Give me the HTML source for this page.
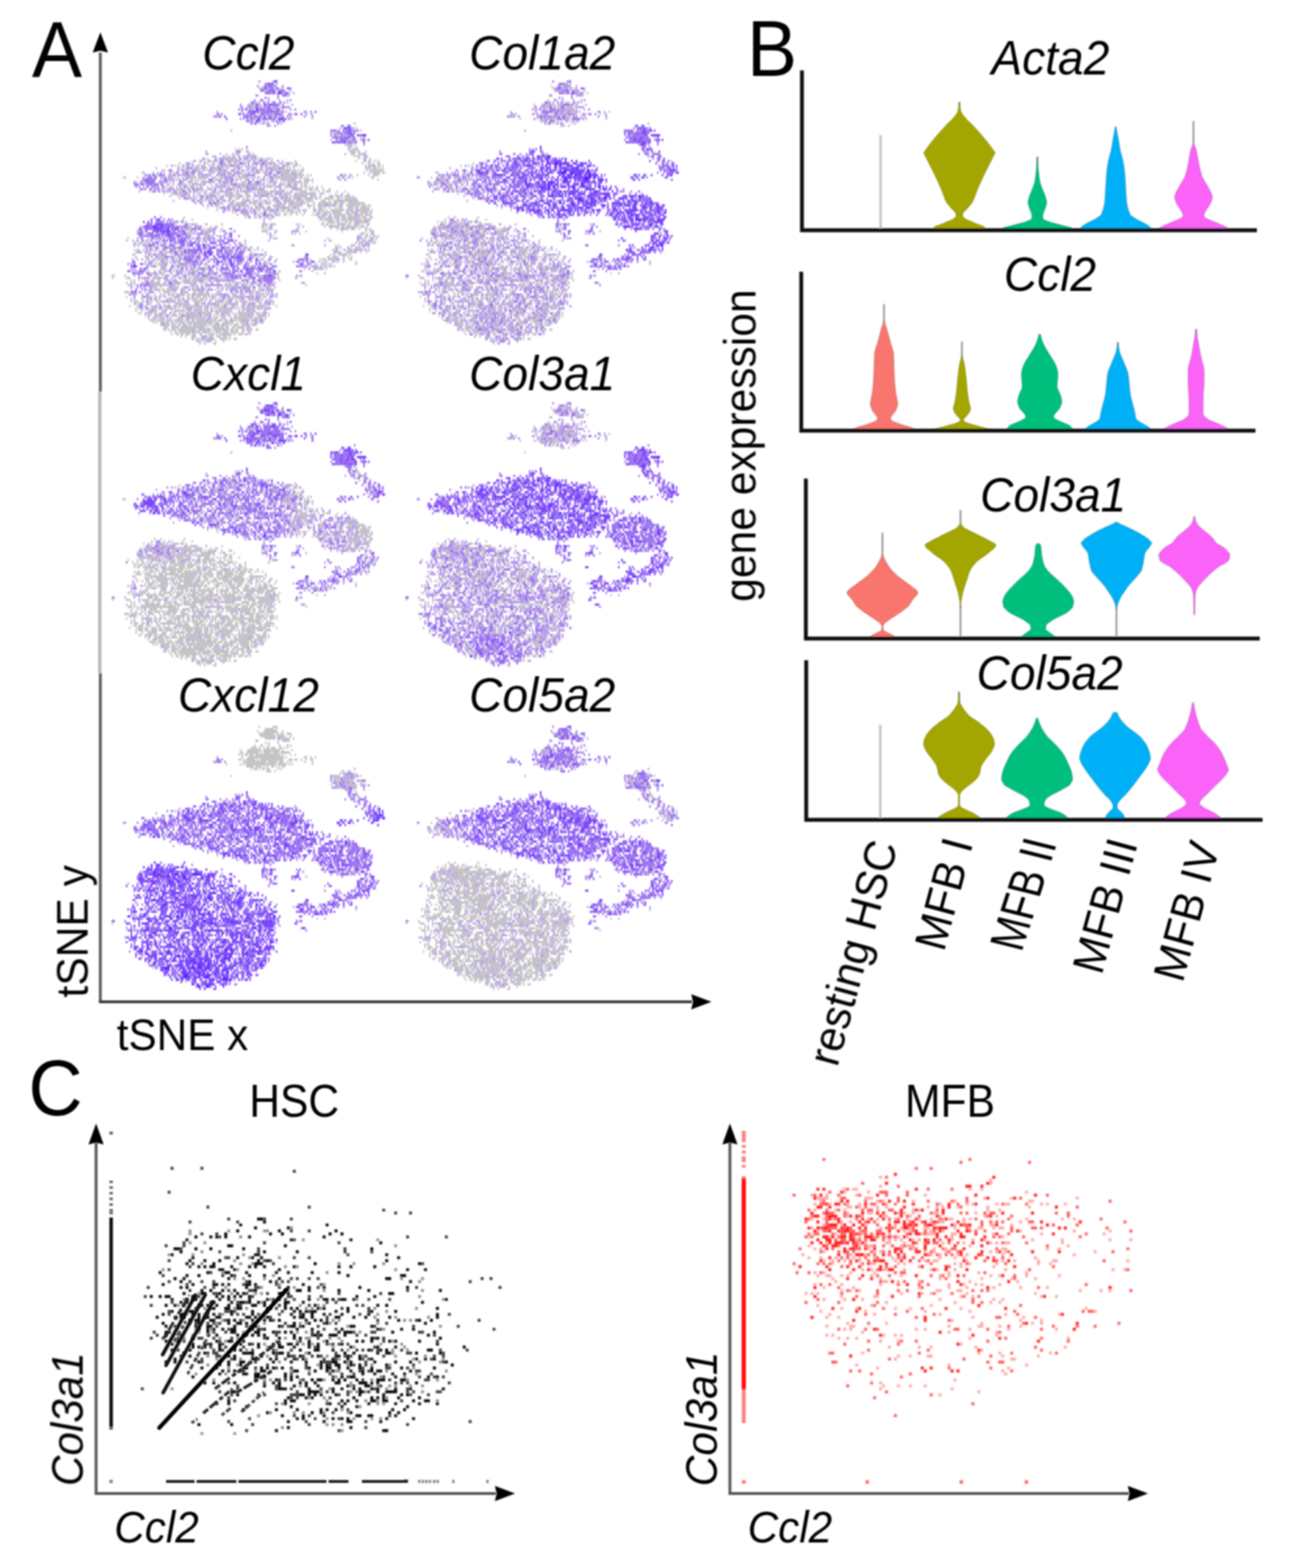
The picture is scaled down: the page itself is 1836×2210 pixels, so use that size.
<!DOCTYPE html>
<html lang="en">
<head>
<meta charset="utf-8">
<title>Figure: tSNE, violin and scatter plots</title>
<style>
html,body{margin:0;padding:0;background:#fff}
body{width:1836px;height:2210px;overflow:hidden}
svg{display:block}
text{font-family:'Liberation Sans', sans-serif;fill:#000}
.pts path{fill:none;stroke-width:1;stroke-linecap:butt}
</style>
</head>
<body>
<svg width="1836" height="2210" viewBox="0 0 1836 2210">
<defs><filter id="b1" x="-5%" y="-5%" width="110%" height="110%"><feGaussianBlur stdDeviation="1.3"/></filter><filter id="b3" x="-5%" y="-5%" width="110%" height="110%"><feGaussianBlur stdDeviation="1.1"/></filter><filter id="b2" x="-5%" y="-5%" width="110%" height="110%"><feGaussianBlur stdDeviation="0.9"/></filter></defs>
<rect width="1836" height="2210" fill="#fff"/>
<g id="panelA">
<g class="pts" filter="url(#b1)">
<g transform="translate(141.1 90) scale(2.2 3.3)">
<path stroke="#c4c4c4" d="M8 90v2M9 90v1M15 48v1M16 48v1m0 48v1M17 91v1m0 1v1m0 3v1m0 1v1M18 74v1m0 19v1M19 91v1m0 2v1m0 8v1M20 92v1m0 3v1m0 1v1m0 2v1M21 81v1M22 79v1m0 1v1m0 10v1m0 1v1m0 6v2M23 50v1m0 25v1m0 3v1m0 20v1m0 2v2M24 48v1m0 28v1m0 23v1m0 1v1M25 76v2m0 1v2m0 11v1m0 9v1m0 1v1m0 1v1M26 76v1m0 29v1M27 46v1m0 54v1m0 3v1M28 50v1m0 2v1m0 18v1m0 18v1m0 9v1M29 77v2m0 2v2m0 5v1m0 8v1m0 6v1m0 2v1M30 47v1m0 29v1m0 5v1m0 7v2m0 10v1m0 2v1M31 80v1m0 1v1m0 1v1m0 3v1m0 3v1m0 4v1m0 1v2m0 1v1m0 2v1M32 75v2m0 16v1m0 2v1m0 9v2m0 1v1M33 78v2m0 1v1m0 7v1m0 9v1m0 3v1m0 5v1M34 79v1m0 1v1m0 2v1m0 4v1m0 1v1m0 1v1m0 1v1m0 7v1m0 5v2M35 74v1m0 3v1m0 1v1m0 4v1m0 4v1m0 2v4m0 1v2m0 3v7M36 47v1m0 4v2m0 30v1m0 1v1m0 3v2m0 1v3m0 3v1m0 1v1m0 3v2M37 47v1m0 6v1m0 26v1m0 3v1m0 4v3m0 8v2m0 4v1M38 79v1m0 2v2m0 1v1m0 6v3m0 1v2m0 4v1m0 3v1m0 1v2M39 76v1m0 4v3m0 1v1m0 1v3m0 1v1m0 2v2m0 3v1m0 1v1m0 4v1m0 1v3M40 54v1m0 23v1m0 1v1m0 1v1m0 2v2m0 2v2m0 5v1m0 7v1m0 2v3M41 45v2m0 1v1m0 6v1m0 11v1m0 15v2m0 4v1m0 4v1m0 1v2m0 3v3m0 1v2m0 2v2m0 1v1M42 79v1m0 3v2m0 2v2m0 4v2m0 2v1m0 1v1m0 6v1m0 3v4M43 43v1m0 7v2m0 21v1m0 5v1m0 3v1m0 3v1m0 8v1m0 5v2m0 5v2M44 49v1m0 4v1m0 22v1m0 2v1m0 9v1m0 1v1m0 1v4m0 2v1m0 1v1m0 1v1m0 2v1m0 1v2m0 2v1M45 47v2m0 3v1m0 29v1m0 6v1m0 6v2m0 1v3m0 1v2m0 4v1m0 4v1M46 47v1m0 1v1m0 2v1m0 2v1m0 22v1m0 2v1m0 7v1m0 15v1m0 1v1m0 1v1m0 1v3m0 1v1M47 46v1m0 8v1m0 24v1m0 1v1m0 5v1m0 6v1m0 1v3m0 3v1m0 2v1m0 3v4M48 43v1m0 4v1m0 18v2m0 8v1m0 4v1m0 4v1m0 3v2m0 1v1m0 2v1m0 2v1m0 1v1m0 3v2m0 3v1m0 1v2M49 52v2m0 24v1m0 5v1m0 1v1m0 3v1m0 2v1m0 1v1m0 2v1m0 4v1m0 1v1m0 1v1m0 1v1m0 2v1m0 1v2M50 43v1m0 4v1m0 4v1m0 1v2m0 10v1m0 11v2m0 3v2m0 2v1m0 6v1m0 4v1m0 1v1m0 1v2m0 2v1m0 2v3m0 1v1M51 42v1m0 1v1m0 2v1m0 5v1m0 1v1m0 1v1m0 16v1m0 2v1m0 3v1m0 4v1m0 2v1m0 3v1m0 4v4m0 3v1m0 1v3m0 3v2M52 45v1m0 1v1m0 3v2m0 1v2m0 27v1m0 2v1m0 6v1m0 7v2m0 2v1m0 2v1m0 1v1m0 1v5M53 48v1m0 6v1m0 24v1m0 2v1m0 8v1m0 2v1m0 1v1m0 1v1m0 2v5m0 1v4m0 1v3M54 43v1m0 1v2m0 4v1m0 1v1m0 11v1m0 2v1m0 1v1m0 10v1m0 2v1m0 1v1m0 2v1m0 2v1m0 3v3m0 1v1m0 1v2m0 1v1m0 4v5M55 42v1m0 1v2m0 5v1m0 4v1m0 10v1m0 3v1m0 6v1m0 2v1m0 10v2m0 8v1m0 3v4m0 3v4M56 45v1m0 3v1m0 2v2m0 18v1m0 12v2m0 2v1m0 7v4m0 2v3m0 4v1m0 1v3M57 43v1m0 2v1m0 4v1m0 3v1m0 1v1m0 12v3m0 2v1m0 15v1m0 1v1m0 1v1m0 2v2m0 2v2m0 1v2m0 2v2m0 1v4M58 46v2m0 1v2m0 17v3m0 14v1m0 5v1m0 11v1m0 2v3m0 2v4M59 47v2m0 1v1m0 6v1m0 8v1m0 1v1m0 5v1m0 15v1m0 1v3m0 1v1m0 6v1m0 5v2m0 1v4M60 43v1m0 4v1m0 3v1m0 4v1m0 29v2m0 1v1m0 1v2m0 1v3m0 1v3m0 1v1m0 1v4m0 1v1m0 1v1m0 2v3M61 46v1m0 2v3m0 1v1m0 14v1m0 18v2m0 1v3m0 1v1m0 1v1m0 1v1m0 1v2m0 1v1m0 2v3m0 1v7M62 43v2m0 5v1m0 1v1m0 1v1m0 3v1m0 9v1m0 1v1m0 4v1m0 20v1m0 1v1m0 1v2m0 1v4m0 1v4m0 2v1m0 2v2M63 45v1m0 2v1m0 2v1m0 2v1m0 30v2m0 1v1m0 2v1m0 3v1m0 1v3m0 1v1m0 2v1m0 2v3m0 1v4m0 3v1M64 42v1m0 2v1m0 1v1m0 4v1m0 2v1m0 1v2m0 14v1m0 12v1m0 6v1m0 3v1m0 1v3m0 1v3m0 2v4m0 1v2m0 4v1M65 43v1m0 3v5m0 1v1m0 15v2m0 17v1m0 2v1m0 1v2m0 1v1m0 1v1m0 1v5m0 1v1m0 1v5m0 2v2M66 51v1m0 1v1m0 3v1m0 13v1m0 3v1m0 8v1m0 7v2m0 3v1m0 1v1m0 8v6m0 4v1M67 40v2m0 1v1m0 1v1m0 1v1m0 7v1m0 14v1m0 1v1m0 12v2m0 4v2m0 1v1m0 1v1m0 1v2m0 3v1m0 1v2m0 2v5m0 3v1M68 44v1m0 3v1m0 1v1m0 3v2m0 15v1m0 1v2m0 2v1m0 9v1m0 1v1m0 1v1m0 5v3m0 4v4m0 2v2m0 1v3M69 40v3m0 4v2m0 3v1m0 5v1m0 2v1m0 8v1m0 1v2m0 13v1m0 2v3m0 12v3m0 2v1m0 1v3m0 2v2M70 45v1m0 7v1m0 1v4m0 11v1m0 1v1m0 18v1m0 6v1m0 10v3m0 2v1m0 1v1M71 41v1m0 4v2m0 3v1m0 5v1m0 11v1m0 4v1m0 14v2m0 9v3m0 1v1m0 1v2m0 1v3m0 1v1m0 1v2m0 1v1M72 39v1m0 5v1m0 4v1m0 4v1m0 1v3m0 10v2m0 11v1m0 3v1m0 2v1m0 13v1m0 4v1m0 2v1m0 1v3M73 39v1m0 2v3m0 1v1m0 1v1m0 4v1m0 4v1m0 40v1m0 3v1m0 3v3m0 2v2m0 1v1m0 1v1m0 1v1M74 44v2m0 2v1m0 2v1m0 30v1m0 9v1m0 3v1m0 2v3m0 1v4m0 1v5m0 1v1m0 3v2M75 43v3m0 3v1m0 2v1m0 2v1m0 1v1m0 1v4m0 6v1m0 18v1m0 4v1m0 1v1m0 1v2m0 2v3m0 1v1m0 1v2m0 1v1m0 1v3m0 1v1M76 40v1m0 1v2m0 3v1m0 2v1m0 3v3m0 2v2m0 30v1m0 4v2m0 3v1m0 3v2m0 2v2m0 1v3m0 1v1M77 43v1m0 4v1m0 2v4m0 4v1m0 11v1m0 27v1m0 4v1m0 2v1m0 4v4m0 1v1M78 44v1m0 1v1m0 1v2m0 8v1m0 33v1m0 2v1m0 3v1m0 2v4m0 2v2m0 2v2m0 1v1M79 43v3m0 2v1m0 2v2m0 1v1m0 2v2m0 1v1m0 29v1m0 4v1m0 5v1m0 1v3m0 1v2m0 1v1m0 1v1m0 1v5M80 39v2m0 2v1m0 2v1m0 7v2m0 36v1m0 7v1m0 4v3m0 1v3m0 1v5M81 38v1m0 2v1m0 2v3m0 4v1m0 27v1m0 3v1m0 9v3m0 3v1m0 1v4m0 5v2m0 1v2m0 1v2M82 39v2m0 1v1m0 8v1m0 3v2m0 1v1m0 20v1m0 4v1m0 1v1m0 7v1m0 5v3m0 2v3m0 2v6M83 39v2m0 1v1m0 4v1m0 1v2m0 1v1m0 1v3m0 2v1m0 2v1m0 15v1m0 12v1m0 3v2m0 7v1m0 1v2m0 1v2m0 4v3M84 41v2m0 2v3m0 6v1m0 2v1m0 2v1m0 33v2m0 6v2m0 1v1m0 4v2m0 2v2M85 39v1m0 1v1m0 8v1m0 1v2m0 1v2m0 3v1m0 2v1m0 16v1m0 16v4m0 1v1m0 1v1m0 1v1m0 2v2m0 1v3M86 40v2m0 1v2m0 7v3m0 3v1m0 1v1m0 1v1m0 31v1m0 12v3m0 1v1m0 2v1m0 2v1M87 36v2m0 5v1m0 4v1m0 1v1m0 4v1m0 1v1m0 1v3m0 1v1m0 34v4m0 4v1m0 1v2m0 1v1m0 1v2M88 38v1m0 5v1m0 2v1m0 1v1m0 2v1m0 2v1m0 1v1m0 35v1m0 1v2m0 4v3m0 4v1m0 1v5M89 36v1m0 1v1m0 1v2m0 3v1m0 5v1m0 3v3m0 1v1m0 17v1m0 13v1m0 1v1m0 5v2m0 3v1m0 2v3m0 2v1m0 2v1M90 37v1m0 3v1m0 6v1m0 2v2m0 6v5m0 12v1m0 16v1m0 6v2m0 4v5m0 1v1m0 2v1M91 46v3m0 1v1m0 1v1m0 1v1m0 1v1m0 1v1m0 20v1m0 15v1m0 2v1m0 2v2m0 1v5m0 1v2m0 1v3M92 40v1m0 1v1m0 4v2m0 1v1m0 1v3m0 3v1m0 1v1m0 3v1m0 17v1m0 13v1m0 2v1m0 5v4m0 1v5M93 39v1m0 6v1m0 2v4m0 2v1m0 2v1m0 1v2m0 3v1m0 10v1m0 1v1m0 15v1m0 6v1m0 2v1m0 1v3m0 1v2m0 3v1M94 36v1m0 4v1m0 3v1m0 2v2m0 1v1m0 2v2m0 1v1m0 6v1m0 17v1m0 7v1m0 3v1m0 4v1m0 1v1m0 1v2m0 1v4m0 2v1M95 37v1m0 2v2m0 2v2m0 2v1m0 6v4m0 1v1m0 32v1m0 3v1m0 2v1m0 5v1m0 1v1m0 1v1m0 2v1M96 23v1m0 15v1m0 6v1m0 5v1m0 1v1m0 7v1m0 15v1m0 15v1m0 3v2m0 1v1m0 1v2m0 1v1m0 1v1m0 3v4M97 19v1m0 23v1m0 7v1m0 7v1m0 2v1m0 18v1m0 2v1m0 9v1m0 2v1m0 1v1m0 3v1m0 1v1m0 1v1m0 1v3M98 18v1m0 3v1m0 16v3m0 1v1m0 2v1m0 10v2m0 3v1m0 18v1m0 14v1m0 1v1m0 1v1m0 4v1m0 1v1m0 3v1M99 16v2m0 22v1m0 5v1m0 3v3m0 1v1m0 3v3m0 4v1m0 13v1m0 16v1m0 3v1m0 2v2m0 3v2M100 23v1m0 15v1m0 4v1m0 1v1m0 6v1m0 5v2m0 4v1m0 27v1m0 9v1m0 2v1m0 1v1m0 1v2m0 1v1M101 21v1m0 19v1m0 3v1m0 3v1m0 3v1m0 2v1m0 1v1m0 2v2m0 1v1m0 14v1m0 1v1m0 15v2m0 2v1m0 1v1m0 2v3m0 4v1M102 10v1m0 6v1m0 7v1m0 14v1m0 1v1m0 3v1m0 1v1m0 2v6m0 4v2m0 19v1m0 7v1m0 4v1m0 5v4m0 1v3M103 17v1m0 5v1m0 16v1m0 1v1m0 2v1m0 3v2m0 1v1m0 1v1m0 2v1m0 1v3m0 1v1m0 19v1m0 6v1m0 3v1m0 1v1m0 1v2m0 1v1m0 1v1M104 22v1m0 21v1m0 6v1m0 2v2m0 3v3m0 6v1m0 1v2m0 7v1m0 10v1m0 1v2m0 3v2m0 5v1m0 2v3M105 41v1m0 8v1m0 2v1m0 1v2m0 8v1m0 3v1m0 1v1m0 12v1m0 13v2m0 2v2m0 1v2m0 2v1M106 40v1m0 1v1m0 1v3m0 7v1m0 3v1m0 3v1m0 2v1m0 2v1m0 1v2m0 25v1m0 1v1m0 2v2m0 3v1M107 24v1m0 1v1m0 14v3m0 3v1m0 6v1m0 3v1m0 2v2m0 5v2m0 1v2m0 12v1m0 3v1m0 10v1M108 10v1m0 35v1m0 1v1m0 1v1m0 1v1m0 3v1m0 2v2m0 1v1m0 7v1m0 25v1m0 4v1m0 1v1m0 2v2M109 21v1m0 4v1m0 16v1m0 5v1m0 1v2m0 1v2m0 2v2m0 2v1m0 1v1m0 3v1m0 26v1m0 2v1M110 16v1m0 7v1m0 15v1m0 9v1m0 4v1m0 14v1m0 2v1m0 8v1m0 2v1m0 3v1m0 4v1m0 4v1m0 1v1M111 21v2m0 19v2m0 1v1m0 2v1m0 1v1m0 3v1m0 2v2m0 4v1m0 4v1m0 5v1m0 12v1m0 4v1m0 3v1m0 4v1M112 19v1m0 24v1m0 3v1m0 3v1m0 2v1m0 2v1m0 1v3m0 1v1m0 6v2m0 1v1M113 9v1m0 33v3m0 1v4m0 1v1m0 1v1m0 5v2m0 27v1m0 13v1M114 44v1m0 2v1m0 9v1m0 1v1m0 4v1m0 24v2M115 20v1m0 21v1m0 2v1m0 7v3m0 2v1m0 1v2m0 1v2m0 27v1M116 10v1m0 7v1m0 3v1m0 19v1m0 2v2m0 1v3m0 1v1m0 3v1m0 3v3M117 21v1m0 20v1m0 2v2m0 2v1m0 1v1m0 8v1m0 1v1M118 44v5m0 1v1m0 2v2m0 1v2m0 4v3M119 42v2m0 1v3m0 1v1m0 5v1m0 2v2m0 4v1M120 13v1m0 29v2m0 2v6m0 1v1m0 1v2m0 3v3M121 43v1m0 2v3m0 1v1m0 1v1m0 2v1m0 1v1m0 1v2M122 42v1m0 1v2m0 3v2m0 3v2m0 1v2m0 1v1m0 1v3M123 21v1m0 20v1m0 4v2m0 1v1m0 2v2m0 3v1m0 1v2m0 1v1M124 43v2m0 1v1m0 1v1m0 1v3m0 3v5m0 2v1M125 41v3m0 1v2m0 2v2m0 6v1m0 1v2m0 1v1m0 9v1m0 18v1M126 43v1m0 2v2m0 2v3m0 1v3m0 1v4m0 2v1M127 45v1m0 1v1m0 7v1m0 3v3m0 8v2M128 43v1m0 3v4m0 2v4m0 1v3m0 1v2m0 4v1m0 3v1M129 45v3m0 2v1m0 2v2m0 1v3m0 34v1M130 44v1m0 2v1m0 6v2m0 3v1m0 2v1m0 1v1M131 48v5m0 1v4m0 1v1m0 2v1m0 19v1m0 10v1M132 49v7m0 1v2m0 3v1m0 8v1m0 22v1M133 47v2m0 6v1m0 2v2m0 26v1M134 49v1m0 2v2m0 3v2m0 1v2M135 21v1m0 25v1m0 6v2m0 2v1m0 1v1m0 22v1m0 2v1M136 21v1m0 1v1m0 26v1m0 1v2m0 2v3m0 5v1m0 21v1M137 54v3m0 3v1m0 2v1m0 23v1M138 53v1m0 1v1m0 1v1m0 6v1m0 21v1M139 52v1m0 4v1m0 5v2m0 22v1m0 1v1M140 54v1m0 4v1m0 1v2m0 21v1m0 2v1M141 55v1m0 1v1m0 1v3m0 1v1m0 1v1m0 17v1m0 2v1M142 52v1m0 2v1m0 2v3m0 1v1m0 1v1m0 1v1m0 1v1m0 15v3M143 53v3m0 2v3m0 1v2m0 1v1m0 1v2m0 16v1m0 1v1M144 57v3m0 1v1m0 1v3m0 3v1m0 13v3M145 54v1m0 2v1m0 4v3m0 1v1m0 1v1m0 15v1m0 1v2M146 54v1m0 2v1m0 1v1m0 3v1m0 1v4m0 5v1m0 7v2M147 56v6m0 1v2m0 2v1m0 14v2M148 32v1m0 24v1m0 1v2m0 1v1m0 1v1m0 1v2m0 2v1m0 4v1m0 5v1m0 4v1M149 56v2m0 4v2m0 2v2m0 1v1m0 9v1m0 2v3M150 58v1m0 3v1m0 1v2m0 1v3m0 9v1m0 2v2M151 29v1m0 25v2m0 1v9m0 2v1m0 7v1m0 1v2m0 2v1M152 28v1m0 25v1m0 1v4m0 2v1m0 1v3m0 1v1m0 13v1M153 30v1m0 1v1m0 23v1m0 1v1m0 1v10m0 7v1m0 2v2M154 49v1m0 6v1m0 4v3m0 4v1m0 1v1m0 10v1M155 48v1m0 7v2m0 1v4m0 1v6m0 1v1m0 9v1M156 26v1m0 2v1m0 28v2m0 2v1m0 1v3m0 12v1m0 4v1M157 34v1m0 19v1m0 1v3m0 5v5m0 1v1M158 33v2m0 21v3m0 1v1m0 1v1m0 3v2m0 2v1m0 9v2M159 34v1m0 1v1m0 19v7m0 2v2m0 1v3m0 9v1m0 1v1M160 35v3m0 10v1m0 7v2m0 1v2m0 1v1m0 1v1m0 1v4m0 9v3m0 1v1M161 31v2m0 2v1m0 1v2m0 8v1m0 9v1m0 1v1m0 1v2m0 1v4m0 1v1m0 7v2m0 1v1m0 1v2M162 37v2m0 9v1m0 7v1m0 1v1m0 1v4m0 1v2m0 2v1m0 10v1M163 34v1m0 1v4m0 17v4m0 2v1m0 3v4m0 6v1m0 2v1M164 27v2m0 3v1m0 2v2m0 4v1m0 15v1m0 1v2m0 4v2m0 2v1m0 9v1m0 4v1M165 36v2m0 9v1m0 10v4m0 1v4m0 1v2m0 8v2M166 37v1m0 1v2m0 18v2m0 1v1m0 1v1m0 1v3m0 1v1m0 2v1m0 1v2m0 1v1M167 28v1m0 3v1m0 5v1m0 20v1m0 1v4m0 1v1m0 5v1m0 1v1m0 1v1m0 1v3M168 38v1m0 3v1m0 16v7m0 1v3m0 4v1m0 4v1M169 39v3m0 4v1m0 12v2m0 1v2m0 1v3m0 1v1m0 2v1m0 2v1M170 32v1m0 4v2m0 5v1m0 15v5m0 1v1m0 3v2m0 1v1m0 1v1M171 44v2m0 15v2m0 1v1m0 1v1m0 1v3m0 1v1m0 4v1m0 2v1M172 41v2m0 1v1m0 2v1m0 12v2m0 2v1m0 1v2m0 10v1M173 40v6m0 14v1m0 2v4m0 4v1m0 1v4M174 43v1m0 1v1m0 2v1m0 13v2m0 7v1M175 42v1m0 1v4m0 23v1m0 1v2M176 41v1m0 2v4m0 25v1m0 1v2M177 44v4M178 41v3m0 1v3m0 1v1M179 42v5M180 45v1M181 43v4M182 46v1"/>
<path stroke="#baa3e4" d="M16 90v1M17 75v1M18 91v1m0 5v1M20 93v2m0 5v1M21 75v1m0 7v1m0 14v1M22 76v1m0 13v1m0 2v1m0 4v1m0 1v1M23 82v1m0 6v1m0 8v1m0 3v1M24 71v2m0 1v1m0 4v2m0 2v1M25 54v1m0 16v1m0 1v1m0 23v1m0 5v1M26 69v1m0 4v1m0 14v1m0 7v1m0 6v1M27 49v2m0 19v1m0 5v1m0 6v1m0 10v1m0 3v3m0 1v1m0 1v1M28 46v1m0 5v1m0 20v1m0 1v1m0 3v1m0 15v1M29 76v1m0 3v1m0 3v2m0 6v2m0 1v1m0 3v1m0 3v1m0 2v1M30 48v1m0 23v1m0 7v1m0 1v1m0 16v2m0 1v1M31 47v1m0 4v1m0 20v2m0 1v1m0 4v1m0 1v1m0 2v1m0 3v1m0 5v1m0 1v1m0 2v1m0 2v1m0 1v3M32 54v1m0 25v2m0 2v2m0 3v2m0 3v1m0 4v2m0 1v1m0 2v1M33 52v1m0 29v1m0 2v2m0 3v1m0 1v4m0 1v1m0 2v2m0 2v3M34 46v1m0 4v1m0 31v1m0 2v1m0 5v1m0 1v1m0 2v1m0 6v2m0 2v1M35 47v1m0 2v1m0 1v1m0 23v2m0 5v1m0 4v2m0 1v1m0 8v1M36 44v1m0 29v2m0 5v1m0 14v1m0 3v1m0 3v1m0 2v2m0 1v1M37 46v1m0 27v1m0 2v1m0 4v2m0 9v2m0 1v1m0 12v1M38 53v1m0 18v1m0 1v1m0 5v2m0 6v2m0 9v2m0 2v1m0 3v1M39 48v3m0 33v1m0 1v1m0 11v1m0 4v2m0 2v1m0 3v1M40 45v1m0 1v2m0 1v1m0 26v1m0 1v1m0 3v1m0 3v1m0 6v1m0 6v1m0 3v2m0 3v2M41 50v1m0 1v1m0 28v2m0 2v4m0 4v1m0 4v2m0 8v1m0 2v1m0 1v1M42 53v1m0 18v1m0 2v3m0 2v2m0 3v2m0 3v3m0 10v2m0 2v1M43 49v2m0 32v1m0 1v1m0 5v2m0 1v1m0 1v1m0 3v2m0 6v2m0 2v1M44 45v1m0 1v1m0 3v1m0 26v1m0 3v1m0 5v1m0 12v1m0 9v1M45 49v2m0 2v2m0 1v1m0 21v1m0 1v1m0 3v1m0 7v1m0 1v2m0 12v1M46 45v1m0 7v1m0 17v1m0 8v1m0 2v1m0 1v1m0 1v1m0 3v1m0 3v2m0 1v1m0 1v2m0 8v1M47 47v1m0 2v2m0 2v1m0 3v1m0 16v2m0 2v1m0 10v1m0 3v1m0 1v1m0 4v1m0 5v1M48 55v1m0 13v1m0 14v2m0 4v1m0 4v2m0 2v1m0 1v1m0 1v3m0 3v1m0 2v1M49 49v1m0 4v2m0 20v1m0 6v1m0 5v1m0 2v1m0 3v1m0 2v1m0 2v1m0 7v1M50 44v1m0 1v1m0 4v1m0 20v1m0 3v1m0 4v2m0 4v1m0 2v1m0 3v1m0 3v2m0 1v1m0 7v1M51 52v1m0 1v1m0 14v1m0 2v1m0 6v1m0 2v1m0 2v1m0 2v1m0 13v1m0 3v1m0 3v2M52 53v1m0 13v1m0 3v3m0 5v1m0 2v1m0 5v1m0 2v1m0 4v1m0 1v1m0 8v1m0 1v1M53 43v2m0 1v2m0 1v3m0 1v1m0 2v1m0 9v1m0 2v2m0 3v1m0 3v1m0 2v1m0 4v1m0 1v1m0 1v1m0 5v1m0 1v1m0 13v1M54 47v1m0 1v1m0 5v2m0 28v1m0 4v2m0 1v1m0 1v1m0 5v1m0 5v1M55 47v3m0 2v1m0 1v1m0 2v1m0 12v1m0 3v1m0 4v1m0 4v1m0 1v3m0 2v1m0 5v1m0 3v1m0 1v2m0 6v2M56 42v1m0 5v1m0 6v1m0 13v1m0 3v2m0 4v4m0 4v1m0 4v2m0 1v1m0 6v1m0 3v4m0 5v1M57 44v2m0 1v2m0 5v1m0 14v1m0 6v3m0 2v1m0 3v1m0 3v2m0 1v1m0 7v1m0 6v2m0 2v1M58 48v1m0 3v1m0 1v1m0 2v1m0 13v3m0 6v3m0 4v1m0 1v1m0 3v2m0 9v2m0 4v1M59 42v4m0 3v1m0 1v3m0 4v1m0 12v1m0 12v1m0 2v1m0 7v1m0 2v3m0 3v1m0 1v3m0 7v2M60 41v1m0 5v1m0 3v1m0 2v3m0 11v1m0 5v1m0 6v1m0 7v1m0 1v1m0 2v1m0 3v1m0 10v1m0 1v1m0 1v2M61 41v1m0 3v1m0 2v1m0 5v1m0 2v1m0 17v1m0 9v1m0 3v1m0 7v1m0 4v1m0 1v2M62 45v1m0 5v1m0 4v1m0 12v1m0 2v1m0 5v1m0 4v1m0 4v1m0 1v3m0 1v1m0 4v1m0 2v1m0 4v1m0 4v1M63 43v2m0 1v2m0 1v1m0 3v1m0 1v1m0 13v1m0 2v1m0 1v2m0 7v2m0 7v1m0 9v2m0 1v2m0 3v1m0 6v1M64 41v1m0 4v1m0 1v1m0 2v1m0 1v1m0 2v1m0 2v1m0 9v1m0 2v1m0 1v2m0 5v1m0 1v1m0 3v1m0 3v2m0 3v1m0 1v1m0 7v2m0 4v1m0 2v1m0 2v1M65 41v1m0 2v1m0 1v1m0 5v1m0 1v1m0 1v1m0 1v1m0 26v1m0 3v2m0 6v1m0 7v1m0 1v1m0 5v1m0 3v1M66 43v3m0 2v1m0 1v1m0 9v1m0 11v1m0 1v1m0 1v1m0 11v1m0 2v1m0 3v1m0 2v1m0 1v1m0 1v1m0 3v1m0 7v1m0 1v2M67 44v1m0 3v3m0 3v1m0 3v1m0 12v1m0 1v3m0 11v2m0 12v2m0 1v1m0 2v2m0 5v1m0 1v1m0 2v1M68 37v2m0 17v1m0 18v2m0 16v3m0 4v1m0 2v1m0 5v1m0 6v3M69 38v1m0 6v1m0 4v1m0 2v1m0 2v2m0 2v1m0 10v1m0 2v1m0 2v1m0 5v2m0 1v1m0 2v1m0 6v3m0 3v3m0 3v2M70 41v1m0 1v1m0 2v2m0 2v1m0 20v1m0 12v1m0 5v1m0 1v1m0 1v3m0 2v1m0 1v2m0 3v3m0 4v1m0 1v1m0 1v2M71 50v1m0 4v1m0 2v1m0 1v1m0 9v2m0 3v1m0 12v1m0 3v3m0 1v1m0 6v1m0 1v1m0 2v1m0 8v1M72 42v3m0 1v1m0 1v1m0 3v1m0 1v1m0 1v1m0 3v1m0 13v1m0 6v1m0 7v1m0 3v1m0 2v1m0 1v1m0 1v1m0 1v1m0 2v1m0 4v1m0 6v1M73 41v1m0 3v1m0 4v1m0 3v3m0 20v1m0 5v1m0 7v2m0 1v1m0 7v1m0 8v1M74 22v1m0 16v1m0 1v1m0 7v1m0 2v1m0 1v1m0 1v2m0 2v1m0 8v2m0 14v1m0 4v2m0 2v1m0 3v1m0 3v1m0 10v1M75 20v1m0 1v1m0 18v1m0 9v1m0 21v1m0 1v1m0 10v2m0 1v1m0 1v1m0 2v1m0 11v1m0 4v1m0 3v1M76 22v1m0 22v1m0 3v1m0 30v1m0 4v1m0 4v1m0 1v2m0 1v1m0 2v1m0 1v1m0 1v3m0 6v1M77 38v1m0 1v1m0 4v3m0 1v1m0 11v1m0 13v1m0 11v2m0 5v1m0 2v2m0 6v1m0 3v1m0 6v1M78 40v1m0 4v1m0 1v1m0 3v3m0 2v2m0 1v1m0 1v1m0 6v1m0 1v1m0 18v1m0 1v1m0 2v1m0 3v1m0 1v2m0 4v2m0 3v1m0 5v1M79 39v4m0 3v2m0 8v1m0 5v2m0 9v1m0 24v1m0 1v1m0 5v1m0 4v1m0 1v1M80 42v1m0 5v4m0 9v1m0 9v3m0 3v2m0 2v1m0 6v1m0 1v2m0 2v1m0 4v1m0 2v1m0 1v1m0 3v1M81 49v2m0 2v4m0 4v1m0 10v1m0 5v1m0 2v1m0 6v1m0 2v2m0 5v1m0 6v2m0 2v1m0 2v1m0 2v1M82 41v1m0 2v1m0 1v5m0 1v3m0 5v1m0 1v1m0 27v1m0 4v1m0 2v2m0 4v1M83 46v1m0 6v1m0 4v1m0 1v2m0 8v1m0 6v1m0 2v1m0 11v3m0 4v2m0 1v1m0 2v1M84 28v1m0 11v1m0 2v1m0 4v1m0 7v1m0 2v1m0 19v1m0 1v1m0 7v1m0 2v1m0 7v2m0 2v1m0 3v2m0 3v1M85 38v1m0 1v1m0 6v2m0 2v1m0 6v2m0 1v2m0 16v1m0 12v2m0 2v1m0 6v1M86 39v1m0 2v1m0 2v2m0 9v1m0 21v1m0 6v1m0 4v1m0 1v1m0 2v2m0 1v2m0 2v2m0 8v1m0 2v1M87 38v1m0 1v3m0 1v1m0 1v1m0 2v1m0 2v1m0 26v1m0 1v1m0 1v1m0 2v1m0 7v2m0 1v1m0 4v1m0 1v1m0 2v1m0 9v1M88 41v1m0 3v1m0 5v1m0 1v1m0 2v1m0 2v2m0 3v1M89 42v2m0 2v3m0 11v1m0 1v1m0 13v1m0 8v1m0 1v1m0 1v2m0 14v2M90 18v1m0 25v1m0 1v1m0 2v1m0 4v1m0 23v1m0 6v1m0 9v2m0 1v2M91 36v1m0 6v1m0 1v1m0 5v1m0 7v2m0 1v1m0 33v2m0 1v2m0 2v1m0 5v1m0 2v1M92 39v1m0 1v1m0 3v1m0 5v1m0 5v1m0 1v1m0 1v1m0 1v1m0 15v1m0 12v3m0 3v1m0 1v5m0 4v1M93 42v2m0 3v2m0 10v1m0 2v3m0 10v1m0 1v1m0 1v1m0 11v2m0 3v2m0 1v1m0 2v1m0 6v1M94 18v1m0 18v1m0 1v2m0 3v1m0 2v1m0 5v1m0 2v1m0 3v1m0 1v2m0 14v1m0 6v2m0 6v1m0 1v3m0 7v1m0 4v2m0 1v1m0 1v1M95 17v2m0 2v3m0 14v2m0 6v1m0 4v2m0 1v1m0 6v1m0 1v3m0 20v1m0 3v3m0 2v1m0 6v4m0 1v1m0 1v1m0 1v2m0 1v1M96 17v2m0 5v1m0 13v1m0 2v1m0 2v1m0 2v1m0 5v1m0 2v1m0 1v2m0 19v1m0 4v1m0 6v1m0 3v2m0 3v1m0 1v1m0 2v1m0 1v1M97 17v2m0 20v1m0 5v1m0 1v2m0 1v1m0 1v3m0 23v1m0 1v1m0 1v1m0 15v1m0 1v1m0 1v1m0 1v1m0 1v1m0 1v1m0 4v1M98 17v1m0 5v2m0 13v1m0 3v1m0 8v2m0 6v1m0 26v1m0 3v1m0 2v3m0 1v1m0 3v4m0 1v1m0 2v1M99 18v1m0 4v1m0 17v2m0 1v1m0 2v2m0 4v1m0 2v1m0 30v1m0 4v1m0 9v1m0 2v1m0 4v2M100 16v1m0 23v1m0 2v1m0 7v2m0 3v1m0 1v1m0 4v1m0 18v1m0 4v1m0 2v1m0 6v2m0 1v2M101 13v1m0 8v1m0 19v1m0 5v1m0 5v2m0 22v1m0 9v1m0 10v2m0 9v1M102 16v1m0 3v1m0 20v1m0 3v1m0 11v1m0 6v2m0 15v1m0 4v1m0 6v2m0 1v5m0 8v1M103 10v1m0 9v1m0 3v1m0 18v2m0 6v1m0 3v2m0 1v1m0 6v1m0 15v1m0 4v1m0 4v1m0 3v1m0 6v1m0 1v1m0 2v2m0 1v1M104 10v1m0 12v1m0 1v1m0 14v2m0 3v1m0 3v1m0 3v1m0 10v1m0 4v1m0 13v1m0 2v1m0 9v1m0 3v1m0 2v1m0 2v1m0 3v1M105 9v1m0 1v1m0 13v1m0 20v1m0 2v1m0 1v1m0 2v1m0 3v1m0 2v2m0 3v3m0 13v1m0 12v2m0 10v1M106 11v1m0 6v2m0 1v1m0 33v2m0 2v1m0 20v2m0 2v2m0 3v1m0 3v1m0 11v1m0 2v1M107 9v1m0 1v1m0 4v2m0 26v1m0 1v1m0 2v1m0 1v2m0 2v2m0 2v1m0 4v2m0 27v1m0 7v2m0 1v1M108 14v1m0 1v1m0 6v1m0 1v1m0 16v1m0 1v1m0 2v1m0 7v1m0 1v1m0 6v2m0 9v1m0 7v2m0 3v2m0 5v1m0 8v1M109 42v1m0 1v2m0 2v1m0 1v1m0 10v1m0 1v1m0 2v1m0 2v2m0 2v2m0 7v1m0 10v2m0 1v1m0 3v3m0 1v1M110 12v1m0 9v2m0 17v2m0 1v3m0 5v1m0 1v1m0 9v2m0 2v2m0 16v1m0 9v1m0 1v1M111 7v1m0 1v1m0 9v1m0 24v1m0 2v1m0 1v1m0 1v1m0 8v1m0 1v1m0 2v1m0 24v1m0 7v2m0 2v1M112 18v1m0 23v2m0 1v1m0 4v2m0 1v2m0 1v1m0 6v1m0 4v1m0 21v1m0 2v1m0 1v1M113 8v1m0 37v1m0 10v3m0 2v3m0 6v1m0 2v1m0 8v1m0 2v1m0 12v1M114 11v1m0 6v1m0 24v1m0 1v1m0 2v1m0 3v1m0 1v2m0 2v1m0 1v2m0 29v1M115 15v1m0 1v1m0 30v1m0 2v2m0 3v1m0 2v1m0 28v1M116 16v1m0 3v1m0 4v1m0 18v1m0 2v1m0 3v1m0 1v2m0 2v1m0 1v1M117 10v1m0 1v1m0 6v1m0 21v1m0 1v1m0 3v2m0 5v1m0 1v2m0 3v1M118 12v1m0 30v1m0 5v1m0 1v1m0 3v1m0 3v3M119 18v1m0 1v1m0 27v1m0 3v1m0 3v2m0 3v1M120 15v2m0 1v1m0 23v1m0 2v2m0 8v1m0 2v1M121 12v2m0 28v1m0 2v1m0 3v1m0 8v1m0 2v2M122 11v1m0 9v1m0 25v2m0 2v2m0 3v1m0 2v1M123 17v1m0 5v1m0 25v1m0 2v1m0 6v1m0 2v1m0 8v2m0 4v1M124 12v1m0 32v1m0 1v1m0 1v1m0 3v1m0 7v1m0 9v1m0 5v1m0 6v1M125 47v2m0 2v3m0 1v2m0 4v1m0 9v1M126 42v1m0 5v1m0 4v1m0 3v1m0 5v1m0 4v1m0 1v2m0 19v1M127 50v1m0 2v1m0 2v3m0 3v1m0 6v1m0 13v1M128 46v1m0 10v1m0 26v1m0 1v1m0 3v1M129 48v1m0 2v2m0 2v1m0 3v2m0 27v1m0 1v1M130 45v1m0 10v1m0 1v1m0 10v1m0 16v1m0 6v1M131 63v1m0 19v1m0 2v2M132 20v1m0 35v1m0 27v1M133 49v2m0 6v1m0 2v1m0 21v1M134 55v1m0 29v1M135 53v1m0 2v2m0 27v1M136 49v1m0 5v1m0 32v1M137 59v1m0 1v2M138 56v1m0 5v1m0 22v1M139 53v1M140 60v1m0 2v3M141 56v1m0 5v1m0 3v1m0 20v1M142 61v1m0 3v1m0 21v1M143 64v1m0 18v1M144 60v1m0 5v1m0 8v1m0 1v1m0 8v1m0 2v1M145 59v2M146 60v1m0 24v1M147 53v2m0 10v2m0 2v1m0 5v1m0 10v1M148 56v1m0 8v1m0 2v2m0 13v1m0 1v1M149 60v1M150 29v1m0 1v1m0 27v2m0 2v1m0 16v2m0 2v1m0 1v1M151 30v1m0 1v1m0 45v1m0 3v1M152 30v1m0 17v1m0 14v1m0 3v1m0 1v2m0 7v3m0 2v2M153 31v1m0 16v2m0 7v1m0 25v1M154 27v1m0 1v2m0 16v1m0 10v3m0 3v1m0 13v1m0 1v1M155 31v1m0 23v1m0 2v1m0 11v1M156 30v1m0 37v3m0 10v3M157 28v1m0 1v1m0 7v1m0 40v1m0 1v1M158 30v1m0 32v1m0 5v1M159 32v1m0 2v1m0 12v1m0 6v1m0 7v2m0 14v1M160 32v1m0 1v1m0 12v1m0 10v1m0 2v1m0 3v1M161 27v1m0 6v1m0 23v1m0 1v1m0 2v1m0 6v1m0 8v1M162 27v3m0 3v1m0 2v1m0 20v1m0 1v1m0 10v1m0 6v1M163 25v1m0 7v1m0 30v3M164 58v1m0 2v4m0 2v2m0 7v1m0 1v1m0 1v1m0 4v1M165 39v1m0 22v1m0 4v1m0 5v1m0 1v1M166 38v1m0 26v1m0 8v1m0 2v1m0 1v1M167 31v1m0 35v1m0 1v1m0 3v1M168 72v1m0 2v3M169 38v1m0 22v1m0 15v2M170 39v3m0 1v1m0 21v1m0 1v1m0 6v1m0 1v2M171 39v1m0 23v1m0 3v1m0 5v1m0 2v1M172 43v1m0 18v1m0 5v1m0 6v2m0 2v1M173 46v1m0 23v1M174 65v1m0 6v1m0 1v1M175 43v1m0 4v1m0 23v1m0 3v1M176 43v1M177 74v1M178 73v1"/>
<path stroke="#9f76ee" d="M18 85v1M19 88v1m0 9v1M20 85v3m0 7v1m0 1v1M21 88v2m0 7v1M22 50v2m0 25v1m0 6v1m0 2v1m0 9v1m0 1v1M23 51v2m0 35v1m0 8v1M24 75v1m0 13v1m0 4v2M25 52v1m0 17v1m0 1v1m0 15v4M26 50v2m0 1v1m0 17v1m0 1v1m0 6v1m0 4v1m0 2v1m0 6v1m0 6v2M27 51v1m0 1v1m0 17v5m0 12v2m0 1v1m0 1v1m0 2v1m0 6v1M28 48v2m0 1v1m0 25v1m0 9v2m0 5v1m0 4v1M29 47v1m0 1v2m0 2v1m0 15v1m0 1v1m0 1v1m0 13v1m0 3v1m0 2v1M30 50v3m0 17v2m0 1v1m0 1v1m0 2v2m0 6v2m0 1v1m0 3v2m0 3v1m0 2v1m0 2v1M31 48v2m0 1v1m0 16v3m0 1v1m0 4v1m0 7v1m0 3v1m0 1v1m0 1v2M32 47v5m0 1v1m0 14v3m0 2v1m0 3v3m0 15v1m0 1v1M33 48v3m0 2v1m0 14v3m0 1v4m0 1v1m0 6v1m0 11v1M34 49v2m0 1v1m0 1v1m0 15v1m0 1v3m0 1v2M35 49v1m0 3v2m0 13v1m0 2v1m0 1v1m0 7v1m0 4v1M36 48v1m0 2v1m0 14v2m0 4v1m0 3v1m0 1v2m0 2v1m0 6v1m0 13v1M37 51v1m0 1v1m0 13v1m0 4v2m0 4v1M38 47v1m0 2v1m0 3v1m0 12v1m0 1v1m0 1v1m0 3v1m0 15v1m0 12v1M39 46v2m0 3v1m0 13v1m0 1v1m0 4v1m0 1v1m0 2v1m0 2v1M40 51v3m0 13v1m0 2v1m0 1v1m0 2v1m0 5v1m0 2v1M41 47v1m0 1v1m0 4v1m0 11v1m0 1v3m0 3v6m0 11v1M42 48v1m0 1v1m0 17v1m0 1v1m0 7v1m0 3v1m0 18v1m0 3v1M43 54v1m0 12v1m0 1v1m0 3v1m0 8v1m0 7v1m0 16v1M44 48v1m0 4v1m0 14v1m0 5v1m0 18v1m0 4v1m0 4v1M45 45v2m0 21v2m0 1v2m0 1v1m0 1v2m0 1v1m0 7v2m0 4v1m0 12v1M46 43v1m0 4v1m0 17v1m0 2v1m0 2v3m0 4v1m0 2v1m0 3v1m0 6v2m0 9v1M47 49v1m0 3v1m0 13v2m0 1v4m0 3v2m0 4v2m0 1v1m0 5v1M48 47v1m0 6v1m0 16v2m0 1v1m0 1v1m0 1v4m0 11v1M49 46v1m0 20v1m0 1v1m0 2v2m0 6v2m0 6v1M50 45v1m0 1v1m0 21v1m0 1v1m0 2v2m0 2v1m0 7v1m0 2v1m0 3v1M51 49v3m0 19v1m0 3v2m0 1v1m0 4v2m0 6v1m0 11v1M52 50v1m0 5v1m0 12v2m0 6v2m0 1v2m0 3v1m0 1v1m0 1v1m0 7v1M53 45v1m0 8v1m0 12v1m0 4v2m0 2v1m0 8v1m0 1v1m0 12v1m0 6v1M54 52v1m0 1v1m0 2v1m0 11v1m0 1v1m0 3v3m0 4v2M55 46v1m0 8v1m0 12v2m0 2v1m0 2v1m0 4v1m0 1v2m0 1v1m0 4v1m0 4v1M56 43v2m0 1v2m0 9v1m0 10v1m0 1v1m0 5v2m0 5v2m0 16v1M57 42v1m0 7v1m0 2v1m0 2v1m0 16v2m0 8v2m0 3v1m0 7v1m0 7v1M58 44v1m0 30v2m0 2v1m0 3v2m0 1v1M59 46v1m0 23v1m0 5v1m0 2v5m0 1v1m0 2v2M60 45v2m0 6v1m0 4v1m0 11v1m0 1v1m0 3v1m0 1v3m0 1v1m0 2v2M61 44v1m0 14v1m0 9v3m0 7v1m0 1v1m0 1v2m0 1v1m0 6v1M62 53v1m0 26v1m0 3v2m0 9v1M63 58v1m0 11v1m0 2v1m0 3v1m0 1v1m0 1v2m0 4v1m0 1v2m0 5v1M64 70v1m0 6v1m0 1v2m0 1v1m0 2v1m0 3v1M65 57v1m0 1v1m0 11v2m0 6v2m0 6v1m0 4v1m0 2v1M66 40v1m0 6v1m0 8v1m0 21v1m0 2v1m0 1v1m0 3v1m0 1v2m0 5v1M67 42v1m0 8v1m0 27v1m0 2v1m0 7v1M68 47v1m0 9v1m0 10v1m0 3v1m0 5v1m0 1v1m0 1v1m0 2v1m0 4v1M69 79v1m0 14v1M70 49v1m0 9v1m0 13v3m0 1v3m0 6v4M71 44v2m0 3v1m0 3v1m0 2v1m0 2v1m0 18v1m0 4v1m0 3v1m0 3v1M72 49v1m0 23v1m0 6v1m0 5v1m0 1v1m0 2v1m0 2v1m0 4v1M73 22v1m0 36v1m0 10v3m0 1v3m0 12v1M74 40v1m0 12v1m0 5v1m0 16v1m0 1v1m0 4v1m0 5v1M75 21v1m0 25v1m0 10v1m0 18v1m0 1v3m0 1v1m0 8v1M76 21v1m0 22v1m0 1v1m0 5v1m0 5v1m0 16v1m0 3v1m0 1v2m0 11v1M77 41v2m0 1v1m0 5v1m0 6v1m0 15v2m0 4v2m0 1v1m0 1v1m0 5v1m0 1v1m0 8v1M78 21v1m0 19v3m0 10v1m0 20v1m0 1v1m0 2v3m0 4v2m0 7v1M79 50v1m0 10v1m0 9v1m0 3v2m0 4v1m0 7v1m0 2v1m0 6v1M80 45v1m0 1v1m0 4v1m0 5v1m0 3v1m0 13v1m0 3v1m0 1v3m0 2v1m0 1v1m0 8v1m0 4v1M81 40v1m0 2v1m0 4v1m0 27v1m0 3v1m0 1v1m0 3v2m0 1v2m0 5v1M82 61v1m0 12v3m0 1v1m0 1v1m0 2v1m0 5v1m0 1v2M83 41v1m0 1v1m0 4v1m0 8v1m0 14v2m0 5v1m0 1v1m0 3v1m0 3v2m0 10v1M84 49v3m0 1v1m0 1v1m0 14v1m0 3v2m0 4v1m0 2v1m0 6v2m0 4v2M85 43v1m0 1v1m0 3v1m0 36v6m0 3v1M86 47v1m0 3v1m0 9v1m0 9v1m0 4v1m0 5v3m0 1v4m0 1v1M87 51v1m0 10v1m0 12v1m0 1v1m0 4v1m0 5v1m0 1v2m0 1v1m0 2v1M88 37v1m0 5v1m0 2v1m0 7v1m0 7v1m0 18v1m0 2v5m0 1v2m0 2v1m0 2v1m0 1v1M89 19v1m0 17v1m0 1v1m0 4v1m0 7v1m0 8v1m0 11v1m0 4v1m0 1v2m0 1v2m0 10v1M90 17v1m0 3v1m0 1v1m0 16v1m0 1v1m0 10v1m0 2v1m0 20v1m0 1v4m0 1v1m0 5v2m0 5v1M91 18v1m0 1v1m0 21v1m0 20v1m0 13v1m0 2v5m0 3v2m0 2v1m0 1v1M92 22v2m0 38v1m0 15v1m0 1v1m0 2v1m0 2v2m0 7v1M93 19v1m0 2v1m0 17v1m0 13v1m0 32v1m0 1v1m0 5v1M94 19v1m0 1v1m0 1v2m0 10v1m0 16v1m0 5v1m0 25v1m0 4v1m0 2v1M95 20v1m0 3v1m0 17v2m0 3v1m0 1v2m0 2v1m0 25v1m0 3v1m0 1v1m0 1v2m0 7v1m0 2v1M96 21v2m0 27v2m0 13v1m0 15v1m0 1v1m0 3v3m0 7v1M97 16v1m0 3v1m0 1v1m0 1v1m0 15v1m0 20v1m0 1v1m0 19v1m0 2v3m0 1v2m0 1v1M98 19v1m0 1v1m0 22v2m0 1v1m0 1v1m0 3v1m0 28v1m0 5v1m0 2v2m0 6v1M99 15v1m0 5v2m0 2v1m0 13v1m0 15v1m0 6v3m0 16v1m0 4v1m0 2v1m0 3v1m0 1v1M100 13v1m0 3v2m0 1v1m0 1v1m0 2v1m0 16v1m0 2v1m0 4v1m0 10v1m0 19v1m0 17v1m0 9v1M101 9v1m0 36v1m0 3v2m0 31v1m0 2v2m0 1v2m0 1v1m0 1v1m0 9v1M102 7v1m0 11v1m0 2v1m0 1v1m0 25v1m0 8v2m0 24v1m0 2v1m0 2v2M103 11v1m0 3v1m0 3v1m0 2v1m0 18v1m0 11v1m0 31v1m0 2v1m0 3v2m0 15v1M104 15v1m0 3v3m0 20v2m0 12v1m0 24v1m0 5v2m0 2v1M105 10v1m0 6v6m0 1v1m0 17v1m0 5v1m0 3v1m0 10v2m0 20v3m0 2v3m0 1v1M106 8v1m0 3v1m0 7v1m0 1v2m0 17v1m0 1v1m0 3v1m0 15v2m0 21v1m0 1v1m0 1v3m0 1v1m0 6v1m0 2v1m0 1v1M107 8v1m0 1v1m0 7v4m0 1v1m0 1v1m0 19v1m0 40v3m0 1v3m0 2v2m0 1v1M108 12v1m0 2v1m0 1v6m0 3v1m0 13v1m0 20v1m0 25v1m0 3v2m0 1v1m0 2v1m0 4v1M109 8v5m0 5v3m0 25v2m0 24v1m0 10v1m0 1v1m0 1v3m0 1v2m0 6v1M110 9v3m0 5v1m0 1v3m0 26v2m0 6v1m0 5v1m0 24v1m0 2v4m0 3v1M111 8v1m0 1v1m0 5v3m0 1v1m0 2v2m0 61v1m0 2v1m0 1v1m0 2v1M112 9v1m0 1v2m0 3v1m0 3v4m0 2v1m0 20v1m0 9v1m0 26v1m0 1v1m0 2v1m0 1v1M113 17v6m0 32v1m0 42v1M114 10v1m0 2v2m0 2v1m0 1v1m0 1v1m0 1v1m0 17v1m0 4v1m0 15v1M115 16v1m0 2v1m0 1v2m0 21v1m0 1v1M116 11v1m0 9v1m0 33v1M117 9v1m0 1v1m0 1v1m0 3v2m0 5v1m0 19v1M118 11v1m0 1v1m0 2v1m0 1v1m0 4v2m0 33v1M119 13v1m0 9v1M120 10v1m0 1v1m0 9v1M121 18v1m0 32v1M122 10v1m0 4v1m0 3v1m0 2v1M123 46v1M125 19v1M126 21v1m0 62v1m0 1v1m0 3v1M127 84v1m0 1v1M128 83v1m0 1v1m0 2v1M129 83v1m0 2v1M130 83v3M131 20v1m0 1v1M132 21v1m0 61v1m0 2v1M133 83v2M134 87v1M135 20v1m0 63v1M136 22v1M137 84v1m0 1v1M138 87v1M139 86v1M148 28v3M149 28v1m0 2v1M150 28v1m0 1v1m0 2v1M151 28v1m0 4v1M152 29v1m0 1v3M153 28v2M154 32v2M155 29v2m0 2v1m0 13v1M156 27v1m0 4v1m0 15v1M157 31v2m0 14v1m0 1v1M158 28v2m0 2v1M159 27v5m0 1v1m0 44v1M160 26v1m0 3v2m0 1v1M161 28v2m0 3v1M162 31v2M163 28v1m0 2v2m0 46v1M165 74v1M166 30v1M167 30v1M168 32v1M169 31v2m0 1v1M170 79v1M172 77v1M174 75v1"/>
<path stroke="#7c44fa" d="M18 88v1M21 84v1m0 1v1M22 86v1m0 2v1M23 96v1M24 51v1M26 70v1m0 1v1m0 14v1m0 6v1M27 85v1M28 67v1m0 1v1M29 70v1m0 25v1M30 49v1m0 18v1M31 50v1m0 16v1M32 72v1M33 51v1m0 14v2M34 47v1m0 23v1M35 48v1m0 2v1m0 13v1M36 68v4m0 1v1M37 52v1m0 13v1m0 1v3m0 5v1M38 66v1m0 6v1M39 68v4M40 68v2m0 1v1m0 1v1M41 71v2M42 49v1m0 19v1m0 1v1m0 1v1M43 68v1m0 1v3m0 2v1m0 2v1M44 66v1m0 2v5M45 67v1m0 5v1m0 1v1M46 68v1m0 1v1m0 4v1m0 1v1M47 69v1m0 4v1M48 70v1m0 4v1M49 70v1M50 70v1m0 2v1M51 73v1M52 74v3M53 71v1m0 3v1m0 1v1M54 72v1m0 1v1m0 4v2M55 73v1M57 79v2m0 1v1M58 77v1M59 77v1M60 84v1M61 76v1m0 3v1M62 74v1m0 2v1m0 1v1m0 2v1M63 76v1m0 1v1M64 78v1M65 84v1M66 77v1M67 77v2m0 1v2m0 1v1M68 81v1M69 80v1m0 1v1M70 80v2M71 76v1m0 2v3M72 76v1m0 1v1M73 78v1m0 3v1m0 1v1m0 1v1M75 84v2M76 84v1M77 22v1m0 53v2M78 78v2m0 4v1m0 1v1M79 78v1m0 3v2m0 1v1m0 1v1M80 22v1m0 51v1m0 4v1M81 23v1m0 61v1M82 81v2m0 4v1M83 75v1m0 7v2m0 3v1M84 72v2m0 8v1m0 1v3M85 75v1m0 2v1m0 3v1m0 2v1M86 81v1M87 80v1M88 78v2m0 2v2M89 21v1m0 60v1M90 83v1m0 4v1M91 19v1M92 21v1m0 68v1M93 85v2m0 3v1M94 22v1m0 64v2M95 89v1M96 19v2m0 61v1m0 7v1M97 21v1m0 1v1m0 1v1m0 63v1M98 16v1m0 3v1m0 66v1M99 20v1m0 70v1M100 19v1m0 4v1m0 58v3M101 17v4m0 2v2M102 23v1m0 60v1m0 2v1M103 18v1m0 2v1m0 65v1M104 11v1M105 16v1m0 6v1M106 9v2m0 3v1m0 2v1M107 12v1M108 8v2m0 1v1m0 78v1m0 2v1M109 17v1m0 4v2m0 66v1M110 8v1M111 11v2m0 75v1M112 7v1m0 9v1m0 70v1M113 7v1m0 2v1m0 13v1M114 12v1m0 7v1m0 4v1M115 11v2m0 10v2M116 12v1m0 10v1M117 20v1m0 1v2M119 12v1M121 10v1m0 10v1m0 1v1M125 21v1M129 21v1m0 63v1M132 81v2M133 81v1m0 3v1M136 84v1M138 20v1M149 33v1M151 31v1M153 33v1M154 31v1M155 26v1m0 5v1M156 28v1m0 2v1m0 1v1M157 27v1m0 1v1m0 3v1M158 27v1m0 3v1M159 26v1M160 27v3M161 30v1M162 30v1M163 29v1M164 33v1M165 28v1m0 1v1M168 30v1M169 30v1m0 2v1M170 30v1M172 32v1"/>
<path stroke="#5a22ff" d="M22 85v1M23 86v1M30 69v1M34 69v1M35 69v2M37 71v1M38 68v1m0 1v1"/>
</g>
<g transform="translate(555.1 90) scale(2.2 3.3)">
<path stroke="#c4c4c4" d="M8 91v1M17 91v1m0 1v1m0 3v1m0 1v1M18 88v1m0 5v1M19 88v1m0 2v1m0 2v1m0 8v1M20 86v1m0 5v1m0 3v1m0 1v1m0 2v1M21 81v1m0 2v1M22 79v1m0 1v1m0 5v1m0 4v1m0 1v1m0 7v1M23 50v2m0 24v1m0 3v1m0 23v2M24 48v1m0 25v1m0 2v1m0 5v1m0 10v1m0 6v1m0 1v1M25 52v1m0 18v1m0 1v1m0 2v2m0 1v2m0 7v1m0 3v1m0 11v1M26 69v1m0 6v1m0 8v1m0 2v2M27 46v1m0 25v1m0 2v1m0 13v1m0 3v1m0 11v1M28 50v2m0 1v1m0 13v1m0 1v1m0 2v1m0 2v1m0 11v1m0 3v1m0 3v1m0 5v1M29 50v1m0 20v1m0 1v1m0 3v2m0 2v2m0 2v1m0 1v2m0 5v1m0 1v2m0 6v1m0 2v1M30 47v1m0 1v1m0 19v2m0 4v1m0 1v1m0 5v1m0 7v2m0 13v1M31 70v1m0 9v1m0 1v1m0 1v1m0 3v1m0 3v1m0 3v2m0 1v2m0 1v1m0 2v1M32 48v2m0 18v1m0 6v2m0 16v1m0 2v1m0 12v1M33 48v1m0 1v1m0 15v3m0 3v1m0 5v2m0 1v1m0 7v1m0 9v1m0 3v1M34 51v1m0 18v1m0 1v2m0 5v1m0 1v1m0 7v1m0 1v1m0 1v1m0 1v1m0 14v1M35 51v1m0 13v1m0 4v1m0 3v1m0 2v2m0 1v1m0 4v1m0 4v1m0 2v4m0 1v2m0 3v6M36 47v1m0 4v2m0 16v2m0 2v2m0 8v1m0 6v1m0 1v3m0 3v1m0 5v1M37 47v1m0 5v2m0 26v1m0 3v1m0 4v3m0 8v2m0 4v1M38 68v2m0 3v1m0 5v1m0 2v1m0 2v1m0 7v1m0 2v2m0 10v2M39 68v1m0 1v1m0 5v1m0 4v3m0 1v1m0 1v1m0 3v1m0 2v1m0 4v1m0 1v1m0 6v1m0 1v1M40 54v1m0 12v2m0 3v1m0 4v4m0 1v1m0 2v1m0 4v1m0 13v1m0 2v1m0 1v1M41 45v1m0 2v1m0 6v1m0 11v1m0 2v2m0 3v1m0 5v1m0 1v2m0 4v1m0 6v2m0 3v1m0 3v2m0 2v2m0 1v1M42 69v1m0 1v1m0 6v2m0 4v1m0 2v1m0 5v2m0 2v1m0 12v3M43 43v1m0 7v2m0 15v1m0 1v1m0 1v1m0 1v1m0 5v1m0 3v1m0 3v1m0 8v1m0 5v2m0 5v2M44 49v1m0 18v1m0 4v2m0 2v1m0 2v1m0 11v1m0 1v1m0 2v1m0 2v1m0 3v1m0 2v1m0 1v2M45 47v1m0 4v1m0 15v1m0 2v1m0 5v1m0 4v1m0 14v1m0 1v1m0 1v1m0 1v1m0 10v1M46 47v1m0 1v1m0 2v1m0 16v4m0 5v1m0 2v1m0 7v1m0 15v1m0 1v1m0 3v1m0 1v1m0 1v1M47 46v1m0 23v2m0 4v2m0 1v2m0 1v1m0 5v1m0 6v1m0 1v3m0 3v1m0 2v1m0 4v2M48 43v1m0 23v6m0 1v2m0 1v1m0 1v1m0 1v2m0 4v1m0 3v2m0 1v1m0 11v2m0 3v1m0 1v2M49 52v2m0 15v1m0 2v1m0 3v1m0 1v1m0 4v2m0 1v1m0 3v1m0 2v1m0 1v1m0 2v1m0 6v1m0 1v1m0 1v1m0 4v1M50 43v1m0 4v1m0 18v1m0 6v1m0 4v2m0 3v2m0 2v1m0 6v1m0 8v2m0 5v2M51 42v1m0 1v1m0 26v1m0 2v1m0 2v1m0 3v1m0 4v1m0 2v1m0 3v1m0 4v4m0 3v1m0 2v2m0 3v2M52 47v1m0 22v1m0 2v1m0 5v2m0 2v1m0 2v1m0 6v1m0 7v2m0 2v1m0 7v3M53 70v1m0 7v1m0 1v2m0 1v1m0 8v1m0 2v1m0 1v1m0 1v1m0 2v3m0 4v1m0 3v1m0 1v1M54 51v1m0 13v1m0 2v1m0 1v1m0 4v1m0 5v2m0 1v3m0 9v1m0 1v1m0 1v1m0 1v1m0 8v2m0 1v1M55 44v1m0 22v2m0 2v2m0 1v2m0 2v4m0 10v1m0 14v1m0 6v1m0 1v1M56 45v1m0 7v1m0 16v1m0 1v1m0 6v2m0 1v2m0 1v2m0 2v1m0 7v4m0 3v2m0 4v1m0 1v1m0 1v1M57 43v1m0 11v1m0 14v3m0 2v3m0 1v1m0 1v1m0 1v1m0 1v1m0 5v1m0 1v1m0 1v1m0 3v1m0 3v1m0 2v1m0 2v2M58 68v3m0 6v1m0 1v1m0 1v1m0 3v1m0 5v1m0 11v1m0 3v1m0 3v1M59 66v1m0 1v1m0 5v1m0 5v2m0 8v1m0 3v1m0 1v1m0 17v1M60 76v1m0 1v1m0 3v1m0 1v1m0 2v2m0 1v1m0 4v1m0 1v1m0 1v1m0 1v1m0 4v3m0 1v1m0 1v1m0 4v1M61 46v1m0 21v1m0 6v1m0 3v1m0 1v1m0 5v2m0 1v2m0 2v1m0 1v1m0 1v1m0 1v2m0 5v1m0 3v1m0 1v1M62 52v1m0 15v1m0 1v1m0 4v1m0 6v2m0 12v1m0 1v1m0 1v2m0 2v2m0 2v1m0 5v1m0 2v2M63 73v1m0 1v1m0 5v1m0 1v1m0 1v2m0 1v1m0 2v1m0 5v3m0 7v1m0 6v1m0 3v1M64 73v1m0 11v2m0 10v1m0 5v3m0 2v1m0 1v2m0 2v1m0 4v1M65 69v2m0 17v1m0 2v1m0 1v2m0 1v1m0 5v2m0 8v1m0 2v2M66 53v1m0 17v1m0 3v1m0 8v1m0 8v1m0 5v1m0 9v2m0 1v1m0 5v1M67 70v1m0 1v1m0 4v1m0 2v1m0 4v2m0 4v2m0 1v1m0 3v1m0 4v1m0 5v2m0 1v1m0 4v1M68 71v1m0 1v2m0 2v1m0 7v1m0 1v1m0 1v1m0 1v1m0 6v2m0 4v4m0 7v1M69 70v1m0 1v2m0 5v1m0 3v1m0 3v1m0 2v3m0 12v1m0 1v1m0 5v1m0 3v1M70 70v1m0 1v1m0 2v1m0 2v1m0 2v1m0 5v2m0 2v1m0 6v1m0 11v1m0 3v1m0 1v1M71 69v1m0 4v1m0 4v3m0 1v1m0 5v2m0 9v3m0 3v1m0 2v1m0 6v1M72 70v2m0 2v1m0 1v1m0 6v1m0 3v2m0 1v1m0 18v1m0 2v1m0 1v1M73 71v1m0 4v1m0 7v1m0 1v1m0 2v1m0 13v1m0 3v2m0 6v1m0 3v1M74 76v1m0 5v1m0 6v1m0 2v1m0 3v1m0 2v2m0 2v1m0 2v1m0 1v1m0 1v1m0 1v1m0 1v1M75 62v1m0 6v1m0 9v1m0 3v1m0 1v2m0 1v1m0 6v1m0 1v2m0 2v2M76 22v1m0 58v1m0 9v1m0 4v1m0 4v1m0 3v2M77 71v1m0 40v1m0 2v1M78 79v1m0 1v1m0 2v1m0 1v3m0 3v1m0 2v1m0 3v1m0 2v1m0 2v1m0 2v2m0 2v2m0 1v1M79 45v1m0 2v1m0 27v1m0 4v1m0 5v1m0 2v1m0 13v1m0 3v1m0 3v1m0 3v1M80 72v1m0 6v1m0 12v1m0 12v3m0 1v2m0 2v1m0 3v1M81 23v1m0 52v1m0 2v5m0 9v3m0 3v1m0 3v1m0 6v2m0 1v1m0 2v1M82 40v1m0 35v1m0 2v1m0 1v4m0 1v2m0 1v1m0 4v1m0 6v2m0 2v3m0 2v2m0 1v3M83 55v1m0 16v2m0 3v3m0 3v1m0 1v1m0 5v1m0 3v1m0 8v1m0 2v1m0 1v1m0 5v3M84 80v3m0 3v1m0 2v1m0 2v1m0 1v2m0 6v1m0 7v2m0 3v1M85 56v1m0 22v2m0 1v1m0 3v1m0 1v2m0 7v4m0 1v1m0 1v1m0 1v1m0 6v1M86 71v1m0 9v1m0 3v1m0 8v1m0 12v1m0 3v1m0 5v1M87 75v1m0 4v1m0 2v1m0 2v1m0 1v1m0 2v1m0 6v4m0 4v1m0 2v1M88 78v2m0 6v2m0 5v1m0 1v1m0 7v1m0 6v2m0 1v1M89 57v1m0 19v1m0 13v1m0 1v1m0 6v1m0 6v2m0 6v1M90 17v1m0 3v1m0 30v1m0 23v1m0 4v1m0 11v1m0 6v2m0 5v1m0 1v2m0 1v1m0 2v1M91 79v2m0 3v1m0 10v1m0 5v2m0 1v1m0 1v1m0 1v1m0 1v2m0 2v2M92 23v1m0 34v1m0 23v2m0 3v1m0 8v1m0 2v1m0 7v2m0 1v2m0 1v1M93 76v1m0 1v1m0 7v2m0 1v2m0 1v1m0 1v1m0 12v2m0 1v2M94 21v1m0 2v1m0 57v1m0 1v2m0 4v1m0 2v2m0 4v1m0 1v1m0 1v1m0 2v1M95 24v1m0 62v2m0 4v1m0 3v1m0 2v1m0 5v1m0 1v1m0 1v1m0 2v1M96 21v1m0 1v1m0 38v1m0 15v1m0 2v2m0 8v1m0 2v1m0 3v2m0 1v1m0 1v2m0 8v1m0 1v1M97 19v1m0 61v1m0 2v1m0 2v2m0 1v1m0 3v1m0 2v1m0 1v1m0 3v1m0 5v1m0 1v1M98 18v2m0 2v1m0 58v2m0 3v1m0 1v1m0 7v1m0 1v1m0 6v1m0 1v1m0 3v1M99 15v3m0 3v1m0 57v1m0 7v1m0 3v3m0 2v1m0 3v1m0 2v2m0 3v1M100 23v1m0 60v1m0 2v1m0 5v1m0 14v1m0 1v2m0 1v1M101 9v1m0 7v1m0 3v1m0 31v1m0 7v1m0 17v1m0 1v1m0 4v1m0 2v1m0 7v2m0 2v1m0 1v1m0 3v2m0 4v1M102 10v1m0 6v1m0 5v1m0 1v1m0 56v1m0 4v1m0 2v1m0 4v1m0 5v4m0 1v3M103 11v1m0 5v1m0 5v1m0 59v1m0 4v1m0 1v1m0 2v2m0 1v1m0 1v2m0 1v1m0 1v1M104 19v1m0 2v2m0 1v1m0 44v1m0 8v1m0 1v1m0 5v1m0 2v1m0 1v2m0 3v2m0 5v1m0 3v2M105 18v1m0 52v1m0 12v1m0 13v2m0 3v1m0 2v1m0 2v1M106 17v2m0 2v1m0 64v1m0 4v1m0 1v1m0 3v1m0 4v2m0 3v1M107 24v1m0 1v1m0 42v1m0 1v1m0 13v1m0 3v1m0 6v1m0 3v1M108 9v2m0 48v1m0 23v1m0 3v2m0 3v1m0 3v1m0 4v1m0 1v1m0 2v2M109 20v2m0 4v1m0 28v1m0 27v1m0 7v2m0 1v2m0 2v1M110 8v1m0 7v1m0 3v1m0 1v1m0 1v1m0 57v1m0 2v1m0 3v1m0 1v2m0 1v1m0 2v1m0 1v1m0 1v1M111 16v1m0 4v2m0 34v1m0 29v1m0 4v1m0 3v1M112 16v1m0 2v1m0 2v1m0 51v1M113 9v1m0 8v1m0 1v1m0 1v1m0 1v1m0 64v1M114 10v1m0 8v2m0 4v1m0 63v2M115 20v1m0 71v1M116 10v1m0 7v1m0 2v2M117 18v1m0 2v1M119 12v1M120 13v1M121 47v1M123 21v1m0 32v1M124 12v1M125 42v1m0 48v1M129 53v1M130 59v1M131 93v1M132 21v1M135 21v1M136 21v1m0 1v1m0 62v1M138 20v1M139 89v1M147 60v1M159 65v1m0 3v1M160 59v1M162 62v1M167 32v1M169 39v1M178 41v1"/>
<path stroke="#baa3e4" d="M15 48v1M16 90v1m0 6v1M18 74v1m0 10v1m0 5v1M20 85v1m0 1v1m0 5v2m0 5v1M21 75v1m0 7v1m0 2v1m0 1v2m0 8v1M22 51v1m0 24v1m0 7v1m0 5v1m0 2v1m0 3v2m0 1v1M23 82v1m0 5v2m0 8v1m0 3v1M24 71v2m0 6v2M25 54v1m0 15v1m0 18v3m0 5v1m0 4v2m0 2v1M26 50v1m0 2v1m0 17v1m0 2v1m0 12v1m0 9v1m0 6v1M27 49v3m0 18v2m0 1v1m0 2v1m0 6v1m0 4v1m0 2v1m0 2v1m0 3v3m0 3v1M28 46v1m0 5v1m0 20v1m0 5v1M29 53v1m0 15v1m0 6v1m0 3v1m0 3v1m0 7v2m0 1v1m0 3v1M30 48v1m0 1v3m0 18v2m0 7v1m0 1v1m0 4v1m0 10v3m0 2v1M31 47v1m0 1v1m0 2v1m0 14v3m0 2v3m0 1v1m0 4v1m0 1v1m0 1v2m0 3v1m0 3v1m0 3v1m0 2v1m0 2v1m0 1v3M32 50v1m0 3v1m0 14v2m0 2v1m0 3v1m0 2v2m0 2v2m0 4v1m0 3v1m0 4v2m0 5v1M33 49v1m0 2v1m0 16v2m0 2v3m0 6v1m0 2v2m0 3v1m0 1v6m0 2v2m0 2v3m0 2v1M34 46v1m0 3v1m0 20v1m0 2v1m0 8v2m0 1v1m0 5v1m0 1v1m0 2v1m0 6v2m0 3v1M35 47v1m0 1v2m0 1v1m0 15v1m0 2v1m0 1v1m0 2v1m0 6v1m0 4v2m0 1v1M36 44v1m0 6v1m0 14v2m0 1v1m0 2v1m0 8v1m0 4v1m0 9v1m0 7v1m0 1v3M37 46v1m0 4v1m0 15v3m0 2v3m0 2v1m0 4v2m0 9v2m0 1v1M38 53v1m0 13v1m0 3v2m0 1v2m0 4v2m0 1v1m0 4v1m0 5v1m0 4v1m0 2v2m0 2v2M39 48v4m0 13v1m0 1v1m0 1v1m0 2v1m0 1v1m0 5v1m0 5v1m0 1v1m0 6v1m0 2v1m0 4v2m0 1v2m0 1v1m0 1v1M40 47v2m0 1v1m0 19v1m0 4v1m0 11v1m0 6v1m0 6v1m0 3v2m0 1v1m0 1v2M41 46v1m0 3v1m0 1v1m0 13v1m0 1v2m0 2v1m0 1v1m0 1v4m0 2v1m0 2v1m0 1v2m0 5v1m0 3v2m0 2v2m0 4v1m0 2v1m0 1v1M42 53v1m0 14v1m0 1v1m0 1v1m0 2v3m0 2v2m0 3v2m0 3v3m0 6v1m0 3v2m0 1v2m0 5v1M43 49v2m0 16v1m0 1v1m0 3v1m0 9v1m0 1v1m0 6v1m0 1v1m0 1v1m0 3v2m0 6v1M44 45v1m0 1v1m0 3v1m0 2v1m0 14v2m0 7v1m0 3v1m0 7v1m0 5v1m0 4v2m0 8v1M45 49v2m0 3v1m0 1v1m0 12v1m0 2v1m0 1v1m0 3v1m0 1v1m0 3v1m0 7v1m0 1v3m0 3v1m0 3v1m0 3v2M46 55v1m0 17v2m0 4v2m0 2v1m0 1v1m0 1v1m0 3v1m0 3v1m0 2v1m0 1v2m0 7v2m0 1v1M47 47v1m0 6v1m0 3v1m0 8v1m0 4v2m0 1v1m0 2v1m0 4v1m0 6v1m0 3v1m0 6v1m0 8v1m0 2v1M48 55v1m0 20v1m0 7v2m0 4v1m0 4v3m0 1v3m0 1v2m0 4v1m0 2v1M49 54v1m0 12v1m0 21v1m0 6v1m0 2v1m0 2v2m0 6v1m0 1v1M50 69v1m0 1v2m0 2v2m0 4v2m0 4v1m0 2v1m0 3v1m0 4v4m0 5v1m0 4v1M51 47v1m0 5v3m0 1v1m0 11v1m0 2v1m0 2v1m0 3v1m0 2v2m0 1v1m0 2v1m0 13v1m0 3v2m0 2v2M52 45v1m0 5v1m0 1v1m0 13v1m0 1v1m0 1v2m0 4v2m0 3v1m0 5v1m0 2v1m0 4v1m0 1v1m0 8v1m0 1v2m0 1v1m0 3v1M53 47v2m0 7v1m0 9v1m0 2v1m0 2v3m0 1v1m0 9v1m0 1v1m0 1v1m0 7v1m0 6v2m0 1v1m0 5v1M54 43v1m0 3v1m0 5v1m0 1v1m0 13v1m0 6v2m0 11v1m0 1v3m0 1v1m0 1v1m0 3v1m0 1v1m0 3v1M55 48v2m0 4v1m0 1v1m0 13v1m0 11v1m0 1v1m0 1v3m0 2v1m0 1v1m0 3v1m0 3v2m0 1v1m0 4v1m0 1v1m0 3v1M56 48v1m0 6v1m0 13v1m0 3v2m0 2v1m0 3v1m0 5v1m0 7v1m0 6v2m0 2v3m0 6v1M57 45v1m0 5v1m0 2v1m0 2v1m0 11v1m0 4v1m0 3v1m0 10v2m0 1v1m0 7v1m0 4v1m0 1v1m0 3v1m0 1v2M58 48v1m0 1v1m0 1v1m0 18v3m0 1v2m0 3v1m0 1v1m0 1v1m0 2v1m0 1v1m0 3v2m0 9v3m0 1v1m0 1v1m0 1v3M59 48v1m0 8v1m0 13v1m0 4v1m0 2v1m0 4v1m0 2v1m0 4v2m0 1v1m0 2v3m0 2v1m0 2v1m0 1v1m0 3v1m0 2v2M60 47v1m0 3v1m0 3v1m0 12v1m0 3v1m0 1v1m0 4v3m0 7v1m0 1v2m0 1v1m0 1v1m0 1v1m0 1v1m0 2v1m0 1v1m0 3v1m0 3v4M61 45v1m0 25v1m0 11v4m0 2v1m0 2v1m0 4v1m0 4v2m0 2v1m0 3v1m0 1v1M62 45v1m0 23v1m0 2v1m0 5v1m0 1v1m0 3v1m0 3v1m0 2v2m0 1v1m0 4v1m0 6v2m0 1v3M63 46v1m0 4v1m0 17v1m0 2v1m0 1v1m0 2v1m0 1v1m0 2v1m0 1v1m0 7v1m0 8v1m0 3v2m0 4v1m0 5v1M64 41v1m0 13v1m0 2v1m0 10v1m0 2v1m0 1v2m0 1v1m0 1v3m0 1v1m0 3v1m0 3v3m0 2v1m0 1v2m0 1v1m0 5v1m0 4v2m0 1v1M65 50v1m0 1v1m0 5v1m0 20v2m0 4v1m0 1v1m0 1v2m0 6v2m0 1v2m0 2v3m0 2v3m0 1v1m0 3v1M66 48v1m0 23v1m0 1v1m0 1v1m0 1v1m0 2v1m0 1v1m0 4v2m0 1v1m0 3v1m0 4v1m0 1v1m0 5v1m0 2v1m0 1v2m0 2v1M67 41v1m0 2v1m0 9v1m0 16v1m0 1v3m0 3v1m0 2v1m0 4v2m0 7v1m0 2v1m0 1v2m0 1v3m0 1v1m0 2v1m0 1v1m0 2v1M68 72v1m0 2v2m0 1v1m0 1v1m0 1v1m0 10v3m0 1v1m0 2v1m0 2v1m0 5v1m0 3v1m0 2v2M69 42v1m0 18v1m0 9v1m0 2v1m0 2v1m0 6v1m0 1v1m0 2v1m0 6v3m0 3v3m0 1v1M70 41v1m0 4v1m0 24v1m0 1v1m0 3v1m0 1v1m0 4v1m0 1v1m0 3v1m0 1v1m0 1v1m0 1v1m0 2v1m0 2v1m0 3v4m0 1v1m0 1v1M71 55v1m0 1v1m0 2v1m0 9v2m0 3v1m0 2v1m0 9v1m0 3v3m0 1v1m0 6v1m0 1v1m0 4v1m0 4v1m0 1v2M72 60v1m0 19v2m0 4v1m0 2v1m0 3v1m0 2v1m0 1v1m0 1v1m0 1v1m0 1v2m0 4v1m0 5v2M73 45v1m0 7v1m0 4v1m0 15v2m0 1v1m0 5v1m0 7v2m0 1v1m0 4v1m0 2v1m0 8v3M74 22v1m0 26v1m0 19v2m0 7v1m0 4v1m0 1v1m0 4v2m0 2v1m0 3v1m0 2v2m0 1v1m0 4v1m0 1v1m0 1v1m0 4v2M75 20v3m0 26v1m0 23v1m0 1v1m0 4v2m0 5v1m0 1v1m0 1v1m0 1v2m0 11v1m0 3v7M76 79v2m0 1v1m0 2v1m0 4v1m0 1v2m0 1v1m0 1v2m0 1v1m0 1v3m0 4v3m0 1v2M77 73v3m0 3v2m0 1v1m0 1v1m0 2v2m0 5v1m0 4v1m0 5v1m0 1v1m0 5v1m0 2v2M78 68v1m0 1v1m0 4v1m0 1v1m0 2v1m0 1v1m0 6v1m0 1v1m0 6v1m0 1v1m0 2v2m0 1v2m0 3v1m0 5v1M79 73v1m0 1v1m0 7v1m0 16v1m0 2v1m0 1v1m0 1v1m0 2v1M80 71v1m0 1v1m0 2v3m0 1v5m0 2v2m0 1v2m0 2v1m0 4v2m0 3v1m0 3v1m0 2v1m0 2v1m0 1v1M81 72v1m0 5v1m0 7v3m0 2v2m0 5v1m0 5v2m0 3v1M82 39v1m0 34v2m0 2v1m0 1v1m0 9v1m0 4v1m0 2v3M83 70v1m0 9v2m0 7v2m0 1v3m0 1v1m0 2v1m0 2v1M84 28v1m0 45v2m0 3v1m0 3v1m0 16v2m0 2v1m0 3v2m0 3v2M85 87v1m0 4v2m0 2v1m0 12v1m0 2v1m0 1v1M86 76v1m0 1v1m0 3v3m0 1v7m0 2v2m0 2v1m0 2v2m0 5v1m0 4v2M87 77v1m0 1v1m0 1v2m0 11v2m0 6v1m0 4v2m0 5v1m0 2v1M88 81v1m0 2v2m0 2v1m0 1v2m0 4v1m0 5v1m0 9v1m0 1v1M89 73v1m0 2v1m0 3v2m0 1v3m0 1v1m0 1v2m0 13v2m0 3v1m0 2v1M90 18v1m0 58v3m0 2v1m0 1v2m0 9v2m0 1v1m0 7v1M91 81v3m0 4v2m0 4v1m0 1v2m0 1v2m0 4v1m0 3v1m0 2v1M92 79v1m0 6v1m0 5v3m0 3v1m0 1v3m0 1v1m0 1v1m0 2v1m0 4v1M93 19v1m0 2v1m0 52v1m0 1v1m0 1v1m0 11v1m0 4v2m0 1v1m0 6v1M94 18v1m0 59v1m0 7v1m0 2v1m0 2v1m0 2v1m0 1v1m0 7v1m0 2v1m0 1v3M95 17v2m0 2v3m0 59v1m0 1v2m0 3v3m0 2v1m0 6v4m0 1v1m0 3v1m0 2v1M96 17v2m0 5v1m0 54v1m0 3v2m0 2v3m0 5v2m0 3v1m0 1v1m0 2v3m0 4v1m0 1v1M97 17v2m0 5v1m0 53v1m0 1v1m0 1v2m0 2v1m0 4v1m0 8v1m0 1v1m0 1v5m0 1v1m0 2v1M98 17v1m0 5v2m0 65v6m0 1v1m0 3v1m0 1v2m0 1v1m0 2v1M99 18v1m0 4v1m0 57v1m0 4v1m0 2v1m0 12v1m0 2v1m0 3v3M100 16v1m0 64v2m0 7v1m0 6v2m0 1v1m0 2v1m0 2v1M101 13v1m0 8v1m0 60v1m0 4v1m0 10v1M102 16v1m0 3v1m0 1v1m0 58v1m0 3v2m0 1v1m0 2v4m0 1v5M103 10v1m0 9v1m0 3v1m0 56v1m0 4v1m0 4v2m0 2v1m0 8v1m0 2v1m0 2v1M104 10v1m0 4v1m0 67v1m0 2v1m0 1v1m0 7v1m0 6v1m0 3v1m0 2v1M105 9v1m0 1v1m0 5v1m0 3v1m0 2v2m0 56v1m0 4v1m0 2v3m0 1v3m0 8v1m0 1v1M106 11v1m0 7v2m0 47v1m0 11v2m0 2v2m0 2v3m0 1v1m0 12v1m0 2v1M107 9v1m0 1v1m0 4v2m0 1v2m0 51v1m0 13v1m0 4v3m0 10v1M108 14v1m0 1v2m0 3v1m0 1v1m0 1v2m0 43v1m0 4v1m0 8v1m0 4v1m0 5v1m0 8v1M109 9v2m0 1v1m0 6v1m0 62v1m0 2v1m0 2v1m0 4v1m0 2v1m0 4v2m0 1v1M110 10v1m0 1v1m0 6v1m0 3v1m0 62v2m0 2v1m0 5v1m0 1v1M111 7v1m0 1v1m0 8v3m0 2v1m0 44v1m0 17v1m0 3v2m0 2v1m0 3v2m0 1v2M112 18v1m0 4v1m0 2v1m0 63v2m0 1v1m0 1v1M113 8v1m0 8v1m0 65v1m0 2v1m0 12v1M114 11v1m0 5v2m0 2v1m0 1v1m0 67v1M115 15v1m0 1v1m0 70v1M116 11v1m0 4v1m0 3v1m0 4v1M117 9v5m0 5v1m0 4v1M118 12v2m0 4v1m0 5v1M119 18v1m0 1v1M120 15v2m0 1v1m0 3v1M121 12v2M122 10v2m0 7v1m0 1v1M123 17v1m0 5v1m0 47v2M124 71v1m0 12v1M126 68v1M128 86v1m0 3v1M129 88v1m0 1v1M130 86v1M131 83v1m0 2v2M132 20v1m0 50v1m0 12v1M133 82v1M134 85v1M135 20v1m0 64v1M138 85v1M140 84v1m0 2v1M142 85v1M144 85v1m0 3v1M146 54v1M150 31v1M152 30v1m0 52v1M154 29v1M157 28v1m0 5v1M161 37v1M163 25v1m0 11v2M164 84v2M166 37v1M167 31v1M170 41v1M175 45v1"/>
<path stroke="#9f76ee" d="M8 90v1M9 90v1M16 48v1M17 75v1M18 97v1M19 98v1M20 95v1m0 1v1M21 97v1M22 50v1m0 26v1m0 7v2m0 2v1m0 9v1m0 1v1M23 52v1m0 33v1m0 9v2m0 3v1M24 51v1m0 23v1m0 13v1m0 5v1M25 72v1M26 51v1m0 18v1m0 1v2m0 6v1m0 13v2m0 6v2m0 2v1M27 53v1m0 20v1m0 10v1m0 10v1m0 4v3M28 48v2m0 27v1m0 10v1m0 5v1m0 4v1M29 47v1m0 1v1m0 20v1m0 20v1m0 11v1m0 2v1M30 68v1m0 4v1m0 4v2m0 6v1m0 2v1m0 3v2m0 6v2m0 1v1M31 48v1m0 1v2m0 25v1m0 11v1m0 1v1m0 1v1M32 47v1m0 3v1m0 1v1m0 18v1m0 5v2m0 9v1m0 5v1m0 1v1m0 4v1m0 2v1m0 1v1M33 51v1m0 1v1m0 23v1m0 6v1M34 47v1m0 1v1m0 2v1m0 1v1m0 14v1m0 6v2m0 25v1m0 4v1M35 48v1m0 4v2m0 14v1m0 11v1m0 4v1m0 13v1m0 8v1M36 48v1m0 19v1m0 4v1m0 2v1m0 1v2m0 2v1m0 6v2m0 9v2m0 1v1m0 6v1M37 52v1m0 13v1m0 3v2m0 4v1m0 1v1m0 30v1M38 47v1m0 2v1m0 3v1m0 11v1m0 3v1m0 18v1m0 1v2m0 7v1m0 3v1M39 46v2m0 23v1m0 5v1m0 6v1m0 4v1M40 45v1m0 5v3m0 15v1m0 1v1m0 1v1m0 7v1m0 1v2m0 1v1m0 2v1m0 6v1M41 49v1m0 4v1m0 31v1m0 4v1m0 1v1M42 48v1m0 1v1m0 22v1m0 8v2m0 4v1m0 12v1m0 3v1M43 54v1m0 16v1m0 3v1m0 2v1m0 3v1m0 7v2m0 15v1m0 1v1m0 2v1M44 48v1m0 4v1m0 12v1m0 4v2m0 15v1m0 4v1m0 1v1m0 2v1m0 4v1m0 9v1M45 45v1m0 2v1m0 4v1m0 13v1m0 5v1m0 1v2m0 2v1m0 7v3m0 3v1m0 12v1M46 43v1m0 1v1m0 2v1m0 4v1m0 12v1m0 1v1m0 6v1m0 1v1m0 4v1m0 3v1m0 6v2m0 1v1m0 7v1M47 49v3m0 1v1m0 1v1m0 12v2m0 4v1m0 9v1m0 1v1m0 5v1m0 3v1m0 10v1M48 48v1m0 29v1m0 1v1m0 12v1m0 8v1m0 2v1M49 46v1m0 2v1m0 5v1m0 14v1m0 2v1m0 6v2m0 6v1m0 3v1m0 22v1M50 44v1m0 1v2m0 3v1m0 1v1m0 1v2m0 13v1m0 2v1m0 4v1m0 7v1m0 2v1m0 3v1m0 4v1m0 10v1m0 5v1M51 49v4m0 20v1m0 2v1m0 1v1m0 5v1m0 6v1m0 11v1M52 52v1m0 1v2m0 18v3m0 4v1m0 3v1m0 1v1m0 1v1m0 7v1m0 10v1M53 43v2m0 1v1m0 2v3m0 1v3m0 11v1m0 3v1m0 3v1m0 1v1m0 7v1m0 1v1m0 8v1m0 3v1m0 6v1m0 2v3M54 49v1m0 6v2m0 13v2m0 1v1m0 4v2m0 2v1m0 6v1m0 14v1m0 4v1m0 2v1M55 42v1m0 4v1m0 4v1m0 4v1m0 11v1m0 3v1m0 9v1m0 1v1m0 4v1m0 4v1m0 7v1m0 2v1m0 1v1m0 3v2M56 42v1m0 6v1m0 18v1m0 7v1m0 7v1m0 7v2m0 7v1m0 7v1m0 3v1M57 44v1m0 2v2m0 24v1m0 6v1m0 1v1m0 1v1m0 3v1m0 7v1m0 1v1m0 3v1m0 1v1m0 3v1m0 3v1m0 2v1M58 46v2m0 6v1m0 2v1m0 25v1m0 2v1M59 42v4m0 1v1m0 1v5m0 4v1m0 11v1m0 6v1m0 4v2m0 1v1m0 2v2m0 14v1m0 2v1m0 1v2m0 2v1m0 3v1M60 41v1m0 1v1m0 8v1m0 1v1m0 1v2m0 12v1m0 14v2m0 6v1m0 17v1M61 41v1m0 6v1m0 1v2m0 1v2m0 2v1m0 11v2m0 5v1m0 3v1m0 12v1m0 10v2m0 2v1m0 5v3M62 44v1m0 5v2m0 2v1m0 1v1m0 17v1m0 2v1m0 1v1m0 5v1m0 4v1m0 4v1m0 6v2m0 8v1M63 44v2m0 1v3m0 3v1m0 1v1m0 14v1m0 5v1m0 1v1m0 8v1m0 1v2m0 4v2m0 5v3m0 3v3m0 1v2M64 42v1m0 2v4m0 2v1m0 1v1m0 3v1m0 1v1m0 10v1m0 7v1m0 3v1m0 6v1m0 10v1m0 5v1m0 2v1m0 8v1M65 44v1m0 3v1m0 2v1m0 1v2m0 1v1m0 14v2m0 11v1m0 7v1m0 2v1m0 11v2M66 43v2m0 5v2m0 8v1m0 16v1m0 9v1m0 2v1m0 1v1m0 3v3m0 7v1m0 9v1M67 43v1m0 4v3m0 7v1m0 19v1m0 2v1m0 1v1m0 6v1m0 16v1m0 6v1m0 4v1M68 37v2m0 9v1m0 1v1m0 3v1m0 1v1m0 11v1m0 12v1m0 8v1m0 19v2m0 2v1m0 3v1M69 38v1m0 6v1m0 2v1m0 1v1m0 1v2m0 2v3m0 1v1m0 19v1m0 1v1m0 11v1m0 13v3m0 1v1m0 1v1m0 3v1M70 43v1m0 3v1m0 2v1m0 4v1m0 18v1m0 5v1m0 8v1m0 5v1m0 5v1m0 13v1m0 1v2M71 46v1m0 4v1m0 6v1m0 17v1m0 10v1m0 3v1m0 12v1m0 2v2m0 2v1m0 1v1M72 39v1m0 2v5m0 1v1m0 1v1m0 1v1m0 1v1m0 1v3m0 14v1m0 4v1m0 12v1m0 2v1m0 4v1m0 15v1M73 22v1m0 16v1m0 1v1m0 2v1m0 5v1m0 3v3m0 13v1m0 1v1m0 5v1m0 3v1m0 26v1m0 7v1M74 39v1m0 1v1m0 2v1m0 6v2m0 1v1m0 1v2m0 2v1m0 44v1M75 41v1m0 1v2m0 6v2m0 4v1m0 1v3m0 15v1m0 6v1m0 7v1m0 10v1m0 1v1m0 1v2M76 21v1m0 18v1m0 1v1m0 2v1m0 3v1m0 6v1m0 2v2m0 14v1m0 8v1m0 9v1m0 17v1m0 3v1M77 22v1m0 17v1m0 2v1m0 1v5m0 2v1m0 1v1m0 4v1m0 1v1m0 14v2m0 12v1m0 1v1m0 4v2m0 2v1m0 2v1m0 4v1m0 4v1M78 21v1m0 18v1m0 3v6m0 1v3m0 2v4m0 1v1m0 16v1m0 15v1m0 1v1m0 4v1M79 39v4m0 3v1m0 4v2m0 4v2m0 1v1m0 2v1m0 7v1m0 6v1m0 3v1m0 2v1m0 3v1m0 2v1m0 2v1m0 2v2m0 1v1m0 4v1m0 4v1m0 1v3m0 1v2M80 22v1m0 16v1m0 3v1m0 2v1m0 2v2m0 3v1m0 19v1m0 14v1m0 8v1m0 3v2m0 11v1M81 38v1m0 5v3m0 2v3m0 1v4m0 28v1m0 3v2m0 5v1m0 4v2m0 3v1m0 5v1m0 1v2m0 1v1M82 41v2m0 1v1m0 1v2m0 2v7m0 3v1m0 30v2m0 11v1m0 7v1M83 39v2m0 1v1m0 3v1m0 2v2m0 1v2m0 4v1m0 2v1m0 13v1m0 8v1m0 3v1m0 11v2m0 3v2m0 3v1M84 40v1m0 1v2m0 1v2m0 1v1m0 7v2m0 1v1m0 10v1m0 1v2m0 10v2m0 4v2m0 4v2m0 5v1m0 1v1M85 38v2m0 7v1m0 5v1m0 4v2m0 1v3m0 11v1m0 2v1m0 6v1m0 4v2m0 3v1m0 7v1m0 6v1M86 39v1m0 1v1m0 2v2m0 7v1m0 2v1m0 3v1m0 1v1m0 35v1m0 9v1m0 3v1M87 36v2m0 2v3m0 1v1m0 1v1m0 2v1m0 7v1m0 1v1m0 30v1m0 2v1m0 2v2m0 6v1m0 6v1m0 1v1M88 38v1m0 2v1m0 2v2m0 6v2m0 2v1m0 2v2m0 3v1m0 17v2m0 10v1m0 2v1m0 1v1m0 1v1m0 6v1M89 19v1m0 1v1m0 14v1m0 3v1m0 2v1m0 1v2m0 4v1m0 3v2m0 3v1m0 17v1m0 3v1m0 12v1m0 3v1m0 6v1M90 23v1m0 13v1m0 3v1m0 2v1m0 1v1m0 1v1m0 2v1m0 8v2m0 18v1m0 2v1m0 4v1m0 1v2m0 5v1m0 1v1m0 8v1M91 18v3m0 22v1m0 3v1m0 2v2m0 2v1m0 7v1m0 14v1m0 14v1m0 5v1m0 4v1m0 3v1m0 5v1M92 21v2m0 18v2m0 2v1m0 2v1m0 3v1m0 1v1m0 2v1m0 2v2m0 2v1m0 13v1m0 1v1m0 9v1m0 4v1m0 7v1m0 1v1m0 6v1M93 42v2m0 5v1m0 8v4m0 2v2m0 19v1m0 9v1m0 5v2m0 1v1m0 4v1m0 5v1M94 19v1m0 3v1m0 13v1m0 1v3m0 5v1m0 3v1m0 1v1m0 1v3m0 2v1m0 2v2m0 22v2m0 7v1m0 7v1m0 2v1m0 1v1m0 3v1m0 1v1M95 20v1m0 16v4m0 10v1m0 2v4m0 3v1m0 1v1m0 1v1m0 13v1m0 9v1m0 6v1m0 2v1m0 9v1m0 2v1M96 19v1m0 2v1m0 15v1m0 2v1m0 4v2m0 11v1m0 30v1m0 6v1m0 10v1M97 16v1m0 3v4m0 1v1m0 13v1m0 14v1m0 7v1m0 26v1m0 3v1m0 4v1M98 20v2m0 16v1m0 7v1m0 4v2m0 4v2m0 28v1m0 11v2m0 1v1M99 20v1m0 1v1m0 2v1m0 21v1m0 10v1m0 6v1m0 29v1M100 13v1m0 3v4m0 1v1m0 1v2m0 14v1m0 5v1m0 12v1m0 3v1m0 1v1m0 17v1m0 1v1m0 13v1m0 1v1m0 7v1M101 18v3m0 2v2m0 17v1m0 2v1m0 2v1m0 5v1m0 23v1m0 8v1m0 2v1m0 1v1m0 1v1m0 5v1m0 3v1m0 1v1m0 3v1M102 7v1m0 11v1m0 4v1m0 16v2m0 2v2m0 4v1m0 1v1m0 3v1m0 6v1m0 19v1m0 24v1M103 15v1m0 2v2m0 1v2m0 17v1m0 8v2m0 4v5m0 5v1m0 19v1m0 1v1m0 14v1m0 5v2M104 11v1m0 8v2m0 23v1m0 7v1m0 1v1m0 3v1m0 1v1m0 2v1m0 3v2m0 1v1m0 19v1m0 8v1m0 5v1M105 10v1m0 5v1m0 2v2m0 1v2m0 29v2m0 1v1m0 1v1m0 6v2m0 1v2m0 15v2m0 15v1M106 8v2m0 2v1m0 1v1m0 7v2m0 16v1m0 3v1m0 17v1m0 7v1m0 23v1m0 4v1m0 1v1m0 2v1m0 1v1M107 8v1m0 1v1m0 1v1m0 5v1m0 2v1m0 1v1m0 1v1m0 21v1m0 7v1m0 5v1m0 2v1m0 3v1m0 18v2m0 1v1m0 4v1m0 2v1m0 2v2M108 8v1m0 2v2m0 2v1m0 2v3m0 1v1m0 42v1m0 24v2m0 1v2m0 2v1m0 4v1M109 8v1m0 2v1m0 5v2m0 4v1m0 19v1m0 7v1m0 11v1m0 2v1m0 2v2m0 2v2m0 12v1m0 1v2m0 8v2M110 9v1m0 1v1m0 5v1m0 3v1m0 32v1m0 10v1m0 2v3m0 2v1m0 19v1M111 8v1m0 1v3m0 4v1m0 6v1m0 38v1m0 10v1m0 13v2M112 7v1m0 1v1m0 1v2m0 4v1m0 2v2m0 22v1m0 9v1m0 9v1m0 3v1m0 15v1m0 1v1m0 1v2M113 7v1m0 2v1m0 8v1m0 1v1m0 22v1m0 5v1m0 1v1m0 5v3m0 10v1m0 2v1m0 23v1m0 4v1M114 13v2m0 33v1m0 12v1m0 2v1M115 11v1m0 4v1m0 2v1m0 1v4m0 33v1m0 2v1m0 2v1M116 12v1m0 10v1m0 32v1m0 2v1M117 17v1m0 2v1m0 1v2m0 19v1m0 5v1m0 6v1m0 3v3M118 11v1m0 4v1m0 6v1m0 36v1M119 13v1m0 9v1m0 18v1m0 9v1m0 3v1m0 2v1m0 4v1M120 10v1m0 1v1m0 31v1m0 4v1m0 6v1m0 6v1M121 18v1m0 2v1m0 1v1m0 36v1m0 1v1M122 15v1m0 6v1m0 19v1m0 13v4m0 2v2M123 77v1M124 47v1m0 3v2m0 4v1m0 2v1m0 16v1M125 19v1m0 1v1m0 29v2m0 2v1m0 1v1m0 2v1m0 1v1m0 8v2M126 21v1m0 28v1m0 10v1m0 2v1m0 5v1m0 15v1m0 4v1M127 61v1m0 8v2m0 11v2m0 1v1M128 56v1m0 3v1m0 23v2M129 21v1m0 24v1m0 10v1m0 25v1m0 9v1M130 45v1m0 10v1m0 12v1m0 13v3m0 7v1M131 20v1m0 1v1m0 27v1m0 4v1m0 26v1M132 54v1m0 1v1m0 26v1m0 10v1M133 57v3m0 23v2m0 1v1M134 58v1m0 28v1M135 47v1m0 6v1m0 28v2m0 1v1M136 22v1m0 27v1m0 7v1m0 29v1M137 54v1m0 4v1m0 2v1m0 21v1m0 2v1M138 86v1M139 53v1m0 3v1m0 29v1M140 61v3m0 1v1M141 57v1m0 2v1m0 25v2M142 60v1m0 7v1m0 17v2M143 55v1m0 2v1m0 6v1m0 19v1m0 1v1M144 57v1m0 2v1m0 3v1m0 4v1m0 5v1m0 1v1m0 6v1M145 54v1m0 8v1m0 2v1m0 17v1M146 59v1m0 6v3m0 13v1M147 53v2m0 4v1m0 5v1m0 1v1m0 15v1m0 2v1M148 30v1m0 1v1m0 24v1m0 6v1m0 3v1m0 6v1m0 5v1M149 28v1m0 2v1m0 34v1m0 17v1M150 28v3m0 2v1m0 28v1m0 4v1m0 11v3m0 1v2M151 28v1m0 1v1m0 1v2m0 21v1m0 3v1m0 4v1m0 13v1m0 1v1m0 1v1M152 29v1m0 1v3m0 20v1m0 3v1m0 9v3m0 7v1m0 3v1M153 28v5m0 16v1m0 13v1m0 1v1M154 27v1m0 2v1m0 2v1m0 22v1m0 7v1m0 13v1m0 1v1M155 30v2m0 1v1m0 14v1m0 8v1m0 9v1m0 1v1m0 11v1M156 26v2m0 1v2m0 1v1m0 25v2m0 9v1m0 9v1m0 1v1m0 2v1M157 30v2m0 6v1m0 26v1m0 13v1m0 1v1M158 28v3m0 2v1m0 24v1m0 8v1M159 27v2m0 1v1m0 1v1m0 2v2m0 18v4m0 1v1m0 1v1m0 7v1m0 9v1M160 26v1m0 3v3m0 2v1m0 1v1m0 9v1m0 9v2m0 3v1m0 5v1m0 10v3m0 1v1M161 27v1m0 3v2m0 2v1m0 2v1m0 18v2m0 5v1m0 2v1m0 1v1m0 7v2m0 1v1M162 27v3m0 1v3m0 3v1m0 10v1m0 11v1m0 8v2m0 6v1M163 28v1m0 2v4m0 4v1m0 17v3m0 4v1m0 1v1m0 1v2m0 10v1M164 35v2m0 23v1m0 2v1m0 1v1m0 1v1M165 37v1m0 1v1m0 22v2m0 1v1m0 1v1m0 1v1M166 38v1m0 1v1m0 19v1m0 3v1m0 2v2m0 5v1m0 4v1M167 38v1m0 20v1m0 1v2m0 1v1m0 1v1m0 7v1m0 3v1M168 38v1m0 20v1m0 1v1m0 1v1m0 1v1m0 8v1m0 4v1M169 32v1m0 1v1m0 3v1m0 1v2m0 4v1m0 18v1M170 38v1m0 4v2m0 15v1m0 10v1m0 3v1m0 1v1M171 39v1m0 22v3m0 4v2m0 1v2m0 6v1M172 41v2m0 1v1M173 42v5m0 17v1m0 5v2m0 3v1M174 43v1m0 28v1M175 43v2m0 1v3m0 27v1M176 43v1m0 1v3m0 25v1m0 1v2M177 46v1M178 42v2M179 46v1M181 44v2"/>
<path stroke="#7c44fa" d="M41 47v1M42 49v1M45 46v1M48 47v1m0 6v1M50 45v1M52 50v1m0 5v1M53 45v1M54 45v2m0 5v1m0 1v1M55 45v2m0 4v1m0 3v1M56 43v2m0 1v2m0 4v1m0 4v1M57 42v1m0 3v1m0 3v1m0 2v1m0 2v1M58 44v1m0 4v1M59 46v1M60 45v2m0 1v1m0 4v1m0 4v1M61 44v1m0 4v1m0 9v1M62 43v1m0 9v1m0 4v1M63 43v1m0 10v1m0 3v1M64 52v1m0 3v1M65 41v1m0 1v1m0 2v2m0 1v1m0 7v1m0 1v1M66 40v1m0 4v1m0 1v1m0 8v2M67 40v1m0 1v1m0 2v1m0 1v1m0 3v1m0 3v1M68 44v1m0 2v1m0 7v1m0 1v1M69 40v2m0 5v1M70 45v1m0 3v1m0 3v1m0 2v4M71 41v1m0 2v2m0 1v1m0 1v2m0 2v1m0 2v1m0 2v1M72 49v1m0 5v1m0 3v1M73 42v2m0 2v1m0 1v1m0 10v1M74 40v1m0 4v1m0 2v1m0 4v1m0 5v1M75 45v1m0 1v1m0 7v1m0 2v1M76 43v2m0 1v2m0 2v1m0 1v1m0 1v2m0 2v1M77 38v1m0 2v2m0 1v1m0 5v2m0 1v1m0 3v1M78 41v3m0 10v1M79 43v2m0 2v1m0 2v1m0 3v1m0 1v1m0 4v2M80 40v1m0 1v1m0 2v1m0 1v2m0 2v2m0 2v1m0 2v1m0 2v2M81 40v2m0 1v1m0 4v1m0 12v1M82 48v2m0 8v1m0 2v2M83 41v1m0 1v1m0 3v2m0 5v1m0 1v2m0 1v2m0 1v1M84 41v1m0 5v1m0 1v3m0 1v3m0 4v1M85 40v2m0 1v1m0 1v1m0 2v5m0 2v1m0 4v1M86 40v1m0 1v2m0 2v2m0 3v2m0 1v1m0 3v1m0 2v1M87 38v1m0 4v1m0 4v1m0 1v3m0 2v1m0 5v3M88 37v1m0 5v1m0 3v1m0 1v1m0 1v1m0 2v2m0 1v1M89 38v2m0 1v2m0 1v1m0 2v2m0 10v1m0 1v2M90 40v1m0 1v1m0 6v1m0 3v2m0 1v1m0 2v1m0 2v1M91 36v1m0 5v1m0 2v2m0 5v1m0 3v1m0 1v3m0 2v1M92 39v2m0 9v2m0 1v1m0 5v1m0 3v1M93 39v2m0 5v3m0 1v3m0 1v1m0 7v2M94 22v1m0 13v1m0 7v2m0 2v2m0 8v1m0 3v1M95 41v2m0 1v4m0 1v2m0 1v1m0 5v1m0 1v1m0 3v1M96 20v1m0 23v1m0 5v5m0 1v1m0 1v1m0 6v1M97 43v1m0 1v1m0 1v2m0 1v4m0 5v1m0 3v1M98 16v1m0 22v5m0 15v1m0 2v1M99 40v3m0 1v1m0 1v1m0 1v1m0 4v2m0 1v1m0 2v2M100 42v3m0 5v3m0 3v1m0 1v1m0 1v2M101 49v1m0 5v1m0 2v1m0 3v1m0 1v1M102 40v1m0 7v1m0 6v1m0 3v1m0 1v2m0 2v1M103 43v3m0 5v1m0 1v2m0 5v2m0 1v1M104 40v2m0 2v1m0 4v1m0 4v1m0 1v1m0 3v1M105 41v1m0 4v1m0 2v1m0 1v1m0 3v1m0 5v4m0 2v1M106 10v1m0 31v1m0 2v2m0 8v2m0 1v2m0 5v1m0 5v1M107 41v1m0 2v1m0 4v1m0 1v2m0 3v1m0 1v2m0 5v1M108 42v1m0 1v1m0 2v1m0 2v1m0 4v1m0 1v1m0 4v1m0 1v1M109 22v1m0 19v1m0 1v1m0 3v1m0 3v1m0 5v2m0 1v2m0 1v1m0 3v1m0 3v1M110 44v1m0 5v1m0 1v1m0 11v1M111 42v1m0 1v2m0 1v2m0 1v2m0 2v1m0 5v1m0 1v1m0 2v1M112 42v2m0 1v1m0 4v1m0 5v1m0 1v1m0 1v4m0 7v2M113 43v1m0 1v1m0 1v1m0 1v1m0 4v1m0 2v1m0 3v4M114 12v1m0 31v2m0 8v2m0 2v1m0 1v1M115 12v1m0 29v1m0 2v1m0 2v1m0 2v1m0 2v3m0 3v1M116 42v1m0 1v3m0 3v5m0 2v1m0 3v1M117 42v1m0 2v2m0 1v1m0 8v1M118 47v1m0 1v3m0 2v3m0 4v2M119 43v1m0 1v2m0 1v1m0 9v1m0 2v1M120 42v2m0 1v4m0 1v1m0 1v1m0 1v2m0 5v2M121 10v1m0 32v1m0 4v2m0 5v1m0 1v1m0 3v1M122 45v1m0 1v1m0 2v3m0 7v1M123 47v1m0 2v1m0 1v1m0 5v4m0 1v1M124 43v2m0 1v1m0 3v1m0 5v1m0 2v1m0 3v1M125 41v1m0 1v1m0 5v2m0 2v1m0 2v1m0 2v1M126 42v2m0 2v1m0 4v3m0 1v6m0 2v1m0 7v1m0 12v1m0 5v1M127 47v1m0 2v1m0 2v1m0 3v4m0 1v1m0 6v1M128 46v2m0 1v1m0 4v2m0 1v3m0 2v2m0 4v1m0 3v1m0 10v1m0 4v1M129 45v1m0 1v1m0 2v1m0 1v1m0 2v2m0 1v2m0 25v2M130 44v1m0 10v1m0 2v1m0 3v1m0 1v1M131 49v1m0 1v1m0 2v1m0 1v2m0 1v1m0 2v1M132 51v1m0 1v1m0 1v1m0 1v1m0 23v2m0 3v1M133 47v2m0 1v1m0 9v1m0 20v1m0 3v1M134 49v1m0 3v1m0 1v1m0 1v1m0 3v1M135 55v2m0 1v1M136 52v2m0 2v1m0 7v1m0 19v1M137 56v1m0 3v1m0 25v1M138 55v1m0 1v1m0 4v1m0 1v1m0 22v1M139 52v1m0 10v2m0 21v1M140 59v2m0 3v1M141 55v2m0 6v1m0 1v2m0 16v1M142 52v1m0 2v1m0 2v2m0 1v2m0 1v1m0 1v1m0 17v1M143 54v1m0 4v2m0 1v3m0 2v1m0 15v1M144 58v2m0 1v1m0 1v1m0 1v2m0 16v1m0 2v1M145 59v1m0 4v1m0 3v1m0 17v2M146 60v1m0 4v1m0 17v1m0 1v1M147 57v2m0 4v2m0 4v1m0 5v1m0 6v1M148 28v2m0 26v1m0 5v1m0 3v1m0 3v1m0 12v1m0 1v2M149 33v1m0 22v2m0 2v1m0 1v2m0 3v1m0 14v2M150 60v1m0 4v1m0 2v2m0 12v1m0 3v1M151 29v1m0 1v1m0 24v1m0 1v1m0 2v1m0 1v1m0 1v1m0 3v1m0 7v1m0 1v1m0 3v1M152 28v1m0 19v1m0 7v2m0 1v1m0 2v1m0 2v2m0 12v2m0 3v1M153 33v1m0 14v1m0 8v2m0 1v3m0 4v3m0 7v1m0 2v1m0 2v1M154 31v2m0 14v1m0 1v1m0 8v3m0 1v2m0 4v1m0 1v1m0 10v1M155 26v1m0 2v1m0 2v1m0 14v1m0 7v2m0 1v1m0 1v3m0 5v1m0 1v2M156 28v1m0 2v1m0 1v1m0 14v1m0 13v1m0 1v2m0 2v1m0 13v2M157 27v1m0 1v1m0 2v2m0 13v1m0 1v1m0 4v1m0 2v2m0 8v2m0 1v1M158 27v1m0 3v2m0 1v1m0 22v1m0 2v1m0 1v2m0 5v2m0 10v1M159 26v1m0 2v1m0 1v1m0 1v2m0 13v1m0 10v1m0 1v1m0 2v1m0 1v1m0 1v1m0 10v1m0 2v1M160 27v3m0 3v2m0 1v1m0 11v1m0 11v1m0 3v4m0 1v1M161 28v3m0 2v2m0 12v1m0 11v5m0 1v2m0 3v1m0 8v1m0 2v2M162 30v1m0 5v1m0 1v1m0 17v4m0 1v1m0 1v1m0 2v1m0 13v1M163 29v1m0 6v1m0 23v1m0 2v1m0 1v1m0 1v1m0 2v1M164 27v2m0 3v2m0 7v1m0 16v2m0 2v1m0 1v1m0 1v1m0 2v1m0 6v1m0 1v3M165 28v1m0 1v1m0 5v1m0 10v1m0 10v4m0 4v1m0 6v1m0 1v1m0 2v2M166 30v1m0 8v1m0 19v1m0 2v1m0 2v2m0 3v1m0 2v1m0 2v1M167 28v1m0 1v1m0 36v1m0 1v1m0 2v2m0 2v1m0 2v2M168 30v1m0 1v1m0 9v1m0 17v1m0 1v1m0 1v1m0 2v3m0 2v1m0 2v3M169 30v2m0 1v1m0 25v1m0 2v2m0 3v1m0 4v1m0 2v1m0 1v2M170 30v1m0 1v1m0 4v1m0 1v2m0 20v7m0 2v1m0 2v2m0 1v1M171 44v2m0 15v1m0 4v3m0 7v1M172 32v1m0 10v1m0 3v1m0 12v1m0 1v1m0 1v1m0 2v2m0 6v2m0 1v2M173 40v2m0 18v1m0 2v1m0 1v2m0 6v2m0 1v1M174 45v1m0 2v1m0 14v1m0 1v1m0 5v1m0 2v1M175 42v1m0 28v4M176 41v1m0 2v1M177 44v2m0 1v1m0 26v1M178 45v3m0 1v1m0 23v1M179 42v4M180 45v1M181 43v1m0 2v1M182 46v1"/>
<path stroke="#5a22ff" d="M87 60v1M88 46v1m0 15v1M89 37v1m0 14v1M90 63v1M91 48v1M92 47v1m0 14v1M93 55v1M94 35v1m0 16v1m0 1v1M95 43v1m0 4v1m0 4v1M96 39v1M97 40v1m0 20v1M98 44v2m0 1v1m0 1v1m0 3v1M99 39v1m0 10v3m0 2v1m0 6v3M100 39v1m0 5v1m0 7v1M101 41v1m0 4v1m0 3v2m0 4v1M102 50v1m0 1v1m0 1v1m0 1v1m0 3v1M103 41v2m0 9v1M104 42v2m0 7v1M105 42v1m0 5v1m0 1v1m0 1v1M106 41v1m0 1v1m0 3v1m0 6v1m0 8v2M107 42v2m0 1v2m0 7v1m0 7v1M108 40v1m0 5v1m0 1v1m0 3v1m0 3v1m0 3v2M109 45v3m0 1v2m0 3v1M110 40v3m0 2v2m0 1v2m0 5v2m0 5v1M111 43v1m0 5v1m0 8v1M112 47v2m0 2v3m0 1v1m0 1v1M113 46v1m0 1v1m0 6v1M114 41v1m0 1v1m0 2v2m0 4v1m0 4v1m0 1v1m0 2v1M115 44v1m0 1v1m0 5v2m0 5v1m0 3v1M116 47v3m0 5v1m0 4v1m0 1v1M117 41v1m0 2v1m0 2v1m0 3v1m0 2v1M118 43v4m0 1v1m0 4v1m0 3v3m0 3v2M119 47v1m0 1v1m0 5v1m0 1v1M120 51v1m0 5v2M121 42v1m0 2v2m0 3v3m0 5v2M122 44v1m0 3v2m0 4v2m0 8v1M123 42v1m0 3v1m0 1v2m0 3v1m0 8v1M124 45v1m0 2v2m0 3v1m0 4v1m0 2v1M125 45v4m0 12v1M126 47v2m0 5v1M127 45v1m0 9v2M128 43v1m0 4v1m0 1v1m0 2v1M129 48v1m0 2v1m0 2v1m0 5v1M130 47v1m0 6v1M131 48v1m0 3v1m0 10v1M132 49v2m0 1v1m0 5v1m0 3v1M133 49v1m0 5v1M134 52v1m0 7v1M135 53v1m0 3v1m0 2v1M136 49v1m0 5v1m0 1v1M137 55v1m0 5v1m0 1v1M138 53v1m0 2v1M140 54v1M141 59v1m0 1v2M142 65v1M143 53v1m0 14v1M145 57v1m0 2v1m0 1v1M146 57v1m0 5v1m0 10v1M147 56v1m0 4v1m0 4v1M148 59v2m0 4v1m0 1v1m0 1v1M149 69v1m0 9v1M150 58v2m0 3v2M151 60v1m0 1v1m0 3v1M152 63v2m0 2v1M153 56v1m0 7v1m0 1v1m0 14v1M154 61v1M155 59v1m0 4v3M156 66v1m0 3v1M157 56v1m0 7v1m0 1v1M158 56v1m0 9v1m0 13v1M159 63v1m0 14v1M160 56v1m0 4v1M162 65v1M163 77v1m0 1v1M164 57v1m0 3v1m0 6v1M165 64v1m0 3v1m0 5v1M166 75v1m0 1v2M167 63v1M169 60v2m0 4v1m0 2v1M170 79v1M171 77v1M172 61v1m0 4v1m0 10v1M174 62v1m0 12v1"/>
</g>
<g transform="translate(141.1 543.6) scale(2.2 3.3)">
<path stroke="#c4c4c4" d="M8 91v1M16 48v1m0 48v1M17 91v1m0 1v1m0 3v1m0 1v1M18 74v1m0 13v1m0 2v1m0 2v1M19 88v1m0 2v1m0 2v1m0 8v1M20 86v1m0 5v7m0 1v2M21 75v1m0 5v1m0 2v1m0 4v1m0 7v2M22 76v2m0 1v1m0 1v1m0 5v1m0 1v1m0 2v3m0 2v3m0 1v2M23 76v1m0 3v1m0 17v1m0 2v2m0 1v2M24 74v2m0 1v1m0 1v2m0 2v1m0 10v2m0 5v1m0 1v1M25 71v1m0 1v1m0 2v2m0 1v2m0 7v1m0 1v1m0 1v1m0 4v1m0 4v3m0 1v1M26 69v1m0 4v1m0 1v1m0 3v1m0 4v1m0 2v2m0 4v2m0 1v1m0 4v3m0 1v1M27 72v2m0 1v2m0 6v1m0 5v1m0 1v1m0 1v2m0 3v4m0 1v3M28 67v1m0 1v1m0 2v1m0 2v1m0 1v1m0 1v1m0 7v2m0 2v1m0 3v1m0 3v1m0 1v1M29 71v1m0 1v1m0 2v3m0 1v3m0 1v2m0 1v2m0 2v4m0 1v2m0 1v1m0 3v2m0 1v2M30 47v1m0 21v1m0 3v1m0 1v1m0 1v4m0 2v1m0 2v2m0 3v2m0 1v1m0 3v1m0 3v3m0 1v1M31 70v1m0 2v1m0 6v7m0 1v1m0 1v5m0 1v5m0 1v1m0 1v5M32 68v1m0 6v4m0 1v2m0 2v2m0 3v1m0 3v5m0 4v1m0 2v3m0 1v1M33 66v3m0 3v2m0 3v3m0 1v2m0 1v3m0 2v1m0 2v6m0 1v3m0 1v4m0 2v1M34 70v1m0 1v2m0 2v1m0 2v1m0 1v1m0 2v1m0 4v1m0 1v5m0 1v1m0 5v1m0 1v1m0 3v2M35 65v1m0 4v1m0 3v1m0 1v3m0 1v2m0 1v1m0 1v2m0 1v4m0 1v4m0 1v2m0 3v7M36 71v1m0 2v3m0 2v1m0 1v2m0 1v1m0 1v1m0 2v3m0 1v4m0 2v3m0 1v5M37 73v1m0 3v2m0 2v1m0 1v1m0 1v1m0 4v3m0 1v1m0 1v1m0 4v2m0 4v1m0 1v1M38 68v1m0 4v1m0 5v5m0 1v1m0 2v2m0 2v3m0 1v2m0 1v1m0 2v3m0 1v1m0 1v2M39 65v1m0 2v1m0 1v1m0 5v2m0 3v9m0 1v1m0 2v2m0 3v1m0 1v1m0 1v2m0 1v6M40 54v1m0 12v2m0 3v1m0 4v7m0 1v3m0 1v2m0 3v1m0 1v1m0 4v1m0 2v7M41 67v1m0 2v2m0 3v2m0 2v1m0 1v5m0 1v3m0 3v2m0 1v4m0 1v3m0 1v2m0 1v3m0 1v1M42 69v1m0 1v1m0 3v6m0 1v4m0 1v2m0 4v2m0 2v1m0 1v1m0 3v5m0 2v4M43 52v1m0 15v1m0 3v1m0 1v2m0 2v1m0 1v1m0 2v3m0 2v1m0 1v3m0 1v1m0 2v1m0 2v2m0 1v2m0 2v5M44 68v1m0 4v2m0 2v2m0 1v1m0 1v1m0 5v1m0 1v1m0 1v7m0 1v1m0 1v3m0 2v1m0 1v2m0 2v1M45 67v2m0 2v1m0 3v1m0 1v4m0 1v1m0 1v1m0 2v3m0 2v2m0 1v3m0 1v3m0 1v2m0 1v1m0 1v2m0 4v1M46 66v1m0 2v4m0 1v1m0 2v7m0 1v1m0 1v1m0 1v1m0 3v4m0 3v2m0 3v1m0 1v1m0 1v5m0 1v1M47 70v2m0 2v1m0 1v5m0 1v1m0 1v1m0 3v1m0 1v1m0 1v1m0 1v6m0 1v1m0 1v1m0 2v2m0 2v4M48 67v6m0 1v9m0 1v2m0 1v1m0 2v8m0 1v6m0 1v2m0 1v1m0 1v4M49 67v1m0 1v1m0 2v2m0 2v1m0 1v1m0 1v2m0 1v2m0 1v1m0 1v3m0 1v2m0 1v2m0 1v2m0 3v1m0 1v1m0 1v1m0 1v1m0 2v1m0 1v2M50 43v1m0 23v1m0 1v1m0 2v5m0 1v5m0 1v7m0 2v1m0 1v1m0 3v4m0 1v2m0 2v1m0 2v3m0 1v1M51 42v1m0 28v1m0 1v7m0 1v6m0 1v2m0 1v1m0 1v1m0 4v5m0 2v7m0 1v2M52 70v1m0 1v3m0 1v1m0 1v3m0 1v2m0 2v4m0 1v1m0 1v1m0 3v2m0 2v2m0 2v1m0 1v4m0 1v5M53 66v2m0 1v3m0 1v1m0 2v3m0 1v2m0 1v1m0 1v4m0 1v1m0 1v1m0 2v3m0 1v2m0 1v10m0 1v3M54 65v1m0 2v1m0 1v1m0 1v1m0 2v3m0 1v8m0 2v1m0 1v3m0 1v4m0 1v4m0 1v1m0 1v1m0 2v5M55 44v1m0 22v3m0 1v5m0 2v5m0 1v5m0 1v4m0 1v1m0 1v1m0 3v3m0 2v4m0 1v6M56 45v1m0 22v3m0 1v2m0 2v2m0 1v9m0 1v1m0 2v2m0 3v5m0 1v5m0 1v2m0 1v4M57 43v1m0 11v1m0 14v3m0 2v11m0 2v4m0 1v1m0 1v2m0 1v3m0 1v6m0 1v7M58 68v3m0 1v2m0 1v3m0 1v1m0 1v6m0 2v1m0 1v1m0 1v1m0 9v6m0 2v4M59 48v1m0 17v1m0 1v1m0 1v2m0 2v1m0 1v2m0 1v7m0 1v4m0 1v5m0 2v2m0 2v1m0 3v1m0 1v2m0 1v4M60 76v1m0 1v5m0 1v2m0 1v2m0 1v4m0 1v3m0 1v3m0 1v1m0 1v4m0 1v4m0 1v3M61 46v1m0 21v1m0 1v2m0 3v2m0 2v1m0 1v1m0 2v1m0 1v9m0 1v3m0 1v4m0 2v3m0 1v7M62 52v1m0 15v3m0 4v1m0 1v4m0 1v4m0 2v1m0 2v2m0 1v3m0 1v9m0 1v4m0 2v1m0 2v2M63 51v1m0 2v1m0 15v1m0 1v2m0 1v1m0 1v2m0 2v12m0 2v5m0 1v1m0 1v2m0 2v3m0 1v4m0 3v1M64 45v1m0 9v1m0 2v1m0 10v2m0 1v4m0 1v1m0 1v4m0 2v3m0 1v1m0 1v3m0 3v5m0 1v4m0 1v4m0 1v3m0 3v1M65 53v1m0 15v2m0 1v1m0 6v2m0 4v1m0 1v10m0 1v1m0 1v14m0 1v2M66 53v1m0 17v2m0 2v3m0 3v1m0 1v2m0 2v7m0 2v2m0 1v2m0 1v1m0 5v6m0 2v1m0 1v1M67 41v1m0 28v5m0 2v1m0 1v5m0 1v4m0 2v2m0 1v1m0 1v1m0 1v2m0 1v6m0 1v7m0 1v2m0 1v1M68 71v1m0 1v5m0 2v3m0 2v1m0 1v1m0 1v3m0 1v1m0 1v1m0 1v4m0 3v4m0 1v3m0 1v6M69 58v1m0 11v5m0 2v1m0 1v2m0 1v3m0 1v2m0 1v4m0 9v2m0 1v3m0 2v1m0 1v3m0 2v2M70 45v1m0 24v1m0 1v4m0 1v5m0 2v1m0 1v7m0 2v2m0 1v1m0 2v2m0 3v6m0 2v4M71 41v1m0 27v3m0 2v3m0 1v4m0 1v1m0 3v1m0 1v3m0 1v2m0 5v3m0 1v8m0 1v1m0 1v2m0 1v1M72 58v1m0 11v2m0 1v2m0 1v1m0 3v2m0 1v1m0 2v6m0 2v1m0 1v1m0 2v1m0 4v2m0 3v1m0 2v1m0 1v3M73 70v3m0 2v2m0 1v1m0 3v3m0 1v1m0 2v1m0 2v1m0 6v1m0 2v2m0 3v3m0 1v3m0 1v1m0 1v1m0 1v1M74 45v1m0 5v1m0 17v1m0 6v1m0 1v1m0 3v2m0 5v2m0 1v1m0 1v1m0 1v1m0 1v9m0 1v5m0 1v1m0 3v2M75 44v2m0 9v1m0 4v1m0 1v1m0 6v1m0 3v1m0 1v1m0 1v1m0 1v3m0 1v6m0 2v5m0 1v2m0 2v3m0 1v1m0 1v2m0 1v7M76 42v2m0 31v1m0 3v4m0 1v2m0 5v3m0 2v3m0 1v3m0 1v3m0 2v2m0 1v3m0 1v1M77 59v1m0 11v1m0 1v5m0 1v2m0 1v1m0 1v1m0 2v2m0 3v1m0 5v2m0 1v1m0 2v1m0 2v1m0 1v1m0 2v4m0 1v1M78 49v1m0 18v1m0 1v1m0 4v1m0 1v6m0 1v1m0 1v4m0 1v2m0 2v1m0 2v2m0 1v5m0 2v2m0 2v2m0 1v1M79 43v1m0 1v1m0 2v1m0 3v1m0 20v1m0 1v2m0 1v1m0 2v3m0 1v1m0 1v1m0 1v2m0 1v1m0 2v1m0 2v1m0 1v2m0 1v3m0 1v2m0 1v1m0 1v1m0 1v5M80 43v1m0 27v4m0 2v1m0 1v2m0 1v3m0 2v6m0 1v1m0 3v3m0 2v9m0 1v5M81 38v1m0 37v1m0 2v5m0 1v7m0 1v4m0 2v1m0 1v4m0 1v1m0 2v9M82 39v2m0 33v3m0 1v7m0 1v2m0 1v1m0 1v1m0 2v1m0 3v1m0 1v3m0 1v4m0 2v6M83 40v1m0 14v2m0 13v1m0 1v2m0 1v1m0 1v5m0 1v3m0 2v9m0 2v2m0 1v1m0 1v4m0 1v2m0 4v3M84 41v1m0 28v1m0 1v4m0 3v5m0 1v2m0 2v4m0 1v4m0 2v6m0 2v1m0 1v2m0 1v3M85 41v1m0 14v1m0 18v1m0 3v2m0 1v1m0 2v7m0 1v1m0 2v5m0 1v3m0 1v1m0 2v2m0 1v3M86 43v1m0 27v1m0 4v1m0 1v1m0 2v1m0 2v7m0 1v1m0 1v3m0 1v2m0 2v1m0 4v3m0 1v1m0 2v1m0 2v1M87 75v1m0 3v5m0 2v1m0 1v1m0 1v2m0 1v3m0 1v6m0 1v1m0 1v4m0 1v1m0 1v2m0 2v1M88 38v1m0 13v1m0 2v1m0 22v2m0 1v8m0 1v2m0 1v5m0 1v1m0 1v3m0 4v1m0 1v5M89 41v1m0 3v1m0 5v1m0 5v1m0 15v1m0 2v2m0 2v6m0 3v3m0 1v1m0 5v2m0 3v1m0 2v3m0 2v1m0 2v1M90 52v1m0 10v1m0 12v3m0 1v6m0 2v1m0 2v1m0 1v1m0 1v1m0 1v1m0 1v3m0 4v5m0 1v1m0 2v1M91 47v1m0 29v1m0 1v6m0 3v2m0 2v1m0 1v6m0 1v8m0 1v6M92 58v1m0 19v3m0 1v2m0 2v2m0 4v3m0 1v1m0 1v5m0 2v10M93 75v5m0 5v3m0 1v4m0 1v2m0 1v1m0 1v1m0 1v2m0 1v1m0 1v6m0 3v1M94 78v1m0 3v1m0 1v5m0 1v1m0 1v5m0 2v1m0 1v1m0 1v10m0 2v1M95 44v1m0 12v1m0 2v1m0 18v1m0 3v1m0 1v4m0 1v4m0 1v3m0 1v2m0 1v2m0 1v2m0 1v3m0 2v1M96 62v1m0 15v1m0 2v4m0 2v2m0 1v2m0 2v1m0 1v9m0 1v1m0 1v1m0 3v4M97 43v1m0 7v1m0 10v1m0 15v1m0 1v2m0 1v2m0 2v5m0 2v1m0 2v4m0 1v10m0 1v1M98 18v1m0 21v1m0 16v1m0 23v2m0 3v1m0 1v1m0 1v1m0 1v9m0 2v5m0 3v1M99 17v1m0 33v1m0 27v1m0 1v1m0 4v2m0 1v1m0 1v3m0 1v2m0 3v1m0 1v4m0 2v2m0 1v1M100 39v1m0 41v1m0 1v3m0 1v1m0 2v1m0 2v1m0 3v5m0 1v1m0 2v1m0 1v4m0 1v1M101 21v1m0 31v1m0 7v1m0 16v2m0 1v1m0 1v1m0 2v5m0 3v1m0 2v5m0 1v2m0 1v3m0 4v1M102 10v1m0 6v1m0 37v1m0 25v2m0 1v5m0 1v6m0 1v3m0 1v4m0 1v3M103 17v1m0 5v1m0 57v1m0 1v1m0 1v4m0 1v7m0 1v2m0 1v1m0 1v1m0 3v1m0 1v2M104 70v1m0 8v1m0 1v1m0 1v1m0 2v3m0 1v4m0 2v3m0 1v1m0 2v2m0 1v4M105 50v1m0 14v1m0 5v1m0 12v1m0 1v2m0 2v1m0 1v1m0 1v3m0 1v2m0 2v2m0 1v3m0 1v1M106 40v1m0 17v1m0 21v2m0 2v3m0 1v1m0 1v4m0 3v1m0 1v1m0 1v4m0 1v3M107 24v1m0 16v1m0 19v1m0 7v1m0 1v1m0 13v3m0 1v3m0 1v1m0 1v2m0 3v3m0 1v1M108 46v1m0 12v1m0 23v2m0 2v7m0 1v3m0 3v4m0 1v2M109 21v1m0 33v1m0 26v2m0 3v2m0 2v6m0 1v5m0 1v1M110 50v1m0 19v1m0 2v1m0 8v1m0 2v3m0 1v1m0 1v4m0 2v3m0 1v1M111 42v1m0 2v1m0 2v1m0 1v1m0 6v1m0 10v1m0 17v2m0 2v1m0 1v1m0 3v1m0 1v2m0 1v2M112 74v1m0 9v1m0 1v1m0 1v4m0 1v1m0 1v1M113 9v1m0 73v1m0 2v1m0 2v1m0 8v2m0 3v1M114 44v1m0 12v1m0 31v3M115 42v1m0 45v1m0 3v1M116 10v1m0 34v1m0 10v1M117 42v1m0 2v1m0 3v1M118 48v1m0 5v1m0 2v1m0 6v1M119 47v1m0 1v1m0 8v1M120 43v2m0 9v1m0 8v1M121 43v1m0 3v2m0 1v1m0 9v1M122 45v1m0 3v1m0 7v1m0 2v1m0 1v2M123 42v1m0 4v1m0 2v1m0 3v1m0 3v1m0 2v1M124 43v1m0 2v1m0 9v1m0 2v1m0 3v1M125 41v2m0 2v2m0 10v1m0 1v1m0 31v1M126 43v1m0 2v1m0 3v3m0 2v2m0 3v2m0 2v1M127 45v1m0 1v1m0 7v1M128 47v1m0 1v1m0 3v4m0 5v2M129 47v1m0 5v2m0 2v2m0 34v1M130 44v1m0 2v1m0 6v2m0 3v1m0 2v1m0 1v1M131 48v4m0 2v3m0 2v1m0 2v1m0 19v2m0 9v1M132 49v6m0 2v2m0 3v1m0 31v1M133 47v1m0 7v1m0 2v1m0 27v1M134 49v1m0 3v1m0 7v1M135 21v1m0 32v2m0 4v1m0 22v1m0 2v1M136 50v1m0 1v1m0 4v1m0 6v1m0 21v1M137 55v2M138 53v1m0 1v1m0 8v1m0 21v1M139 52v1m0 10v2m0 22v1m0 1v1M140 54v1m0 32v1M141 57v1m0 1v2M142 58v2m0 4v1m0 1v1M143 54v2m0 4v1m0 2v1M144 64v2m0 3v1M145 54v1m0 2v1m0 5v2M146 54v1m0 12v1M147 60v1m0 2v2M148 59v1m0 4v1m0 5v1m0 15v1M149 63v1m0 2v1m0 2v1M150 58v1m0 3v1m0 1v1M151 56v1m0 9v1M152 54v1m0 2v1m0 1v1m0 4v1M153 58v1m0 1v2m0 2v1m0 2v1M154 61v1m0 1v1m0 6v1M155 60v1m0 1v1m0 1v2m0 1v1m0 1v1M156 59v1M157 56v1M158 57v2m0 7v2m0 2v1M159 58v3m0 1v1m0 2v2m0 2v2M160 57v1m0 1v2m0 3v1m0 1v1M161 37v1m0 19v1m0 1v1m0 2v1m0 2v1m0 1v1M162 56v1m0 4v2m0 2v2m0 2v1M163 58v1m0 4v1m0 3v3m0 10v1M164 57v1m0 1v1m0 5v2m0 17v1M165 36v2m0 21v3m0 2v3m0 2v1M166 37v1m0 2v1m0 18v2m0 1v1m0 5v1M167 32v1m0 26v1m0 1v4m0 9v1m0 1v1m0 2v1M168 38v1m0 20v5m0 1v1m0 1v2m0 10v1M169 39v1m0 19v2m0 1v2m0 1v2m0 2v1m0 2v1M170 60v5m0 1v1m0 8v1M171 61v2m0 3v1m0 1v2m0 7v1m0 2v1M172 60v2m0 2v1m0 1v2m0 10v1M173 60v1m0 2v4m0 4v1m0 2v3M174 62v2M178 41v1"/>
<path stroke="#baa3e4" d="M9 90v1M15 48v1M16 90v1M18 85v1m0 11v1M19 98v1M20 85v1m0 1v1M21 83v1m0 2v1m0 1v1M22 84v1m0 5v1m0 9v1M23 82v1m0 5v2m0 6v2M24 71v2m0 16v1M25 70v1m0 1v1m0 16v1m0 1v1M26 71v1m0 1v1m0 13v1M27 70v2m0 2v1m0 10v1m0 2v1m0 7v1m0 5v1M28 73v1m0 20v1M29 69v1m0 25v1M30 70v3m0 9v1m0 6v1m0 3v1m0 5v3M31 67v3m0 2v1m0 1v1m0 1v2m0 11v1m0 11v1M32 69v2m0 2v1m0 5v1m0 10v1m0 8v2M33 69v2m0 3v2m0 14v1M34 71v1m0 2v1m0 2v1m0 5v1m0 2v1m0 17v1m0 3v1M35 68v1m0 2v1m0 1v1m0 26v1M36 44v1m0 21v2m0 1v1m0 2v2m0 4v1m0 29v1m0 1v1M37 67v1m0 1v1m0 2v1m0 1v1m0 1v1m0 5v1m0 10v1M38 67v1m0 1v1m0 1v2m0 1v2m0 15v1m0 8v1m0 6v1M39 67v1m0 1v1m0 2v1m0 1v1m0 5v1m0 17v1M40 70v1m0 2v1m0 1v1m0 8v1m0 26v1M41 45v1m0 20v1m0 1v2m0 2v1m0 1v1m0 2v2m0 7v1m0 4v1m0 19v1m0 1v1M42 68v1m0 1v1m0 1v2m0 7v1m0 4v1m0 3v3m0 8v1M43 67v1m0 1v2m0 2v1m0 8v1m0 13v1m0 15v1M44 45v1m0 1v1m0 18v1m0 34v1m0 9v1M45 47v1m0 21v1m0 2v1m0 1v1m0 1v1m0 17v1M46 73v1m0 1v1m0 10v1m0 4v1m0 6v1m0 5v1M47 58v1m0 8v2m0 3v2m0 1v1m0 7v1m0 2v1M48 43v1m0 11v1m0 49v1M49 102v1m0 7v1M50 71v1m0 22v1m0 3v1m0 10v1M51 47v1m0 5v2m0 2v1m0 11v1m0 2v1m0 30v1M52 45v1m0 5v1m0 15v1m0 1v1m0 1v1m0 3v1m0 1v1m0 3v1m0 3v1m0 10v1M53 47v1m0 8v1m0 15v1m0 1v2m0 22v1m0 13v1M54 43v1m0 3v1m0 5v1m0 1v1m0 13v1m0 1v1m0 2v1m0 15v1M55 49v1m0 4v1m0 1v1m0 13v1m0 12v1m0 20v1M56 48v1m0 6v1m0 18v1m0 20v1m0 6v1m0 5v1M57 45v1m0 8v1m0 2v1m0 11v1m0 3v2m0 17v1m0 15v1M58 48v1m0 1v1m0 1v1m0 18v1m0 8v1m0 6v1m0 6v1m0 15v1M59 42v1m0 14v1m0 40v1m0 5v1m0 1v1m0 1v1m0 7v2M60 47v1m0 3v2m0 2v1m0 12v1m0 1v1m0 1v1m0 1v1m0 11v1m0 2v1m0 4v1m0 3v1m0 10v1m0 4v1M61 45v1m0 23v1m0 10v1m0 2v1m0 1v1m0 18v2M62 45v1m0 26v1m0 1v1m0 15v1m0 16v1m0 4v1M63 46v1m0 22v1m0 4v1m0 1v1m0 2v1m0 22v1m0 2v2m0 3v1m0 6v1M64 41v1m0 6v1m0 10v1m0 18v1m0 4v1m0 12v1m0 10v1m0 4v1m0 5v1M65 50v1m0 1v1m0 3v1m0 1v1m0 12v1m0 12v1m0 12v1m0 19v1M66 44v1m0 3v1m0 2v1m0 22v1m0 3v1m0 16v1m0 2v1m0 7v1m0 7v1m0 2v1M67 43v2m0 9v1m0 20v1m0 2v1m0 11v1m0 16v1M68 37v2m0 29v1m0 3v1m0 5v1m0 15v1m0 8v1M69 38v1m0 3v1m0 2v1m0 10v2m0 3v1m0 32v1m0 1v3m0 5v1m0 3v2M70 41v1m0 4v1m0 8v1m0 15v1m0 22v1m0 4v1m0 13v1m0 4v1M71 55v1m0 1v2m0 1v1m0 27v1m0 3v1m0 3v1m0 6v1m0 13v1M72 39v1m0 3v1m0 2v1m0 3v1m0 5v1m0 3v1m0 17v1m0 14v1m0 4v1m0 1v1m0 1v1m0 7v1m0 6v1M73 44v2m0 7v1m0 4v1m0 15v1m0 2v1m0 13v1m0 2v1M74 22v1m0 21v1m0 4v1m0 2v1m0 1v1m0 2v1m0 12v1m0 14v1m0 5v1m0 21v1M75 20v1m0 22v1m0 5v1m0 1v1m0 5v1m0 3v1m0 27v1m0 16v1M76 40v1m0 15v1m0 2v1m0 30v1m0 3v2m0 7v1m0 7v1M77 40v1m0 2v1m0 1v1m0 3v1m0 4v1m0 6v1m0 28v1m0 3v1m0 2v1m0 7v1m0 10v1M78 45v2m0 4v1m0 1v1m0 2v1m0 2v1m0 34v1m0 1v1m0 3v1m0 5v2m0 3v1m0 5v1M79 41v1m0 4v1m0 4v1m0 5v2m0 1v1m0 10v1m0 27v1m0 6v1m0 4v1m0 1v1M80 46v1m0 7v1m0 21v1m0 1v1m0 2v1m0 20v1M81 44v3m0 2v2m0 2v1m0 1v2m0 15v1m0 5v1m0 13v1m0 5v1m0 6v1M82 41v1m0 2v1m0 1v2m0 2v4m0 6v1m0 29v1m0 1v1m0 2v1m0 3v1M83 39v1m0 2v1m0 3v1m0 2v2m0 2v1m0 4v1m0 2v1m0 39v1M84 28v1m0 11v1m0 2v1m0 1v2m0 1v1m0 7v2m0 1v1m0 24v1m0 24v1M85 39v1m0 13v1m0 4v2m0 1v1m0 16v1m0 13v1m0 2v1M86 41v1m0 2v2m0 10v1m0 3v1m0 1v1m0 19v2m0 7v1m0 11v1m0 8v1m0 2v1M87 36v2m0 4v1m0 1v1m0 4v1m0 9v1m0 17v1m0 18v1M88 45v1m0 7v1m0 2v1m0 2v2M89 36v1m0 3v1m0 5v1m0 8v2m0 3v1m0 17v1m0 8v1m0 7v1m0 9v2M90 18v1m0 18v1m0 3v1m0 4v1m0 1v1m0 11v1m0 18v1m0 10v1m0 5v1m0 1v1M91 43v1m0 7v1m0 2v1m0 7v1m0 37v1m0 8v1M92 41v2m0 5v1m0 3v1m0 1v1m0 2v1m0 2v1m0 3v1m0 25v1m0 4v1m0 7v2M93 42v2m0 14v1m0 5v2m0 30v1M94 18v1m0 20v3m0 5v1m0 3v1m0 1v1m0 1v2m0 3v1m0 3v1m0 24v1m0 7v1m0 15v1M95 18v1m0 2v1m0 15v4m0 10v1m0 2v2m0 9v1m0 23v1m0 14v1m0 2v1m0 3v2m0 1v1M96 18v1m0 19v1m0 7v2m0 11v1m0 19v1m0 9v1m0 5v1m0 9v1m0 1v1M97 18v1m0 20v1m0 14v1m0 27v1m0 3v1m0 6v1M98 24v1m0 21v1m0 4v2m0 5v1m0 28v1m0 3v1m0 9v2m0 6v1M99 18v1m0 28v1m0 10v1m0 6v1m0 44v1M100 23v1m0 22v1m0 12v1m0 3v1m0 1v1m0 16v1M101 13v1m0 28v1m0 2v1m0 2v1m0 5v1m0 37v1m0 17v1M102 16v1m0 3v1m0 20v2m0 2v2m0 4v1m0 1v1m0 3v1m0 6v1m0 31v1m0 3v1m0 8v1M103 20v1m0 19v1m0 8v2m0 4v4m0 43v1m0 1v1m0 3v1M104 22v1m0 22v1m0 7v1m0 1v1m0 3v1m0 1v1m0 48v1M105 11v1m0 34v1m0 4v1m0 1v2m0 1v1m0 1v1m0 7v1m0 1v1m0 13v1m0 2v1m0 5v1M106 44v1m0 17v1m0 5v1m0 20v1m0 4v1m0 10v1M107 47v1m0 1v1m0 5v1m0 8v1m0 7v1m0 15v1m0 3v1m0 5v1M108 44v1m0 20v1m0 4v1m0 4v1m0 18v1M109 43v1m0 4v1m0 2v2m0 10v1m0 5v1m0 4v1m0 10v1m0 3v2M110 12v1m0 9v2m0 30v1m0 10v1m0 24v1m0 5v1M111 7v1m0 36v1m0 18v1m0 24v2m0 1v1m0 2v1M112 42v1m0 1v1m0 9v1m0 9v1M113 44v2m0 4v1m0 1v1m0 5v3M114 48v1m0 5v1m0 6v1m0 2v1M115 15v1m0 1v1m0 30v1m0 2v1m0 4v1m0 1v1m0 2v1m0 2v1M116 16v1m0 8v1m0 20v1m0 5v1m0 1v1m0 4v1m0 1v1M117 12v1m0 6v1m0 23v1m0 12v1m0 3v3M118 49v3m0 8v1M119 42v1m0 2v1m0 2v1m0 3v1m0 3v1m0 2v1m0 1v1m0 2v1M120 15v2m0 25v1m0 2v6m0 4v2M121 12v1m0 36v1m0 5v1m0 1v1m0 4v1M122 11v1m0 30v1m0 4v1m0 2v3m0 3v1m0 1v2M123 17v1m0 3v1m0 30v1m0 6v2m0 10v2M124 44v1m0 2v1m0 2v3m0 4v1m0 2v1m0 10v1m0 12v1M125 43v1m0 5v5m0 1v2m0 3v1m0 1v1m0 9v1M126 42v1m0 5v1m0 4v1m0 3v3m0 8v1M127 50v1m0 2v1m0 3v6m0 20v1M128 46v1m0 10v2m0 1v1m0 23v1m0 1v1m0 3v1M129 45v2m0 3v1m0 1v1m0 2v2m0 2v1m0 28v1m0 1v1M130 45v1m0 10v1m0 1v1m0 10v1m0 14v1m0 1v1M131 57v1m0 28v2M132 20v1m0 34v2m0 14v1m0 12v1M133 48v1m0 1v1m0 6v1m0 1v2m0 21v2M134 52v1m0 2v1m0 1v2m0 1v1m0 24v1M135 47v1m0 8v3m0 26v1M136 49v1m0 3v1m0 2v1m0 1v1M137 54v1m0 4v1m0 2v1M138 57v1m0 27v1M139 53v1m0 3v1M140 60v6m0 18v1M141 55v1m0 10v1M142 52v1m0 7v2m0 6v1m0 16v1m0 1v1M143 58v2m0 2v1m0 1v2m0 1v1m0 17v1M144 57v1m0 2v1m0 2v1m0 11v1m0 9v1m0 3v1M145 66v1m0 1v1m0 15v1M146 59v1m0 5v2m0 1v1m0 13v1M147 54v1m0 2v3m0 5v1m0 1v1m0 15v1m0 2v1M148 57v1m0 10v1m0 6v1m0 5v1M149 56v2m0 4v1m0 21v1M150 65v1m0 1v3m0 9v2m0 3v1M151 55v1m0 2v2m0 1v1m0 1v3m0 3v1m0 8v1m0 3v1M152 56v1m0 1v1m0 3v1m0 5v3m0 7v1m0 3v2M153 49v1m0 12v2m0 1v1m0 3v1M154 56v1m0 1v2m0 2v1m0 1v1m0 13v1m0 1v1M155 55v1m0 1v1m0 3v1m0 6v1m0 1v2M156 58v1m0 5v2m0 3v1m0 9v1m0 1v1m0 2v1M157 34v1m0 3v1m0 19v1m0 6v1m0 1v2m0 1v1m0 8v1M158 60v1m0 1v2M159 36v1m0 18v3m0 3v1m0 2v1m0 3v1M160 47v1m0 10v1m0 2v2m0 2v1m0 1v3m0 9v3M161 35v1m0 22v1m0 1v2m0 1v2m0 1v1m0 2v2m0 6v2m0 1v1M162 37v1m0 19v4m0 2v1m0 6v1m0 6v1M163 37v2m0 18v1m0 1v2m0 3v3m0 3v1M164 35v2m0 21v1m0 1v5m0 2v3m0 15v1M165 58v1m0 3v2m0 3v2M166 64v4m0 2v1m0 3v1m0 4v1M167 66v2m0 1v1m0 8v1M168 64v1m0 4v1m0 4v1M169 38v1m0 1v1m0 20v1m0 5v1M170 38v1m0 2v1m0 1v1m0 21v1m0 1v1m0 3v1m0 5v1M171 63v2m0 2v1m0 2v1m0 1v1M172 44v1m0 17v1m0 5v1M173 43v1m0 1v1M174 43v1m0 21v1m0 6v1M175 44v2m0 2v1m0 27v1M176 45v2m0 26v1m0 1v2M178 43v1"/>
<path stroke="#9f76ee" d="M8 90v1M17 75v1M22 51v1m0 33v2M23 50v1m0 35v1M24 48v1M25 52v1m0 1v1M26 50v1m0 19v1m0 1v1M27 49v2M28 46v1m0 5v1M29 53v1m0 16v1M30 48v1m0 2v1m0 16v1M31 47v1m0 4v1M32 54v1m0 17v1M33 52v1M34 46v1m0 4v1m0 17v1M35 47v1m0 2v1m0 1v1m0 16v1M36 47v1m0 20v1m0 1v1M37 46v2m0 3v1m0 14v1m0 1v1m0 1v2M38 53v1m0 12v1m0 3v1M39 48v3m0 20v1M40 45v1m0 1v2m0 1v1m0 18v1m0 1v1M41 46v1m0 3v1m0 1v1M42 53v1M43 43v1m0 5v3m0 19v1M44 49v1m0 1v1m0 2v1m0 14v4M45 48v3m0 1v3m0 1v1m0 16v1M46 43v1m0 1v1m0 3v1m0 3v1m0 1v1m0 12v1M47 47v1m0 2v2m0 2v1m0 14v1M48 48v1M49 49v1m0 2v4m0 14v1M50 44v1m0 1v1m0 4v1m0 1v1m0 1v2m0 13v1M51 44v1m0 7v1m0 2v1M52 47v1m0 4v4M53 43v2m0 1v1m0 1v4m0 1v1m0 1v1M54 49v1m0 1v1m0 4v2M55 42v1m0 4v2m0 3v1m0 4v1M56 42v1m0 6v1M57 44v1m0 2v2m0 2v1M58 46v2m0 6v1m0 2v1M59 43v3m0 1v1m0 1v5m0 4v1M60 41v1m0 1v1m0 1v1m0 8v1m0 1v2M61 41v1m0 6v4m0 1v2m0 2v1M62 44v1m0 5v2m0 2v1m0 1v1M63 43v3m0 1v3m0 3v1m0 1v1M64 42v1m0 3v2m0 3v3m0 2v2M65 41v1m0 2v1m0 1v3m0 2v1m0 2v1m0 4v1M66 40v1m0 2v1m0 1v1m0 4v1m0 5v2m0 2v1M67 48v4m0 3v1m0 2v1M68 48v1m0 1v1m0 3v4M69 41v1m0 5v2m0 1v1m0 1v2m0 6v1M70 43v1m0 3v1m0 2v1m0 2v1m0 2v3M71 45v3m0 1v3m0 4v1M72 42v1m0 1v2m0 2v2m0 2v1m0 1v1m0 2v1M73 22v1m0 16v1m0 1v1m0 8v1m0 3v3M74 39v1m0 1v1m0 14v1m0 3v1M75 21v2m0 18v1m0 5v1m0 4v1m0 5v2M76 22v1m0 22v1m0 1v1m0 1v1m0 10v1M77 38v1m0 3v1m0 3v3m0 3v1m0 4v1M78 21v1m0 18v1m0 1v1m0 1v1m0 2v2m0 3v1m0 4v2m0 2v1M79 39v2m0 1v1m0 4v1m0 6v1m0 1v1m0 5v2M80 39v2m0 1v1m0 4v5m0 3v1m0 2v1m0 2v1M81 43v1m0 7v1m0 2v1m0 6v1M82 42v1m0 5v2m0 4v3m0 1v1m0 3v1M83 47v1m0 4v1m0 6v2M84 42v1m0 4v1m0 1v1m0 1v1m0 2v2M85 38v1m0 1v1m0 2v1m0 3v2m0 1v3m0 9v2M86 39v2m0 1v1m0 3v1m0 5v3M87 38v1m0 1v2m0 1v1m0 2v1m0 1v1m0 3v1m0 4v1M88 41v1m0 1v2m0 4v1m0 1v1m0 5v1m0 6v1M89 38v1m0 3v2m0 3v2m0 10v1m0 2v1M90 17v1m0 3v1m0 1v1m0 20v1m0 4v1m0 1v1m0 1v2m0 4v1m0 1v2M91 18v1m0 1v1m0 15v1m0 8v2m0 3v1m0 7v3M92 22v2m0 15v1m0 5v1m0 4v2m0 1v1m0 5v1m0 1v1m0 1v1M93 19v1m0 2v1m0 24v4m0 1v1m0 6v5M94 19v1m0 1v1m0 2v1m0 12v1m0 6v2m0 2v2m0 7v2m0 3v2M95 17v1m0 2v1m0 1v3m0 16v2m0 2v3m0 1v2m0 1v1m0 3v1m0 1v1m0 2v1m0 1v2M96 17v1m0 3v1m0 2v1m0 16v1m0 2v1m0 7v3m0 1v1m0 1v1m0 6v1M97 17v1m0 1v2m0 1v1m0 1v1m0 20v1m0 1v2m0 1v1m0 1v2m0 5v1m0 3v1M98 17v1m0 5v1m0 14v2m0 1v3m0 15v1m0 2v1M99 15v2m0 4v3m0 16v3m0 1v1m0 1v1m0 1v1m0 4v2m0 1v1m0 2v2M100 13v1m0 2v1m0 1v1m0 1v1m0 4v1m0 14v1m0 1v3m0 5v3m0 3v1m0 1v1m0 1v2M101 9v1m0 12v1m0 26v1m0 5v1m0 6v1m0 1v1M102 7v1m0 14v1m0 1v1m0 15v1m0 7v1m0 10v1m0 1v2m0 2v1M103 10v1m0 11v1m0 1v1m0 18v3m0 5v1m0 1v2m0 4v1m0 1v1m0 1v1m0 1v1M104 10v1m0 4v1m0 3v1m0 3v1m0 1v1m0 14v2m0 2v1m0 4v1m0 1v1m0 2v1m0 1v1m0 3v1m0 3v1m0 3v2m0 1v1M105 9v1m0 7v6m0 1v2m0 15v1m0 6v2m0 5v1m0 5v2m0 4v1m0 1v1M106 8v1m0 2v2m0 5v4m0 1v1m0 18v1m0 2v2m0 8v2m0 2v1m0 5v1m0 4v1M107 9v1m0 1v1m0 4v2m0 1v3m0 22v1m0 1v1m0 4v2m0 3v1m0 1v2m0 5v1m0 2v1M108 14v1m0 1v3m0 2v1m0 1v1m0 1v2m0 13v1m0 1v1m0 4v1m0 2v1m0 4v3m0 4v1m0 1v1M109 8v5m0 5v2m0 22v1m0 1v2m0 3v2m0 3v1m0 3v2m0 1v2m0 1v1m0 1v1m0 3v1m0 2v1M110 10v1m0 5v1m0 2v1m0 1v1m0 19v2m0 1v3m0 2v1m0 2v1m0 11v1m0 3v2M111 8v2m0 8v3m0 1v2m0 19v1m0 3v1m0 1v1m0 1v1m0 2v1m0 5v1m0 1v1m0 2v1m0 8v1M112 11v2m0 5v2m0 2v2m0 2v1m0 16v1m0 1v1m0 4v4m0 2v3m0 1v4m0 4v1M113 8v1m0 8v1m0 2v1m0 1v1m0 20v1m0 2v2m0 1v1m0 4v1m0 2v1m0 3v4m0 6v1m0 2v1M114 11v1m0 2v1m0 2v3m0 1v1m0 1v1m0 19v1m0 1v1m0 1v1m0 4v1m0 2v1m0 2v1m0 1v1M115 20v2m0 23v1m0 6v1m0 1v2m0 3v2M116 11v1m0 6v1m0 1v3m0 19v1m0 1v1m0 2v5m0 1v1m0 3v1m0 2v1M117 9v3m0 1v1m0 4v1m0 5v1m0 16v1m0 4v3m0 5v1m0 2v1M118 11v3m0 2v1m0 1v1m0 5v1m0 18v1m0 2v2m0 5v1m0 1v2m0 1v2m0 1v2M119 13v1m0 4v1m0 1v1m0 22v1m0 2v1m0 8v1m0 1v1M120 18v1m0 3v1m0 28v2m0 4v2m0 2v2M121 13v1m0 4v1m0 23v1m0 2v2m0 4v2m0 5v2m0 1v1M122 10v1m0 8v1m0 1v2m0 21v1m0 3v1m0 5v2m0 8v1M123 23v1m0 22v1m0 1v2m0 3v1m0 8v2m0 13v1M124 12v1m0 32v1m0 2v2m0 3v1m0 4v1m0 2v1m0 15v1M125 19v1m0 27v2m0 12v1m0 9v1M126 47v1m0 6v1m0 8v1m0 6v1m0 15v1m0 4v1M127 56v1m0 12v3m0 12v1m0 1v1M128 43v1m0 4v1m0 1v1m0 8v1m0 23v1m0 1v1m0 2v1M129 48v1m0 2v1m0 8v1m0 22v1m0 2v1M130 83v1m0 1v1m0 7v1M131 52v1m0 10v1M132 83v1m0 2v1M133 49v1m0 34v1M134 87v1M135 20v1m0 32v1m0 30v1M136 55v1m0 32v1M137 60v2m0 1v1m0 20v1m0 2v1M138 56v1m0 5v1M140 59v1M141 56v1m0 4v3m0 1v1m0 20v2M142 55v1m0 6v1m0 2v1m0 20v1M143 53v1m0 14v1m0 14v1m0 3v1M144 58v2m0 1v1m0 4v1m0 10v1m0 5v2m0 1v1M145 59v2m0 1v1m0 23v2M146 57v1m0 2v1m0 2v1m0 19v1m0 1v1M147 53v1m0 2v1m0 4v1m0 4v1m0 2v1m0 5v1m0 6v1M148 32v1m0 23v1m0 3v1m0 1v1m0 2v3m0 1v1m0 13v1m0 1v1M149 28v1m0 2v1m0 28v1m0 6v1M150 28v4m0 1v1m0 25v2m0 2v1m0 17v3m0 2v1M151 30v1m0 1v1m0 27v1m0 1v1m0 14v1m0 1v2M152 29v3m0 1v1m0 14v1m0 14v1m0 1v3m0 11v2M153 28v5m0 15v1m0 7v2m0 8v1m0 1v1m0 8v1m0 2v1m0 2v1M154 27v1m0 1v2m0 2v1m0 13v1m0 12v1m0 7v1M155 31v1m0 1v1m0 13v2m0 7v1m0 1v2m0 6v1m0 14v1M156 26v2m0 1v2m0 1v1m0 15v1m0 13v1m0 3v1m0 1v1m0 1v1m0 11v2M157 28v1m0 1v2m0 22v1m0 2v1m0 6v1m0 1v1m0 14v1M158 28v3m0 2v1m0 22v1m0 12v1m0 11v1M159 28v1m0 3v1m0 1v2m0 12v1m0 14v1m0 15v2m0 1v1M160 30v3m0 1v4m0 18v1m0 26v1M161 27v1m0 4v1m0 1v1m0 3v1m0 40v1m0 2v2M162 27v3m0 2v2m0 2v1m0 1v1m0 9v1m0 31v1M163 25v1m0 2v1m0 4v2m0 1v1m0 2v1m0 37v1M164 76v1m0 1v3M165 39v1m0 33v1m0 1v1m0 2v2M166 38v2m0 33v1m0 2v1M167 31v1m0 6v1m0 33v2m0 6v1M168 42v1m0 29v1m0 2v3M169 32v1m0 1v1m0 6v1m0 4v1m0 28v1m0 1v2M170 37v1m0 1v1m0 4v1m0 25v1m0 2v2m0 1v1M171 39v1m0 4v2m0 27v1m0 2v1M172 41v3m0 3v1m0 27v2m0 2v1M173 40v3m0 1v1m0 1v1m0 23v1m0 2v1M174 71v1m0 2v1M175 42v2m0 2v2m0 24v3M176 43v1m0 3v1M177 45v3m0 26v1M178 42v1m0 30v1M179 43v1m0 2v1M181 44v2"/>
<path stroke="#7c44fa" d="M22 50v1M23 51v2M26 51v1m0 1v1M27 46v1m0 4v1m0 1v1M28 48v4m0 1v1M29 47v1m0 1v2M30 49v2m0 1v1M31 48v2m0 1v1M32 47v5m0 1v1M33 48v3m0 2v1M34 47v1m0 1v2m0 1v1m0 1v1M35 49v1m0 1v1m0 1v2M36 48v1m0 2v2M37 53v2M38 47v1m0 2v1m0 3v1M39 46v2m0 3v1M40 51v3M41 47v3m0 4v2M42 48v1m0 1v1M43 54v1M44 48v1m0 4v1M45 45v2M46 47v2m0 3v1M47 46v1m0 2v1m0 3v1m0 1v1M48 47v1m0 6v1M49 46v1M50 45v1m0 1v2M51 49v3M52 50v1m0 5v1M53 45v1m0 8v1M54 45v2m0 5v1m0 1v1M55 45v2m0 4v1m0 3v1M56 43v2m0 1v2m0 4v2m0 3v1M57 42v1m0 3v1m0 3v1m0 2v1m0 2v1M58 44v1m0 4v1M59 46v1M60 46v1m0 1v1m0 4v1m0 4v1M61 44v1m0 14v1M62 43v1m0 9v1m0 4v1M63 58v1M65 43v1m0 5v1m0 7v1M66 47v1M67 40v1m0 1v1m0 2v1m0 1v1M68 44v1m0 2v1M69 40v1M70 49v1m0 9v1M71 44v1m0 8v1m0 5v1M72 55v1m0 3v1M73 42v2m0 2v1m0 1v1m0 10v1M74 40v1m0 7v1m0 4v1m0 5v1M76 21v1m0 22v1m0 1v1m0 3v1m0 1v1m0 1v2m0 2v1M77 22v1m0 18v1m0 2v1m0 5v2m0 1v1M78 41v1m0 1v1m0 10v1M79 44v1m0 5v1m0 10v1M80 22v1m0 22v1m0 6v1m0 9v1M81 23v1m0 16v2m0 6v1M82 61v1M83 41v1m0 1v1m0 4v1m0 5v1m0 2v1m0 4v1M84 50v1m0 2v1m0 6v1M85 45v1m0 3v1m0 5v1m0 4v1M86 47v1m0 3v1m0 6v1m0 2v1M87 50v2m0 3v1m0 4v4M88 37v1m0 8v2m0 6v1m0 7v1M89 19v1m0 1v1m0 15v1m0 1v1m0 4v1m0 7v1m0 8v1M90 40v1m0 1v1m0 13v1M91 19v1m0 22v1m0 5v1m0 3v1m0 3v1m0 6v1M92 21v1m0 18v1m0 6v1m0 14v1M93 39v2m0 5v1m0 4v1m0 2v2M94 22v2m0 11v2m0 15v1m0 1v1M95 43v1m0 4v1m0 4v1M96 19v2m0 1v2m0 15v1m0 10v2M97 16v1m0 4v1m0 1v1m0 1v1m0 14v1m0 20v1M98 16v1m0 2v4m0 21v2m0 1v1m0 1v1m0 3v1M99 20v1m0 4v1m0 13v1m0 10v1m0 1v1m0 2v1m0 6v3M100 17v1m0 1v1m0 2v1m0 1v1m0 20v1m0 7v1M101 17v4m0 2v2m0 16v1m0 4v1m0 3v2m0 4v1m0 1v1M102 19v1m0 3v1m0 1v1m0 24v1m0 1v1m0 1v1m0 1v1m0 3v1M103 11v1m0 3v1m0 2v2m0 1v1m0 19v2m0 9v1m0 7v1M104 11v1m0 8v2m0 20v2M105 10v1m0 5v1m0 6v1m0 18v1m0 9v1m0 10v2M106 9v2m0 3v1m0 2v1m0 4v1m0 18v1m0 1v1m0 3v1m0 6v1m0 8v2m0 6v1M107 8v1m0 1v1m0 1v1m0 5v1m0 4v1m0 1v2m0 15v2m0 1v1m0 8v1m0 7v1M108 8v5m0 2v1m0 3v2m0 1v1m0 25v1m0 3v1m0 7v2M109 17v1m0 2v1m0 1v2m0 2v1m0 19v2m0 20v1m0 3v1M110 8v2m0 1v1m0 5v1m0 2v1m0 3v1m0 15v1m0 7v1m0 6v2m0 5v1M111 10v3m0 3v2m0 3v1m0 2v1m0 33v1M112 7v1m0 1v1m0 6v2m0 2v2m0 25v2m0 6v1m0 15v2M113 7v1m0 2v1m0 7v2m0 1v1m0 2v1m0 23v1m0 6v1M114 10v1m0 1v2m0 6v1m0 4v1m0 15v1m0 4v1m0 12v1m0 2v1M115 11v2m0 3v1m0 2v1m0 2v3m0 19v1m0 1v1m0 6v1m0 9v1M116 12v1m0 10v1m0 31v1m0 6v1M117 17v1m0 2v4m0 20v1m0 6v1M118 23v1m0 20v2m0 17v1M119 12v1m0 10v1M120 10v1m0 1v2M121 10v1m0 10v1m0 1v1M122 15v1M125 21v1M126 21v1m0 49v1m0 12v1m0 5v1M128 68v1m0 3v1M129 21v1m0 63v1M131 20v1m0 1v1M132 21v1m0 59v2M133 81v1m0 3v1M136 21v3m0 60v1M137 86v1M138 20v1m0 66v1M139 86v1M141 83v1M142 84v1M146 74v1M148 28v3M149 33v1m0 45v1m0 2v2M151 28v2m0 1v1m0 1v1m0 49v1M152 28v1m0 3v1m0 51v1M153 33v1m0 47v1M154 31v2m0 16v1m0 31v1M155 26v1m0 2v2m0 1v1M156 28v1m0 2v1m0 1v1M157 27v1m0 1v1m0 2v2m0 13v1m0 1v1M158 27v1m0 3v2m0 1v1m0 45v1M159 26v2m0 1v3m0 1v1m0 44v1M160 26v4m0 3v1m0 14v1M161 28v4m0 1v1m0 13v1M162 30v2M163 29v1m0 1v2m0 46v1M164 27v2m0 3v2m0 7v1M165 28v1m0 1v1m0 16v1m0 26v1M166 30v1m0 44v1m0 1v2M167 28v1m0 1v1M168 30v1m0 1v1M169 30v2m0 1v1M170 30v1m0 1v1m0 7v1m0 38v1M172 32v1m0 44v1M174 45v1m0 2v1m0 26v1M175 71v1M176 41v1m0 2v1M177 44v1M178 45v3m0 1v1M179 42v1m0 1v2M180 45v1M181 43v1m0 2v1M182 46v1"/>
<path stroke="#5a22ff" d="M24 51v1M31 50v1M33 51v1M35 48v1M36 53v1M37 52v1M42 49v1"/>
</g>
<g transform="translate(555.1 543.6) scale(2.2 3.3)">
<path stroke="#c4c4c4" d="M8 91v1M17 91v1m0 1v1m0 5v1M18 88v1m0 5v1M19 88v1m0 2v1m0 2v1M20 92v1m0 3v1m0 1v1M21 81v1m0 2v1M22 81v1m0 5v1m0 4v1m0 1v1M23 80v1m0 24v1M24 77v1m0 5v1M25 79v1m0 8v1m0 3v1M26 76v1m0 8v1m0 2v2M27 72v1M28 67v1m0 1v1m0 2v1m0 14v1m0 3v1m0 9v1M29 71v1m0 1v1m0 3v2m0 2v2m0 5v1m0 7v2m0 9v1M30 47v1m0 27v1m0 1v1m0 5v1m0 7v2m0 13v1M31 70v1m0 11v1m0 1v1m0 3v1m0 3v1m0 4v1m0 7v1M32 68v1m0 6v2m0 16v1m0 2v1M33 67v2m0 3v1m0 5v2m0 1v1m0 17v1m0 3v1M34 70v1m0 1v1m0 6v1m0 1v1m0 7v1m0 3v1m0 16v1M35 65v1m0 4v1m0 3v1m0 3v1m0 6v1m0 4v1m0 2v1m0 1v2m0 1v1m0 4v1m0 2v1M36 71v1m0 2v2m0 15v1m0 1v3m0 3v1m0 5v1M37 81v1m0 3v1m0 4v3M38 68v1m0 10v1m0 5v1m0 7v1m0 2v2M39 68v1m0 1v1m0 5v1m0 4v1m0 1v1m0 1v1m0 1v1m0 3v1m0 2v1m0 4v1m0 1v1m0 6v1M40 54v1m0 12v2m0 9v1m0 1v1m0 1v1m0 2v1m0 4v1m0 13v1m0 2v1m0 1v1M41 67v1m0 2v1m0 4v1m0 7v1m0 5v1m0 6v2m0 7v2m0 3v1M42 69v1m0 1v1m0 7v1m0 4v1m0 2v1m0 5v1m0 3v1m0 13v1M43 52v1m0 15v1m0 3v1m0 1v1m0 5v1m0 3v1m0 3v1m0 8v1m0 5v2M44 73v1m0 3v1m0 2v1m0 13v1m0 5v1m0 9v1M45 68v1m0 2v1m0 5v1m0 4v1m0 14v1m0 1v1M46 69v4m0 5v1m0 2v1m0 7v1m0 23v1m0 1v1M47 77v1m0 2v1m0 1v1m0 5v1m0 6v1m0 1v1m0 1v1m0 11v1M48 67v6m0 1v2m0 1v1m0 3v2m0 4v1m0 4v1m0 20v2M49 72v1m0 3v1m0 1v1m0 5v1m0 1v1m0 6v1m0 1v1m0 2v1M50 67v1m0 6v1m0 4v2m0 4v1m0 2v1m0 15v1m0 7v1M51 74v1m0 2v1m0 3v1m0 4v1m0 2v1m0 8v2m0 1v1m0 7v1m0 3v1M52 70v1m0 2v1m0 5v2m0 2v1m0 2v1m0 6v1m0 11v1m0 7v1M53 70v1m0 7v1m0 1v1m0 2v1m0 11v1m0 1v1m0 1v1m0 2v1m0 12v1M54 65v1m0 2v1m0 1v1m0 4v1m0 5v2m0 1v1m0 1v1m0 9v1m0 1v1m0 1v1m0 13v1M55 71v1m0 2v1m0 3v1m0 1v2m0 34v1M56 72v1m0 6v2m0 1v2m0 1v2m0 2v1m0 7v3M57 70v3m0 2v3m0 1v1m0 1v1m0 1v1m0 9v1m0 16v1M58 68v3m0 6v1m0 1v1m0 1v1m0 3v1m0 5v1m0 15v1m0 3v1M59 66v1m0 1v1m0 5v1m0 5v2m0 8v1m0 5v1m0 17v1M60 76v1m0 1v1m0 3v1m0 1v1m0 2v1m0 2v1m0 4v1m0 21v1M61 68v1m0 10v1m0 7v1m0 2v1m0 3v1m0 1v1m0 1v1m0 1v2M62 52v1m0 15v1m0 6v1m0 6v2m0 14v1m0 1v1m0 4v1m0 11v2M63 75v1m0 5v1m0 1v1m0 1v2m0 4v1m0 5v1m0 1v1M64 73v1m0 11v2m0 10v1m0 5v1m0 1v1M65 69v2m0 22v2m0 1v1m0 5v2M66 53v1m0 17v1m0 3v1m0 8v1m0 8v1m0 5v1m0 18v1M67 70v1m0 1v1m0 4v1m0 7v2m0 5v1m0 1v1m0 8v1M68 73v2m0 2v1m0 7v1m0 1v1m0 1v1m0 1v1m0 6v1m0 5v2m0 1v1M69 70v1m0 1v2m0 5v1m0 3v1m0 3v1m0 3v2m0 12v1M70 70v1m0 1v1m0 5v1m0 2v1m0 5v2m0 9v1M71 74v1m0 4v3m0 1v1m0 5v2m0 9v3m0 3v1M72 71v1m0 4v1m0 6v1m0 3v2m0 1v1M73 76v1m0 7v1m0 1v1m0 16v1m0 15v1M74 76v1m0 5v1m0 13v1m0 3v1M75 62v1m0 6v1m0 9v1m0 3v1m0 1v1m0 2v1m0 8v1m0 3v2M76 22v1m0 58v1m0 9v1m0 4v1m0 4v1m0 3v1M77 71v1m0 40v1M78 81v1m0 2v1m0 1v1m0 8v1m0 3v1m0 2v1m0 2v1m0 3v1M79 45v1m0 2v1m0 27v1m0 4v1m0 5v1m0 2v1M80 72v1m0 6v1m0 12v1m0 12v1m0 1v1M81 23v1m0 52v1m0 2v5m0 9v2m0 4v1m0 3v1M82 40v1m0 35v1m0 2v1m0 2v3m0 1v2m0 6v1m0 6v2m0 3v2m0 3v1m0 1v1m0 1v1M83 55v1m0 16v1m0 4v3m0 3v1m0 1v1m0 5v1m0 3v1m0 8v1m0 2v1m0 8v1M84 28v1m0 51v1m0 1v1m0 11v2m0 15v1m0 3v1M85 56v1m0 22v2m0 1v1m0 3v1m0 11v1m0 1v1m0 3v1m0 1v1M86 81v1m0 3v1m0 8v1m0 12v1m0 9v1M87 80v1m0 2v1m0 2v1m0 4v1m0 6v1m0 1v1m0 5v1M88 78v2m0 7v1m0 5v1m0 1v1m0 7v1m0 6v1m0 2v1M89 57v1m0 19v1m0 13v1m0 1v1m0 6v1m0 6v2m0 6v1M90 17v1m0 3v1m0 30v1m0 23v1m0 4v1m0 11v1m0 6v2m0 7v1m0 5v1M91 79v2m0 3v1m0 23v1m0 1v1m0 3v2M92 21v1m0 1v1m0 34v1m0 23v1m0 4v1m0 8v1m0 2v1m0 7v2m0 1v2m0 1v1M93 19v1m0 58v1m0 8v1m0 4v1m0 1v1m0 12v2m0 1v2M94 18v2m0 1v2m0 1v1m0 57v1m0 1v2m0 4v1m0 2v2m0 6v1M95 24v1m0 68v1m0 3v1m0 2v1m0 5v1m0 3v1m0 2v1M96 21v1m0 1v1m0 38v1m0 15v1m0 3v1m0 11v1m0 3v2m0 1v1m0 13v1M97 19v1m0 1v1m0 59v1m0 2v1m0 2v2m0 1v1m0 3v1m0 2v1m0 1v1m0 3v1m0 5v1m0 1v1M98 18v2m0 2v1m0 58v2m0 3v1m0 1v1m0 7v1m0 1v1m0 8v1M99 15v3m0 3v1m0 3v1m0 53v1m0 11v2m0 3v1m0 3v1m0 2v2m0 3v1M100 23v1m0 60v1m0 2v1m0 5v1m0 14v1m0 1v1m0 2v1M101 9v1m0 3v1m0 3v1m0 3v1m0 2v1m0 28v1m0 7v1m0 19v1m0 7v1m0 7v1m0 3v1m0 1v1m0 3v2M102 10v1m0 6v1m0 2v1m0 2v3m0 56v1m0 4v1m0 2v1m0 4v1m0 5v4m0 1v1M103 11v1m0 5v2m0 4v1m0 59v1m0 4v1m0 1v1m0 3v1m0 1v1m0 1v2m0 3v1M104 19v1m0 2v2m0 1v1m0 53v1m0 10v1m0 1v2m0 3v2m0 5v1m0 3v2M105 9v1m0 8v1m0 4v1m0 60v1m0 13v2m0 3v1m0 2v1m0 2v1M106 11v1m0 5v2m0 2v1m0 71v1m0 8v1M107 24v1m0 1v1m0 44v1m0 13v1m0 3v1M108 9v2m0 48v1m0 27v2m0 3v1m0 3v1m0 6v1M109 9v1m0 10v2m0 4v1m0 28v1m0 35v2m0 1v2m0 2v1M110 8v2m0 6v1m0 3v1m0 1v1m0 1v1m0 57v1m0 2v1m0 3v1m0 1v1m0 2v1m0 6v1M111 16v1m0 1v1m0 2v2m0 34v1m0 29v1m0 4v1m0 3v1M112 12v1m0 3v1m0 2v1m0 2v1M113 9v1m0 8v1m0 1v1m0 1v1m0 1v1m0 64v1M114 10v1m0 8v2m0 2v1m0 1v1m0 63v2M115 20v1m0 71v1M116 10v1m0 7v1m0 2v2M117 12v1m0 5v1m0 2v1M119 12v1M120 12v2M121 23v1m0 23v1M123 21v1m0 1v1m0 30v1M124 12v1M125 42v1M129 53v1M130 59v1M132 21v1M135 21v1M136 21v1m0 1v1m0 62v1M138 20v1M139 89v1M147 60v1M159 65v1m0 3v1M160 59v1M162 62v1M167 32v1M169 39v1M178 41v1"/>
<path stroke="#baa3e4" d="M15 48v1M16 90v1m0 6v1M18 74v1m0 10v1m0 5v1M19 103v1M20 85v3m0 5v2m0 5v1M21 75v1m0 7v1m0 2v1m0 1v2M22 76v1m0 2v1m0 4v1m0 5v1m0 2v1m0 4v1m0 1v1M23 76v1m0 5v1m0 5v2m0 8v1M24 71v2m0 1v1m0 4v2M25 71v1m0 1v1m0 6v1m0 9v2m0 5v1m0 4v1m0 1v1M26 69v1m0 4v1m0 22v1m0 6v1M27 70v1m0 2v1m0 2v1m0 6v1m0 5v1m0 4v1m0 3v1m0 5v1M28 73v1m0 1v1m0 3v1m0 15v1M29 69v1m0 6v1m0 3v1m0 3v2m0 6v4M30 48v1m0 21v3m0 7v1m0 1v1m0 20v1M31 67v3m0 2v3m0 1v1m0 3v2m0 1v1m0 2v1m0 3v1m0 5v1m0 1v2m0 6v1m0 1v1M32 54v1m0 14v2m0 2v1m0 6v2m0 2v2m0 8v1m0 4v2m0 5v1M33 69v2m0 11v1m0 2v2m0 2v2m0 1v4m0 1v1m0 3v1m0 2v1m0 4v1M34 71v1m0 11v2m0 1v1m0 5v1m0 1v1m0 14v1M35 68v1m0 2v1m0 1v1m0 2v2m0 2v1m0 2v1m0 4v2m0 1v1m0 2v1m0 4v1M36 66v2m0 1v1m0 2v1m0 8v1m0 4v1m0 9v1m0 7v1m0 2v2M37 67v1m0 1v1m0 2v3m0 2v1m0 4v2m0 9v2m0 1v1m0 5v1M38 67v1m0 1v1m0 1v2m0 1v1m0 5v4m0 4v1m0 10v1m0 3v1m0 3v1m0 1v1M39 65v1m0 1v1m0 1v1m0 2v1m0 9v1m0 3v1m0 8v1m0 2v1m0 4v1m0 2v2m0 1v1M40 70v1m0 1v1m0 4v1m0 1v1m0 7v1m0 6v1m0 6v1m0 3v1m0 2v1M41 66v1m0 1v2m0 4v1m0 1v1m0 1v2m0 1v2m0 2v1m0 1v2m0 5v1m0 3v2m0 1v1m0 1v1m0 4v2m0 1v1m0 1v1M42 68v1m0 1v1m0 1v1m0 2v4m0 1v2m0 4v1m0 4v2m0 1v1m0 8v2m0 7v1M43 67v1m0 1v2m0 2v1m0 9v1m0 10v1m0 1v1m0 3v1M44 68v1m0 5v1m0 3v1m0 3v1m0 9v1m0 3v2m0 3v2m0 1v1m0 6v1M45 78v1m0 1v1m0 11v1m0 1v2m0 7v1m0 4v2M46 73v1m0 6v1m0 2v1m0 1v1m0 1v1m0 3v1m0 3v1m0 4v2m0 7v4M47 67v1m0 2v2m0 1v1m0 1v2m0 1v2m0 10v1m0 3v1m0 3v1m0 2v1m0 1v1m0 8v2M48 76v1m0 7v1m0 10v3m0 2v2m0 1v1m0 8v1M49 67v1m0 1v1m0 19v1m0 6v1m0 2v1m0 3v1m0 3v1m0 6v1M50 69v1m0 1v2m0 2v2m0 4v2m0 1v1m0 2v1m0 2v1m0 3v1m0 6v2m0 5v1m0 2v1M51 42v1m0 26v1m0 1v2m0 2v1m0 3v1m0 2v1m0 2v1m0 2v1m0 4v1m0 8v1m0 4v1m0 6v1M52 67v1m0 3v2m0 4v2m0 3v1m0 5v1m0 2v1m0 4v1m0 1v1m0 3v1m0 7v1m0 3v1M53 66v1m0 2v1m0 3v2m0 6v1m0 4v1m0 3v1m0 1v1m0 5v1m0 9v1M54 69v1m0 6v2m0 7v1m0 3v1m0 1v3m0 1v1m0 1v1m0 3v1m0 1v1m0 3v1M55 70v1m0 1v1m0 2v1m0 3v1m0 2v1m0 1v1m0 1v3m0 2v1m0 1v1m0 3v1m0 4v1m0 1v1m0 6v1m0 3v1M56 69v2m0 2v2m0 6v1m0 5v1m0 7v1m0 4v1m0 1v1m0 1v1m0 1v1M57 69v1m0 8v1m0 6v1m0 3v2m0 1v1m0 6v2m0 2v1m0 2v1M58 71v3m0 1v1m0 4v1m0 1v1m0 1v1m0 2v1m0 1v1m0 4v1m0 10v1m0 4v1m0 1v2M59 71v1m0 7v1m0 4v1m0 2v1m0 4v1m0 2v1m0 2v2m0 3v1m0 4v1m0 3v1m0 2v1M60 68v1m0 5v1m0 5v2m0 6v2m0 2v1m0 1v1m0 1v1m0 1v2m0 3v1m0 1v1m0 6v2m0 2v1M61 75v1m0 5v1m0 1v1m0 1v1m0 3v1m0 2v1m0 4v1m0 4v2m0 6v1M62 69v1m0 2v1m0 5v1m0 9v1m0 5v1m0 1v1m0 2v1m0 6v2m0 2v1M63 69v1m0 2v3m0 2v1m0 1v1m0 4v1m0 3v1m0 3v1m0 8v1m0 3v1m0 1v1M64 69v1m0 2v1m0 1v2m0 1v1m0 1v3m0 1v1m0 3v1m0 3v3m0 2v1m0 1v2m0 1v1m0 2v1m0 2v1m0 3v1m0 1v1m0 1v1M65 79v2m0 4v1m0 2v1m0 1v1m0 6v2m0 5v2m0 3v1m0 2v1m0 3v1M66 72v1m0 1v1m0 1v1m0 1v1m0 2v1m0 9v1m0 3v1m0 4v1m0 1v1m0 7v1m0 2v2m0 2v1M67 71v1m0 1v3m0 3v1m0 2v1m0 4v2m0 2v1m0 4v1m0 2v1m0 1v2m0 1v2m0 7v1M68 75v2m0 1v1m0 1v1m0 1v1m0 10v3m0 7v1m0 2v1m0 2v1M69 74v1m0 2v1m0 6v1m0 1v1m0 2v2m0 7v1m0 3v2M70 71v1m0 1v1m0 3v1m0 6v1m0 1v1m0 3v3m0 3v1m0 2v1m0 2v1m0 6v1M71 69v3m0 3v1m0 12v1m0 3v3m0 1v1m0 13v1m0 7v1M72 74v1m0 5v2m0 4v1m0 2v1m0 3v1m0 2v1m0 1v1m0 1v1m0 1v1m0 1v2m0 3v1m0 4v1m0 2v1M73 22v1m0 51v2m0 1v1m0 5v1m0 7v2m0 1v1m0 4v1m0 8v1m0 2v1m0 1v1M74 22v1m0 46v2m0 12v1m0 1v1m0 4v3m0 5v1m0 2v4m0 1v1m0 1v3m0 2v1m0 5v1M75 20v3m0 50v1m0 1v1m0 5v1m0 4v2m0 1v1m0 1v1m0 1v1m0 20v1M76 79v2m0 1v1m0 2v1m0 4v1m0 1v2m0 3v2m0 3v1m0 1v1m0 5v1m0 2v1M77 73v3m0 3v2m0 1v1m0 1v1m0 2v2m0 5v1m0 4v1m0 7v1m0 5v1m0 3v1M78 21v1m0 46v1m0 1v1m0 6v1m0 2v1m0 1v1m0 6v1m0 1v2m0 5v1m0 1v1m0 3v1m0 2v2m0 2v1m0 1v1M79 73v1m0 26v1m0 2v1m0 1v1m0 1v2m0 3v1m0 3v1M80 71v1m0 1v1m0 2v3m0 1v5m0 3v1m0 1v2m0 2v1m0 5v1m0 9v1m0 2v1m0 2v2M81 72v1m0 5v1m0 7v3m0 2v2m0 2v1m0 2v1m0 5v1m0 4v1m0 1v1M82 74v2m0 2v1m0 1v1m0 9v1m0 4v1m0 2v3m0 4v1m0 4v1M83 70v1m0 2v1m0 6v2m0 7v1m0 2v3m0 1v1m0 2v1m0 2v1m0 14v1M84 74v2m0 3v1m0 1v1m0 1v1m0 5v1m0 2v1m0 8v1m0 2v1m0 4v1M85 92v2m0 2v2m0 4v1m0 9v3M86 71v1m0 4v1m0 1v1m0 3v3m0 1v2m0 1v3m0 3v2m0 5v2m0 5v1m0 1v1m0 3v1M87 77v1m0 1v1m0 1v1m0 12v1m0 4v1m0 1v2m0 4v2m0 5v1M88 84v3m0 1v1m0 13v1m0 8v2M89 76v1m0 3v2m0 2v2m0 1v1m0 1v2m0 13v2m0 3v1m0 2v1M90 18v1m0 4v1m0 54v2m0 2v1m0 2v1m0 10v1m0 9v1m0 3v1m0 1v1M91 18v1m0 1v1m0 61v2m0 4v1m0 6v3m0 1v4m0 2v2m0 2v1m0 1v2M92 22v1m0 56v1m0 12v3m0 5v2m0 4v1m0 2v1m0 4v1M93 22v1m0 52v3m0 1v1m0 11v1m0 5v1m0 1v1m0 6v1M94 78v1m0 7v1m0 2v1m0 5v1m0 1v1m0 1v1m0 5v2m0 1v1m0 1v2M95 17v2m0 1v4m0 59v1m0 1v2m0 1v1m0 1v3m0 2v1m0 6v2m0 1v1m0 1v2m0 5v1M96 17v2m0 5v1m0 54v1m0 4v1m0 2v2m0 2v1m0 3v2m0 3v1m0 3v4m0 5v2M97 17v2m0 1v1m0 3v1m0 53v1m0 1v1m0 1v2m0 2v1m0 4v1m0 8v1m0 1v1m0 2v4m0 4v1M98 17v1m0 5v2m0 65v6m0 1v1m0 6v3m0 2v1m0 1v1M99 18v1m0 3v2m0 63v1m0 1v1m0 12v1m0 6v3M100 13v1m0 2v1m0 1v1m0 63v1m0 7v1m0 6v1m0 2v1m0 5v1M101 22v1m0 63v1m0 1v1m0 9v1m0 14v1M102 16v1m0 5v1m0 58v1m0 4v1m0 1v1m0 2v1m0 1v2m0 1v2m0 1v2m0 6v2M103 10v1m0 9v1m0 1v1m0 1v1m0 56v1m0 4v1m0 4v1m0 1v1m0 1v1m0 8v1m0 2v1M104 10v1m0 4v1m0 67v1m0 2v1m0 1v1m0 7v1m0 6v1m0 3v1m0 2v1M105 11v1m0 5v1m0 1v4m0 1v2m0 45v1m0 10v1m0 4v1m0 2v2m0 3v2m0 8v1m0 1v1M106 8v1m0 3v1m0 6v2m0 2v1m0 57v1m0 2v2m0 2v5m0 10v1m0 1v1M107 9v1m0 1v1m0 4v2m0 1v3m0 69v1m0 1v1m0 10v1M108 14v1m0 1v3m0 2v1m0 1v1m0 1v2m0 43v1m0 12v2m0 4v1m0 5v1m0 5v1m0 2v1m0 2v1M109 8v1m0 1v3m0 6v1m0 62v1m0 10v1m0 2v1m0 4v1m0 2v1M110 10v1m0 1v1m0 6v1m0 1v1m0 1v1m0 62v1m0 3v1m0 5v1m0 1v1M111 7v3m0 9v2m0 2v1m0 44v1m0 21v2m0 2v1m0 3v1m0 2v1M112 11v1m0 6v1m0 4v1m0 2v1m0 63v1m0 2v1m0 1v1M113 8v1m0 8v1m0 65v1m0 2v1m0 12v1M114 11v1m0 2v1m0 2v2m0 2v1m0 69v1M115 15v1m0 1v1m0 3v1m0 66v1M116 11v1m0 4v1m0 3v1m0 4v1M117 9v3m0 1v1m0 5v1m0 4v1M118 11v3m0 2v1m0 1v1m0 5v1M119 13v1m0 4v1m0 1v1M120 15v2m0 1v1m0 3v1M121 12v2m0 4v1M122 10v2m0 7v1m0 1v2M123 17v1M124 84v1M125 19v1M132 20v1m0 50v1m0 12v1M135 20v1M137 62v1M139 57v1M140 62v1m0 2v1M141 57v1M144 64v1m0 24v1M146 54v1m0 11v1M149 66v1M151 64v1M152 54v1m0 3v1m0 10v1M153 65v1M156 59v1m0 9v1M159 56v1m0 3v1M160 62v1M161 57v2m0 10v1M162 69v2M164 60v1m0 24v1M166 64v1m0 2v1M167 61v2m0 11v1M168 59v1m0 1v1M170 60v1M171 64v1m0 4v1M173 64v1M175 45v1"/>
<path stroke="#9f76ee" d="M9 90v1M16 48v1M17 97v1M18 97v1M19 98v1M20 95v1m0 1v1m0 3v1M21 97v2M22 51v1m0 25v1m0 7v2m0 2v1m0 7v1m0 1v1m0 1v2M23 50v1m0 35v1m0 9v2m0 3v2m0 1v1M24 48v1m0 26v1m0 13v1m0 4v2m0 5v1m0 1v1M25 52v1m0 1v1m0 15v1m0 1v1m0 3v2m0 11v1m0 13v1m0 2v1M26 50v1m0 2v1m0 16v4m0 6v1m0 6v1m0 6v2m0 10v1M27 49v2m0 20v1m0 2v2m0 9v1m0 2v1m0 2v1m0 1v1m0 2v1m0 2v4m0 2v1M28 46v1m0 5v1m0 24v1m0 10v1m0 5v1m0 4v1M29 50v1m0 2v1m0 16v1m0 16v1m0 3v1m0 7v1m0 3v2m0 1v1M30 51v2m0 15v2m0 3v1m0 4v2m0 6v2m0 1v1m0 3v2m0 3v5M31 47v1m0 1v1m0 2v1m0 24v1m0 7v1m0 3v1m0 1v1m0 1v2m0 5v2m0 2v1m0 2v1M32 47v1m0 1v2m0 21v1m0 4v3m0 9v2m0 4v1m0 1v1m0 4v1m0 2v1m0 3v1M33 48v3m0 1v1m0 13v1m0 6v3m0 1v1m0 6v1m0 11v1m0 3v1m0 4v2M34 46v1m0 3v2m0 17v1m0 3v2m0 1v2m0 13v1m0 3v1m0 1v1m0 5v3m0 2v1M35 47v1m0 1v2m0 1v1m0 16v1m0 11v1m0 4v1m0 13v1m0 3v2m0 1v3M36 44v1m0 2v1m0 20v1m0 1v1m0 2v1m0 2v1m0 1v2m0 2v1m0 1v1m0 4v2m0 9v2m0 4v1m0 3v1M37 46v2m0 3v1m0 14v1m0 1v1m0 1v2m0 4v1m0 1v1m0 28v1m0 1v1M38 53v1m0 12v1m0 3v1m0 2v1m0 1v1m0 13v1m0 1v2m0 1v1m0 5v1m0 1v1m0 3v1M39 47v5m0 19v1m0 2v1m0 2v1m0 2v1m0 3v1m0 3v2m0 14v1m0 5v2M40 45v1m0 1v2m0 1v1m0 18v1m0 1v1m0 1v1m0 1v1m0 5v1m0 1v2m0 1v1m0 2v1m0 6v1m0 9v1m0 3v2M41 45v2m0 3v1m0 1v1m0 18v2m0 4v1m0 6v1m0 1v1m0 4v1m0 1v1m0 8v1m0 9v1M42 53v1m0 19v1m0 8v2m0 1v1m0 2v1m0 1v1m0 8v1m0 1v1m0 4v2m0 5v1M43 49v3m0 19v1m0 3v1m0 2v1m0 3v1m0 2v1m0 4v3m0 8v1m0 6v2m0 1v2M44 45v1m0 1v1m0 1v1m0 1v1m0 2v1m0 11v1m0 2v4m0 15v1m0 1v1m0 2v1m0 1v1m0 2v1m0 4v1m0 3v1m0 1v1m0 3v1M45 47v4m0 1v3m0 1v1m0 10v1m0 1v1m0 2v5m0 2v1m0 4v1m0 2v3m0 3v1m0 2v1m0 3v2m0 2v1M46 45v1m0 3v1m0 3v1m0 1v1m0 10v1m0 1v1m0 5v2m0 1v1m0 1v1m0 2v1m0 3v1m0 6v2m0 1v1m0 1v1m0 5v2m0 1v1M47 47v1m0 2v2m0 2v1m0 3v1m0 9v2m0 2v1m0 1v1m0 8v2m0 1v1m0 5v1m0 3v1m0 9v2m0 2v1M48 43v1m0 11v1m0 22v3m0 4v1m0 4v2m0 1v2m0 4v1m0 2v1m0 1v2m0 1v1m0 1v1m0 1v1M49 52v4m0 14v1m0 2v1m0 6v2m0 1v1m0 4v1m0 1v1m0 1v1m0 9v1m0 2v1m0 3v2m0 1v1M50 43v2m0 1v1m0 4v1m0 1v1m0 16v1m0 2v1m0 4v1m0 7v1m0 2v1m0 3v1m0 1v1m0 2v3m0 4v1m0 7v1M51 44v1m0 2v1m0 5v3m0 1v1m0 15v1m0 2v1m0 1v1m0 4v2m0 6v1m0 8v1m0 2v1m0 2v1m0 1v1m0 1v2M52 45v1m0 1v1m0 3v1m0 1v1m0 15v1m0 4v3m0 4v1m0 3v1m0 1v1m0 1v1m0 7v1m0 3v1m0 5v3m0 2v1m0 3v1M53 46v3m0 1v2m0 4v1m0 10v1m0 3v2m0 2v3m0 7v1m0 1v2m0 7v1m0 3v1m0 2v4m0 3v1m0 2v2M54 43v1m0 3v1m0 1v1m0 3v1m0 1v1m0 15v2m0 1v1m0 4v2m0 2v1m0 6v1m0 11v1m0 2v1m0 5v2M55 47v3m0 4v1m0 1v1m0 10v3m0 3v1m0 9v1m0 1v1m0 4v1m0 1v1m0 2v1m0 5v1m0 1v1m0 3v1m0 1v1m0 2v1M56 42v1m0 5v1m0 6v1m0 12v1m0 7v2m0 6v1m0 7v2m0 7v1m0 1v1m0 1v1m0 1v3m0 2v2m0 1v1M57 45v1m0 5v1m0 2v2m0 1v1m0 15v2m0 5v1m0 1v1m0 1v1m0 3v1m0 2v1m0 3v2m0 1v1m0 3v1m0 2v1m0 1v1m0 1v1m0 1v1m0 1v2M58 48v1m0 1v1m0 1v1m0 4v1m0 18v1m0 6v1m0 2v1m0 6v1m0 10v1m0 1v1m0 1v1m0 5v1M59 42v2m0 3v5m0 1v1m0 3v2m0 11v1m0 5v2m0 4v2m0 1v1m0 2v2m0 3v2m0 5v1m0 3v1m0 1v1m0 2v1m0 6v2M60 41v1m0 5v1m0 3v2m0 2v3m0 12v1m0 1v1m0 6v1m0 5v2m0 4v1m0 1v1m0 3v1m0 2v2m0 4v2m0 1v1m0 4v2M61 45v2m0 3v2m0 1v1m0 15v3m0 4v1m0 3v1m0 3v1m0 1v1m0 1v1m0 2v1m0 1v1m0 10v3m0 1v1m0 2v3m0 1v2M62 45v1m0 5v1m0 18v1m0 3v1m0 2v1m0 1v2m0 3v2m0 4v3m0 2v1m0 5v4m0 3v2m0 1v1m0 2v1M63 44v4m0 1v1m0 1v1m0 1v1m0 16v1m0 5v1m0 1v1m0 3v1m0 4v1m0 1v2m0 4v2m0 1v1m0 3v3m0 1v1m0 3v5m0 2v2M64 41v2m0 5v1m0 4v1m0 1v1m0 2v2m0 10v1m0 7v1m0 3v1m0 6v1m0 10v1m0 5v1m0 1v1m0 1v1m0 1v1m0 1v1m0 3v2M65 44v1m0 5v4m0 2v1m0 1v1m0 12v2m0 11v1m0 2v1m0 1v1m0 1v2m0 2v1m0 4v2m0 4v2m0 2v2m0 1v1m0 1v1m0 1v1M66 43v2m0 3v1m0 2v1m0 25v1m0 5v1m0 3v4m0 1v1m0 3v3m0 7v1m0 1v1m0 2v1m0 4v1M67 41v1m0 1v2m0 3v2m0 4v1m0 3v1m0 19v1m0 1v2m0 1v1m0 6v1m0 7v1m0 7v7m0 3v1M68 37v2m0 9v1m0 7v1m0 11v1m0 2v2m0 8v1m0 8v1m0 6v1m0 1v2m0 10v1m0 1v1m0 1v3M69 38v1m0 3v1m0 2v1m0 4v1m0 1v2m0 2v2m0 3v1m0 9v1m0 8v1m0 1v1m0 11v1m0 1v2m0 6v1m0 1v3m0 8v2M70 41v1m0 4v1m0 8v1m0 18v2m0 3v2m0 8v1m0 4v2m0 5v1m0 4v3m0 2v1m0 1v2m0 1v1m0 1v1M71 55v1m0 1v2m0 1v1m0 15v1m0 1v1m0 8v1m0 3v1m0 11v3m0 2v2m0 5v1m0 1v1M72 39v1m0 3v2m0 1v1m0 3v1m0 1v1m0 3v1m0 3v1m0 9v1m0 2v1m0 4v1m0 12v1m0 2v1m0 4v1m0 10v1m0 4v2M73 44v2m0 7v1m0 1v2m0 1v1m0 11v3m0 5v1m0 3v1m0 6v1m0 12v1m0 9v1m0 2v1M74 44v1m0 4v1m0 2v1m0 1v1m0 2v1m0 20v1m0 10v1m0 4v1m0 4v1m0 11v2m0 1v1m0 3v1M75 41v1m0 1v2m0 4v1m0 1v1m0 5v1m0 1v1m0 1v1m0 15v1m0 2v1m0 3v1m0 7v1m0 1v2m0 2v1m0 7v1m0 1v1m0 1v4m0 1v2M76 21v1m0 18v1m0 4v1m0 10v1m0 2v1m0 15v1m0 8v1m0 9v2m0 4v1m0 2v1m0 2v1m0 2v1m0 1v2m0 1v1M77 22v1m0 17v1m0 2v1m0 1v3m0 1v1m0 2v1m0 1v1m0 4v1m0 1v1m0 14v2m0 12v1m0 1v1m0 4v2m0 2v1m0 2v2m0 3v1m0 5v2M78 40v1m0 4v2m0 2v1m0 1v1m0 1v1m0 2v2m0 1v1m0 1v1m0 13v1m0 2v2m0 7v2m0 5v1m0 1v1m0 4v1m0 1v1m0 2v1m0 5v1m0 2v1m0 1v1M79 39v4m0 3v1m0 4v2m0 4v2m0 1v1m0 10v1m0 3v1m0 2v1m0 3v2m0 1v1m0 3v1m0 2v1m0 2v1m0 2v2m0 1v1m0 2v1m0 1v1m0 3v1m0 3v1m0 2v1M80 22v1m0 23v1m0 7v1m0 19v1m0 12v1m0 1v1m0 8v2m0 2v1m0 1v1m0 3v2m0 1v1m0 2v2M81 38v1m0 5v3m0 2v3m0 1v4m0 28v1m0 3v2m0 5v1m0 4v2m0 2v2m0 5v1m0 1v1m0 2v1M82 39v1m0 1v1m0 2v1m0 1v2m0 2v4m0 6v1m0 20v1m0 7v1m0 1v2m0 11v1m0 7v1m0 1v1M83 39v2m0 1v1m0 3v1m0 2v2m0 2v1m0 4v1m0 2v1m0 13v1m0 8v1m0 3v1m0 1v1m0 9v2m0 3v2m0 2v2m0 4v1M84 40v1m0 2v1m0 1v2m0 1v1m0 7v2m0 1v1m0 10v1m0 1v2m0 10v3m0 3v2m0 4v2m0 2v1m0 1v2m0 1v1m0 2v1m0 1v1m0 2v2M85 39v1m0 13v1m0 4v2m0 1v1m0 13v1m0 2v1m0 6v1m0 1v5m0 3v1m0 3v1m0 3v1m0 5v2M86 41v1m0 2v2m0 7v1m0 2v1m0 3v1m0 1v1m0 25v1m0 3v1m0 5v2m0 8v1m0 5v1M87 36v2m0 2v3m0 1v1m0 4v1m0 7v1m0 1v1m0 15v1m0 6v1m0 5v1m0 1v1m0 2v1m0 1v3m0 6v1m0 4v1m0 1v1m0 5v1M88 38v1m0 2v1m0 3v1m0 6v2m0 2v1m0 2v2m0 3v1m0 16v3m0 6v2m0 2v1m0 1v2m0 1v1m0 1v1m0 6v1m0 5v1M89 19v1m0 1v1m0 14v1m0 3v1m0 2v1m0 1v2m0 4v1m0 3v2m0 3v1m0 12v1m0 4v1m0 3v2m0 11v1m0 3v1m0 6v1M90 37v1m0 3v1m0 4v1m0 1v1m0 2v1m0 8v2m0 15v1m0 2v1m0 2v2m0 3v1m0 1v2m0 3v1m0 1v3m0 7v2M91 19v1m0 23v1m0 3v1m0 3v1m0 2v1m0 7v1m0 14v1m0 3v1m0 7v1m0 2v1m0 1v1m0 3v1m0 4v2m0 2v1m0 5v1M92 41v2m0 2v1m0 2v1m0 3v1m0 1v1m0 2v1m0 2v1m0 3v1m0 13v1m0 1v1m0 2v1m0 2v1m0 3v1m0 4v1m0 2v1m0 3v4M93 42v2m0 5v1m0 8v2m0 4v2m0 19v2m0 2v2m0 4v2m0 4v2m0 1v1m0 4v1m0 5v1M94 23v1m0 13v1m0 1v3m0 5v1m0 3v1m0 1v1m0 1v2m0 3v1m0 2v2m0 22v2m0 3v1m0 3v1m0 6v2m0 2v1m0 1v1m0 2v2m0 1v1M95 37v4m0 10v1m0 2v2m0 1v1m0 3v1m0 3v1m0 13v1m0 7v1m0 1v1m0 6v1m0 2v1m0 4v1m0 4v1m0 1v2M96 19v2m0 1v1m0 15v1m0 2v1m0 4v2m0 11v1m0 21v1m0 1v1m0 5v2m0 6v1m0 4v2m0 4v1m0 3v1M97 16v1m0 5v2m0 1v1m0 13v1m0 5v1m0 4v1m0 3v1m0 7v1m0 26v1m0 3v1m0 4v1m0 5v1m0 5v1M98 16v1m0 3v2m0 16v1m0 7v1m0 4v2m0 4v2m0 28v1m0 11v5M99 20v1m0 26v1m0 5v1m0 2v1m0 1v1m0 6v1m0 15v1m0 4v1m0 6v1m0 1v1m0 9v1M100 17v1m0 1v2m0 1v1m0 1v2m0 14v1m0 5v1m0 12v1m0 3v1m0 1v1m0 15v1m0 1v1m0 1v1m0 12v2m0 1v1m0 1v1m0 5v1m0 1v1M101 18v3m0 2v1m0 18v1m0 2v1m0 2v1m0 5v1m0 23v2m0 3v1m0 3v1m0 2v1m0 1v1m0 1v1m0 4v2m0 3v1m0 1v1m0 3v1M102 7v1m0 11v1m0 21v2m0 2v2m0 1v1m0 2v1m0 1v1m0 3v1m0 6v1m0 19v2m0 6v1m0 5v1m0 10v1M103 15v1m0 3v1m0 1v1m0 18v1m0 8v2m0 4v5m0 5v1m0 19v1m0 1v1m0 4v1m0 8v2m0 5v3M104 11v1m0 8v2m0 23v1m0 7v3m0 3v1m0 1v1m0 2v1m0 6v1m0 9v1m0 5v1m0 3v1m0 8v1m0 5v1M105 10v1m0 5v1m0 29v1m0 4v1m0 1v4m0 1v1m0 6v2m0 1v2m0 15v2m0 5v1m0 1v1m0 7v1M106 9v2m0 3v1m0 7v1m0 17v1m0 3v1m0 11v1m0 1v1m0 3v1m0 2v1m0 2v1m0 1v1m0 9v1m0 5v1m0 7v1m0 2v1m0 1v1m0 1v1m0 2v1m0 1v3M107 8v1m0 1v1m0 1v1m0 5v1m0 4v1m0 1v1m0 15v1m0 2v1m0 2v1m0 1v1m0 5v1m0 3v1m0 1v1m0 2v1m0 3v2m0 2v1m0 13v3m0 1v1m0 1v1m0 2v2m0 1v1m0 1v3M108 8v1m0 2v2m0 2v1m0 3v2m0 1v1m0 21v1m0 5v1m0 14v1m0 9v1m0 14v2m0 1v2m0 2v1m0 4v1m0 3v1M109 17v2m0 3v2m0 19v1m0 4v1m0 2v2m0 8v3m0 2v1m0 2v1m0 3v2m0 8v1m0 1v1m0 1v4m0 8v2m0 1v1M110 11v1m0 5v1m0 32v1m0 3v1m0 9v2m0 4v1m0 2v1m0 13v1m0 4v2m0 3v1m0 1v1M111 10v3m0 4v1m0 6v1m0 17v1m0 1v2m0 2v1m0 1v1m0 3v1m0 8v1m0 1v1m0 20v1m0 1v2m0 9v1m0 2v1M112 7v1m0 1v1m0 7v1m0 2v2m0 20v1m0 1v2m0 8v1m0 9v1m0 3v1m0 5v1m0 9v1m0 1v1m0 1v2m0 1v1M113 7v1m0 2v1m0 8v1m0 1v1m0 22v2m0 3v2m0 1v1m0 5v4m0 9v1m0 2v1m0 23v1M114 12v2m0 31v1m0 2v1m0 5v1m0 3v1m0 2v1m0 2v1M115 11v2m0 3v1m0 2v1m0 2v3m0 23v1m0 2v1m0 4v1m0 1v1m0 1v2m0 2v1M116 12v1m0 10v1m0 20v1m0 1v1m0 5v1m0 1v1m0 1v1m0 2v1m0 1v1M117 17v1m0 2v1m0 1v2m0 18v2m0 1v1m0 3v1m0 6v1m0 3v3M118 23v1m0 25v3m0 8v1M119 23v1m0 18v1m0 2v1m0 2v1m0 3v1m0 3v1m0 2v1m0 1v1m0 2v1M120 10v1m0 31v1m0 1v7m0 4v2m0 6v1M121 10v1m0 10v1m0 26v2m0 7v1m0 2v1m0 1v1M122 15v1m0 26v1m0 2v1m0 1v1m0 4v1m0 3v4m0 2v2M123 47v1m0 12v1m0 10v2M124 43v2m0 1v2m0 3v2m0 4v1m0 1v2m0 10v1M125 21v1m0 21v1m0 6v3m0 2v1m0 1v1m0 2v1m0 1v1m0 9v1M126 21v1m0 20v2m0 6v2m0 6v1m0 2v1m0 2v1m0 3v1m0 1v1m0 20v1M127 59v3m0 8v1m0 12v1m0 2v1M128 54v1m0 1v3m0 1v1m0 1v2m0 20v1m0 1v1m0 3v1M129 21v1m0 24v1m0 3v1m0 5v2m0 30v1m0 1v1m0 2v1M130 44v2m0 10v1m0 12v1m0 13v2m0 1v1M131 20v1m0 1v1m0 27v1m0 4v2m0 25v2m0 2v2M132 51v1m0 2v1m0 1v2m0 25v1m0 10v1M133 47v1m0 9v3m0 22v3m0 1v1M134 57v2m0 26v1M135 47v1m0 6v1m0 28v1m0 1v1M136 22v1m0 27v1m0 7v1m0 29v1M137 54v1m0 4v1m0 27v1M138 57v1m0 6v1m0 20v2M139 53v1M140 59v3m0 1v2m0 19v1m0 2v1M141 55v2m0 3v1m0 5v1m0 20v1M142 52v1m0 5v4m0 4v1m0 1v1m0 16v1m0 1v1M143 55v1m0 2v3m0 1v4m0 1v1m0 17v1m0 1v1M144 57v2m0 1v1m0 2v1m0 5v1m0 5v1m0 8v2M145 54v1m0 8v1m0 2v1m0 1v1m0 15v1M146 59v1m0 5v1m0 1v2m0 13v1M147 54v1m0 2v3m0 4v2m0 1v1m0 15v1m0 2v1M148 32v1m0 24v1m0 6v1m0 3v1m0 1v1m0 4v1m0 5v1M149 28v1m0 2v1m0 24v2m0 4v2m0 20v1M150 28v4m0 28v1m0 1v1m0 2v1m0 1v3m0 9v2m0 3v1M151 30v1m0 1v1m0 22v1m0 2v2m0 1v1m0 1v1m0 1v1m0 3v1m0 8v1M152 29v3m0 1v1m0 22v1m0 2v1m0 2v1m0 5v1m0 1v1m0 7v1m0 3v2M153 28v1m0 1v3m0 16v1m0 8v1m0 1v4m0 5v1M154 27v1m0 1v2m0 2v1m0 22v1m0 1v2m0 2v3m0 13v1m0 1v1M155 31v1m0 1v1m0 14v1m0 8v1m0 2v2m0 5v5M156 26v2m0 1v2m0 1v1m0 15v1m0 9v1m0 5v2m0 13v1m0 1v1m0 2v1M157 28v1m0 1v2m0 2v1m0 3v1m0 19v1m0 6v1m0 1v2m0 1v1m0 8v1m0 1v1M158 28v3m0 2v1m0 24v1m0 3v2m0 3v1m0 2v1M159 28v1m0 3v1m0 2v2m0 18v1m0 1v3m0 1v2m0 7v1m0 9v1M160 30v3m0 14v1m0 9v2m0 1v1m0 3v1m0 1v4m0 9v3m0 1v1M161 27v1m0 4v1m0 2v1m0 1v1m0 21v2m0 1v4m0 1v1m0 9v2m0 1v1M162 27v3m0 2v2m0 3v1m0 10v1m0 9v1m0 1v1m0 2v1m0 2v1m0 10v1M163 25v1m0 2v1m0 4v2m0 2v3m0 17v3m0 3v8m0 9v1M164 35v2m0 21v2m0 2v6m0 1v1m0 6v1m0 7v1M165 37v1m0 1v1m0 18v2m0 1v3m0 1v3m0 1v1M166 37v1m0 2v1m0 19v1m0 1v1m0 3v1m0 1v1m0 1v1m0 2v2m0 4v1M167 31v1m0 6v1m0 20v1m0 4v1m0 1v2m0 1v1m0 3v1m0 2v1m0 1v1M168 38v1m0 21v1m0 1v4m0 1v2m0 5v3m0 2v1M169 32v1m0 1v1m0 3v1m0 1v2m0 4v1m0 18v1m0 6v1m0 2v1M170 38v1m0 2v1m0 1v2m0 20v2m0 4v1m0 2v2m0 1v1M171 39v1m0 21v3m0 2v1m0 1v1m0 1v1m0 1v2m0 6v1M172 41v2m0 1v1m0 15v1m0 3v1m0 2v1M173 42v5m0 13v1m0 9v2m0 2v3M174 43v1m0 19v1m0 8v1M175 43v2m0 1v3m0 24v2m0 1v1M176 43v1m0 1v3m0 25v1m0 1v2M177 46v1M178 42v2M179 46v1M181 44v2"/>
<path stroke="#7c44fa" d="M8 90v1M17 75v1M22 50v1M23 51v2M24 51v1M26 51v1m0 50v2M27 46v1m0 4v1m0 1v1m0 49v1M28 48v4m0 1v1M29 47v1m0 1v1M30 49v2m0 53v1M31 48v1m0 1v2m0 50v1M32 48v1m0 2v1m0 1v1m0 53v1M33 51v1m0 1v1M34 47v1m0 1v1m0 2v1m0 1v1M35 48v1m0 2v1m0 1v2M36 48v1m0 2v3m0 49v1M37 52v3m0 46v1M38 47v1m0 2v1m0 3v1m0 49v1m0 3v1M39 46v1M40 51v3M41 47v3m0 4v2M42 48v3m0 54v1m0 4v1M43 43v1m0 10v1m0 52v1m0 2v1M44 48v1m0 4v1M45 45v2m0 59v1m0 7v1M46 43v1m0 3v2m0 3v1M47 46v1m0 2v1m0 3v1m0 1v1M48 47v2m0 5v1m0 51v1M49 46v1m0 2v1m0 65v1M50 45v1m0 1v2m0 6v2m0 52v1m0 5v1M51 49v4m0 52v1M52 50v1m0 1v1m0 1v3m0 58v1M53 43v3m0 3v1m0 3v3m0 51v1m0 1v1m0 1v2M54 45v1m0 5v2m0 1v1m0 1v2m0 52v1m0 2v1M55 42v1m0 1v3m0 4v2m0 2v1m0 1v1m0 48v1m0 1v1m0 4v2M56 44v4m0 1v1m0 3v1m0 3v1m0 52v1m0 3v1M57 42v3m0 1v3m0 1v1m0 5v1m0 47v1m0 3v1m0 3v1m0 2v1M58 44v1m0 1v2m0 1v1m0 4v1m0 48v1M59 44v3m0 5v1m0 54v1m0 2v1m0 2v1M60 43v1m0 1v2m0 1v1m0 4v2m0 3v1m0 49v1m0 1v2M61 41v1m0 2v1m0 3v2m0 4v1m0 2v1m0 1v1m0 47v1m0 6v1M62 43v2m0 5v1m0 3v1m0 1v1m0 1v1m0 53v1M63 43v1m0 4v1m0 5v2m0 2v1m0 49v2M64 45v3m0 3v2m0 3v2m0 51v1M65 41v1m0 1v1m0 2v4m0 4v1m0 2v1m0 1v1m0 48v1M66 40v1m0 4v1m0 1v1m0 2v1m0 5v2m0 2v1m0 48v1m0 2v1M67 40v1m0 1v1m0 2v1m0 1v1m0 2v2m0 3v1m0 58v1m0 2v1m0 1v1M68 44v1m0 2v1m0 2v1m0 3v2m0 1v1m0 52v1m0 3v1m0 3v1M69 40v2m0 5v2m0 9v1m0 1v1m0 48v2m0 1v3M70 43v1m0 1v1m0 1v1m0 1v2m0 2v1m0 2v4m0 50v1m0 4v1m0 1v1M71 41v1m0 2v4m0 1v3m0 1v1m0 2v1m0 2v1m0 47v1m0 3v1m0 1v1m0 2v1M72 42v1m0 2v1m0 2v2m0 4v2m0 1v3m0 52v1M73 39v1m0 1v2m0 5v1m0 1v1m0 3v1m0 52v1m0 1v1m0 7v1M74 39v1m0 1v1m0 3v1m0 2v1m0 2v1m0 4v1m0 2v2m0 44v1M75 45v1m0 1v1m0 4v1m0 5v1m0 1v1m0 42v1m0 1v1m0 1v1M76 42v2m0 2v2m0 1v1m0 2v1m0 1v1m0 5v1m0 55v1M77 38v1m0 3v1m0 5v1m0 8v1m0 56v1M78 41v4m0 2v2m0 3v1m0 1v1m0 3v1M79 43v1m0 3v1m0 6v1m0 1v1m0 5v2m0 47v1m0 1v1m0 1v1m0 2v1M80 39v2m0 1v2m0 1v1m0 1v6m0 2v1m0 2v1m0 2v1m0 41v1m0 2v1M81 40v2m0 1v1m0 17v1m0 48v1m0 2v1m0 1v2M82 42v1m0 5v2m0 4v3m0 1v1m0 2v2M83 41v1m0 1v1m0 3v2m0 3v1m0 1v1m0 1v1m0 2v2M84 42v1m0 4v1m0 1v1m0 1v1m0 1v3m0 4v1M85 38v1m0 1v2m0 1v1m0 3v2m0 1v3m0 9v2M86 39v2m0 1v1m0 3v1m0 5v1m0 1v1m0 57v1M87 38v1m0 4v1m0 2v1m0 1v1m0 2v2m0 9v2m0 49v1M88 37v1m0 5v2m0 4v1m0 1v1m0 3v1m0 1v1M89 38v2m0 2v1m0 4v2m0 10v1m0 1v2M90 44v1m0 4v1m0 3v2m0 4v1m0 2v1M91 36v1m0 8v2m0 3v1m0 5v1m0 1v3m0 2v1M92 39v1m0 10v2m0 1v1m0 5v1m0 1v1m0 1v1m0 48v1M93 39v1m0 6v3m0 1v3m0 1v1m0 5v4M94 36v1m0 7v2m0 2v2m0 7v2m0 3v1M95 41v2m0 1v4m0 1v2m0 1v1m0 3v1m0 1v1m0 1v1m0 2v2M96 44v1m0 5v5m0 1v1m0 1v1m0 6v1M97 43v1m0 3v2m0 2v3m0 5v1m0 3v1M98 39v5m0 3v1m0 1v1m0 9v1m0 2v1M99 40v3m0 1v1m0 1v1m0 1v1m0 1v1m0 1v1m0 1v1m0 4v2M100 42v4m0 4v4m0 2v1m0 1v1m0 1v2M101 49v1m0 5v1m0 2v1m0 3v1m0 1v1M102 40v1m0 9v1m0 1v1m0 1v2m0 3v1m0 1v2m0 2v1M103 42v4m0 5v4m0 5v2m0 1v1M104 40v2m0 2v1m0 4v1m0 1v1m0 4v1m0 3v1m0 7v3M105 41v1m0 6v2m0 11v4m0 2v1M106 42v2m0 1v3m0 7v1m0 3v1m0 4v1m0 6v1M107 45v2m0 4v2m0 3v1m0 1v1m0 3v1m0 2v1M108 40v1m0 1v1m0 3v2m0 4v1m0 2v3m0 4v1m0 1v1M109 42v1m0 1v3m0 2v2m0 3v1m0 3v2m0 4v1m0 3v1m0 1v1m0 1v1M110 40v3m0 1v3m0 2v1m0 2v1m0 9v1m0 5v2M111 43v1m0 3v1m0 1v1m0 1v1m0 8v1m0 1v1m0 11v1M112 43v1m0 4v1m0 1v4m0 2v3m0 1v4m0 7v2M113 43v1m0 2v2m0 6v1m0 2v1m0 4v3m0 38v1M114 43v2m0 1v2m0 4v1m0 2v1m0 3v2M115 42v1m0 1v3m0 5v1m0 1v2m0 3v1M116 42v1m0 2v1m0 1v5m0 1v1m0 3v1m0 2v1M117 41v1m0 4v3m0 5v1m0 2v1M118 43v1m0 3v2m0 5v4m0 3v2M119 43v1m0 2v1m0 8v1m0 1v2M120 43v1m0 7v2m0 1v1m0 2v1m0 3v2M121 42v2m0 1v1m0 4v1m0 1v1m0 2v1m0 2v2m0 1v1M122 44v1m0 4v3m0 3v1m0 4v1M123 42v1m0 7v1m0 1v1m0 5v2m0 1v1m0 1v1m0 13v1M124 45v1m0 2v3m0 2v1m0 2v1m0 1v1m0 4v1m0 13v1M125 41v1m0 4v4m0 3v1m0 2v1m0 2v1m0 11v1m0 19v1M126 46v3m0 3v2m0 1v3m0 1v2m0 2v1m0 7v1m0 12v1m0 1v1m0 3v1M127 45v1m0 1v1m0 2v1m0 2v1m0 1v4m0 3v1m0 6v1m0 1v1m0 12v1M128 43v1m0 2v2m0 1v2m0 4v1m0 3v1m0 8v1m0 3v1m0 10v1m0 1v1m0 2v1M129 45v1m0 1v1m0 3v2m0 2v1m0 2v2m0 23v1m0 1v2M130 55v1m0 2v1m0 3v1m0 1v1m0 20v1m0 7v1M131 48v2m0 1v1m0 2v1m0 2v1m0 1v1m0 2v2m0 29v1M132 50v1m0 1v2m0 1v1m0 2v1m0 3v1m0 18v2m0 3v1M133 48v1m0 1v1m0 4v1m0 4v1m0 20v1m0 3v1M134 49v1m0 2v2m0 1v1m0 4v2m0 25v1M135 53v1m0 1v2m0 1v1m0 1v1m0 23v1m0 1v1M136 49v1m0 2v2m0 1v3m0 6v1m0 19v1M137 55v2m0 3v2m0 1v1m0 20v1m0 1v1M138 53v1m0 1v2m0 5v1m0 24v1M139 52v1m0 10v2m0 21v2M140 54v1M141 59v1m0 1v3m0 1v1m0 17v1m0 2v1M142 55v1m0 6v1m0 1v2m0 18v1m0 1v1M143 53v2m0 13v1m0 14v1M144 59v1m0 1v1m0 3v2m0 10v1m0 5v1m0 2v1M145 57v1m0 1v2m0 1v1m0 1v1m0 21v2M146 57v1m0 2v1m0 2v1m0 19v1m0 1v1M147 53v1m0 2v1m0 4v1m0 1v1m0 2v1m0 2v1m0 5v1m0 6v1M148 28v3m0 25v1m0 2v2m0 1v1m0 2v3m0 1v1m0 13v1m0 1v2M149 33v1m0 26v1m0 6v1m0 1v1M150 33v1m0 24v2m0 3v2m0 16v3m0 2v1M151 28v2m0 1v1m0 1v1m0 22v1m0 3v1m0 1v1m0 3v1m0 10v1m0 1v2m0 1v1M152 28v1m0 3v1m0 15v1m0 8v1m0 5v5m0 11v2m0 3v1M153 29v1m0 3v1m0 14v1m0 7v2m0 6v1m0 1v3m0 8v1m0 5v1M154 31v2m0 14v1m0 1v1m0 10v2m0 6v1m0 1v1M155 29v2m0 1v1m0 14v1m0 7v2m0 1v2m0 2v1m0 1v3m0 14v1M156 28v1m0 2v1m0 1v1m0 28v1m0 3v1m0 1v1m0 1v1m0 11v2M157 27v1m0 1v1m0 2v2m0 13v1m0 1v1m0 4v1m0 1v2m0 6v1m0 1v1M158 27v1m0 3v2m0 1v1m0 21v2m0 2v1m0 5v1m0 2v1m0 11v1M159 26v2m0 1v3m0 1v2m0 13v1m0 14v2m0 1v1m0 1v1m0 10v1m0 2v1M160 26v1m0 1v2m0 3v5m0 10v1m0 7v1m0 4v1m0 3v1M161 28v4m0 1v2m0 3v1m0 8v1m0 13v1m0 4v1m0 3v1m0 8v1m0 2v2M162 30v2m0 4v1m0 1v1m0 17v2m0 1v1m0 1v1m0 3v1m0 14v1M163 29v1m0 1v2m0 3v1m0 23v1m0 16v1M164 27v2m0 3v2m0 7v1m0 15v1m0 3v1m0 6v1m0 9v3M165 28v1m0 1v1m0 5v1m0 10v1m0 12v1m0 3v1m0 3v1m0 4v3m0 2v2M166 30v1m0 7v2m0 19v1m0 5v1m0 9v4M167 28v1m0 1v1m0 32v1m0 8v1m0 6v2M168 30v1m0 1v1m0 9v1m0 26v1m0 2v1m0 4v1M169 31v1m0 1v1m0 25v5m0 2v2m0 1v1m0 7v2M170 30v1m0 1v1m0 4v1m0 1v2m0 20v4m0 2v1m0 2v1m0 2v1m0 2v1m0 2v1M171 44v2m0 21v1m0 8v2M172 32v1m0 10v1m0 3v1m0 13v2m0 3v1m0 1v1m0 6v5M173 40v2m0 21v1m0 1v2m0 6v1M174 45v1m0 2v1m0 13v1m0 2v1m0 5v1m0 2v2M175 42v1m0 28v2M176 41v1m0 2v1M177 44v2m0 1v1m0 26v1M178 45v3m0 1v1m0 23v1M179 42v4M180 45v1M181 43v1m0 2v1M182 46v1"/>
<path stroke="#5a22ff" d="M54 46v1M56 43v1m0 8v1M57 53v1M62 53v1M73 43v1m0 2v1m0 12v1M74 40v1m0 12v1M75 55v1M76 44v1m0 5v1m0 4v1m0 2v1M77 41v1m0 2v1m0 5v2m0 1v1M79 44v1m0 5v1m0 10v1M80 62v1M81 48v1M83 57v1m0 4v1M84 41v1m0 8v1M85 45v1m0 3v1m0 5v1m0 4v1M86 43v1m0 3v1m0 3v1m0 6v1m0 2v1M87 50v1m0 4v1m0 4v2M88 46v2m0 6v1m0 7v1M89 37v1m0 3v1m0 2v1m0 7v1M90 40v1m0 1v1m0 13v1m0 6v1M91 42v1m0 5v1m0 3v1M92 40v1m0 6v1m0 14v1M93 40v1m0 14v1M94 35v1m0 16v1m0 1v1M95 43v1m0 4v1m0 4v1M96 39v1M97 40v1m0 20v1M98 44v2m0 7v1M99 39v1m0 11v1m0 3v1m0 6v3M100 39v1M101 41v1m0 4v1m0 3v2m0 4v1M102 56v1m0 3v1M103 41v1M104 42v2M105 42v1m0 7v1m0 1v1M106 41v1m0 12v1m0 8v1M107 42v2m0 10v1M108 48v1m0 11v2M109 47v1M110 48v1m0 6v2M111 58v1M112 47v1m0 7v1M113 48v1m0 6v1M114 41v1m0 15v1m0 4v1M115 53v1m0 9v1M116 55v1m0 6v1M117 44v1m0 6v1M118 44v3m0 6v1m0 4v2m0 3v2M119 47v1m0 1v1M120 58v1M121 46v1m0 4v1M122 48v1m0 5v1m0 9v1M123 46v1m0 1v2m0 3v1m0 8v1M124 61v1M125 45v1m0 15v1M126 54v1M128 48v1m0 4v1M129 48v1m0 5v1m0 5v1M130 47v1m0 6v1M131 52v1M132 49v1M133 49v1M135 57v1M146 74v1M149 79v1m0 2v2M151 83v1M153 80v2M154 81v1M155 26v1M158 80v1M159 78v1M160 27v1M163 79v1M169 30v1"/>
</g>
<g transform="translate(141.1 999.6) scale(2.2 3.3)">
<path stroke="#c4c4c4" d="M8 91v1M29 77v2M30 47v1M34 110v1M40 54v1M41 67v1m0 28v1M43 52v1M50 112v1M52 113v1M54 68v1m0 29v1M55 116v1M56 89v1M59 68v1m0 45v1M62 52v1M66 53v1M67 72v1M68 77v1M71 74v1M72 83v1M74 82v1M75 62v1M77 112v1M78 105v1M79 45v1m0 2v1M81 23v1m0 55v1m0 3v1M82 40v1m0 43v1m0 1v1M83 55v1m0 22v1M84 28v1M85 56v1m0 23v1M86 117v1M89 19v1m0 1v1m0 35v1M90 17v2m0 2v1m0 1v1m0 28v1m0 62v1M91 18v3m0 58v1m0 30v1M92 21v3m0 34v1m0 48v1m0 3v1M93 19v1m0 2v1M94 18v2m0 1v4M95 18v1m0 1v5M96 17v8m0 37v1m0 35v1M97 16v10M98 16v9M99 15v4m0 1v4m0 1v1m0 70v1M100 16v3m0 1v1m0 1v3M101 9v1m0 3v1m0 3v8m0 28v1m0 7v1M102 7v1m0 2v1m0 5v2m0 1v2m0 1v4M103 10v2m0 3v1m0 1v8M104 10v2m0 3v1m0 3v5m0 1v1m0 66v1M105 9v3m0 4v10M106 8v5m0 1v1m0 2v7M107 8v5m0 3v6m0 1v4m0 44v1M108 8v5m0 1v10m0 1v2m0 32v1M109 8v5m0 4v7m0 2v1m0 28v1M110 8v5m0 3v2m0 1v6m0 57v1M111 7v2m0 1v3m0 3v9m0 32v1M112 7v1m0 3v2m0 3v8m0 2v1M113 7v4m0 6v6m0 1v1m0 64v1M114 10v2m0 1v2m0 2v5m0 1v1m0 1v1M115 15v3m0 1v6M116 10v3m0 3v1m0 1v1m0 1v4m0 1v1M117 9v5m0 3v8M118 11v3m0 2v1m0 1v1m0 4v2M119 12v1m0 7v1m0 2v1M120 10v1m0 1v2m0 2v1m0 1v1m0 3v1M121 10v1m0 1v2m0 4v1m0 2v1m0 1v1m0 23v1M122 10v1m0 4v1m0 3v1m0 1v2M123 17v1m0 3v1m0 1v1m0 30v1M124 12v1M125 19v1m0 1v1m0 20v1M126 21v1M129 21v1m0 31v1M130 59v1M131 20v1m0 1v1M132 20v2M135 20v2M136 21v3m0 62v1M138 20v1M139 89v1M147 60v1M148 32v1M149 28v1M150 28v1M151 29v2M152 28v1m0 1v2M153 28v3m0 1v2M154 30v1m0 2v1M155 26v1M156 26v1m0 1v2M157 27v1m0 6v1M158 29v1m0 1v3M159 26v1m0 3v1m0 1v1m0 1v1m0 30v1m0 3v1M160 28v2m0 1v1m0 27v1M161 30v3m0 4v1M162 30v1m0 1v1m0 29v1M163 29v1m0 4v1M164 27v2m0 3v2M165 36v2M166 30v1m0 6v1M167 28v1m0 1v1m0 1v1M169 31v1m0 7v1M170 30v1m0 1v1M178 41v1"/>
<path stroke="#baa3e4" d="M15 48v1M16 97v1M18 74v1M27 49v1M30 48v1M31 47v1M32 54v1M33 52v1M36 44v1M37 47v1M40 50v1M41 45v1m0 6v1M44 45v1m0 1v1M45 47v1M47 58v1M48 43v1m0 11v1M51 42v1m0 4v1m0 5v2m0 2v1M52 45v1m0 5v1M54 47v1m0 7v1M55 54v1m0 1v1M57 55v1M58 48v1m0 3v1M60 47v1m0 3v1M62 45v1M63 51v1M64 41v1m0 13v1m0 2v1M65 58v1M66 48v1M67 41v1m0 2v1m0 9v1M69 61v1M70 41v1m0 4v1M71 55v1m0 1v1m0 2v1M72 60v1M73 45v1m0 7v1m0 4v1M74 22v1m0 26v1M75 20v1m0 28v1m0 7v1M77 59v1M78 46v1m0 2v1M80 46v1m0 7v1M81 44v1m0 4v1m0 3v1m0 1v1M82 39v1m0 1v1m0 8v1m0 1v1M83 40v1m0 5v1m0 6v1m0 4v1M84 46v1m0 1v1m0 7v1M85 39v1m0 19v1M86 41v1m0 3v1m0 10v1m0 3v1m0 1v1M87 49v1M89 36v1m0 3v1M90 37v1m0 10v1M92 52v1M93 42v1M94 39v1m0 1v1m0 11v1m0 2v1m0 3v1M95 17v1m0 22v1m0 10v1M96 46v2M98 51v2M99 58v1M100 13v1m0 5v1m0 5v1m0 33v1M101 48v1M102 42v1m0 14v1M103 55v1m0 1v1M104 45v1m0 13v1M105 53v2m0 3v1m0 7v1m0 4v1M107 55v1m0 8v1M108 70v1M109 43v1M110 65v1M111 9v1m0 53v1m0 4v1M112 9v1m0 34v1m0 9v1M113 44v1m0 5v1m0 1v1m0 5v1m0 1v1M114 12v1m0 35v1M115 11v2M116 59v1M117 43v1m0 5v1m0 10v1m0 1v1M119 13v1m0 4v1m0 33v1M120 15v1m0 28v1m0 4v1m0 6v1m0 6v1M122 11v1m0 30v1m0 13v2M124 47v1m0 3v1m0 32v1M125 52v1m0 2v1m0 4v1M126 50v1m0 13v1M129 57v1M130 56v1M132 71v1m0 12v1M133 59v1m0 22v1M134 58v1M135 47v1M136 58v1M137 59v1m0 2v1M139 57v1M140 62v1m0 2v1m0 18v1M141 57v1M142 85v1M144 64v1m0 10v1m0 13v1M145 54v1M146 54v1m0 11v1M147 59v1m0 5v1M148 68v1m0 12v1M149 31v1m0 34v1M150 29v3m0 1v1m0 33v1M151 28v1m0 3v2m0 21v1m0 3v1m0 4v1M152 29v1m0 2v2m0 20v1m0 3v1m0 10v1m0 13v1M153 31v1m0 33v1M154 27v1m0 1v1m0 50v1M155 31v1m0 1v1m0 23v1M156 27v1m0 2v1m0 1v1m0 26v1m0 9v1m0 9v1m0 1v1M157 28v1m0 1v2M158 28v1m0 1v1m0 27v1M159 27v2m0 7v1m0 19v1m0 3v1M160 26v1m0 3v1m0 1v1m0 29v1m0 18v1M161 27v1m0 7v1m0 21v2m0 10v1m0 8v1M162 27v3m0 3v1m0 3v1m0 31v2m0 6v1M163 25v1m0 2v1m0 2v3m0 3v2m0 30v1M164 35v2m0 23v1m0 24v1M165 62v1M166 64v1m0 2v1M167 31v1m0 29v2m0 11v1m0 3v1M168 59v1m0 1v1M169 32v1m0 1v1m0 5v1M170 38v1m0 2v1m0 18v1M171 64v1m0 4v1M173 64v1"/>
<path stroke="#9f76ee" d="M9 90v1M16 48v1m0 41v1M17 93v1m0 3v1M18 94v1M19 91v1m0 2v1m0 8v1M20 86v2m0 4v1m0 5v1m0 1v1M21 75v1m0 5v1m0 1v1m0 4v1M22 51v1m0 24v1m0 2v1m0 4v1m0 2v1m0 2v1m0 2v1m0 4v1m0 1v1M23 50v2m0 30v1m0 5v2m0 8v1M24 48v1m0 22v2m0 1v1m0 2v1m0 2v1m0 2v1M25 52v1m0 1v1m0 16v1m0 1v1m0 6v1m0 7v1m0 8v1m0 4v1m0 1v1M26 50v1m0 2v1m0 15v1m0 6v1m0 11v2m0 7v1m0 6v1M27 50v2m0 18v1m0 5v1m0 6v1m0 5v1m0 4v1m0 3v1m0 5v2M28 46v1m0 5v2m0 21v1m0 3v1m0 15v1m0 5v1M29 50v1m0 2v1m0 15v1m0 14v2m0 6v2m0 1v1M30 50v3m0 17v1m0 1v1m0 9v1m0 9v1m0 10v1m0 2v1M31 49v1m0 2v1m0 16v1m0 3v2m0 5v2m0 1v2m0 3v1m0 8v3m0 6v1m0 1v1M32 47v1m0 1v2m0 18v1m0 10v2m0 2v2m0 7v2m0 4v2m0 5v1M33 48v3m0 2v1m0 15v1m0 2v1m0 5v1m0 3v1m0 2v2m0 2v1m0 2v2m0 1v1m0 5v1m0 1v2m0 4v1M34 46v1m0 2v3m0 27v1m0 3v2m0 7v1m0 1v1m0 14v1M35 47v1m0 1v2m0 1v2m0 22v1m0 1v1m0 1v1m0 2v1m0 1v1m0 3v3m0 1v2m0 8v1M36 47v1m0 3v2m0 19v1m0 1v2m0 5v1m0 4v1m0 4v1m0 4v1m0 10v2M37 46v1m0 4v1m0 22v1m0 2v1m0 5v1m0 1v1m0 5v3m0 2v1m0 5v1M38 53v1m0 13v1m0 1v1m0 1v2m0 1v1m0 7v2m0 1v1m0 2v1m0 4v1m0 3v1m0 1v1m0 3v1m0 3v1m0 1v1M39 46v6m0 13v1m0 1v1m0 4v1m0 8v3m0 2v1m0 8v1m0 2v2m0 3v1m0 3v3M40 45v1m0 1v2m0 21v1m0 1v1m0 4v1m0 4v1m0 11v1m0 6v1m0 3v1m0 2v2M41 46v1m0 3v1m0 3v2m0 10v1m0 1v1m0 12v2m0 2v1m0 1v1m0 6v1m0 4v1m0 1v1m0 1v1m0 1v1m0 3v1m0 1v1m0 1v1M42 50v1m0 2v1m0 14v1m0 1v1m0 1v1m0 2v3m0 1v1m0 4v1m0 6v3m0 9v2M43 43v1m0 5v3m0 2v1m0 14v1m0 3v1m0 6v1m0 16v1M44 49v1m0 1v1m0 2v1m0 13v1m0 8v2m0 1v1m0 1v1m0 13v2m0 3v1M45 48v3m0 1v3m0 1v1m0 14v1m0 6v1m0 1v1m0 11v1m0 2v1m0 12v1M46 45v1m0 3v1m0 2v2m0 1v1m0 15v2m0 7v1m0 2v1m0 1v1m0 1v1m0 3v1m0 3v1m0 4v1m0 8v4M47 47v1m0 2v2m0 1v2m0 20v2m0 3v1m0 13v1m0 3v1m0 4v1m0 7v1m0 1v1M48 48v1m0 18v1m0 1v1m0 14v1m0 11v1m0 3v1m0 2v1m0 8v1M49 49v1m0 2v4m0 20v1m0 12v1m0 3v1m0 5v1m0 7v1m0 6v1M50 43v2m0 1v1m0 4v1m0 1v1m0 18v1m0 3v1m0 2v1m0 1v2m0 1v1m0 5v1m0 3v1m0 6v2m0 5v1m0 2v1M51 44v1m0 7v1m0 2v1m0 13v1m0 2v1m0 1v1m0 2v1m0 1v1m0 2v1m0 2v1m0 2v2m0 9v1m0 1v2m0 10v2M52 47v1m0 4v2m0 17v3m0 3v4m0 1v1m0 8v1m0 6v1m0 6v1M53 44v1m0 1v6m0 1v1m0 1v2m0 12v1m0 4v1m0 3v1m0 2v1m0 8v1m0 1v1m0 2v1m0 2v2m0 2v1m0 5v1M54 43v1m0 5v1m0 1v1m0 1v1m0 21v2m0 4v1m0 3v1m0 3v1m0 1v2m0 2v1m0 1v1m0 3v1m0 5v1M55 44v1m0 2v3m0 2v1m0 4v1m0 12v1m0 3v2m0 3v1m0 6v2m0 3v1m0 1v1m0 3v1m0 4v1m0 12v1M56 42v1m0 2v1m0 2v1m0 6v1m0 17v2m0 4v4m0 2v1m0 1v1m0 9v2m0 1v1m0 3v1m0 1v1M57 44v2m0 2v1m0 2v1m0 2v1m0 2v1m0 11v2m0 5v3m0 2v1m0 3v1m0 3v1m0 2v1m0 6v2m0 2v1M58 46v1m0 3v1m0 6v1m0 11v5m0 6v3m0 6v1m0 1v1m0 2v1m0 18v1M59 42v2m0 1v1m0 1v7m0 3v2m0 7v1m0 4v1m0 12v1m0 2v1m0 8v1m0 2v1m0 3v1m0 4v1m0 3v1m0 2v1M60 41v1m0 1v1m0 8v1m0 1v4m0 10v1m0 5v1m0 1v1m0 4v1m0 5v1m0 1v2m0 4v2m0 1v2m0 5v1m0 6v2m0 2v1M61 45v2m0 1v1m0 1v2m0 1v2m0 2v1m0 17v1m0 9v1m0 3v1m0 7v2m0 1v1m0 2v1M62 44v1m0 5v2m0 2v1m0 1v1m0 11v1m0 3v1m0 5v1m0 4v1m0 4v1m0 5v1m0 1v1m0 2v2m0 5v2m0 2v1M63 44v6m0 3v1m0 1v1m0 16v1m0 1v2m0 1v1m0 3v1m0 1v2m0 3v1m0 3v1m0 14v1M64 42v1m0 2v1m0 2v1m0 2v1m0 1v1m0 3v1m0 1v1m0 9v1m0 2v4m0 1v1m0 1v1m0 1v1m0 1v1m0 7v2m0 3v4m0 1v1m0 3v1m0 5v1m0 3v1M65 44v1m0 5v4m0 2v1m0 23v1m0 7v1m0 1v1m0 6v2m0 3v4m0 6v1m0 3v1M66 43v2m0 5v2m0 8v1m0 13v3m0 1v1m0 2v1m0 2v1m0 6v1m0 1v1m0 8v1m0 7v1m0 6v2M67 43v1m0 4v3m0 7v1m0 12v1m0 1v1m0 1v1m0 3v1m0 11v1m0 4v1m0 4v4M68 37v2m0 9v1m0 5v1m0 1v1m0 18v2m0 3v1m0 1v1m0 4v1m0 3v1m0 1v3m0 2v1m0 10v1M69 38v1m0 3v1m0 2v1m0 2v1m0 1v1m0 1v2m0 2v3m0 1v1m0 13v1m0 2v1m0 5v2m0 4v2m0 1v1m0 5v1m0 3v2M70 43v1m0 3v1m0 2v1m0 4v1m0 21v1m0 6v1m0 7v1m0 3v1m0 2v1m0 2v1M71 46v1m0 4v1m0 6v1m0 10v1m0 1v1m0 3v1m0 12v1m0 4v1m0 12v1m0 3v1m0 7v1M72 39v1m0 2v5m0 1v1m0 1v1m0 1v1m0 1v1m0 1v3m0 15v1m0 6v1m0 5v1m0 8v1m0 1v1m0 5v1m0 9v1M73 22v1m0 16v1m0 1v1m0 2v1m0 5v1m0 3v3m0 20v1m0 5v1m0 8v1m0 6v1m0 11v1M74 39v1m0 1v1m0 2v1m0 6v2m0 1v1m0 1v2m0 2v1m0 8v2m0 12v1m0 1v1m0 14v3m0 3v1m0 1v1m0 10v1M75 21v2m0 18v1m0 1v3m0 5v2m0 6v3m0 7v1m0 5v1m0 3v1m0 1v1m0 4v2m0 1v1m0 1v1m0 1v1m0 3v1m0 16v1M76 22v1m0 17v1m0 1v1m0 2v1m0 3v1m0 6v1m0 2v2m0 19v1m0 1v1m0 2v1m0 4v4m0 3v2m0 3v1m0 10v1M77 38v1m0 1v1m0 2v1m0 1v5m0 2v1m0 1v1m0 6v1m0 13v1m0 3v1m0 2v1m0 1v1m0 2v2m0 10v1m0 13v1m0 3v1M78 21v1m0 18v1m0 3v2m0 1v2m0 2v3m0 2v4m0 1v1m0 6v1m0 1v1m0 10v2m0 9v1m0 5v1m0 1v1m0 1v1M79 39v4m0 3v1m0 4v2m0 3v3m0 1v1m0 2v1m0 9v1m0 2v1m0 23v1m0 2v1m0 1v1m0 6v1m0 3v1M80 22v1m0 16v1m0 3v1m0 4v4m0 19v3m0 2v3m0 2v3m0 4v1m0 1v1m0 3v1m0 18v1m0 2v2M81 38v1m0 6v2m0 3v2m0 2v1m0 1v1m0 15v1m0 3v1m0 1v1m0 2v2m0 4v2m0 2v2m0 5v1m0 10v1M82 42v1m0 1v1m0 1v4m0 1v1m0 1v4m0 1v1m0 1v1m0 13v2m0 2v1m0 16v1m0 2v3m0 4v1m0 1v1M83 39v1m0 2v1m0 6v2m0 1v1m0 7v2m0 8v1m0 2v1m0 3v1m0 2v1m0 4v1m0 5v5m0 3v1m0 17v1M84 40v1m0 1v2m0 1v1m0 1v1m0 9v1m0 1v1m0 14v1m0 4v3m0 1v1m0 5v1m0 2v1m0 16v1M85 38v1m0 1v1m0 6v1m0 5v1m0 4v1m0 2v3m0 15v1m0 6v1m0 5v1m0 13v1m0 5v3M86 39v1m0 4v1m0 1v1m0 5v2m0 22v1m0 1v1m0 6v3m0 1v1m0 4v2m0 6v2m0 7v1m0 3v1M87 36v2m0 2v5m0 1v1m0 5v1m0 4v1m0 1v1m0 17v1m0 1v1m0 1v1m0 1v1m0 2v1m0 7v1m0 6v1m0 5v1m0 6v1M88 38v1m0 2v1m0 2v2m0 3v1m0 1v3m0 2v2m0 1v2m0 3v1m0 19v2m0 2v1m0 4v1m0 8v2m0 7v2M89 38v1m0 3v2m0 1v3m0 3v1m0 3v2m0 2v2m0 15v2m0 7v1m0 1v1m0 1v2m0 9v1m0 4v1m0 1v3m0 2v1M90 41v1m0 2v1m0 1v1m0 4v1m0 2v1m0 5v2m0 14v1m0 1v1m0 6v1m0 7v1m0 6v2m0 7v2m0 1v1M91 43v1m0 1v3m0 2v2m0 2v1m0 4v1m0 2v1m0 19v2m0 11v1m0 3v1m0 1v1m0 3v2m0 2v1m0 1v1M92 41v2m0 2v1m0 2v1m0 4v2m0 2v1m0 1v3m0 1v2m0 17v1m0 4v1m0 4v3m0 1v1m0 9v1m0 1v2m0 3v2M93 43v1m0 4v3m0 7v4m0 1v3m0 9v5m0 7v1m0 3v2m0 1v1m0 4v1m0 6v3m0 1v1M94 37v1m0 2v1m0 3v1m0 2v2m0 2v1m0 3v1m0 1v1m0 5v2m0 13v1m0 3v1m0 1v3m0 6v1m0 1v1m0 1v1m0 1v1m0 1v1m0 4v1m0 1v1m0 2v1M95 37v3m0 1v1m0 3v1m0 8v4m0 3v1m0 1v3m0 17v1m0 1v2m0 3v3m0 2v1m0 6v2m0 1v1m0 7v1M96 38v1m0 2v1m0 2v1m0 7v3m0 1v1m0 1v2m0 24v1m0 3v1m0 2v1m0 4v1m0 3v1m0 3v1m0 1v2m0 6v1M97 39v1m0 5v1m0 1v2m0 1v1m0 1v3m0 7v1m0 15v1m0 1v5m0 2v1m0 2v1m0 3v1m0 2v1m0 1v2m0 1v1m0 3v4m0 1v1M98 38v2m0 1v3m0 2v1m0 10v3m0 26v1m0 3v1m0 3v2m0 1v2m0 5v1m0 1v1m0 4v1M99 44v1m0 2v1m0 5v2m0 1v1m0 8v1m0 21v1m0 4v1m0 11v1m0 4v3M100 40v1m0 2v1m0 2v1m0 5v1m0 3v1m0 1v1m0 1v1m0 2v1m0 1v1m0 16v1m0 4v1m0 2v1m0 15v1m0 1v1M101 42v1m0 2v1m0 3v1m0 4v2m0 8v1m0 23v2m0 8v1m0 9v1m0 4v1M102 41v1m0 3v2m0 1v1m0 2v1m0 1v1m0 1v1m0 5v2m0 1v1m0 16v2m0 3v1m0 1v1m0 8v1m0 1v2m0 6v2M103 40v1m0 2v1m0 1v1m0 3v3m0 4v1m0 1v2m0 3v1m0 1v1m0 20v1m0 3v2m0 3v2m0 1v1m0 5v1M104 41v1m0 2v1m0 8v3m0 5v1m0 2v1m0 6v1m0 11v1m0 2v1m0 1v1m0 4v1m0 2v1m0 7v1m0 2v1m0 2v1M105 41v1m0 4v1m0 2v1m0 1v1m0 3v2m0 4v2m0 2v1m0 2v2m0 12v1m0 1v1m0 10v2m0 1v2m0 3v1m0 1v2M106 40v1m0 1v1m0 1v1m0 10v2m0 1v1m0 3v1m0 2v1m0 2v1m0 1v1m0 10v1m0 2v2m0 3v1m0 13v1M107 41v1m0 2v1m0 2v1m0 1v1m0 1v2m0 3v1m0 1v2m0 1v1m0 6v2m0 2v1m0 12v1m0 7v1m0 10v1M108 42v1m0 1v1m0 2v1m0 2v1m0 13v2m0 9v1m0 7v1m0 4v2m0 6v1m0 7v1m0 2v1M109 42v1m0 1v1m0 3v1m0 2v2m0 8v4m0 1v1m0 2v1m0 3v2m0 7v1m0 10v1m0 1v2m0 7v1M110 44v1m0 5v1m0 1v1m0 1v1m0 9v1m0 5v1m0 2v1m0 11v2m0 2v1m0 6v1m0 1v1M111 42v1m0 1v2m0 1v2m0 1v2m0 2v1m0 5v1m0 4v1m0 21v1m0 2v1m0 7v1M112 42v2m0 1v1m0 4v1m0 10v1m0 2v1m0 3v1m0 5v1m0 15v1m0 2v1m0 1v1M113 43v1m0 1v1m0 1v1m0 1v1m0 4v1m0 4v1m0 1v2m0 8v1m0 2v1m0 8v1m0 15v1M114 44v2m0 8v1m0 3v1m0 1v2m0 2v1m0 26v1M115 42v1m0 2v1m0 2v1m0 2v1m0 3v2m0 1v1m0 1v2m0 2v1m0 27v1M116 42v1m0 1v3m0 3v5m0 1v1m0 4v1M117 42v1m0 2v2m0 1v1m0 7v2m0 3v1M118 47v1m0 1v3m0 2v2m0 4v1M119 42v2m0 1v2m0 1v1m0 7v1m0 2v1m0 1v1m0 2v1M120 42v2m0 1v4m0 1v1m0 3v2m0 5v1M121 43v1m0 4v2m0 5v1m0 1v1m0 2v1m0 1v1M122 45v1m0 1v1m0 2v3m0 5v2m0 2v2M123 47v1m0 4v1m0 6v2m0 10v2M124 43v2m0 1v1m0 3v1m0 1v1m0 3v2m0 1v2m0 10v1M125 41v1m0 1v1m0 5v3m0 1v1m0 2v2m0 4v1m0 9v1M126 42v2m0 2v1m0 4v3m0 1v5m0 1v1m0 6v1m0 1v1m0 20v1M127 47v1m0 10v5m0 7v1m0 12v1m0 2v1M128 46v2m0 1v1m0 4v5m0 1v1m0 1v2m0 20v1m0 1v1m0 3v1M129 45v3m0 2v1m0 1v1m0 2v2m0 1v1m0 29v1m0 1v1m0 2v1M130 44v2m0 12v1m0 3v1m0 1v1m0 4v1m0 13v2m0 1v1M131 49v3m0 3v3m0 24v2m0 2v2M132 51v1m0 1v2m0 1v2m0 25v1m0 10v1M133 47v2m0 8v2m0 1v1m0 22v2m0 1v1M134 57v1m0 27v1M135 54v3m0 26v1m0 1v1M136 50v1m0 5v1m0 31v1M137 54v1m0 32v1M138 55v1m0 1v1m0 6v1m0 20v2M139 53v1M140 59v3m0 1v2m0 22v1M141 55v2m0 3v1m0 2v1m0 2v1m0 20v1M142 52v1m0 5v4m0 4v1m0 1v1m0 18v1M143 54v2m0 2v3m0 1v4m0 1v1m0 17v1m0 1v1M144 57v2m0 1v2m0 1v1m0 2v1m0 2v1m0 7v1m0 6v2M145 59v1m0 3v1m0 2v1m0 1v1m0 15v1M146 59v1m0 5v1m0 1v2m0 13v1M147 54v1m0 2v2m0 5v1m0 2v1m0 15v1m0 2v1M148 28v3m0 26v1m0 6v1m0 5v1m0 4v1M149 33v1m0 22v2m0 4v2m0 20v1M150 60v1m0 1v1m0 2v1m0 2v2m0 9v6M151 31v1m0 26v1m0 2v1m0 1v1m0 1v1m0 3v1m0 7v4m0 1v1M152 56v2m0 1v1m0 2v1m0 3v1m0 1v1m0 1v1m0 7v3m0 1v1M153 49v1m0 7v2m0 1v4m0 3v1m0 1v1m0 7v1M154 31v2m0 23v1m0 1v2m0 2v3m0 5v1m0 7v1M155 29v2m0 1v1m0 15v1m0 6v1m0 4v3m0 4v5m0 9v1M156 31v1m0 1v1m0 24v1m0 5v2m0 18v1M157 29v1m0 2v2m0 4v1m0 19v1m0 6v1m0 1v2m0 1v1m0 8v1m0 1v1M158 27v1m0 6v1m0 27v2m0 3v1m0 2v1m0 10v1M159 29v1m0 1v1m0 1v1m0 1v1m0 19v1m0 1v3m0 1v2m0 5v1m0 1v1m0 8v2M160 27v1m0 5v3m0 1v1m0 9v1m0 9v2m0 1v1m0 3v1m0 1v4m0 9v2m0 2v1M161 28v2m0 3v2m0 3v1m0 20v7m0 1v1m0 2v1m0 6v1m0 2v1M162 31v1m0 4v1m0 1v1m0 9v1m0 9v1m0 1v1m0 2v1m0 2v1M163 36v1m0 2v1m0 17v3m0 3v6m0 1v1m0 9v1M164 58v2m0 2v6m0 1v1m0 6v1m0 1v1m0 1v1m0 3v1M165 28v1m0 1v1m0 8v1m0 18v2m0 1v1m0 1v1m0 1v3m0 1v1m0 8v1M166 38v3m0 18v2m0 1v1m0 3v1m0 1v1m0 1v1m0 2v2m0 4v1M167 38v1m0 20v1m0 4v1m0 1v2m0 1v1m0 3v1m0 2v1m0 3v1M168 30v1m0 1v1m0 5v1m0 21v1m0 1v4m0 1v2m0 5v3m0 2v1M169 30v1m0 2v1m0 4v1m0 2v1m0 20v1m0 2v1m0 6v1m0 2v1M170 37v1m0 1v1m0 3v2m0 18v5m0 3v1m0 2v4M171 39v1m0 21v3m0 2v1m0 1v1m0 1v1m0 1v2m0 2v1m0 3v1M172 32v1m0 8v2m0 1v1m0 15v1m0 3v1m0 2v1M173 40v1m0 1v2m0 1v1m0 14v1m0 2v1m0 6v2m0 2v3M174 43v1m0 19v1m0 1v1m0 6v1M175 43v3m0 2v1m0 24v2m0 1v1M176 43v1m0 1v2m0 26v1m0 1v2M178 42v2"/>
<path stroke="#7c44fa" d="M8 90v1M17 75v1m0 15v1m0 7v1M18 85v1m0 5v1m0 5v1M19 88v1M20 85v1m0 7v5m0 3v1M21 86v1m0 2v1m0 7v2M22 50v1m0 26v1m0 3v1m0 4v1m0 2v1m0 4v1m0 2v1m0 1v1m0 1v2M23 52v1m0 23v1m0 25v1m0 1v2M24 51v1m0 23v1m0 3v1m0 9v1m0 4v2m0 5v1m0 1v1M25 70v1m0 5v2m0 1v1m0 9v4m0 10v1m0 2v1M26 51v1m0 19v1m0 2v1m0 5v1m0 4v1m0 1v1m0 7v1m0 10v1M27 46v1m0 6v1m0 17v5m0 9v1m0 2v1m0 2v1m0 1v1m0 2v1m0 2v4M28 48v4m0 21v1m0 13v2m0 2v1M29 47v1m0 1v1m0 20v2m0 1v1m0 2v1m0 3v2m0 5v2m0 5v1m0 4v1m0 3v2m0 1v2M30 49v1m0 21v1m0 3v1m0 1v2m0 1v1m0 5v2m0 3v1m0 2v1m0 3v5M31 48v1m0 1v2m0 15v2m0 1v1m0 1v1m0 3v2m0 7v2m0 3v5m0 1v1m0 3v2m0 2v2m0 1v1M32 48v1m0 2v1m0 1v1m0 14v1m0 1v1m0 2v1m0 1v4m0 10v2m0 4v1m0 1v1m0 4v1m0 2v1m0 3v1M33 51v1m0 16v1m0 1v1m0 2v3m0 1v1m0 1v1m0 1v1m0 2v1m0 5v1m0 3v1m0 1v2m0 1v2m0 4v2M34 47v1m0 4v1m0 1v1m0 15v5m0 1v2m0 8v1m0 2v1m0 1v1m0 1v1m0 3v1m0 5v3m0 2v1M35 48v1m0 2v1m0 2v1m0 13v1m0 2v1m0 1v2m0 2v1m0 8v1m0 1v1m0 6v2m0 2v2m0 3v4m0 1v1M36 48v1m0 4v1m0 12v2m0 1v3m0 1v1m0 2v1m0 2v1m0 2v1m0 1v1m0 8v3m0 3v3m0 2v3M37 52v3m0 12v3m0 2v2m0 4v1m0 2v2m0 7v1m0 3v1m0 12v1m0 1v1M38 47v1m0 2v1m0 3v1m0 20v1m0 3v3m0 7v1m0 2v1m0 1v1m0 1v1m0 3v1m0 1v1m0 3v1M39 68v3m0 3v1m0 1v1m0 3v1m0 3v2m0 1v3m0 1v1m0 12v1m0 1v1m0 3v2M40 51v3m0 13v2m0 2v1m0 3v1m0 2v2m0 3v3m0 1v1m0 1v1m0 6v1m0 9v2m0 2v2M41 47v3m0 19v2m0 1v1m0 1v6m0 6v1m0 1v2m0 1v1m0 1v1m0 3v2m0 3v1m0 3v1m0 1v1m0 3v1M42 48v2m0 21v1m0 1v1m0 4v1m0 1v2m0 3v3m0 2v1m0 3v1m0 2v1m0 1v1m0 6v2m0 4v2M43 67v1m0 2v1m0 1v1m0 1v1m0 7v4m0 2v1m0 1v3m0 1v1m0 1v1m0 3v2m0 6v2m0 1v1M44 48v1m0 4v1m0 15v2m0 1v1m0 1v1m0 13v1m0 1v1m0 1v1m0 1v1m0 5v1m0 1v1m0 1v1m0 2v1m0 3v1M45 45v2m0 21v2m0 2v1m0 1v4m0 1v1m0 2v1m0 1v1m0 9v1m0 1v2m0 1v2m0 2v2m0 4v1M46 43v1m0 3v2m0 19v2m0 3v2m0 3v2m0 1v2m0 13v1m0 1v1m0 2v1m0 3v1m0 1v1m0 5v1m0 1v1M47 46v1m0 2v1m0 5v1m0 11v8m0 2v3m0 2v2m0 2v1m0 3v1m0 4v3m0 1v1m0 1v1m0 5v1m0 2v1m0 1v1M48 47v1m0 6v1m0 13v1m0 2v2m0 1v1m0 1v7m0 2v1m0 1v1m0 2v1m0 1v1m0 2v1m0 1v1m0 1v1m0 1v1m0 2v2m0 1v1m0 1v1m0 1v1m0 1v2M49 46v1m0 20v1m0 1v1m0 2v2m0 6v2m0 1v2m0 1v1m0 3v1m0 1v1m0 3v1m0 1v1m0 3v2m0 1v1m0 3v2m0 1v1M50 45v1m0 1v2m0 6v2m0 12v1m0 1v1m0 2v2m0 2v1m0 1v1m0 4v1m0 1v1m0 5v1m0 1v1m0 2v3m0 3v1m0 8v1M51 49v3m0 19v1m0 3v2m0 1v1m0 4v1m0 2v1m0 6v1m0 4v1m0 1v1m0 5v6M52 50v1m0 3v3m0 10v1m0 1v2m0 4v1m0 5v1m0 4v1m0 1v1m0 7v1m0 4v2m0 4v1m0 1v2m0 1v1m0 1v1m0 1v1M53 43v1m0 1v1m0 8v1m0 11v2m0 2v1m0 1v2m0 2v1m0 3v1m0 4v2m0 1v1m0 7v1m0 8v2m0 3v1m0 2v3M54 45v2m0 5v1m0 1v1m0 1v2m0 7v1m0 3v2m0 6v1m0 1v2m0 1v1m0 1v1m0 1v1m0 3v1m0 2v1m0 2v1m0 3v1m0 1v2m0 7v1M55 42v1m0 2v2m0 4v1m0 3v1m0 11v3m0 1v2m0 5v1m0 1v6m0 2v1m0 6v1m0 5v1m0 2v1m0 2v1m0 1v1m0 1v2M56 43v2m0 1v2m0 1v1m0 2v2m0 3v1m0 10v3m0 1v1m0 3v2m0 5v2m0 1v1m0 5v2m0 1v1m0 3v1m0 2v2m0 1v1m0 1v3m0 2v1m0 2v1M57 42v2m0 2v2m0 2v1m0 2v1m0 2v1m0 15v4m0 3v2m0 2v1m0 6v2m0 1v1m0 1v2m0 8v3m0 2v2m0 1v2M58 44v1m0 2v1m0 1v1m0 4v1m0 13v1m0 6v3m0 1v1m0 3v3m0 1v1m0 5v1m0 10v3m0 1v1m0 1v3m0 1v1M59 44v1m0 1v1m0 29v2m0 1v5m0 1v1m0 3v2m0 1v4m0 2v1m0 1v1m0 5v1m0 9v2M60 45v2m0 1v1m0 4v1m0 4v1m0 13v1m0 5v3m0 1v1m0 5v1m0 2v4m0 5v1m0 2v1m0 3v1m0 1v1m0 4v2m0 1v1M61 41v1m0 2v1m0 4v1m0 9v1m0 8v1m0 2v1m0 7v3m0 1v2m0 1v1m0 1v1m0 1v1m0 1v1m0 1v1m0 6v2m0 1v1m0 1v1m0 3v3M62 43v1m0 9v1m0 4v1m0 10v1m0 10v1m0 1v1m0 1v1m0 5v3m0 5v1m0 5v2m0 2v2m0 1v1m0 2v1m0 2v2M63 43v1m0 10v1m0 3v1m0 10v1m0 3v1m0 4v2m0 2v1m0 2v2m0 2v3m0 6v2m0 1v2m0 1v3m0 4v1m0 2v1m0 2v1M64 46v2m0 4v1m0 3v1m0 21v1m0 1v1m0 1v1m0 2v3m0 1v1m0 3v1m0 6v1m0 2v2m0 2v2m0 4v1m0 5v1M65 41v1m0 1v1m0 2v4m0 4v1m0 2v1m0 1v1m0 9v2m0 8v1m0 4v2m0 1v1m0 1v1m0 2v3m0 1v1m0 3v2m0 4v1m0 2v3m0 1v1m0 1v1m0 1v1M66 40v1m0 4v1m0 1v1m0 8v2m0 13v2m0 4v1m0 5v1m0 3v3m0 2v1m0 2v2m0 1v3m0 7v1m0 2v1m0 1v2M67 40v1m0 1v1m0 2v1m0 1v1m0 3v1m0 3v1m0 14v1m0 3v1m0 2v2m0 1v3m0 3v3m0 3v1m0 5v2m0 5v2m0 1v6m0 2v1M68 44v1m0 2v1m0 2v1m0 4v1m0 1v1m0 13v4m0 3v1m0 6v1m0 3v1m0 7v1m0 1v2m0 2v2m0 1v1m0 6v1m0 1v3M69 40v2m0 5v1m0 22v4m0 5v1m0 2v1m0 3v1m0 4v1m0 4v2m0 6v4m0 9v1M70 45v1m0 3v1m0 3v1m0 2v4m0 10v4m0 1v1m0 2v2m0 1v1m0 4v2m0 1v3m0 2v2m0 2v1m0 7v4m0 1v1m0 1v2m0 1v1m0 1v1M71 41v1m0 2v2m0 1v1m0 1v2m0 2v1m0 2v1m0 2v1m0 10v1m0 7v2m0 3v1m0 3v1m0 2v1m0 1v1m0 1v1m0 1v1m0 3v1m0 1v2m0 1v1m0 3v1m0 5v1m0 1v1M72 49v1m0 5v1m0 3v1m0 10v2m0 1v1m0 6v1m0 5v1m0 1v2m0 3v2m0 5v1m0 1v1m0 2v1m0 3v2m0 5v2M73 42v2m0 2v1m0 1v1m0 10v1m0 11v1m0 2v3m0 5v1m0 6v1m0 1v1m0 2v1m0 7v2m0 4v1m0 3v2m0 5v1M74 40v1m0 4v1m0 2v1m0 4v1m0 5v1m0 16v1m0 1v1m0 10v4m0 1v1m0 3v2m0 3v2m0 4v6m0 3v1M75 47v1m0 7v1m0 2v1m0 14v1m0 3v1m0 2v1m0 2v3m0 2v1m0 3v1m0 1v1m0 7v1m0 3v1m0 3v4m0 1v2M76 21v1m0 21v2m0 1v2m0 2v1m0 1v1m0 1v2m0 2v1m0 16v1m0 3v1m0 1v1m0 2v1m0 9v2m0 4v2m0 1v4m0 2v3m0 2v1M77 22v1m0 18v2m0 1v1m0 5v2m0 1v1m0 3v1m0 13v1m0 1v2m0 5v1m0 9v1m0 1v1m0 1v1m0 2v2m0 5v2m0 1v1m0 7v2M78 41v3m0 10v1m0 20v1m0 1v2m0 1v1m0 5v2m0 1v1m0 1v1m0 2v2m0 5v1m0 1v2m0 1v3m0 2v1m0 1v1m0 1v1m0 1v1M79 43v2m0 2v1m0 2v1m0 3v1m0 6v2m0 12v1m0 5v3m0 5v1m0 8v1m0 2v1m0 2v1m0 1v3m0 1v1m0 6v1M80 40v1m0 1v1m0 2v1m0 1v1m0 4v1m0 2v1m0 2v1m0 2v2m0 11v1m0 5v1m0 3v1m0 2v1m0 1v1m0 1v2m0 6v2m0 3v1m0 2v2m0 1v2m0 2v1M81 40v2m0 1v1m0 4v1m0 12v1m0 18v1m0 5v1m0 8v2m0 2v1m0 1v1m0 2v2m0 5v1m0 5v1M82 61v2m0 13v1m0 2v3m0 1v1m0 5v2m0 1v1m0 1v1m0 6v2m0 1v1m0 5v1m0 2v3M83 41v1m0 1v1m0 3v2m0 5v1m0 1v2m0 1v1m0 2v1m0 9v1m0 6v1m0 1v1m0 1v1m0 5v2m0 5v1m0 3v1m0 1v1m0 1v1m0 10v2M84 41v1m0 7v3m0 1v3m0 4v1m0 12v1m0 1v1m0 8v3m0 8v2m0 3v2m0 2v1m0 3v1m0 1v2m0 1v2M85 41v1m0 1v1m0 1v1m0 2v5m0 2v1m0 4v1m0 21v1m0 4v5m0 1v1m0 1v4m0 1v1m0 1v1m0 1v1m0 4v1M86 40v1m0 1v2m0 3v1m0 3v1m0 2v1m0 3v1m0 2v1m0 9v1m0 10v3m0 3v1m0 1v3m0 3v1m0 1v2m0 7v1m0 1v1m0 4v1M87 38v1m0 9v1m0 1v2m0 3v1m0 4v4m0 11v1m0 4v1m0 1v1m0 5v1m0 1v2m0 3v1m0 1v1m0 1v2m0 1v1m0 3v1m0 1v1m0 2v1m0 5v1M88 37v1m0 5v1m0 2v2m0 6v2m0 6v1m0 18v1m0 4v2m0 2v2m0 2v4m0 3v1m0 6v1m0 1v1m0 3v1M89 37v1m0 1v1m0 1v1m0 2v1m0 3v1m0 3v1m0 8v2m0 10v1m0 6v2m0 1v2m0 6v1m0 1v1m0 5v1m0 4v1M90 40v1m0 1v1m0 6v1m0 3v1m0 2v1m0 2v1m0 2v2m0 13v1m0 1v6m0 5v2m0 3v2m0 1v2m0 6v3M91 36v1m0 5v1m0 5v1m0 3v1m0 3v1m0 1v1m0 1v1m0 2v1m0 13v1m0 2v2m0 2v1m0 3v2m0 2v1m0 1v1m0 1v2m0 2v1m0 1v3m0 2v2m0 3v4M92 39v2m0 6v1m0 2v2m0 10v1m0 15v2m0 3v1m0 2v1m0 8v1m0 2v7M93 39v2m0 5v2m0 3v2m0 1v2m0 6v1m0 22v1m0 3v2m0 5v2m0 4v1m0 8v1m0 3v1M94 35v2m0 8v1m0 3v1m0 2v1m0 1v1m0 3v1m0 3v1m0 24v3m0 2v1m0 1v1m0 1v1m0 8v1m0 1v1m0 1v2m0 1v2M95 42v3m0 1v5m0 1v2m0 4v1m0 1v1m0 18v1m0 7v3m0 10v1m0 3v1m0 1v3m0 1v3m0 1v1M96 39v1m0 10v2m0 13v1m0 13v1m0 1v1m0 1v1m0 3v1m0 1v1m0 4v2m0 3v1m0 1v3m0 1v1m0 6v2m0 1v1M97 40v1m0 2v1m0 7v1m0 7v1m0 1v1m0 1v1m0 22v1m0 1v1m0 2v1m0 6v1m0 5v2m0 4v1m0 2v1M98 40v1m0 3v2m0 1v1m0 1v1m0 3v1m0 8v1m0 18v2m0 4v2m0 2v3m0 6v4m0 1v1m0 1v1m0 1v1M99 39v4m0 3v1m0 1v1m0 1v3m0 2v1m0 3v2m0 1v3m0 14v1m0 1v1m0 4v1m0 2v1m0 12v2m0 1v1m0 2v1M100 39v1m0 2v1m0 1v2m0 4v2m0 1v1m0 7v1m0 19v1m0 15v2m0 1v2m0 1v1m0 6v2m0 1v1M101 41v1m0 4v1m0 3v2m0 4v1m0 1v1m0 3v1m0 15v2m0 1v1m0 1v1m0 2v2m0 2v1m0 1v1m0 1v1m0 2v1m0 1v3m0 1v1m0 2v2m0 2v1M102 40v1m0 9v1m0 1v1m0 1v1m0 1v1m0 2v2m0 4v1m0 19v1m0 5v4m0 1v1m0 1v1m0 2v3M103 41v2m0 1v1m0 7v3m0 5v2m0 19v1m0 3v1m0 1v2m0 3v3m0 7v2m0 3v1m0 2v1M104 40v1m0 1v2m0 5v1m0 1v1m0 4v1m0 3v1m0 7v3m0 8v1m0 1v1m0 5v1m0 3v1m0 5v1m0 2v1m0 2v1m0 2v1m0 1v2M105 42v1m0 5v1m0 1v1m0 1v1m0 10v2m0 2v1m0 18v2m0 2v3m0 1v1m0 7v1m0 4v1m0 1v1M106 41v1m0 1v1m0 1v3m0 6v1m0 4v1m0 3v2m0 6v1m0 8v1m0 5v1m0 1v1m0 1v5m0 2v1m0 1v1m0 2v1m0 2v1m0 1v2M107 42v2m0 1v2m0 7v1m0 7v1m0 2v1m0 20v7m0 2v2m0 3v3M108 40v1m0 5v1m0 1v1m0 3v1m0 2v3m0 2v3m0 21v1m0 2v1m0 2v2m0 2v2m0 5v3m0 2v1M109 45v3m0 1v2m0 3v1m0 3v2m0 8v1m0 1v1m0 1v1m0 10v1m0 1v1m0 1v3m0 1v2m0 1v1m0 5v3M110 40v3m0 2v2m0 1v2m0 5v2m0 5v1m0 5v2m0 17v1m0 2v5m0 2v1m0 3v1M111 43v1m0 5v1m0 8v1m0 3v1m0 11v1m0 11v1m0 2v1m0 1v1m0 2v1m0 1v1m0 2v1m0 1v2M112 47v2m0 2v3m0 1v4m0 1v1m0 1v2m0 7v2m0 13v1m0 2v1m0 1v1M113 46v1m0 1v1m0 6v1m0 1v1m0 5v2m0 21v1m0 16v1M114 41v1m0 1v1m0 2v2m0 4v1m0 2v1m0 1v1m0 1v1m0 2v1m0 26v2M115 44v1m0 1v1m0 5v3m0 4v1m0 3v1m0 24v1M116 47v3m0 5v1m0 1v1m0 2v1m0 1v1M117 41v1m0 2v1m0 2v1m0 3v1m0 2v1M118 43v4m0 1v1m0 4v1m0 2v4m0 1v4M119 47v1m0 1v1m0 5v1m0 1v2M120 51v2m0 4v2m0 3v1M121 42v1m0 2v2m0 3v3m0 5v2m0 1v1M122 44v1m0 3v2m0 4v2m0 4v1m0 3v1M123 42v1m0 3v1m0 1v3m0 2v1m0 4v1m0 2v3m0 13v1M124 45v1m0 2v2m0 3v1m0 4v1m0 2v1m0 1v1m0 13v1M125 45v4m0 10v1m0 1v1m0 9v1m0 19v1M126 47v2m0 5v1m0 5v1m0 2v1m0 7v1m0 12v1m0 1v1m0 3v1M127 45v1m0 4v1m0 2v1m0 1v3m0 11v1m0 1v1m0 12v1M128 43v1m0 4v1m0 1v1m0 2v1m0 5v1m0 8v1m0 3v1m0 10v1m0 1v1m0 2v1M129 48v1m0 2v1m0 2v1m0 4v2m0 22v1m0 1v2M130 47v1m0 6v2m0 29v1m0 7v1M131 48v1m0 3v1m0 1v1m0 4v1m0 2v2m0 29v1M132 49v2m0 1v1m0 2v1m0 2v1m0 3v1m0 18v2m0 3v1M133 49v2m0 4v1m0 25v1m0 3v1M134 49v1m0 2v2m0 1v1m0 4v2m0 25v1M135 53v1m0 3v2m0 1v1m0 23v1m0 1v1M136 49v1m0 2v2m0 1v1m0 1v1m0 6v1m0 19v1M137 55v2m0 3v2m0 1v1m0 20v1m0 1v1M138 53v1m0 2v1m0 5v1m0 24v1M139 52v1m0 10v2m0 21v2M140 54v1M141 59v1m0 1v2m0 2v1m0 17v1m0 2v1M142 55v1m0 6v1m0 1v2m0 18v1m0 1v1M143 53v1m0 14v1m0 14v1M144 59v1m0 5v1m0 17v1m0 2v1M145 57v1m0 2v1m0 1v1m0 1v1m0 21v2M146 57v1m0 2v1m0 2v1m0 10v1m0 8v1m0 1v1M147 53v1m0 2v1m0 4v1m0 1v1m0 2v1m0 2v1m0 5v1m0 6v1M148 56v1m0 2v2m0 1v1m0 2v3m0 1v1m0 13v1m0 1v2M149 60v1m0 6v1m0 1v1m0 9v1m0 2v2M150 58v2m0 3v2m0 21v1M151 56v1m0 3v1m0 1v1m0 3v1m0 16v1M152 48v1m0 14v3m0 1v1m0 16v1M153 48v1m0 7v1m0 7v1m0 1v1m0 1v1m0 11v2m0 1v1M154 47v1m0 12v2m0 6v1m0 12v1M155 47v1m0 8v1m0 1v2m0 4v3M156 48v1m0 13v1m0 3v1m0 1v1m0 1v1m0 11v2M157 49v1m0 4v1m0 1v2m0 6v1m0 1v1M158 56v2m0 2v1m0 5v1m0 2v1m0 10v1M159 48v1m0 14v2m0 1v1m0 11v1m0 3v1M160 36v1m0 19v1m0 4v1m0 3v1M161 66v1m0 12v1m0 2v2M162 56v2m0 1v1m0 1v1m0 3v1m0 14v1M163 60v1m0 16v1m0 1v1M164 41v1m0 15v1m0 3v1m0 6v1m0 10v1M165 60v1m0 3v1m0 3v1m0 4v3m0 3v1M166 65v1m0 9v4M167 63v1m0 8v1m0 6v1M168 42v1m0 26v1m0 2v1m0 4v1M169 46v1m0 12v3m0 1v1m0 2v2m0 1v1m0 7v2M170 40v1m0 20v2m0 7v1m0 2v1m0 5v1M171 44v2m0 21v1m0 9v1M172 43v1m0 3v1m0 13v2m0 3v1m0 1v1m0 6v5M173 41v1m0 2v1m0 1v1m0 18v2m0 6v1M174 45v1m0 16v1m0 8v1m0 2v2M175 42v1m0 3v2m0 23v2M176 41v1m0 5v1M177 45v3m0 26v1M178 45v1m0 27v1M179 43v1m0 1v2M181 43v3"/>
<path stroke="#5a22ff" d="M18 88v1M19 98v1M21 84v1M22 85v1m0 6v1M23 80v1m0 5v1m0 9v2m0 3v1M25 72v1M26 70v1m0 1v2m0 20v1m0 7v2M27 103v1M28 67v1m0 1v1m0 2v1m0 4v1m0 16v1m0 4v1M29 82v1m0 8v1m0 4v2M30 68v2m0 3v1m0 5v1m0 3v1m0 5v1m0 3v1m0 10v1M31 82v1m0 6v1m0 12v1M32 72v1m0 6v1m0 16v1m0 10v1M33 66v2M34 69v1m0 11v1m0 13v1M35 65v1m0 3v2m0 10v1m0 16v1m0 9v1M36 68v1m0 9v1m0 10v2m0 12v1m0 6v1M37 66v1m0 3v2m0 4v1m0 24v1M38 66v1m0 1v1m0 1v1m0 2v1m0 17v1m0 12v1m0 3v1M39 71v1m0 5v1m0 16v1m0 6v1M40 69v1m0 3v1m0 6v2m0 4v1m0 3v1m0 13v1M41 71v1m0 11v2m0 25v1M42 69v1m0 12v2m0 4v1m0 12v1m0 3v1m0 4v2M43 68v1m0 2v1m0 3v1m0 2v1m0 24v2m0 2v1m0 2v1m0 1v1M44 66v1m0 4v1m0 1v1m0 19v1m0 1v1m0 2v1m0 4v1m0 5v2m0 2v1M45 67v1m0 5v1m0 13v3m0 3v1m0 7v1m0 4v1m0 7v1M46 66v1m0 3v1m0 4v1m0 1v1m0 8v1m0 2v1m0 3v2m0 9v1M47 84v1m0 3v1m0 3v1m0 13v1M48 70v1m0 4v1m0 15v1m0 1v2m0 7v1m0 3v1M49 70v1m0 7v1m0 9v1m0 6v1m0 19v1M50 67v1m0 2v1m0 2v1m0 12v1m0 1v2m0 15v1m0 3v1m0 5v1M51 73v1m0 7v1m0 2v1m0 6v1m0 11v1m0 1v1M52 74v1m0 1v1m0 6v1m0 1v1m0 1v1m0 1v1m0 3v1m0 3v1m0 10v1m0 6v1M53 71v1m0 3v1m0 1v1m0 5v1m0 3v1m0 9v1m0 2v1m0 2v2m0 2v1m0 1v1m0 1v2M54 71v2m0 1v1m0 8v1m0 21v1m0 4v1m0 1v3M55 73v1m0 16v1m0 1v1m0 10v1m0 2v1m0 1v1m0 4v2M56 101v1m0 8v1m0 2v2M57 71v1m0 10v1m0 1v1m0 3v1m0 9v1m0 3v1m0 1v1m0 3v2m0 2v1m0 2v1M58 86v1m0 16v1m0 3v1M59 70v1m0 3v1m0 13v1m0 15v1m0 2v1m0 1v2m0 2v1M60 70v1m0 13v3m0 10v1m0 3v1m0 4v1m0 1v1m0 1v2M61 69v2m0 5v1m0 10v1m0 3v1m0 1v1m0 2v1m0 8v1m0 1v2m0 4v4M62 70v1m0 3v2m0 1v1m0 1v1m0 5v1m0 9v1m0 5v3m0 8v1M63 70v1m0 5v1m0 10v1m0 7v3m0 5v1m0 4v3m0 1v2m0 4v1M64 70v1m0 35v1m0 2v2m0 1v1m0 1v1m0 3v1M65 71v2m0 18v1m0 3v1m0 11v2M66 90v1m0 6v1m0 8v1m0 2v1m0 2v1m0 3v1M67 83v1m0 1v1m0 4v1m0 3v1m0 12v1m0 6v1m0 2v1m0 1v1M68 68v1m0 12v1m0 8v1m0 14v1m0 1v1m0 2v2m0 2v1m0 3v1M69 80v1m0 6v1m0 6v1m0 13v3m0 1v3m0 3v1M70 74v1m0 5v1m0 7v1m0 12v1m0 8v1m0 4v1m0 1v1M71 76v1m0 3v2m0 7v1m0 1v1m0 9v1m0 2v1m0 2v2m0 2v1m0 1v1m0 2v1M72 76v1m0 1v1m0 11v2m0 7v1m0 12v1m0 2v1M73 70v1m0 1v1m0 5v1m0 5v1m0 1v1m0 20v1m0 1v1m0 5v1m0 1v1M74 96v1m0 8v1M75 95v1m0 2v1m0 2v1m0 1v1m0 1v1m0 1v2M76 96v1m0 15v1m0 3v1M77 76v2m0 23v1m0 7v1m0 4v1M78 79v1m0 4v1m0 3v1m0 7v1m0 2v1m0 9v1m0 2v1M79 71v1m0 6v1m0 6v1m0 1v1m0 2v1m0 1v1m0 2v1m0 3v1m0 11v1m0 1v3m0 2v1M80 79v1m0 18v1m0 3v2m0 1v2m0 2v1m0 5v1M81 85v1m0 3v2m0 2v2m0 7v2m0 2v1m0 3v1m0 1v5M82 82v1m0 4v1m0 3v1m0 14v1m0 4v2M83 75v1m0 8v1m0 3v1m0 12v1m0 3v3m0 1v2M84 70v1m0 1v1m0 9v1m0 7v2m0 2v1m0 2v1m0 4v2m0 1v1m0 9v1M85 75v1m0 2v1m0 6v1m0 13v1m0 3v1m0 6v1M86 81v1m0 26v1m0 3v1M87 93v1m0 2v1m0 1v1m0 5v1m0 4v1m0 3v1M88 78v2m0 2v2m0 15v1m0 13v1M89 78v1m0 3v1m0 12v1m0 10v1m0 8v1M90 88v1m0 8v1M91 98v1M92 80v1m0 9v1m0 14v1m0 4v1m0 1v1M93 86v1m0 8v1m0 5v1m0 2v1m0 4v1M94 90v1m0 12v2m0 10v1M95 93v1m0 2v2m0 1v1m0 9v1M96 78v1m0 3v1m0 7v1m0 6v1m0 10v1M97 89v1m0 3v1m0 9v1M98 96v1m0 2v1M99 91v1m0 1v1m0 1v1m0 4v1M100 83v3m0 7v1m0 5v1m0 9v1M101 104v1M102 84v1m0 2v1m0 2v1m0 4v1m0 8v1m0 1v1m0 2v1M103 83v1m0 15v1m0 1v1m0 6v2M104 90v1m0 7v1M105 85v1M106 101v1m0 2v1m0 1v1M107 98v1M108 92v2m0 3v1M109 90v1m0 7v2M110 99v1M111 88v1m0 3v1M112 84v1m0 3v1M113 98v1M154 49v1M157 47v1M160 48v1M161 47v1M165 47v1M174 48v1M176 44v1M177 44v1M178 46v2m0 1v1M179 42v1m0 1v1M180 45v1M181 46v1M182 46v1"/>
</g>
<g transform="translate(555.1 999.6) scale(2.2 3.3)">
<path stroke="#c4c4c4" d="M8 91v1M16 97v1M17 91v1m0 1v1m0 3v1m0 1v1M18 74v1m0 13v1m0 2v1m0 2v1M19 88v1m0 2v1m0 2v1m0 8v1M20 85v3m0 4v5m0 1v1m0 2v1M21 75v1m0 5v1m0 2v1m0 1v1m0 2v1M22 79v1m0 1v1m0 3v1m0 1v1m0 1v1m0 2v1m0 1v1m0 3v2m0 1v2M23 50v2m0 24v1m0 3v1m0 5v1m0 2v1m0 11v2m0 1v2M24 48v1m0 2v1m0 22v2m0 1v1m0 1v2m0 2v1m0 10v2m0 5v1m0 1v1M25 52v1m0 18v1m0 1v1m0 2v2m0 1v2m0 7v3m0 1v1m0 4v1m0 4v1m0 1v1m0 1v1M26 51v1m0 17v1m0 3v2m0 1v1m0 3v1m0 4v1m0 1v3m0 5v1m0 1v1m0 4v2m0 2v1M27 46v1m0 23v7m0 6v1m0 5v1m0 3v1m0 5v3m0 1v1m0 1v1M28 50v2m0 1v1m0 13v1m0 1v1m0 2v2m0 1v1m0 1v1m0 1v1m0 7v2m0 2v1m0 3v1m0 5v1M29 50v1m0 19v2m0 1v1m0 2v3m0 1v3m0 1v2m0 1v2m0 4v2m0 1v2m0 1v1m0 3v2m0 1v2M30 47v1m0 1v1m0 19v3m0 1v1m0 1v1m0 1v4m0 2v1m0 2v2m0 3v2m0 1v1m0 7v3m0 1v1M31 67v2m0 1v1m0 2v1m0 6v1m0 1v5m0 1v1m0 1v5m0 1v2m0 1v2m0 1v1m0 2v1M32 49v1m0 18v1m0 3v1m0 2v2m0 1v1m0 2v1m0 2v2m0 3v1m0 3v2m0 1v2m0 7v3m0 1v1M33 50v1m0 15v5m0 1v2m0 4v2m0 1v2m0 1v3m0 2v1m0 2v6m0 1v2m0 2v3m0 3v1M34 51v1m0 18v1m0 1v3m0 1v1m0 2v1m0 1v1m0 2v1m0 4v1m0 1v5m0 7v1m0 5v2M35 51v1m0 13v1m0 4v1m0 3v1m0 1v3m0 1v2m0 1v1m0 1v2m0 2v3m0 1v4m0 1v2m0 3v7M36 47v1m0 4v2m0 12v3m0 1v2m0 1v3m0 3v1m0 2v1m0 1v1m0 1v1m0 3v2m0 1v4m0 2v1m0 1v1m0 1v1m0 1v2M37 54v1m0 12v1m0 1v1m0 1v3m0 4v1m0 2v1m0 1v1m0 1v1m0 4v3m0 1v1m0 1v1m0 4v2m0 4v1m0 1v1M38 66v1m0 1v2m0 2v3m0 4v1m0 2v2m0 1v1m0 2v2m0 2v3m0 1v2m0 1v1m0 2v3m0 1v1m0 1v2M39 65v1m0 1v5m0 4v2m0 3v9m0 1v1m0 2v2m0 3v1m0 1v1m0 2v1m0 1v5M40 54v1m0 12v2m0 3v1m0 4v4m0 1v2m0 1v3m0 1v2m0 3v1m0 1v1m0 4v1m0 2v7M41 66v7m0 2v2m0 2v1m0 1v1m0 1v3m0 2v2m0 3v2m0 1v2m0 1v1m0 1v3m0 1v2m0 1v3m0 1v1M42 68v6m0 1v6m0 1v4m0 1v2m0 4v2m0 2v1m0 1v1m0 3v1m0 2v1m0 3v4M43 52v1m0 14v6m0 1v2m0 2v1m0 1v1m0 2v3m0 2v1m0 2v1m0 5v1m0 2v1m0 2v2m0 2v2m0 1v2M44 68v4m0 1v2m0 2v2m0 1v1m0 1v1m0 5v1m0 1v1m0 1v6m0 2v1m0 1v1m0 1v1m0 2v1m0 1v2m0 2v1M45 67v3m0 1v1m0 1v3m0 1v2m0 1v1m0 1v1m0 1v1m0 2v3m0 5v3m0 1v3m0 1v2m0 1v1m0 2v1m0 4v1M46 66v1m0 2v4m0 1v1m0 2v2m0 1v2m0 1v1m0 5v1m0 3v1m0 1v2m0 3v1m0 4v1m0 1v1m0 1v1m0 1v3m0 1v1M47 69v6m0 1v5m0 1v1m0 5v1m0 6v1m0 1v3m0 1v1m0 1v1m0 2v2m0 2v4M48 67v6m0 1v4m0 1v4m0 1v2m0 1v1m0 3v2m0 1v2m0 1v1m0 1v2m0 1v2m0 2v2m0 1v1m0 1v1m0 1v2M49 67v1m0 1v1m0 2v2m0 2v1m0 1v1m0 1v2m0 1v2m0 1v1m0 1v3m0 1v2m0 1v2m0 1v2m0 3v1m0 1v1m0 1v1m0 1v1m0 2v1m0 1v2M50 43v1m0 23v1m0 1v1m0 2v5m0 1v4m0 2v2m0 1v3m0 5v1m0 3v4m0 1v2m0 2v1m0 2v3m0 1v1M51 42v1m0 28v1m0 1v5m0 1v1m0 1v6m0 1v2m0 3v1m0 4v4m0 3v5m0 3v2M52 67v1m0 2v5m0 3v3m0 1v2m0 2v2m0 1v1m0 3v1m0 3v1m0 3v2m0 2v1m0 2v1m0 1v1m0 1v5M53 66v2m0 1v5m0 2v3m0 1v2m0 1v1m0 1v4m0 3v1m0 2v3m0 1v1m0 2v5m0 1v4m0 1v3M54 65v1m0 2v3m0 1v1m0 2v2m0 2v4m0 1v3m0 2v1m0 1v3m0 1v4m0 1v1m0 1v2m0 1v1m0 4v5M55 67v3m0 1v5m0 2v5m0 1v2m0 2v1m0 3v2m0 3v1m0 3v3m0 2v4m0 3v4M56 68v3m0 1v2m0 2v2m0 1v2m0 1v5m0 2v1m0 7v5m0 1v4m0 3v1m0 1v3M57 70v3m0 2v11m0 2v4m0 1v1m0 1v2m0 1v3m0 1v2m0 1v2m0 2v2m0 1v4M58 68v3m0 1v2m0 1v3m0 1v1m0 1v6m0 2v1m0 1v1m0 11v1m0 1v4m0 2v4M59 66v1m0 1v1m0 1v2m0 2v1m0 2v1m0 1v4m0 1v2m0 2v3m0 1v3m0 1v1m0 2v2m0 2v1m0 5v2m0 1v4M60 76v1m0 1v5m0 1v2m0 1v2m0 1v1m0 1v2m0 1v3m0 1v3m0 1v1m0 1v4m0 1v1m0 1v1m0 2v3M61 68v1m0 1v2m0 3v2m0 2v1m0 1v1m0 4v7m0 1v1m0 1v1m0 1v1m0 1v4m0 2v3m0 1v7M62 52v1m0 15v3m0 4v1m0 1v2m0 1v1m0 1v2m0 4v1m0 2v1m0 2v3m0 1v1m0 1v2m0 1v4m0 1v4m0 2v1m0 2v2M63 70v1m0 1v2m0 1v1m0 1v2m0 2v1m0 1v6m0 1v3m0 2v1m0 1v3m0 1v1m0 1v2m0 2v3m0 2v3m0 3v1M64 69v2m0 1v3m0 5v1m0 1v1m0 2v2m0 2v1m0 1v1m0 1v1m0 3v1m0 1v3m0 1v3m0 2v4m0 2v1m0 4v1M65 69v2m0 1v1m0 12v1m0 1v10m0 1v1m0 1v5m0 1v7m0 2v2M66 53v1m0 17v2m0 2v2m0 4v1m0 1v2m0 2v4m0 1v2m0 2v2m0 1v2m0 7v3m0 1v2m0 4v1M67 70v5m0 2v1m0 2v3m0 2v3m0 3v2m0 1v1m0 1v1m0 1v2m0 2v5m0 2v5m0 3v1m0 1v1M68 71v1m0 1v3m0 1v1m0 2v1m0 1v1m0 2v1m0 1v1m0 1v3m0 1v1m0 1v1m0 1v4m0 3v4m0 2v2m0 1v3M69 70v4m0 3v1m0 1v2m0 2v2m0 1v2m0 1v4m0 12v3m0 2v1m0 1v3m0 2v2M70 70v1m0 1v4m0 2v1m0 1v2m0 4v7m0 5v1m0 2v2m0 6v2m0 3v1m0 1v1M71 69v1m0 4v1m0 1v1m0 1v4m0 1v1m0 3v1m0 1v2m0 2v2m0 5v3m0 1v4m0 1v3m0 1v1m0 1v2m0 1v1M72 70v2m0 1v2m0 1v1m0 3v2m0 1v1m0 3v5m0 2v1m0 9v1m0 4v1m0 2v1m0 1v3M73 70v3m0 2v2m0 6v2m0 1v1m0 2v1m0 9v1m0 3v1m0 3v3m0 2v1m0 2v1m0 1v1m0 1v1M74 76v1m0 1v1m0 3v2m0 5v2m0 1v1m0 1v1m0 1v1m0 1v9m0 1v3m0 1v1m0 1v1m0 3v2M75 62v1m0 6v1m0 3v1m0 3v1m0 1v3m0 1v6m0 4v3m0 1v2m0 2v3m0 1v1m0 1v2m0 1v1m0 2v2m0 1v1M76 80v2m0 2v2m0 5v3m0 2v2m0 2v3m0 1v3m0 2v2m0 1v3M77 71v1m0 1v4m0 2v2m0 11v1m0 6v1m0 1v1m0 2v1m0 2v1m0 4v4m0 1v1M78 70v1m0 4v1m0 1v3m0 1v2m0 1v1m0 1v4m0 2v1m0 2v1m0 2v2m0 2v4m0 2v2m0 2v2m0 1v1M79 45v1m0 2v1m0 24v1m0 1v2m0 1v1m0 2v3m0 1v1m0 1v1m0 2v1m0 4v1m0 2v1m0 1v2m0 1v3m0 1v2m0 1v1m0 1v1m0 1v5M80 72v2m0 3v1m0 1v1m0 3v2m0 4v4m0 5v3m0 4v3m0 1v3m0 1v5M81 76v1m0 2v5m0 3v1m0 1v2m0 2v4m0 2v1m0 1v4m0 5v2m0 1v2m0 1v2M82 40v1m0 34v2m0 2v6m0 1v2m0 1v1m0 4v1m0 5v3m0 1v4m0 2v6M83 55v1m0 14v1m0 1v2m0 3v5m0 1v3m0 3v3m0 1v4m0 2v1m0 4v1m0 1v2m0 1v2m0 4v3M84 70v1m0 1v2m0 1v1m0 4v4m0 1v2m0 2v4m0 1v2m0 1v1m0 2v6m0 4v2m0 2v2M85 56v1m0 18v1m0 3v2m0 1v1m0 3v1m0 1v4m0 5v4m0 1v3m0 1v1m0 2v2m0 1v3M86 71v1m0 4v1m0 1v1m0 2v1m0 2v4m0 2v1m0 3v3m0 1v2m0 7v3m0 1v1m0 2v1m0 2v1M87 75v1m0 3v5m0 2v1m0 1v1m0 1v2m0 2v1m0 2v5m0 2v1m0 1v4m0 1v1m0 1v2M88 78v2m0 1v8m0 2v1m0 1v5m0 1v1m0 1v3m0 4v1m0 1v5M89 57v1m0 19v1m0 12v2m0 1v1m0 5v2m0 3v1m0 2v3m0 2v1m0 2v1M90 52v1m0 23v3m0 1v5m0 3v1m0 2v1m0 1v1m0 1v1m0 4v2m0 4v5m0 1v1m0 2v1M91 79v6m0 4v1m0 2v1m0 1v6m0 1v8m0 1v2m0 1v3M92 58v1m0 19v3m0 1v2m0 2v2m0 4v1m0 1v1m0 1v1m0 1v3m0 1v1m0 2v4m0 1v5M93 76v1m0 1v2m0 5v3m0 1v2m0 1v1m0 1v2m0 1v1m0 3v1m0 2v1m0 1v3m0 1v2m0 3v1M94 78v1m0 3v1m0 1v3m0 1v1m0 1v1m0 2v3m0 3v1m0 1v1m0 1v2m0 1v5m0 1v1m0 2v1M95 83v1m0 1v1m0 1v2m0 1v1m0 2v1m0 2v2m0 1v2m0 5v1m0 1v1m0 1v1m0 2v1M96 23v1m0 38v1m0 15v1m0 2v3m0 3v2m0 2v1m0 2v1m0 2v8m0 1v1m0 1v1m0 3v4M97 19v1m0 58v1m0 2v1m0 1v2m0 2v5m0 2v1m0 2v4m0 2v9M98 18v1m0 62v2m0 3v1m0 1v1m0 1v1m0 1v9m0 3v4m0 3v1M99 17v1m0 61v1m0 1v1m0 4v2m0 1v1m0 1v3m0 2v1m0 3v1m0 1v3m0 3v2M100 23v1m0 57v1m0 2v1m0 2v1m0 2v1m0 2v1m0 4v3m0 2v1m0 2v1m0 1v1m0 1v2m0 1v1M101 21v1m0 31v1m0 7v1m0 17v1m0 1v1m0 1v1m0 2v2m0 1v2m0 6v5m0 1v2m0 1v3m0 4v1M102 10v1m0 6v1m0 7v1m0 55v2m0 3v3m0 1v1m0 1v2m0 1v1m0 5v4m0 1v3M103 17v1m0 5v1m0 57v1m0 1v1m0 1v2m0 1v1m0 1v1m0 1v5m0 1v2m0 1v1m0 1v1m0 3v1m0 1v1M104 79v1m0 1v1m0 1v1m0 2v2m0 2v4m0 3v2m0 5v1m0 1v4M105 84v1m0 1v1m0 3v1m0 1v1m0 1v2m0 2v2m0 2v2m0 1v3m0 1v1M106 81v1m0 3v2m0 3v4m0 3v1m0 1v1m0 1v3m0 3v1M107 24v1m0 46v1m0 13v1m0 3v1m0 1v1m0 1v1m0 1v2m0 3v1m0 1v1m0 1v1M108 10v1m0 48v1m0 23v2m0 2v7m0 2v2m0 3v1m0 1v1m0 2v2M109 21v1m0 33v1m0 26v2m0 4v1m0 2v6m0 1v1m0 1v1m0 1v1m0 1v1M110 82v1m0 2v1m0 1v1m0 1v1m0 1v4m0 2v3m0 1v1M111 21v1m0 35v1m0 28v2m0 4v1m0 3v1m0 1v1m0 2v2M112 84v1m0 3v1m0 2v1m0 1v1M113 9v1m0 73v1m0 2v1m0 2v1M114 89v2M115 20v1m0 67v1m0 3v1M116 10v1m0 7v1m0 3v1M117 21v1M120 13v1M121 47v1M123 21v1m0 32v1M125 42v1M129 53v1M130 59v1M131 93v1M132 94v1M135 21v1M136 23v1m0 62v1M139 89v1M146 54v1M147 60v1M148 32v1M149 28v1M151 29v2M152 28v1m0 2v1M153 30v1m0 1v2M154 30v1m0 2v1M155 26v1m0 21v1M156 26v1m0 2v1M157 34v1M159 30v1m0 3v1m0 30v1m0 3v1M160 35v1m0 23v1M161 31v2m0 4v1M162 62v1M163 34v1M164 27v2m0 3v1m0 2v1M165 36v2M166 37v1m0 2v1M167 28v1m0 1v1m0 1v1M168 38v1M169 39v1M170 32v1M171 45v1M172 41v1m0 5v1M174 43v1m0 1v1M175 44v1M176 45v3M177 47v1M178 41v1M181 43v2"/>
<path stroke="#baa3e4" d="M9 90v1M15 48v1M16 48v1m0 41v1M18 85v1m0 11v1M19 98v1M20 97v1m0 2v1M21 83v1m0 4v1m0 8v2M22 51v1m0 24v2m0 6v1m0 1v1m0 3v1m0 2v1m0 3v1m0 2v1M23 82v1m0 5v1m0 7v3M24 71v2m0 16v1M25 54v1m0 15v1m0 1v1m0 18v1m0 11v1M26 50v1m0 2v1m0 16v3m0 21v1m0 9v1M27 49v3m0 1v1m0 31v1m0 2v1m0 2v1m0 2v1m0 1v1m0 1v1m0 3v1m0 1v1M28 46v1m0 5v1m0 41v1m0 4v1M29 53v1m0 15v1m0 21v2m0 2v1M30 48v1m0 1v3m0 15v1m0 3v1m0 9v1m0 6v1m0 3v1m0 4v4M31 47v1m0 1v1m0 2v1m0 16v1m0 2v1m0 1v1m0 1v2m0 3v1m0 7v1m0 8v1m0 2v1m0 2v1m0 1v3M32 50v1m0 3v1m0 14v2m0 2v1m0 3v1m0 1v2m0 9v1m0 4v1m0 3v2m0 1v1M33 52v1m0 21v2m0 1v1m0 12v1m0 10v1m0 4v1M34 50v1m0 18v1m0 1v1m0 5v1m0 5v1m0 2v1m0 10v1m0 6v2m0 2v1M35 50v1m0 1v1m0 15v2m0 1v1m0 1v1m0 14v1m0 11v1M36 44v1m0 24v1m0 2v1m0 3v1m0 1v1m0 2v1m0 7v1m0 10v1m0 3v1m0 2v2m0 1v1M37 46v2m0 3v1m0 14v1m0 1v1m0 1v1m0 3v1m0 1v2m0 4v1m0 10v1M38 53v1m0 13v1m0 2v2m0 3v1m0 4v2m0 9v1m0 8v1m0 6v1M39 49v2m0 21v1m0 1v1m0 5v1m0 17v1m0 4v1m0 7v1M40 48v1m0 1v1m0 18v3m0 1v1m0 1v1m0 5v1m0 2v1m0 26v1M41 45v1m0 4v1m0 1v1m0 21v1m0 2v2m0 3v1m0 3v2m0 3v1m0 6v1m0 12v1m0 1v1M42 81v1m0 4v1m0 3v3m0 8v1m0 2v2m0 1v1M43 49v1m0 23v1m0 8v1m0 7v1m0 1v1m0 1v1m0 1v1m0 4v1m0 7v1m0 2v1M44 45v1m0 1v1m0 6v1m0 11v1m0 5v1m0 25v1m0 2v1m0 1v1m0 7v1M45 47v1m0 24v1m0 3v1m0 2v1m0 12v3m0 13v1M46 68v1m0 4v1m0 1v1m0 3v1m0 2v1m0 2v3m0 3v1m0 2v1m0 3v1m0 2v1m0 2v1m0 5v1M47 58v1m0 8v2m0 6v1m0 7v2m0 1v1m0 3v1m0 1v1m0 1v1m0 1v1M48 55v1m0 22v1m0 11v1m0 2v1m0 2v1m0 4v1m0 2v2m0 6v1M49 70v1m0 31v1m0 7v1M50 70v2m0 10v1m0 3v1m0 3v1m0 2v2m0 3v1m0 10v1M51 47v1m0 5v2m0 14v1m0 2v1m0 5v1m0 12v1m0 10v2m0 6v2M52 45v1m0 5v1m0 17v1m0 5v3m0 3v1m0 3v1m0 2v1m0 2v1m0 4v1m0 1v1m0 8v1m0 1v1M53 74v2m0 14v1m0 7v1m0 1v1m0 6v1m0 4v1M54 47v1m0 23v1m0 2v1m0 2v1m0 5v1m0 6v1m0 10v1m0 5v1M55 54v1m0 15v1m0 12v1m0 2v2m0 2v2m0 3v1m0 8v1m0 6v2M56 74v1m0 6v1m0 5v1m0 4v2m0 1v1m0 6v1m0 4v3m0 5v1M57 69v1m0 3v2m0 17v1m0 11v1m0 2v2m0 2v1M58 52v1m0 18v1m0 8v1m0 6v1m0 5v2m0 9v1m0 5v1M59 76v1m0 6v1m0 3v1m0 7v1m0 2v1m0 5v1m0 1v3m0 7v2M60 47v1m0 3v1m0 16v1m0 1v1m0 1v1m0 1v1m0 11v1m0 2v1m0 1v1m0 2v1m0 3v1m0 10v1m0 1v1m0 1v2M61 69v1m0 10v1m0 2v3m0 7v1m0 3v1m0 6v2M62 72v1m0 1v1m0 4v1m0 4v2m0 4v1m0 1v1m0 6v1m0 2v1m0 4v1m0 4v1M63 69v1m0 4v1m0 1v1m0 2v1m0 2v1m0 6v1m0 6v1m0 5v1m0 2v2m0 3v2m0 5v1M64 41v1m0 13v1m0 19v1m0 1v3m0 1v1m0 1v1m0 3v1m0 4v1m0 3v1m0 1v1m0 7v2m0 4v2m0 1v1m0 2v1M65 58v1m0 12v1m0 7v2m0 3v1m0 12v1m0 7v1m0 7v1m0 3v1M66 48v1m0 25v1m0 2v2m0 12v1m0 3v1m0 2v1m0 3v1m0 3v1m0 4v1m0 2v1m0 1v2M67 41v1m0 2v1m0 30v1m0 2v2m0 3v1m0 4v1m0 1v1m0 10v1m0 5v2m0 5v1m0 1v1M68 68v1m0 3v1m0 3v1m0 1v1m0 2v1m0 12v1m0 8v1m0 5v1m0 6v3M69 61v1m0 12v1m0 7v1m0 11v1m0 1v3m0 3v3m0 3v2M70 71v1m0 5v1m0 1v1m0 4v1m0 9v3m0 2v1m0 6v3m0 2v1m0 1v1m0 1v1m0 1v2M71 57v1m0 2v1m0 9v2m0 3v1m0 12v1m0 2v2m0 3v1m0 6v1m0 4v1m0 8v1M72 60v1m0 17v1m0 7v1m0 6v1m0 2v1m0 1v3m0 1v1m0 2v1m0 4v1m0 6v1M73 53v1m0 4v1m0 15v1m0 2v2m0 3v1m0 8v2m0 1v1m0 7v1m0 8v1m0 1v1M74 22v1m0 26v1m0 19v2m0 14v1m0 5v1m0 19v1m0 1v1M75 20v1m0 1v1m0 26v1m0 25v1m0 13v1m0 1v2m0 13v1m0 4v2m0 2v1M76 75v1m0 3v1m0 2v1m0 7v1m0 3v2m0 2v1m0 4v1m0 7v1m0 4v1M77 77v1m0 4v1m0 1v1m0 2v2m0 1v1m0 3v1m0 2v2m0 6v1m0 3v1m0 6v1M78 68v1m0 11v1m0 10v1m0 2v1m0 1v1m0 3v2m0 4v2m0 3v1m0 5v1M79 71v1m0 17v1m0 2v1m0 6v1m0 6v1m0 4v1m0 1v1M80 46v1m0 24v1m0 2v1m0 1v1m0 1v1m0 1v3m0 4v2m0 5v1m0 7v3m0 3v1M81 49v1m0 22v1m0 5v1m0 6v2m0 1v1m0 2v2m0 5v1m0 6v2m0 2v1m0 2v1m0 2v1M82 39v1m0 12v1m0 21v1m0 3v1m0 11v3m0 2v1m0 2v2M83 53v1m0 4v1m0 16v1m0 12v1m0 3v1m0 7v3m0 2v1M84 28v1m0 27v1m0 17v1m0 4v1m0 4v1m0 11v1m0 11v2m0 3v1M85 59v1m0 18v1m0 6v1m0 1v1m0 4v2m0 1v2M86 41v1m0 18v1m0 1v1m0 19v2m0 4v2m0 1v2m0 9v2m0 8v1m0 2v1M87 49v1m0 27v1m0 15v1m0 1v2m0 5v1m0 14v1M88 90v1M89 40v1m0 32v1m0 2v1m0 1v1m0 1v6m0 1v1m0 1v1m0 5v1m0 9v2M90 18v1m0 29v1m0 30v1m0 5v1m0 4v1m0 5v4M91 77v1m0 10v1m0 11v1m0 8v1m0 2v1M92 52v1m0 37v1m0 2v1m0 1v1m0 5v1m0 1v2m0 4v1M93 75v1m0 1v1m0 13v1m0 4v1m0 2v1m0 2v1m0 6v1M94 18v1m0 20v1m0 1v1m0 14v1m0 3v1m0 26v1m0 1v1m0 2v1m0 3v2m0 7v1m0 5v1m0 1v1M95 17v2m0 2v1m0 1v1m0 27v1m0 27v1m0 6v1m0 2v1m0 1v2m0 2v1m0 6v4m0 1v1m0 1v1m0 1v2m0 1v1M96 17v2m0 5v1m0 21v1m0 32v1m0 4v1m0 4v2m0 4v2m0 8v1m0 1v1M97 17v2m0 61v1m0 1v1m0 3v1m0 6v1m0 8v1m0 10v1M98 17v1m0 6v1m0 26v1m0 35v1m0 3v1m0 9v3m0 5v1M99 18v1m0 4v1m0 34v1m0 36v1m0 9v1m0 4v2M100 59v1m0 22v2m0 1v1m0 11v1m0 3v1m0 7v1M101 13v1m0 8v1m0 55v1m0 9v1m0 3v1m0 1v1m0 15v1M102 16v1m0 3v1m0 36v1m0 26v2m0 5v1m0 2v1m0 1v5m0 8v1M103 10v1m0 9v1m0 66v1m0 3v1m0 10v1m0 1v1m0 3v1m0 1v1M104 10v1m0 11v2m0 1v1m0 33v1m0 28v1m0 7v1m0 3v1m0 2v1m0 6v1M105 9v1m0 1v1m0 13v1m0 28v1m0 3v1m0 7v1m0 4v1m0 10v1m0 2v1m0 1v1m0 3v1m0 4v1M106 11v1m0 6v1m0 61v1m0 3v1m0 3v2m0 4v1m0 9v3m0 1v1M107 9v1m0 1v1m0 4v2m0 54v1m0 13v3m0 1v1m0 1v1m0 5v1m0 2v1M108 16v1m0 6v1m0 1v1m0 44v1m0 23v2m0 6v1m0 1v1M109 85v1m0 1v1m0 1v2m0 8v1m0 1v1M110 12v1m0 9v2m0 41v1m0 20v1m0 3v1m0 5v1M111 7v1m0 11v1m0 43v1m0 4v1m0 19v4m0 2v1m0 4v1M112 18v2m0 66v1m0 2v2m0 4v1M113 98v2M114 11v1m0 6v1m0 72v1M115 15v1m0 1v1M116 16v1m0 3v1m0 4v1M117 12v1m0 6v1m0 42v1M119 18v1M120 15v2m0 1v1m0 37v1m0 6v1M121 12v2M122 11v1m0 9v1m0 34v2M123 17v1m0 5v1M124 12v1m0 58v1m0 12v1M126 64v1M129 57v1m0 32v1M131 87v1M132 20v1m0 50v1m0 12v1M133 82v1M134 58v1M137 59v1m0 2v1M138 85v1M139 57v1M140 62v1m0 2v1m0 18v1m0 2v1M141 57v1M142 85v1M144 64v1m0 10v1m0 13v1M148 75v1m0 5v1M149 31v1m0 34v1M150 29v3M151 32v1m0 31v1M152 30v1m0 27v1m0 10v1m0 8v1m0 4v1M153 28v1m0 2v1m0 17v1m0 15v1M154 27v1m0 1v1m0 48v1m0 1v1M155 31v1M156 27v1m0 2v1m0 28v1m0 19v1m0 1v1M157 28v1m0 1v2m0 6v1M158 30v1M159 32v1m0 2v2m0 19v1m0 3v1M160 32v1m0 14v1m0 14v1m0 18v1M161 27v1m0 7v1m0 21v2m0 10v1m0 8v1M162 27v3m0 3v1m0 3v1m0 10v1m0 20v2m0 6v1M163 25v1m0 7v1m0 3v2M164 36v1m0 23v1m0 23v2M166 67v1M167 31v1m0 29v2m0 11v1m0 3v1M168 59v1m0 1v1M169 38v1m0 1v1m0 5v1M170 38v1m0 2v1m0 1v2m0 15v1m0 14v1M171 64v1m0 4v1M172 44v1M173 42v2m0 1v2m0 17v1M175 43v1m0 1v4m0 27v1M176 43v1M177 46v1M178 42v2M179 46v1M181 45v1"/>
<path stroke="#9f76ee" d="M8 90v1M17 75v1M22 50v1M23 52v1M28 48v2M29 47v1m0 1v1M31 48v1m0 1v2M32 47v2m0 2v1m0 1v1M33 48v2m0 1v1m0 1v1M34 46v1m0 2v1m0 2v1m0 1v1M35 47v1m0 1v1m0 3v2M36 51v1M37 53v1M38 47v1m0 2v1m0 3v1M39 46v3m0 2v1M40 45v1m0 1v1m0 4v2M41 46v1m0 1v1m0 5v2M42 50v1m0 2v1M43 50v2m0 2v1M44 49v1m0 1v1m0 1v1M45 48v3m0 1v3m0 1v1M46 45v1m0 3v1m0 2v2m0 1v1M47 47v1m0 2v2m0 1v2M48 43v1m0 4v1M49 49v1m0 2v4M50 44v1m0 1v1m0 4v1m0 1v1M51 44v1m0 7v1m0 2v1m0 1v1M52 47v1m0 5v1M53 44v1m0 1v6m0 1v1m0 1v2M54 43v1m0 5v1m0 1v1m0 1v1m0 1v1M55 44v1m0 2v3m0 6v2M56 42v1m0 2v1m0 2v1m0 6v1M57 44v2m0 2v1m0 2v1m0 2v2m0 1v1M58 46v1m0 1v1m0 1v1m0 6v1M59 42v2m0 1v1m0 1v7m0 3v2M60 41v1m0 1v1m0 8v1m0 1v4M61 45v2m0 1v1m0 1v2m0 1v2m0 2v1M62 44v2m0 4v2m0 2v1m0 1v1M63 44v6m0 1v1m0 1v1M64 42v1m0 2v1m0 2v1m0 2v1m0 1v1m0 3v3M65 44v1m0 5v4m0 2v1M66 43v2m0 5v2m0 8v1M67 43v1m0 4v3m0 3v1m0 3v1M68 37v2m0 9v1m0 5v1m0 1v1M69 38v1m0 3v1m0 2v1m0 2v1m0 1v1m0 1v2m0 2v3m0 1v1M70 41v1m0 1v1m0 2v1m0 8v1M71 46v1m0 8v1m0 2v1M72 39v1m0 2v5m0 1v1m0 1v1m0 1v1m0 3v3M73 22v1m0 18v1m0 2v2m0 4v1m0 3v3M74 39v1m0 1v1m0 2v1m0 6v2m0 1v1m0 2v1M75 21v1m0 19v1m0 1v2m0 6v2m0 4v1m0 1v3M76 21v2m0 17v1m0 1v1m0 2v1m0 3v1m0 6v1m0 2v2M77 40v1m0 2v1m0 1v5m0 2v1m0 1v1m0 4v1m0 1v1M78 21v1m0 18v1m0 3v6m0 1v3m0 2v4m0 1v1M79 39v4m0 3v1m0 4v2m0 4v2m0 1v1m0 2v1M80 39v1m0 3v1m0 5v3m0 2v1M81 38v1m0 5v3m0 3v2m0 1v4M82 41v2m0 1v1m0 1v3m0 1v2m0 1v4m0 3v1M83 39v2m0 1v1m0 3v1m0 2v2m0 1v1m0 8v1M84 40v1m0 1v2m0 1v4m0 8v1m0 1v1M85 38v3m0 6v1m0 5v1m0 4v1m0 2v3M86 39v1m0 4v3m0 6v1m0 2v1M87 36v2m0 2v5m0 1v1m0 10v1m0 1v1M88 38v1m0 2v1m0 2v2m0 3v1m0 2v2m0 2v1m0 2v2m0 3v1M89 19v1m0 16v1m0 1v1m0 3v2m0 1v3m0 3v1m0 3v2m0 3v1M90 17v1m0 3v1m0 1v1m0 13v1m0 3v1m0 2v1m0 1v1m0 4v1m0 2v1m0 5v2M91 18v1m0 1v1m0 22v1m0 1v1m0 1v1m0 2v2m0 2v1m0 7v1M92 22v2m0 17v2m0 2v1m0 2v1m0 5v1m0 2v1m0 1v3m0 2v1M93 19v1m0 2v1m0 19v2m0 4v2m0 8v4m0 1v3M94 19v1m0 1v1m0 1v2m0 12v1m0 2v1m0 3v1m0 2v2m0 2v1m0 1v1m0 1v1m0 1v1m0 5v2M95 20v1m0 1v1m0 1v1m0 12v5m0 3v1m0 8v4m0 3v1m0 1v3M96 21v1m0 16v1m0 2v1m0 2v1m0 2v1m0 4v3m0 3v2M97 16v1m0 3v1m0 1v1m0 1v1m0 14v1m0 5v1m0 1v2m0 1v1m0 2v2m0 7v1M98 21v1m0 1v1m0 14v1m0 4v1m0 2v1m0 5v1m0 4v3M99 15v2m0 4v2m0 2v1m0 18v1m0 2v1m0 5v2m0 1v1m0 8v1M100 13v1m0 2v3m0 1v1m0 1v1m0 2v1m0 14v1m0 5v1m0 9v1m0 1v1m0 4v1m0 1v1M101 9v1m0 32v1m0 2v1m0 2v1m0 5v2m0 8v1M102 7v1m0 14v1m0 1v1m0 16v2m0 2v2m0 1v1m0 2v1m0 1v1m0 1v1m0 5v2m0 1v1M103 11v1m0 3v1m0 3v1m0 2v1m0 1v1m0 15v1m0 4v1m0 3v3m0 3v5m0 3v1m0 1v1M104 15v1m0 3v1m0 1v1m0 19v1m0 2v2m0 7v3m0 5v1m0 2v1m0 6v1M105 10v1m0 6v6m0 1v1m0 21v1m0 4v1m0 1v1m0 1v2m0 4v1m0 3v1m0 2v2M106 8v1m0 3v1m0 6v5m0 16v1m0 3v1m0 10v2m0 1v1m0 3v1m0 2v1m0 2v1m0 1v1M107 8v1m0 1v1m0 8v3m0 1v1m0 1v2m0 14v1m0 2v1m0 2v1m0 1v1m0 5v2m0 1v2m0 1v1m0 2v1m0 3v2M108 14v2m0 1v5m0 4v1m0 15v1m0 1v1m0 2v1m0 2v1m0 13v2m0 9v1M109 8v5m0 5v3m0 22v1m0 4v1m0 2v2m0 8v4m0 1v1m0 2v1m0 3v2M110 9v3m0 4v2m0 1v3m0 22v1m0 5v1m0 3v1m0 9v1m0 4v2m0 2v1M111 8v2m0 6v1m0 1v1m0 1v1m0 1v3m0 17v1m0 1v2m0 2v1m0 1v2m0 2v1m0 5v1m0 4v1m0 8v1M112 9v1m0 1v2m0 7v4m0 2v1m0 15v1m0 1v2m0 8v1m0 9v1m0 3v1m0 5v1M113 8v1m0 8v1m0 1v2m0 1v1m0 21v2m0 3v2m0 1v1m0 1v1m0 3v5m0 8v1m0 2v1m0 28v1M114 10v1m0 2v2m0 2v1m0 1v1m0 1v1m0 1v1m0 21v1m0 2v1m0 5v1m0 3v1m0 1v2m0 2v1M115 16v1m0 2v1m0 1v2m0 22v1m0 2v1m0 2v1m0 3v2m0 1v1m0 1v2m0 2v1M116 11v1m0 9v1m0 20v1m0 1v1m0 1v1m0 3v1m0 1v3m0 1v1m0 2v1m0 1v1M117 9v3m0 1v1m0 3v2m0 5v1m0 17v2m0 1v1m0 3v1m0 6v2m0 2v2M118 11v3m0 2v1m0 1v1m0 4v2m0 24v3m0 8v1M119 13v1m0 6v1m0 21v1m0 2v1m0 2v1m0 3v1m0 3v1m0 2v1m0 1v1m0 2v1M120 10v1m0 1v1m0 9v1m0 19v9m0 4v1m0 5v1M121 18v1m0 24v1m0 4v2m0 5v1m0 1v1m0 2v1m0 1v1M122 10v1m0 4v1m0 3v1m0 2v1m0 19v1m0 2v1m0 1v1m0 4v1m0 5v2m0 2v2M123 47v1m0 4v1m0 6v2m0 10v2M124 43v2m0 1v2m0 3v2m0 3v2m0 1v2M125 19v1m0 23v1m0 5v5m0 1v3m0 2v1m0 1v1m0 8v2M126 21v1m0 20v2m0 6v4m0 2v4m0 1v1m0 6v1m0 1v1m0 20v1M127 59v3m0 8v2m0 11v1m0 2v1M128 49v1m0 4v1m0 1v3m0 1v1m0 1v2m0 20v3m0 3v1M129 45v2m0 3v1m0 1v1m0 2v2m0 1v1m0 29v1m0 4v1M130 44v2m0 10v1m0 1v1m0 3v1m0 1v1m0 4v1m0 13v2m0 1v1m0 6v1M131 22v1m0 27v2m0 3v3m0 24v2m0 2v1M132 21v1m0 29v1m0 2v1m0 1v2m0 25v1M133 47v2m0 8v4m0 22v2m0 1v1M134 57v1m0 27v1m0 1v1M135 20v1m0 26v1m0 6v1m0 1v1m0 26v3M136 50v1m0 5v1m0 1v1m0 29v1M137 54v1m0 29v1m0 2v1M138 57v1m0 6v1m0 21v1M139 53v1M140 60v2m0 1v2M141 55v1m0 4v1m0 5v1m0 19v2M142 52v1m0 5v4m0 4v1m0 1v1m0 17v2M143 55v1m0 2v3m0 1v4m0 1v1m0 15v1m0 1v1m0 1v1M144 57v1m0 2v1m0 2v1m0 5v1m0 7v1m0 6v2M145 54v1m0 8v1m0 2v1m0 1v1m0 15v1M146 59v1m0 5v4m0 13v1M147 53v2m0 2v3m0 4v2m0 1v1m0 15v1m0 2v1M148 28v3m0 26v1m0 6v1m0 3v1m0 1v1M149 56v2m0 4v2m0 20v1M150 28v1m0 4v1m0 28v1m0 2v1m0 1v3m0 9v6M151 28v1m0 4v1m0 21v1m0 2v2m0 1v1m0 1v1m0 1v1m0 3v1m0 7v4m0 1v1M152 29v1m0 2v2m0 14v1m0 5v1m0 1v1m0 2v1m0 2v1m0 5v1m0 1v1m0 8v2m0 1v1M153 29v1m0 18v1m0 9v1m0 1v4m0 5v1m0 7v1M154 32v1m0 14v1m0 1v1m0 6v1m0 1v2m0 2v3M155 29v2m0 2v1m0 13v1m0 9v1m0 2v2m0 5v5m0 9v1M156 28v1m0 2v2m0 15v1m0 9v1m0 5v2m0 3v1m0 14v1M157 32v1m0 14v1m0 1v1m0 8v1m0 6v1m0 1v2m0 1v1m0 8v1m0 1v1M158 28v2m0 1v4m0 23v1m0 3v2m0 3v1m0 2v1m0 10v1M159 26v4m0 1v1m0 1v1m0 14v1m0 6v1m0 1v2m0 2v2m0 7v1m0 8v2M160 26v1m0 1v4m0 2v1m0 1v2m0 10v1m0 8v2m0 1v1m0 3v1m0 1v3m0 10v2m0 2v1M161 28v2m0 3v2m0 3v1m0 8v1m0 11v2m0 1v4m0 1v1m0 9v1m0 2v1M162 31v2m0 3v1m0 1v1m0 19v1m0 1v1m0 2v1m0 2v1M163 28v1m0 2v2m0 3v1m0 2v1m0 17v3m0 3v8m0 9v1M164 41v1m0 16v2m0 2v2m0 1v3m0 1v1m0 6v1m0 1v3M165 30v1m0 8v1m0 7v1m0 10v2m0 1v3m0 1v3m0 1v1m0 8v1M166 30v1m0 7v2m0 20v1m0 1v1m0 1v1m0 1v1m0 1v1m0 1v1m0 2v2m0 4v1M167 38v1m0 20v1m0 4v1m0 1v2m0 1v1m0 3v1m0 2v1m0 3v1M168 32v1m0 9v1m0 17v1m0 1v4m0 1v2m0 5v3m0 2v1M169 31v4m0 6v1m0 23v1m0 6v1m0 2v1M170 37v1m0 1v2m0 24v2m0 4v1m0 2v1m0 1v2M171 39v1m0 4v1m0 16v3m0 2v1m0 1v1m0 1v1m0 1v2m0 2v1m0 3v1M172 42v2m0 16v1m0 3v1m0 2v1M173 40v2m0 2v1m0 15v1m0 9v2m0 1v4M174 48v1m0 14v1m0 7v2M175 42v1m0 30v2M176 44v1m0 28v1m0 1v2M177 44v2M178 45v3M179 42v4M180 45v1M181 46v1M182 46v1"/>
<path stroke="#7c44fa" d="M34 47v1M35 48v1M36 48v1M37 52v1M40 51v1M41 47v1m0 1v1M42 48v2M43 43v1M44 48v1M45 45v2M46 43v1m0 3v2M47 46v1m0 2v1m0 5v1M48 47v1m0 6v1M49 46v1M50 45v1m0 1v2m0 6v2M51 49v3M52 50v1m0 1v1m0 1v3M53 43v1m0 1v1m0 8v1M54 45v2m0 5v1m0 1v1m0 1v2M55 42v1m0 2v2m0 4v2m0 2v1M56 43v2m0 1v2m0 1v1m0 2v2m0 3v1M57 42v2m0 2v2m0 2v1m0 2v1m0 2v1M58 44v1m0 2v1m0 1v1m0 4v1M59 44v1m0 1v1M60 45v2m0 1v1m0 4v1m0 4v1M61 41v1m0 2v1m0 4v1m0 9v1M62 43v1m0 9v1m0 4v1M63 43v1m0 10v2m0 2v1M64 46v2m0 4v1m0 3v1M65 41v1m0 1v1m0 2v4m0 4v1m0 2v1m0 1v1M66 40v1m0 4v1m0 1v1m0 8v2M67 40v1m0 1v1m0 2v1m0 1v1m0 3v1m0 3v1M68 44v1m0 2v1m0 2v1m0 4v1m0 1v1M69 40v2m0 5v1M70 45v1m0 1v1m0 1v2m0 2v1m0 2v4M71 41v1m0 2v2m0 1v1m0 1v3m0 1v1m0 2v1m0 2v1M72 49v1m0 4v2m0 3v1M73 39v1m0 2v2m0 2v1m0 1v1m0 10v1M74 40v1m0 4v1m0 2v1m0 4v1m0 2v1m0 2v2M75 45v1m0 1v1m0 7v1m0 2v1M76 43v2m0 1v2m0 2v1m0 1v1m0 1v2m0 2v1M77 22v1m0 15v1m0 2v2m0 1v1m0 5v2m0 1v1m0 3v1M78 41v3m0 10v1M79 43v2m0 2v1m0 2v1m0 3v1m0 1v1m0 4v2M80 22v1m0 17v1m0 1v1m0 2v1m0 1v2m0 3v1m0 2v1m0 2v1m0 2v2M81 23v1m0 16v2m0 1v1m0 4v1m0 12v1M82 49v1m0 8v1m0 2v2M83 41v1m0 1v1m0 3v2m0 5v1m0 1v2m0 1v2m0 1v1M84 41v1m0 7v3m0 1v3m0 4v1M85 41v1m0 1v1m0 1v1m0 2v5m0 2v1m0 4v1M86 40v1m0 1v2m0 3v1m0 3v2m0 1v1m0 3v1m0 2v1M87 38v1m0 9v1m0 1v3m0 2v1m0 4v4M88 37v1m0 5v1m0 2v2m0 3v1m0 2v2m0 1v1m0 4v1M89 21v1m0 15v1m0 1v1m0 1v1m0 2v1m0 3v1m0 3v1m0 6v1m0 1v2M90 40v1m0 1v1m0 6v1m0 3v1m0 2v1m0 2v1m0 2v2M91 19v1m0 16v1m0 5v1m0 3v1m0 1v1m0 3v1m0 3v1m0 1v3m0 2v1M92 21v1m0 17v2m0 6v1m0 2v2m0 1v1m0 8v2M93 39v2m0 5v2m0 2v3m0 1v2m0 6v1M94 22v1m0 12v2m0 8v1m0 3v1m0 2v1m0 1v1m0 3v1m0 3v1M95 42v3m0 1v5m0 1v2m0 4v1m0 1v1M96 19v2m0 1v1m0 16v1m0 10v2m0 4v1m0 8v1M97 21v1m0 1v1m0 1v1m0 14v1m0 2v1m0 7v2m0 6v1m0 1v1m0 1v1M98 16v1m0 2v2m0 1v1m0 16v4m0 1v2m0 1v1m0 1v1m0 3v1m0 8v1M99 20v1m0 18v4m0 3v1m0 1v1m0 1v3m0 2v1m0 3v2m0 1v3M100 19v1m0 4v1m0 14v1m0 2v4m0 4v4m0 6v2M101 17v4m0 2v2m0 16v1m0 4v1m0 2v1m0 1v1m0 4v1m0 1v1m0 3v1M102 19v1m0 3v1m0 16v1m0 9v1m0 1v1m0 1v1m0 1v1m0 2v2m0 4v1M103 18v1m0 2v1m0 19v4m0 7v3m0 5v2M104 11v1m0 8v1m0 19v1m0 1v2m0 5v1m0 1v1m0 4v1m0 3v1m0 7v3M105 16v1m0 6v1m0 17v2m0 5v3m0 1v1m0 9v3m0 2v1M106 9v2m0 3v1m0 2v1m0 23v3m0 1v3m0 6v1m0 4v1m0 3v2m0 6v1M107 12v1m0 5v1m0 23v2m0 1v2m0 4v2m0 1v1m0 7v1m0 2v1M108 8v2m0 1v2m0 9v1m0 17v1m0 5v1m0 5v1m0 2v3m0 2v3M109 17v1m0 4v2m0 2v1m0 15v1m0 1v3m0 2v2m0 3v1m0 3v2m0 8v1m0 1v1m0 1v1M110 8v1m0 15v1m0 15v3m0 2v2m0 2v1m0 2v1m0 2v2m0 5v1m0 5v1M111 10v3m0 4v1m0 25v1m0 3v1m0 1v1m0 8v1m0 3v1M112 7v1m0 8v2m0 25v1m0 4v1m0 1v4m0 1v4m0 1v4m0 7v2M113 7v1m0 2v1m0 7v1m0 2v1m0 2v1m0 18v1m0 2v3m0 6v1m0 1v1m0 5v2M114 12v1m0 7v1m0 4v1m0 15v1m0 1v2m0 1v2m0 4v1m0 2v1m0 1v1m0 1v1m0 2v1M115 11v2m0 10v2m0 17v1m0 1v1m0 1v1m0 5v3m0 4v1m0 3v1M116 12v1m0 10v1m0 21v1m0 1v3m0 1v1m0 3v1m0 1v1m0 2v1m0 1v1M117 20v1m0 1v2m0 17v1m0 2v1m0 1v3m0 5v1M118 43v1m0 2v3m0 4v7m0 1v4M119 12v1m0 10v1m0 19v1m0 2v2m0 7v1m0 1v2M120 51v2m0 1v1m0 2v2m0 3v1M121 10v1m0 10v1m0 1v1m0 18v1m0 2v1m0 4v3m0 5v2m0 1v1M122 44v1m0 3v4m0 2v2m0 4v1m0 3v1M123 42v1m0 5v3m0 2v1m0 4v1m0 2v3m0 13v1M124 45v1m0 2v3m0 2v1m0 4v1m0 2v1m0 1v1m0 13v1M125 21v1m0 19v1m0 3v4m0 10v1m0 1v1m0 29v1M126 46v3m0 5v2m0 4v1m0 2v1m0 7v1m0 12v1m0 1v1m0 3v1M127 45v1m0 1v1m0 2v1m0 2v1m0 1v4m0 3v1m0 6v1m0 14v1M128 43v1m0 2v3m0 1v1m0 2v1m0 1v1m0 3v1m0 8v1m0 3v1m0 10v1m0 4v1M129 21v1m0 25v2m0 2v1m0 2v1m0 4v2m0 22v1m0 1v2M130 47v1m0 6v2m0 29v1M131 20v1m0 27v2m0 2v1m0 1v1m0 4v1m0 2v2M132 49v2m0 1v2m0 1v1m0 2v1m0 3v1m0 18v2m0 3v1M133 49v2m0 4v1m0 25v1m0 3v1M134 49v1m0 2v2m0 1v1m0 4v2M135 53v1m0 1v1m0 1v2m0 1v1m0 25v1M136 21v2m0 26v1m0 2v2m0 1v1m0 1v1m0 6v1m0 19v1M137 55v2m0 3v2m0 1v1m0 22v1M138 20v1m0 32v1m0 1v2m0 5v1m0 24v1M139 52v1m0 10v2m0 21v2M140 54v1m0 4v1M141 56v1m0 2v1m0 1v3m0 1v1m0 17v1M142 55v1m0 6v1m0 1v2m0 18v1M143 53v2m0 13v1M144 58v2m0 1v1m0 3v2m0 16v1m0 2v1M145 57v1m0 1v2m0 1v1m0 1v1m0 21v2M146 57v1m0 2v1m0 2v1m0 10v1m0 8v1m0 1v1M147 56v1m0 4v1m0 1v1m0 2v1m0 2v1m0 5v1m0 6v1M148 56v1m0 2v2m0 1v1m0 2v3m0 1v1m0 13v1m0 1v2M149 33v1m0 26v1m0 6v1m0 1v1m0 9v1m0 2v2M150 58v3m0 2v2m0 21v1M151 31v1m0 24v1m0 3v1m0 1v1m0 3v1m0 16v1M152 57v1m0 5v5m0 16v1M153 56v2m0 6v1m0 1v3m0 11v2m0 1v1M154 31v1m0 28v2m0 6v1m0 1v1m0 10v1M155 32v1m0 22v2m0 1v2m0 2v1m0 1v3M156 33v1m0 28v1m0 3v1m0 1v1m0 1v1m0 11v2M157 27v1m0 1v1m0 3v1m0 20v1m0 1v2m0 6v1m0 1v1M158 27v1m0 28v2m0 2v1m0 5v1m0 2v1m0 10v1M159 59v1m0 3v2m0 1v1m0 1v1m0 9v1m0 3v1M160 27v1m0 5v1m0 22v1m0 4v1m0 3v1m0 3v1M161 30v1m0 30v1m0 4v1m0 3v1m0 8v1m0 2v2M162 30v1m0 25v2m0 1v1m0 1v1m0 3v1m0 14v1M163 29v1m0 30v1m0 16v1m0 1v1M164 33v1m0 23v1m0 3v1m0 2v1m0 3v1M165 28v1m0 31v1m0 3v1m0 3v1m0 4v3m0 3v1M166 59v1m0 5v1m0 9v4M167 63v1m0 8v1m0 6v1M168 30v1m0 38v1m0 2v1m0 4v1M169 30v1m0 28v5m0 2v2m0 1v1m0 7v2M170 30v1m0 30v4m0 2v1m0 2v1m0 2v1m0 5v1M171 67v1m0 9v1M172 32v1m0 28v2m0 3v1m0 1v1m0 6v5M173 63v1m0 1v2M174 62v1m0 2v1m0 8v2M175 71v2M176 41v1M177 74v1M178 49v1m0 23v1"/>
<path stroke="#5a22ff" d="M101 50v1M108 48v1M109 47v1M110 48v1M112 47v1M117 51v1M118 44v2M119 49v1M121 46v1M123 46v1"/>
</g>
</g>
<g filter="url(#b2)">
<path d="M141.4 74V552M141.4 949V1411.5" stroke="#5a5a5a" stroke-width="4" fill="none"/>
<path d="M140.6 552V949" stroke="#b8b8b8" stroke-width="4.5" fill="none"/>
<path d="M139.4 1412H975" stroke="#3a3a3a" stroke-width="3.8" fill="none"/>
<path d="M141.4 45.5L152.2 74L141.4 71.5L130.6 74Z" fill="#000"/>
<path d="M1002.5 1412L974 1401.2L976.5 1412L974 1422.8Z" fill="#000"/>
<text transform="translate(45 107.7) scale(1 1.045)" font-size="106">A</text>
<text transform="translate(350 97.6) scale(1 1.045)" text-anchor="middle" font-style="italic" font-size="65">Ccl2</text>
<text transform="translate(764 97.6) scale(1 1.045)" text-anchor="middle" font-style="italic" font-size="65">Col1a2</text>
<text transform="translate(350 549.5) scale(1 1.045)" text-anchor="middle" font-style="italic" font-size="65">Cxcl1</text>
<text transform="translate(764 549.5) scale(1 1.045)" text-anchor="middle" font-style="italic" font-size="65">Col3a1</text>
<text transform="translate(350 1003) scale(1 1.045)" text-anchor="middle" font-style="italic" font-size="65">Cxcl12</text>
<text transform="translate(764 1003) scale(1 1.045)" text-anchor="middle" font-style="italic" font-size="65">Col5a2</text>
<text transform="translate(164.5 1479.5) scale(1 1.045)" font-size="59.6">tSNE x</text>
<text transform="translate(123 1406) rotate(-90) scale(1 1.045)" font-size="60">tSNE y</text>
</g></g>
<g id="panelB" filter="url(#b2)">
<path d="M1240.7 190.6V324M1240.3 1021.4V1155" stroke="#c4c4c4" stroke-width="3.4" fill="none"/>
<g stroke="#000" stroke-opacity=".25" stroke-width="1">
<path d="M1351.8 143.8V156.7M1461.7 220.9V239.2M1572.1 178.7V193.4M1681.7 170.4V211.7M1245.7 428.8V462.8M1355.4 481.4V514.4M1575.1 482.4V495.9M1685.3 463.9V485.5M1243.4 750.8V787.9M1353.4 718.8V744.6M1353.4 853.0V899.3M1573.1 855.1V899.3M1682.8 728.1V738.4M1351.3 975.0V990.5" stroke="#9c9c9c" stroke-width="2.6" fill="none" stroke-opacity="1"/>
<path fill="#A3A500" d="M1351.6 143.8 1350.6 152.4 1349.6 156.7 1347.5 160.9 1343.6 165.8 1340.3 169.4 1334.4 175 1331.7 177.9 1323.9 186.4 1317.9 193.4 1316.6 194.9 1309.8 203.4 1303.8 211.7 1303.6 212 1301.4 215.4 1303.2 219 1304 220.5 1308.2 229 1308.7 230 1312.5 237.5 1316.8 246 1317.9 248.4 1320.8 254.5 1324.6 263 1326.2 266.7 1328 271.6 1331.1 280.1 1333.5 285 1336 288.6 1340.8 294.2 1343.9 297.1 1346.7 300.6 1347.3 304.3 1346.7 305.6 1342.7 308.9 1330.5 314.1 1329.8 314.4 1317.9 319 1314.2 322.6 1313.7 324 1389.9 324 1389.4 322.6 1385.8 319 1373.8 314.4 1373.2 314.1 1361 308.9 1357 305.6 1356.4 304.3 1357 300.6 1359.8 297.1 1362.8 294.2 1367.7 288.6 1370.2 285 1372.6 280.1 1375.7 271.6 1377.5 266.7 1379.1 263 1382.9 254.5 1385.8 248.4 1386.9 246 1391.2 237.5 1394.9 230 1395.5 229 1399.7 220.5 1400.4 219 1402.3 215.4 1400.1 212 1399.9 211.7 1393.9 203.4 1387.1 194.9 1385.8 193.4 1379.8 186.4 1372 177.9 1369.3 175 1363.4 169.4 1360.1 165.8 1356.2 160.9 1354 156.7 1353.1 152.4 1352.1 143.8z"/>
<path fill="#00BF7D" d="M1461.4 220.9 1461.2 225.7 1460.9 230.6 1460.6 235.4 1460.2 239.2 1460.1 240.2 1459.6 245.1 1459 249.9 1458.2 254.8 1457.7 257.5 1457.1 259.6 1455.2 264.5 1454.4 266.7 1453.3 269.3 1451.3 274.2 1450.7 275.9 1449.7 279 1448.5 283.9 1448.5 285 1449 288.7 1450.5 293.6 1450.7 294.2 1452.5 298.4 1454 303.3 1454 303.4 1453.6 308.1 1453.4 308.9 1445.2 312.6 1444.1 312.9 1428.7 317.1 1426 317.8 1414 320.8 1411.3 322.6 1410.8 324 1512.6 324 1512.1 322.6 1509.4 320.8 1497.4 317.8 1494.7 317.1 1479.3 312.9 1478.2 312.6 1469.9 308.9 1469.8 308.1 1469.4 303.4 1469.4 303.3 1470.9 298.4 1472.7 294.2 1472.9 293.6 1474.4 288.7 1474.9 285 1474.8 283.9 1473.7 279 1472.7 275.9 1472.1 274.2 1470.1 269.3 1469 266.7 1468.1 264.5 1466.3 259.6 1465.7 257.5 1465.2 254.8 1464.4 249.9 1463.8 245.1 1463.3 240.2 1463.2 239.2 1462.8 235.4 1462.5 230.6 1462.2 225.7 1462 220.9z"/>
<path fill="#00B0F6" d="M1571.8 178.7 1570.3 185.5 1568.9 192.4 1568.8 193.4 1567.8 199.2 1566.7 206.1 1565.6 211.7 1565.4 213 1563.6 219.8 1561.7 226.7 1561.1 230 1560.5 233.5 1559.6 240.4 1558.9 247.2 1558.9 248.4 1558.5 254.1 1558.1 260.9 1557.8 266.7 1557.7 267.8 1557.3 274.7 1556.8 281.5 1556.5 285 1556 288.4 1554.6 294.2 1554.4 295.2 1551.8 302.1 1551 303.4 1542.7 308.9 1542.6 308.9 1531.7 314.4 1529.3 315.8 1523.5 319.9 1521.6 322.6 1521.1 324 1623 324 1622.5 322.6 1620.7 319.9 1614.8 315.8 1612.4 314.4 1601.5 308.9 1601.4 308.9 1593.1 303.4 1592.3 302.1 1589.8 295.2 1589.5 294.2 1588.1 288.4 1587.6 285 1587.3 281.5 1586.8 274.7 1586.4 267.8 1586.4 266.7 1586 260.9 1585.7 254.1 1585.3 248.4 1585.2 247.2 1584.5 240.4 1583.6 233.5 1583.1 230 1582.4 226.7 1580.6 219.8 1578.7 213 1578.5 211.7 1577.5 206.1 1576.4 199.2 1575.4 193.4 1575.2 192.4 1573.8 185.5 1572.3 178.7z"/>
<path fill="#FA62F8" d="M1681.4 202.5 1678.8 208.2 1677.7 211.7 1677.1 214 1676.1 219.7 1675.2 225.4 1674.4 230 1674.2 231.1 1673 236.8 1671.6 242.6 1669.8 248.3 1669.8 248.4 1667 254 1663.4 259.7 1661.6 263 1660.3 265.4 1657 271.2 1655.2 276.9 1655.1 277.7 1656.1 282.6 1657 285 1658.6 288.3 1662.4 294 1662.5 294.2 1665.9 299.8 1667.1 303.4 1666.3 305.5 1665.2 307.1 1655.9 311.2 1652.4 312.6 1642 316.9 1639.5 318.1 1631.3 322.6 1630.8 324 1732.7 324 1732.2 322.6 1723.9 318.1 1721.5 316.9 1711.1 312.6 1707.5 311.2 1698.2 307.1 1697.1 305.5 1696.4 303.4 1697.5 299.8 1701 294.2 1701.1 294 1704.8 288.3 1706.5 285 1707.3 282.6 1708.3 277.7 1708.3 276.9 1706.4 271.2 1703.2 265.4 1701.9 263 1700 259.7 1696.5 254 1693.6 248.4 1693.6 248.3 1691.9 242.6 1690.5 236.8 1689.3 231.1 1689.1 230 1688.2 225.4 1687.3 219.7 1686.3 214 1685.8 211.7 1684.6 208.2 1682 202.5z"/>
<path fill="#F8766D" d="M1245.3 452.5 1242.9 459.8 1241.9 462.8 1240.7 467.2 1238.8 474.5 1236.8 481.8 1236.4 483.5 1234.5 489.1 1232.4 496.4 1232.2 497.9 1232 503.8 1231.7 511.1 1231.6 514.4 1231.5 518.4 1231.2 525.7 1230.9 533 1230.8 535.1 1230.4 540.4 1229.7 547.7 1228.8 555 1228.7 555.7 1227.3 562.3 1226.1 569.6 1226.1 570.1 1228.3 577 1230.2 580.4 1233.5 584.3 1236.4 588.7 1235.8 591.6 1235.3 592.8 1225 596.9 1218.9 598.9 1208.5 602.1 1198.2 606.2 1197.7 607 1293.6 607 1293.1 606.2 1282.8 602.1 1272.5 598.9 1266.3 596.9 1256 592.8 1255.5 591.6 1254.9 588.7 1257.8 584.3 1261.1 580.4 1263 577 1265.3 570.1 1265.2 569.6 1264 562.3 1262.6 555.7 1262.5 555 1261.6 547.7 1260.9 540.4 1260.5 535.1 1260.4 533 1260.1 525.7 1259.8 518.4 1259.7 514.4 1259.6 511.1 1259.4 503.8 1259.1 497.9 1258.9 496.4 1256.8 489.1 1254.9 483.5 1254.5 481.8 1252.6 474.5 1250.6 467.2 1249.4 462.8 1248.4 459.8 1246 452.5z"/>
<path fill="#A3A500" d="M1355.1 502 1353.5 507 1352.2 512 1351.7 514.4 1351.3 516.9 1350.6 521.9 1350.1 526.8 1349.6 531.8 1349.2 535.1 1349 536.8 1348.6 541.7 1348.1 546.7 1347.6 551.7 1347.2 555.7 1347 556.6 1346.3 561.6 1345.4 566.5 1345.1 568.1 1344.1 571.5 1343 576.3 1343 576.5 1345 581.4 1347.2 584.6 1349 586.4 1352.9 590.8 1352.9 591.3 1352.9 593.8 1347.1 596.3 1345.1 596.9 1330.7 601.1 1329.9 601.3 1310 606.2 1309.5 607 1401.3 607 1400.8 606.2 1380.9 601.3 1380.2 601.1 1365.7 596.9 1363.7 596.3 1357.9 593.8 1357.9 591.3 1357.9 590.8 1361.9 586.4 1363.7 584.6 1365.8 581.4 1367.8 576.5 1367.8 576.3 1366.7 571.5 1365.7 568.1 1365.4 566.5 1364.5 561.6 1363.8 556.6 1363.7 555.7 1363.2 551.7 1362.7 546.7 1362.3 541.7 1361.8 536.8 1361.6 535.1 1361.3 531.8 1360.8 526.8 1360.2 521.9 1359.5 516.9 1359.1 514.4 1358.6 512 1357.3 507 1355.7 502.0z"/>
<path fill="#00BF7D" d="M1463.9 471.1 1462.2 477.5 1459.8 484 1459.2 485.5 1456.7 490.4 1452.7 496.8 1449.5 502 1448.8 503.3 1444.6 509.7 1442.3 514.4 1441.7 516.1 1439.7 522.6 1439.2 526.8 1439.2 529 1439.6 535.4 1440.1 541.9 1440.2 545.4 1439.6 548.3 1436.4 554.7 1436.1 555.7 1434.4 561.2 1433.6 566 1433.7 567.6 1436 574.1 1437.1 576.3 1440.9 580.5 1444.3 584.6 1445.1 586.9 1445.4 588.7 1437.2 593.4 1436.1 593.8 1423.7 599 1422.6 599.8 1416.5 606.2 1416 607 1514 607 1513.5 606.2 1507.4 599.8 1506.2 599 1493.9 593.8 1492.8 593.4 1484.6 588.7 1484.8 586.9 1485.6 584.6 1489 580.5 1492.8 576.3 1493.9 574.1 1496.2 567.6 1496.3 566 1495.6 561.2 1493.9 555.7 1493.5 554.7 1490.4 548.3 1489.7 545.4 1489.8 541.9 1490.3 535.4 1490.7 529 1490.8 526.8 1490.3 522.6 1488.3 516.1 1487.7 514.4 1485.3 509.7 1481.2 503.3 1480.4 502 1477.2 496.8 1473.2 490.4 1470.8 485.5 1470.1 484 1467.7 477.5 1466 471.1z"/>
<path fill="#00B0F6" d="M1574.8 482.4 1574.2 488.3 1573 494.2 1572.7 495.9 1571.3 500.1 1568.7 506 1566.9 510.3 1566.2 511.9 1563.7 517.8 1561.4 523.7 1560.7 526.8 1560.3 529.6 1559.6 535.5 1559.1 541.2 1559 541.4 1558.5 547.3 1557.9 553.2 1557.6 555.7 1557 559.1 1555.4 565 1554.5 568.1 1553.8 570.9 1552.3 576.8 1551.4 580.4 1551 582.6 1550 588.5 1549.4 590.8 1544.6 594.4 1540.1 596.9 1534.5 600.3 1531.8 602.1 1526.7 606.2 1526.2 607 1624.1 607 1623.6 606.2 1618.5 602.1 1615.8 600.3 1610.2 596.9 1605.7 594.4 1600.9 590.8 1600.3 588.5 1599.3 582.6 1598.9 580.4 1598 576.8 1596.5 570.9 1595.8 568.1 1594.9 565 1593.3 559.1 1592.7 555.7 1592.4 553.2 1591.8 547.3 1591.3 541.4 1591.2 541.2 1590.7 535.5 1590 529.6 1589.6 526.8 1588.8 523.7 1586.6 517.8 1584.1 511.9 1583.4 510.3 1581.6 506 1579 500.1 1577.6 495.9 1577.3 494.2 1576.1 488.3 1575.5 482.4z"/>
<path fill="#FA62F8" d="M1685 463.9 1684 470.7 1683 477.4 1681.8 484.2 1681.6 485.5 1680.6 491 1679.4 497.8 1678.1 504.1 1678 504.5 1676.2 511.3 1674.4 518.1 1674 522.7 1674 524.9 1674 531.7 1674 538.4 1674 539.2 1674.2 545.2 1674.8 552 1675 555.7 1675.1 558.8 1675.3 565.6 1675.4 572.3 1675.4 576.3 1675.4 579.1 1675 584.6 1674.5 585.9 1668.8 590.8 1665.1 592.7 1654.4 596.9 1649.2 599.4 1644.1 602.1 1636.8 606.2 1636.3 607 1734.3 607 1733.8 606.2 1726.6 602.1 1721.5 599.4 1716.3 596.9 1705.5 592.7 1701.8 590.8 1696.1 585.9 1695.6 584.6 1695.3 579.1 1695.2 576.3 1695.2 572.3 1695.4 565.6 1695.5 558.8 1695.6 555.7 1695.8 552 1696.4 545.2 1696.7 539.2 1696.7 538.4 1696.7 531.7 1696.7 524.9 1696.7 522.7 1696.2 518.1 1694.5 511.3 1692.6 504.5 1692.5 504.1 1691.3 497.8 1690 491 1689 485.5 1688.8 484.2 1687.7 477.4 1686.6 470.7 1685.6 463.9z"/>
<path fill="#F8766D" d="M1243.1 781.7 1240.6 787.3 1240.3 787.9 1237.7 792.9 1234.3 798.5 1233.1 800.3 1229.8 804.1 1224 809.7 1220.7 812.7 1217.4 815.3 1209.6 820.9 1204.2 825.1 1202.3 826.5 1195 832.1 1193.3 835.4 1194 837.7 1199.1 843.3 1201.1 845.7 1203 848.9 1206.3 853.9 1206.8 854.5 1213.7 860.1 1216.6 862.2 1221.8 865.7 1228.9 870.4 1230.2 871.3 1238.4 876.9 1240.3 878.7 1242.4 881.8 1242.4 882.5 1242.4 886.9 1241.7 888.1 1239.3 890 1231.9 893.7 1228.9 895.2 1222.8 899.3 1222.3 900 1264.5 900 1264 899.3 1257.8 895.2 1254.9 893.7 1247.5 890 1245.1 888.1 1244.4 886.9 1244.4 882.5 1244.4 881.8 1246.5 878.7 1248.3 876.9 1256.5 871.3 1257.8 870.4 1265 865.7 1270.2 862.2 1273.1 860.1 1280 854.5 1280.5 853.9 1283.7 848.9 1285.7 845.7 1287.7 843.3 1292.8 837.7 1293.5 835.4 1291.8 832.1 1284.5 826.5 1282.6 825.1 1277.2 820.9 1269.4 815.3 1266.1 812.7 1262.7 809.7 1256.9 804.1 1253.7 800.3 1252.5 798.5 1249.1 792.9 1246.5 787.9 1246.2 787.3 1243.7 781.7z"/>
<path fill="#A3A500" d="M1353 738.4 1347.9 744 1347.2 744.6 1337.3 749.6 1334.8 750.8 1325.7 755.2 1318.3 759 1314.8 760.8 1304.3 766.4 1303.2 768.3 1305 772 1311.7 777.6 1314.2 779.7 1318.7 783.2 1326.9 788.8 1330.7 792 1332.9 794.4 1337.4 800 1339.9 804.4 1340.5 805.6 1342.4 811.2 1344.1 816.8 1346 822.4 1347.8 828 1348.2 829.2 1349.5 833.6 1350.8 839.2 1351.3 841.6 1351.8 844.8 1352.6 850.4 1353 856 1353.7 856 1354.1 850.4 1354.9 844.8 1355.4 841.6 1355.9 839.2 1357.3 833.6 1358.5 829.2 1358.9 828 1360.7 822.4 1362.6 816.8 1364.3 811.2 1366.2 805.6 1366.8 804.4 1369.3 800 1373.8 794.4 1376 792 1379.8 788.8 1388 783.2 1392.6 779.7 1395 777.6 1401.7 772 1403.5 768.3 1402.4 766.4 1391.9 760.8 1388.4 759 1381 755.2 1371.9 750.8 1369.4 749.6 1359.5 744.6 1358.8 744 1353.7 738.4z"/>
<path fill="#00BF7D" d="M1460.9 766.3 1459.2 769.3 1458.7 772.6 1458.2 778.9 1457.8 783.8 1457.5 785.3 1456.1 791.6 1454.7 796.2 1453.9 797.9 1449.6 804.3 1449.5 804.4 1443.2 810.6 1436.1 816.8 1435.9 816.9 1429.3 823.3 1423.7 829.2 1423.3 829.6 1417.8 836 1414.4 841.6 1414.2 842.3 1412.8 847.7 1412.8 848.6 1414.1 855 1414.4 856 1419.5 861.3 1423.7 864.3 1430.1 867.6 1440.2 872.5 1442.7 874 1451.4 880.3 1451.6 880.8 1452.6 886.6 1452.6 886.9 1447.4 891.1 1444.6 893 1440.2 896.2 1438.2 899.3 1437.7 900 1488.2 900 1487.7 899.3 1485.6 896.2 1481.2 893 1478.4 891.1 1473.2 886.9 1473.2 886.6 1474.3 880.8 1474.4 880.3 1483.1 874 1485.6 872.5 1495.7 867.6 1502.1 864.3 1506.3 861.3 1511.4 856 1511.7 855 1513 848.6 1513 847.7 1511.7 842.3 1511.4 841.6 1508 836 1502.5 829.6 1502.1 829.2 1496.5 823.3 1489.9 816.9 1489.7 816.8 1482.6 810.6 1476.3 804.4 1476.2 804.3 1471.9 797.9 1471.2 796.2 1469.7 791.6 1468.3 785.3 1468.1 783.8 1467.6 778.9 1467.1 772.6 1466.6 769.3 1465 766.3z"/>
<path fill="#00B0F6" d="M1571.4 735.9 1567.9 738.4 1560.4 741.7 1558.6 742.5 1548.2 747.6 1542.1 750.8 1537.5 753.4 1528.7 759 1528.5 759.2 1523 765 1523 765.2 1526.2 770.8 1526.7 771.4 1531.1 776.6 1532.9 779.7 1533.5 782.5 1534.3 788.3 1534.9 792 1535.3 794.1 1536.6 799.9 1538 804.4 1538.6 805.7 1543.3 811.5 1546.3 814.7 1548.6 817.3 1554 823.2 1555.5 825.1 1558.5 829 1562.4 834.8 1562.8 835.4 1566.2 840.6 1569 845.7 1569.3 846.4 1571.4 852.2 1572.8 858.1 1573.4 858.1 1574.8 852.2 1576.9 846.4 1577.2 845.7 1579.9 840.6 1583.4 835.4 1583.8 834.8 1587.7 829 1590.6 825.1 1592.2 823.2 1597.6 817.3 1599.9 814.7 1602.8 811.5 1607.5 805.7 1608.2 804.4 1609.6 799.9 1610.9 794.1 1611.3 792 1611.8 788.3 1612.7 782.5 1613.3 779.7 1615.1 776.6 1619.5 771.4 1619.9 770.8 1623.2 765.2 1623.2 765 1617.6 759.2 1617.4 759 1608.7 753.4 1604 750.8 1597.9 747.6 1587.5 742.5 1585.8 741.7 1578.2 738.4 1574.7 735.9z"/>
<path fill="#FA62F8" d="M1682.5 728.1 1680.7 734.7 1678.7 738.4 1676.5 741.2 1670.5 746.7 1669.1 747.8 1660.8 754.4 1658.1 757 1655.2 761 1651.9 765.2 1648.2 767.6 1641.6 771.4 1638.3 774.2 1632.8 780.7 1632.7 781.7 1633.5 787.3 1634.4 790 1639.6 793.9 1647.8 798.2 1650.8 800.5 1658.5 807.1 1660.1 808.5 1665.5 813.7 1670.5 818.9 1671.7 820.2 1677.4 826.8 1678.7 829.2 1680.5 833.4 1681.4 837.4 1681.5 840 1681.8 846.6 1681.9 853.1 1682 859.7 1682 866.3 1683.7 866.3 1683.7 859.7 1683.8 853.1 1683.9 846.6 1684.2 840 1684.3 837.4 1685.2 833.4 1687 829.2 1688.3 826.8 1694 820.2 1695.2 818.9 1700.2 813.7 1705.5 808.5 1707.2 807.1 1714.9 800.5 1717.9 798.2 1726.1 793.9 1731.3 790 1732.2 787.3 1733 781.7 1732.8 780.7 1727.4 774.2 1724.1 771.4 1717.4 767.6 1713.8 765.2 1710.5 761 1707.6 757 1704.9 754.4 1696.6 747.8 1695.2 746.7 1689.2 741.2 1687 738.4 1685 734.7 1683.2 728.1z"/>
<path fill="#A3A500" d="M1351 975 1350.5 983.5 1349.6 990.5 1349.2 992.1 1345.1 998.7 1343.8 1000.6 1336.8 1009 1336.7 1009.2 1324.5 1017.3 1323.9 1017.7 1313.3 1026.3 1310 1029.7 1305.9 1034.8 1302.2 1042 1301.9 1043.4 1301.2 1048.2 1301.8 1051.9 1304.9 1058.5 1306 1060.5 1312.8 1069 1314.2 1070.9 1318.6 1077.6 1320.3 1081.2 1321.3 1086.1 1322.4 1091.6 1324.1 1094.7 1328.6 1099.8 1332.5 1103.2 1338.9 1108.1 1343.5 1111.7 1348.2 1116.3 1350.3 1120.3 1350.3 1120.4 1350.3 1128.8 1350.3 1134.9 1348.3 1137.4 1346.1 1139 1332.7 1145.2 1331.3 1145.9 1322.4 1151.4 1320.3 1154.5 1319.8 1155.5 1382.7 1155.5 1382.2 1154.5 1380.2 1151.4 1371.3 1145.9 1369.9 1145.2 1356.4 1139 1354.2 1137.4 1352.3 1134.9 1352.3 1128.8 1352.3 1120.4 1352.3 1120.3 1354.4 1116.3 1359 1111.7 1363.7 1108.1 1370.1 1103.2 1374 1099.8 1378.5 1094.7 1380.2 1091.6 1381.3 1086.1 1382.2 1081.2 1383.9 1077.6 1388.4 1070.9 1389.8 1069 1396.6 1060.5 1397.7 1058.5 1400.7 1051.9 1401.4 1048.2 1400.7 1043.4 1400.4 1042 1396.6 1034.8 1392.6 1029.7 1389.3 1026.3 1378.7 1017.7 1378.1 1017.3 1365.9 1009.2 1365.7 1009 1358.7 1000.6 1357.5 998.7 1353.4 992.1 1352.9 990.5 1352 983.5 1351.6 975.0z"/>
<path fill="#00BF7D" d="M1460.2 1012.1 1458 1018.9 1455.1 1025.5 1455 1025.7 1450.9 1032.5 1446.8 1037.9 1445.7 1039.2 1438.7 1046 1434.4 1050.3 1432.1 1052.8 1426.3 1059.6 1424.1 1062.7 1422 1066.4 1418.8 1073.1 1417.9 1075.1 1415.6 1079.9 1413 1086.7 1412.8 1087.4 1411.5 1093.5 1411.1 1097.7 1411.6 1100.3 1414.8 1106 1415.8 1107 1427.6 1113.8 1432.4 1116.3 1440.7 1120.6 1446.8 1124.6 1449.4 1127.4 1450.9 1130.8 1450.9 1134.1 1450.9 1135.9 1444.8 1139 1439.7 1140.9 1428.3 1145.2 1423.8 1147.7 1419 1151.4 1416.9 1154.5 1416.4 1155.5 1506.1 1155.5 1505.6 1154.5 1503.6 1151.4 1498.8 1147.7 1494.3 1145.2 1482.8 1140.9 1477.8 1139 1471.6 1135.9 1471.6 1134.1 1471.6 1130.8 1473.1 1127.4 1475.7 1124.6 1481.8 1120.6 1490.1 1116.3 1494.9 1113.8 1506.8 1107 1507.7 1106 1510.9 1100.3 1511.4 1097.7 1511 1093.5 1509.7 1087.4 1509.6 1086.7 1506.9 1079.9 1504.6 1075.1 1503.7 1073.1 1500.5 1066.4 1498.4 1062.7 1496.2 1059.6 1490.4 1052.8 1488.1 1050.3 1483.8 1046 1476.8 1039.2 1475.7 1037.9 1471.6 1032.5 1467.5 1025.7 1467.5 1025.5 1464.5 1018.9 1462.3 1012.1z"/>
<path fill="#00B0F6" d="M1568.8 1003.9 1565.3 1011 1564 1013.2 1560.1 1018.2 1552.8 1025.4 1552.7 1025.5 1543 1032.6 1536.2 1037.9 1534.5 1039.7 1528.8 1046.9 1526.9 1050.3 1525.1 1054.1 1522.5 1061.2 1522.1 1062.7 1521.1 1068.4 1521.1 1068.9 1523.4 1075.6 1526.9 1081.2 1527.8 1082.8 1532.8 1089.9 1537.2 1095.7 1538.2 1097.1 1543.5 1104.3 1546.5 1108.1 1549.2 1111.5 1555.2 1118.6 1556.8 1120.4 1562.5 1125.8 1565 1128.7 1567.7 1133 1568.1 1134.9 1568.1 1139 1567.6 1140.1 1564 1143.1 1560.2 1147.3 1558.8 1149.3 1556.8 1154.5 1556.3 1155.5 1586.2 1155.5 1585.7 1154.5 1583.6 1149.3 1582.2 1147.3 1578.4 1143.1 1574.9 1140.1 1574.3 1139 1574.3 1134.9 1574.8 1133 1577.4 1128.7 1580 1125.8 1585.7 1120.4 1587.3 1118.6 1593.3 1111.5 1596 1108.1 1598.9 1104.3 1604.2 1097.1 1605.3 1095.7 1609.6 1089.9 1614.7 1082.8 1615.6 1081.2 1619 1075.6 1621.4 1068.9 1621.4 1068.4 1620.3 1062.7 1620 1061.2 1617.4 1054.1 1615.6 1050.3 1613.6 1046.9 1608 1039.7 1606.3 1037.9 1599.5 1032.6 1589.8 1025.5 1589.6 1025.4 1582.4 1018.2 1578.4 1013.2 1577.1 1011 1573.7 1003.9z"/>
<path fill="#FA62F8" d="M1680 990.5 1678.8 998.3 1677.9 1002.8 1677.1 1006.1 1674.9 1013.9 1673.8 1017.3 1672.3 1021.7 1669.6 1027.6 1668.4 1029.5 1660.9 1037.3 1660.4 1037.9 1652.9 1045.1 1648 1050.3 1645.9 1052.9 1640.8 1060.8 1639.7 1062.7 1637.1 1068.6 1634.6 1075.1 1634 1076.4 1630.9 1084.2 1630.9 1085.4 1634.5 1092 1637.7 1095.7 1641.4 1099.8 1649.6 1107.6 1650 1108.1 1657.4 1115.4 1662.4 1120.4 1665.6 1123.2 1670.7 1128.7 1671.3 1131 1671.7 1133.8 1664.7 1138.9 1664.5 1139 1652.1 1145.2 1649.5 1146.7 1642.8 1151.4 1640.8 1154.5 1640.3 1155.5 1721.7 1155.5 1721.2 1154.5 1719.2 1151.4 1712.4 1146.7 1709.9 1145.2 1697.5 1139 1697.2 1138.9 1690.3 1133.8 1690.6 1131 1691.3 1128.7 1696.3 1123.2 1699.6 1120.4 1704.6 1115.4 1711.9 1108.1 1712.4 1107.6 1720.6 1099.8 1724.3 1095.7 1727.5 1092 1731.1 1085.4 1731 1084.2 1728 1076.4 1727.4 1075.1 1724.9 1068.6 1722.2 1062.7 1721.2 1060.8 1716.1 1052.9 1714 1050.3 1709.1 1045.1 1701.6 1037.9 1701.1 1037.3 1693.6 1029.5 1692.3 1027.6 1689.7 1021.7 1688.2 1017.3 1687.1 1013.9 1684.8 1006.1 1684.1 1002.8 1683.2 998.3 1682 990.5z"/>
</g>
<path d="M1130 99.3V324.5H1771" stroke="#111" stroke-width="5.4" fill="none" stroke-linejoin="miter"/>
<path d="M1129 383V607H1769" stroke="#111" stroke-width="5.4" fill="none" stroke-linejoin="miter"/>
<path d="M1135.5 674.5V900H1775" stroke="#111" stroke-width="5.4" fill="none" stroke-linejoin="miter"/>
<path d="M1136 930.6V1155.5H1779" stroke="#111" stroke-width="5.4" fill="none" stroke-linejoin="miter"/>
<text transform="translate(1052.5 107) scale(1 1.045)" font-size="106">B</text>
<text transform="translate(1480 105) scale(1 1.045)" text-anchor="middle" font-style="italic" font-size="65">Acta2</text>
<text transform="translate(1479.5 410) scale(1 1.045)" text-anchor="middle" font-style="italic" font-size="65">Ccl2</text>
<text transform="translate(1484 720.8) scale(1 1.045)" text-anchor="middle" font-style="italic" font-size="65">Col3a1</text>
<text transform="translate(1479 972) scale(1 1.045)" text-anchor="middle" font-style="italic" font-size="65">Col5a2</text>
<text transform="translate(1064 628) rotate(-90) scale(1 1.045)" text-anchor="middle" font-size="60">gene expression</text>
<text transform="translate(1179.2 1505) rotate(-74.7) scale(1 1.045)" font-size="60.3">resting HSC</text>
<text transform="translate(1330 1342.7) rotate(-75) scale(1 1.045)" font-size="60">MFB I</text>
<text transform="translate(1489.5 1188.3) scale(1 .87) rotate(-74.2) scale(1 1.09)" text-anchor="end" font-size="62.8">MFB II</text>
<text transform="translate(1552.3 1375.4) rotate(-74.7) scale(1 1.045)" font-size="60">MFB III</text>
<text transform="translate(1666.3 1386.4) rotate(-74.7) scale(1 1.045)" font-size="60">MFB IV</text>
</g>
<g id="panelC">
<g class="pts" filter="url(#b3)">
<g transform="translate(192.1 1590) scale(4.2)">
<path stroke="#969696" d="M9 47v1M11 42v1m0 28v1M12 87v1M13 71v1M14 59v1M16 57v1m0 12v1M17 62v1M18 34v2m0 2v1m0 26v1M19 42v1m0 26v1M20 67v1m0 14v1M21 55v1m0 12v1M22 41v1m0 3v1m0 56v1M23 38v1m0 21v1m0 1v1M24 69v1m0 6v1m0 2v1M25 67v1M26 84v1M27 65v1m0 11v1M28 70v1M29 48v1m0 13v1m0 1v1M30 53v1m0 17v1m0 10v1M31 34v1m0 45v1M32 55v1M33 44v1m0 5v1m0 6v1m0 2v1m0 21v1m0 19v1M34 47v1m0 22v1m0 8v1M35 36v1m0 8v1m0 31v1M36 42v1m0 7v1m0 13v1m0 3v1M37 60v1m0 13v1M38 43v1m0 22v2m0 10v1M39 45v1m0 19v2M40 55v1m0 25v1M41 66v1m0 29v1M42 53v1m0 1v1m0 2v1m0 24v1M43 34v1m0 15v1m0 12v1m0 1v1m0 6v1m0 11v1M44 34v1m0 38v1m0 2v1M45 57v1m0 23v1m0 2v1m0 10v1M46 49v1M47 71v1m0 2v1M48 43v1m0 8v1m0 25v1M49 92v1m0 7v1M50 46v1m0 23v1M51 54v1M52 33v1m0 47v1M53 53v1m0 41v1M54 46v1m0 21v1m0 2v1M55 59v1m0 5v1m0 18v1m0 1v1M56 37v1m0 34v1m0 22v1M57 60v1m0 4v1m0 2v1m0 1v1m0 4v1m0 1v1M58 70v1m0 10v1m0 8v1m0 1v1M59 60v1m0 11v1M61 57v1m0 1v1m0 19v1M62 60v1m0 27v1M63 52v1m0 1v1m0 4v1m0 11v1m0 12v1m0 5v1m0 4v1M64 48v1m0 27v1m0 14v1m0 5v1m0 1v1M65 65v1m0 4v1m0 1v1m0 8v1m0 5v1M66 64v1m0 8v1m0 25v1M67 81v1m0 1v1M68 45v1m0 18v1m0 5v1m0 6v1m0 3v1M69 71v1m0 22v1m0 4v1m0 1v1M71 66v1m0 7v1m0 3v2m0 15v1M72 85v2m0 1v1M73 45v1m0 27v1m0 23v1M74 57v1m0 30v1M75 68v1m0 24v1M76 76v1M77 88v1m0 2v1M79 79v1m0 4v1m0 1v1m0 10v1M80 60v1m0 2v1M81 37v1m0 24v1m0 2v1m0 20v1m0 4v2M82 72v1m0 10v1m0 13v1M83 45v1m0 21v1m0 24v1M84 61v1m0 19v1m0 5v1m0 2v1M85 79v1m0 6v1M86 71v1m0 2v2M87 39v1m0 7v1m0 15v1m0 12v1m0 9v1M89 50v1m0 21v1M90 64v1m0 8v1m0 9v1M91 74v1m0 9v1M92 64v1m0 21v1M93 77v1m0 2v1M94 60v1m0 21v1M95 51v1m0 4v1m0 21v1M96 50v1m0 3v1m0 31v1m0 1v1M97 76v1M98 63v1M101 84v1m0 6v1M102 66v1m0 11v1M103 57v1m0 19v1M104 81v1"/>
<path stroke="#444" d="M2 87v1M3 56v1M4 53v1M5 59v1m0 10v1M6 68v1M7 69v1M9 49v1m0 20v1M10 39v1M11 21v1m0 22v1m0 2v1m0 3v1m0 9v2M12 13v1m0 44v1M13 63v1m0 2v1M14 70v1m0 3v1M15 40v1m0 28v1m0 6v1M16 38v2m0 19v1m0 11v1M17 52v1m0 25v1M18 31v1m0 14v1m0 4v1m0 2v1M19 45v1M20 56v1m0 3v1m0 4v1m0 11v1M21 56v1m0 2v1m0 10v1M22 13v1m0 21v1m0 15v1m0 18v1m0 6v2M23 53v1M24 26v1m0 34v2m0 2v1m0 6v1m0 2v1M25 48v1m0 9v1m0 1v1m0 12v1M26 51v1m0 1v1m0 1v1m0 9v1m0 2v1m0 1v1m0 3v2M27 35v1m0 19v1m0 10v1m0 8v2m0 3v1m0 11v1M28 36v1m0 4v1m0 20v1m0 2v1m0 5v1m0 4v1m0 1v2m0 8v1M29 49v1m0 22v1m0 1v1M30 43v1m0 17v1m0 2v1m0 3v1m0 4v1M31 30v1m0 12v1m0 10v1m0 6v1m0 5v1m0 13v1m0 3v1m0 4v1m0 7v1M32 70v1m0 6v1m0 11v1M33 49v1m0 11v1m0 29v1M34 31v1m0 26v1m0 3v1m0 23v2M35 59v1m0 4v1m0 16v1M36 52v1m0 9v1m0 10v1m0 7v1M37 51v1m0 3v1m0 2v1m0 7v1m0 2v1m0 23v1m0 7v1M38 54v1m0 42v1M39 54v1m0 1v1m0 10v1m0 4v1m0 1v1m0 1v1m0 22v1M40 53v1m0 24v1m0 1v1m0 3v1M41 40v2m0 11v1m0 8v1m0 14v1m0 11v1M42 67v1M43 30v1m0 7v1m0 5v1m0 25v1m0 14v1m0 3v1M44 55v1m0 4v2m0 17v1M45 44v1m0 18v1m0 9v1M46 45v1m0 11v2m0 5v1m0 9v1M47 51v2m0 7v1m0 7v2m0 5v2m0 3v1m0 5v2m0 4v1M48 53v1m0 3v1m0 1v1m0 2v1m0 5v1m0 15v1M49 51v1m0 9v1m0 4v1M50 57v1m0 7v1m0 11v1m0 6v1M51 51v1m0 4v1m0 9v1m0 8v1M52 30v1m0 3v1m0 15v1m0 5v1m0 17v1m0 1v1m0 3v1m0 1v1m0 4v1m0 1v2M53 14v1m0 22v1m0 5v1m0 13v1m0 18v1m0 12v1m0 6v1M54 50v1m0 26v1m0 10v3M55 62v1m0 3v1m0 4v1M56 76v1m0 7v1M57 79v2m0 17v1M58 26v1m0 7v1m0 8v1m0 6v1m0 5v1m0 2v1m0 1v1m0 20v1m0 13v1m0 2v1M59 68v2m0 6v1M60 73v1m0 23v1M61 50v1m0 2v1m0 12v1m0 2v2M62 52v1m0 3v1m0 19v1m0 10v1M63 65v1m0 1v1m0 9v2M64 58v1m0 4v2m0 7v1m0 5v1m0 9v1m0 3v1M65 62v1m0 15v2m0 2v1m0 7v1M66 72v1m0 10v1m0 11v1M67 58v1m0 6v1m0 1v1m0 7v1m0 1v1M68 38v1m0 16v1m0 1v1m0 14v1m0 16v1m0 2v1m0 4v1m0 3v1M69 60v1m0 13v1m0 7v1M70 40v2m0 34v1M71 42v1m0 29v1m0 10v1m0 4v2m0 4v1M72 76v1M73 68v1m0 10v1m0 2v1m0 3v1M74 59v1m0 9v1m0 4v1M75 62v1m0 18v1M76 59v1m0 14v1m0 2v1m0 2v1m0 3v1M77 69v1m0 6v1m0 1v2m0 18v1m0 1v1M78 57v1m0 2v2m0 15v1m0 3v1m0 6v1M79 41v1m0 26v1m0 5v1M80 66v1m0 1v1m0 1v1m0 2v1m0 13v1M81 64v1m0 9v1M82 55v1m0 11v1m0 18v1M83 27v1m0 42v2m0 4v1m0 6v1M84 65v1m0 14v1M85 57v1m0 22v1m0 3v1m0 11v1M87 28v1m0 56v1M89 74v1m0 10v1m0 5v1M91 36v1m0 17v1m0 20v1m0 4v1m0 4v1m0 1v2m0 10v1M92 28v1m0 46v1m0 13v1M93 66v1m0 12v1m0 8v1M94 53v1m0 10v1m0 16v1M95 68v1m0 12v1m0 1v1M96 45v1m0 22v1M97 84v1M98 84v1m0 4v1M99 77v1m0 4v1M100 69v1m0 6v1m0 6v1M101 71v1m0 16v1M102 74v1m0 13v1M103 75v2m0 1v1m0 4v1M104 36v1M105 62v1m0 22v1M108 66v1M111 74v1M112 51v1m0 46v1M115 64v1M116 50v1M119 50v1M120 67v1M122 53v1"/>
<path stroke="#0e0e0e" d="M5 56v1M7 63v1M8 48v1m0 7v1M9 52v1m0 9v1m0 2v1M10 56v1m0 2v1m0 6v1m0 1v2m0 1v1m0 6v1M11 56v1m0 11v1M12 42v1m0 14v1m0 3v1m0 10v1m0 1v1M13 40v1m0 9v1m0 8v1m0 17v2M14 40v1m0 30v1M15 41v1m0 9v1m0 1v1m0 4v1m0 3v2M16 50v1m0 4v1m0 6v2m0 11v1M17 37v1m0 7v1m0 3v1m0 3v1m0 3v2M18 44v1m0 16v1m0 2v1m0 9v1m0 1v1M19 43v1m0 8v1m0 3v2m0 3v2m0 7v1m0 1v2m0 9v1M20 36v1m0 3v1m0 16v1m0 6v1m0 1v1M21 46v1m0 2v1m0 12v4m0 1v1m0 5v1m0 4v1m0 20v1M22 54v2m0 3v1m0 20v1M23 44v1m0 1v1m0 8v1m0 7v1m0 8v2m0 1v1m0 9v1M24 48v1m0 10v1m0 3v1m0 2v3M25 36v1m0 3v1m0 5v1m0 7v1m0 9v1m0 1v1m0 5v1M26 45v2m0 5v1m0 5v1m0 1v1m0 1v1m0 1v1m0 2v1m0 17v1M27 36v1m0 15v1m0 3v1m0 2v1m0 3v1m0 5v1m0 1v1M28 44v1m0 2v1m0 7v1m0 1v1m0 5v1m0 8v3m0 7v1M29 47v1m0 4v1m0 1v1m0 1v1m0 10v1m0 13v1M30 35v2m0 11v1m0 11v1M31 39v1m0 8v1m0 1v1m0 1v1m0 3v2m0 1v2m0 3v2m0 5v1m0 4v1m0 1v2m0 11v2M32 39v1m0 6v1m0 2v1m0 8v1m0 2v2m0 4v2m0 2v1m0 16v1m0 10v1M33 47v1m0 6v1m0 1v1m0 7v1m0 1v3m0 4v2m0 1v2m0 3v1m0 3v1m0 2v1M34 34v1m0 8v1m0 11v1m0 3v2m0 4v1m0 3v1m0 19v1M35 32v1m0 23v1m0 1v1m0 1v1m0 4v1m0 6v1m0 1v1m0 3v2M36 40v1m0 14v1m0 2v1m0 10v1m0 1v1m0 3v1m0 2v1m0 1v1m0 1v1m0 11v1M37 48v1m0 3v2m0 9v1m0 1v1m0 9v1m0 4v1m0 1v1M38 36v1m0 9v1m0 2v1m0 1v2m0 3v3m0 4v1m0 8v1m0 2v1M39 43v1m0 15v1m0 1v2m0 1v1m0 4v1m0 5v1m0 1v1M40 33v1m0 8v1m0 2v2m0 5v1m0 1v1m0 4v1m0 3v1m0 2v1m0 1v1m0 8v1m0 4v2M41 30v1m0 11v1m0 1v2m0 12v1m0 8v3m0 2v2m0 8v2M42 30v1m0 12v1m0 1v1m0 30v1m0 3v2M43 31v1m0 9v1m0 4v1m0 2v1m0 8v2m0 4v1m0 2v1m0 1v1m0 11v1m0 1v1m0 2v1M44 44v1m0 12v1m0 5v1m0 6v1m0 9v1m0 14v1M45 35v1m0 15v1m0 8v1m0 3v1m0 12v1M46 68v1m0 3v1m0 2v1m0 2v1m0 1v1m0 4v1M47 48v1m0 28v1m0 6v1m0 9v1m0 6v1M48 34v1m0 12v1m0 2v1m0 4v1m0 8v1m0 1v1m0 3v1m0 1v2m0 1v1m0 9v3M49 35v1m0 19v1m0 17v1m0 1v1m0 4v1m0 6v1m0 8v1M50 39v1m0 14v1m0 3v3m0 7v1m0 13v2m0 3v1m0 3v2M51 33v1m0 14v1m0 4v1m0 1v1m0 2v1m0 13v1m0 3v1m0 13v1m0 7v1m0 1v1M52 37v1m0 22v1m0 1v1m0 3v1m0 1v1m0 3v1m0 5v1m0 4v2m0 6v1m0 1v1M53 46v1m0 14v1m0 1v1m0 1v2m0 2v2m0 2v1m0 3v1m0 3v1m0 4v1m0 4v1M54 41v1m0 12v1m0 5v1m0 6v1m0 4v1m0 8v1m0 1v1m0 10v1m0 2v1M55 54v1m0 6v1m0 1v1m0 6v1m0 3v1m0 1v1m0 8v1m0 3v1M56 52v1m0 5v1m0 3v2m0 2v1m0 10v1m0 11v1m0 6v2M57 61v1m0 2v1m0 13v1m0 6v2m0 3v1M58 53v2m0 2v1m0 7v1m0 5v3m0 1v1m0 4v1m0 6v3M59 48v1m0 12v3m0 3v1m0 16v1m0 3v1m0 1v1m0 4v1M60 45v1m0 13v1m0 1v1m0 2v1m0 4v1m0 4v1m0 6v1m0 3v1m0 2v2M61 60v1m0 7v1m0 3v3m0 1v1m0 7v1m0 1v1m0 1v1M62 64v1m0 4v1m0 8v3m0 3v1m0 4v1m0 4v2M63 36v1m0 16v1m0 3v1m0 2v1m0 1v1m0 33v1m0 1v1M64 32v1m0 24v1m0 7v1m0 5v1m0 7v3m0 12v1M65 35v1m0 33v1m0 10v1m0 11v1M66 57v1m0 11v1m0 4v1m0 2v2m0 2v1m0 2v1m0 2v2m0 8v1M67 34v1m0 26v1m0 1v1m0 5v1m0 6v1m0 1v2m0 5v1m0 3v1m0 4v1M68 46v1m0 1v1m0 5v1m0 8v1m0 4v1m0 7v1m0 2v2m0 3v2M69 35v1m0 21v1m0 4v1m0 4v1m0 4v1m0 10v1m0 3v1m0 3v1m0 1v1m0 3v1M70 57v1m0 10v2m0 5v1m0 2v1m0 5v1m0 7v1M71 49v1m0 10v2m0 6v1m0 7v2m0 2v1m0 5v1m0 4v1m0 5v2M72 37v1m0 8v1m0 19v1m0 1v1m0 4v1m0 4v2m0 1v1m0 1v1m0 11v1m0 2v1m0 1v1M73 57v1m0 5v1m0 2v1m0 8v1m0 7v1m0 3v1m0 2v1M74 56v1m0 14v1m0 12v1m0 6v1m0 1v1m0 2v1M75 53v1m0 22v2m0 1v2m0 4v1m0 1v3m0 6v1M76 71v1m0 9v2m0 2v1m0 2v1M77 63v1m0 21v2M78 54v1m0 7v1m0 11v1m0 11v1m0 5v1m0 3v1M79 40v1m0 20v1m0 4v1m0 3v2m0 5v1m0 2v2m0 3v1m0 1v1m0 2v2m0 4v1M80 46v1m0 9v1m0 21v1m0 3v1m0 8v1M81 59v1m0 7v1m0 2v1m0 2v1m0 1v1m0 5v1m0 2v2m0 1v2m0 1v1M82 38v1m0 35v1m0 6v1m0 2v1m0 13v1M83 84v1m0 4v3m0 9v1M84 42v1m0 1v1m0 5v1m0 8v1m0 14v2m0 3v1m0 8v1m0 2v1m0 5v1m0 3v1M85 50v1m0 4v1m0 7v1m0 7v1m0 3v1m0 12v1m0 6v1M86 55v1m0 12v1m0 13v1m0 5v1m0 5v1M87 61v1m0 9v1m0 1v1m0 4v1m0 4v1m0 3v2m0 3v1m0 3v1M88 43v1m0 20v1m0 25v1m0 4v1M89 49v1m0 17v1m0 12v1m0 3v1m0 4v1M90 49v1m0 32v1m0 1v1m0 9v1M91 47v1m0 5v1m0 35v1m0 3v1M92 51v1m0 26v1m0 2v1m0 5v1M93 67v1m0 23v1m0 5v1M94 75v1m0 1v1m0 7v1M95 45v1m0 18v1m0 6v1m0 18v1m0 1v1M96 58v1M97 47v1m0 17v1m0 11v1m0 13v1M98 69v1m0 4v1m0 8v1m0 7v1M99 64v1m0 9v1M100 68v1m0 8v1m0 2v1M101 60v1m0 1v2m0 8v1m0 10v1m0 8v1M102 54v1m0 15v1m0 4v1M103 87v1M104 57v1m0 20v1M106 79v1M110 73v1"/>
</g>
<g transform="translate(1102.1 1590) scale(4.2)">
<path stroke="#ffaaaa" d="M7 42v1M8 55v1M9 36v1m0 2v1m0 3v1M10 22v1m0 7v1m0 2v1m0 21v1M11 25v1m0 1v1m0 12v1m0 7v1m0 3v1M12 23v1m0 10v1m0 14v1m0 5v1m0 3v1M13 23v2m0 15v1m0 2v1m0 17v1M14 23v1m0 6v1m0 1v1m0 8v1m0 2v1m0 3v1m0 4v1m0 3v1M15 22v2m0 14v1m0 10v1m0 13v1m0 2v1m0 2v1M16 25v1m0 10v1m0 12v1m0 12v1M17 30v1m0 13v2m0 4v1m0 18v1M18 27v1m0 7v1m0 7v1m0 7v1M19 63v1m0 6v1M20 31v2m0 16v1m0 2v1m0 1v1m0 1v1m0 3v1M21 20v2m0 5v1m0 16v1m0 12v1m0 9v1M22 25v2m0 1v2m0 19v1m0 15v1m0 4v1M23 26v1m0 4v1m0 10v1m0 5v1m0 5v1m0 11v2M24 20v1m0 22v1m0 9v1m0 12v1M25 20v1m0 1v1m0 14v1m0 22v1m0 9v1m0 8v1M26 25v2m0 7v1m0 1v1m0 1v2m0 3v2m0 9v1M27 29v1m0 5v1m0 11v1m0 9v1m0 10v1m0 6v1M28 23v1m0 8v1m0 5v1m0 3v1m0 18v1M29 21v1m0 1v1m0 4v1m0 1v1m0 8v2M30 23v1m0 4v1m0 10v1m0 5v1m0 1v1m0 1v1m0 9v1M31 36v1m0 4v1m0 1v1m0 1v1m0 2v1m0 7v1m0 5v1M32 24v1m0 1v2m0 2v1m0 25v1m0 23v1M33 16v1m0 2v1m0 13v1m0 7v1m0 8v1m0 1v1m0 18v1m0 13v1m0 1v1M34 24v1m0 4v1m0 17v1m0 3v1m0 17v1m0 16v1M35 25v2m0 2v1m0 6v1m0 1v1m0 8v1m0 3v1m0 6v1m0 6v1M36 31v1m0 3v1m0 1v2m0 34v1M37 36v1m0 6v1M38 30v1m0 1v2m0 3v1m0 6v1m0 15v1m0 8v1m0 7v1M39 28v1m0 7v1m0 8v1m0 5v1m0 19v1m0 4v1m0 9v1M40 33v1m0 3v1m0 1v1m0 3v1m0 5v1m0 5v1m0 13v1M41 28v1m0 5v1m0 3v1m0 6v1m0 1v1M42 30v1m0 5v1m0 2v1M43 29v1m0 3v2m0 4v1m0 20v1m0 15v1m0 9v1M44 24v1m0 2v2m0 8v1m0 1v2M45 67v1M46 27v1m0 2v1m0 6v1m0 8v1m0 4v1m0 1v1m0 19v1M47 35v1m0 19v1M48 22v1m0 10v1m0 7v1m0 2v1m0 16v1m0 5v1m0 18v1M49 26v1m0 6v1m0 1v1m0 40v1M50 30v2m0 2v2m0 6v1m0 4v1m0 7v1m0 3v1m0 13v1m0 2v1M51 28v1m0 3v1m0 2v1m0 4v2m0 2v1M52 26v1m0 1v1m0 15v1m0 2v1m0 6v1M53 25v1m0 3v1m0 1v1m0 10v2m0 5v2m0 3v1m0 2v1m0 4v1m0 26v1M54 26v1m0 3v2m0 2v1m0 3v1M55 40v2M56 30v1m0 17v2m0 2v2m0 12v1m0 1v1m0 10v1M57 30v1m0 4v3m0 26v1m0 22v1M58 24v1m0 7v2m0 1v1m0 7v1m0 1v1m0 1v1m0 10v1m0 25v1M59 26v1m0 15v1m0 11v1M60 45v2m0 7v1m0 1v1m0 3v1m0 11v1M61 30v2m0 6v1m0 4v1m0 8v1M62 25v1m0 16v1m0 1v1m0 8v1m0 1v1M63 20v1m0 9v1m0 2v1m0 5v1m0 5v1m0 5v1m0 9v1m0 5v1m0 2v1M64 25v1m0 11v1m0 18v1m0 6v1M65 28v1m0 23v1m0 20v1M66 33v1m0 14v1m0 17v1m0 8v1m0 12v1M67 20v1m0 12v1m0 16v1m0 1v1m0 12v2m0 7v1M68 23v1m0 5v1m0 7v1M69 26v2M70 17v2m0 13v1m0 5v1m0 2v1m0 7v1m0 8v1M71 32v2m0 1v1m0 10v1m0 6v1m0 3v1M72 25v1m0 3v1m0 8v1m0 2v1m0 3v1m0 22v2M73 27v1m0 5v1m0 15v1m0 2v1m0 5v1m0 7v1m0 8v1M74 33v1m0 2v1m0 3v1m0 1v1m0 1v1m0 12v1m0 18v1m0 4v1M75 25v1m0 12v1m0 1v2m0 5v1m0 14v1m0 19v1M76 25v1m0 12v1m0 28v1m0 12v1M77 23v1m0 8v1m0 17v1m0 26v1M78 44v1m0 32v1M79 51v1M80 31v1m0 2v1m0 18v1m0 10v1m0 1v1M81 63v1M82 21v1m0 8v1m0 17v2m0 29v1M83 24v1m0 1v1M84 24v1m0 12v1m0 27v1M85 43v1m0 6v1m0 4v1M86 44v2m0 30v1M87 25v1m0 9v1m0 20v1m0 7v2M89 25v1m0 14v1m0 12v1M90 45v1m0 29v1M91 44v1M92 44v1m0 11v1m0 10v1M93 40v1m0 8v1m0 12v1M94 30v1m0 6v2M95 25v1m0 47v1M96 39v1m0 30v1M98 30v1m0 3v1m0 7v1M99 23v1M100 54v1M102 60v1M105 41v1m0 19v1M107 54v1M108 35v1M110 34v1m0 2v1m0 16v1M111 47v1M115 47v1M116 44v1M117 37v1"/>
<path stroke="#ff5e5e" d="M4 22v1m0 22v1M5 48v1M6 40v1M8 31v1m0 4v1m0 21v1M9 27v1m0 2v1m0 4v1m0 12v1M10 29v1m0 6v1M11 22v1m0 12v1M12 35v1m0 9v1m0 11v1M13 25v1m0 7v1m0 7v1m0 6v1m0 3v1M14 10v1m0 13v2m0 2v1m0 5v1m0 10v1M15 27v1m0 1v4m0 1v1m0 4v1M16 21v1m0 6v1m0 4v1m0 11v1m0 6v1m0 22v1M17 28v1m0 4v1m0 1v1m0 4v1m0 34v1m0 2v1M18 30v1m0 2v1m0 3v1m0 40v1M19 22v1m0 4v1m0 8v1m0 2v1m0 1v1m0 2v1m0 8v1m0 4v1m0 8v1M20 23v1m0 10v2m0 1v1m0 5v1m0 2v1m0 8v1M21 23v1m0 1v1m0 2v2m0 3v1m0 1v1m0 1v2m0 33v1M22 20v1m0 20v3m0 10v1m0 31v1M23 33v2m0 9v2m0 35v1M24 34v3m0 2v1m0 1v1M25 26v1m0 3v1m0 7v1m0 1v1m0 13v1m0 1v1M26 22v1m0 6v1m0 5v1m0 1v1m0 2v1m0 9v1m0 30v1M27 18v1m0 8v1m0 6v1m0 10v1M28 24v1m0 1v1m0 4v1m0 2v2m0 1v1m0 1v1m0 3v1m0 18v1m0 4v1M29 27v1m0 14v1m0 1v1m0 20v1m0 5v1m0 2v1M30 25v1m0 1v1m0 7v1m0 5v1m0 40v1m0 2v1M31 25v1m0 5v1m0 7v1m0 2v1m0 16v1m0 30v1M32 32v1m0 1v1m0 1v1m0 6v2m0 2v1m0 1v1m0 4v2m0 2v1m0 8v1M33 21v1m0 2v1m0 9v2m0 15v1M34 21v1m0 14v2m0 1v1m0 1v1m0 18v1M35 16v1m0 4v2m0 10v1m0 12v1m0 41v1M36 27v1m0 2v1m0 2v1m0 7v2m0 6v1m0 27v1M37 27v1m0 5v1m0 5v1M38 25v1m0 10v1m0 9v1m0 1v1m0 13v1m0 33v1M39 19v1m0 3v2m0 5v1m0 12v1m0 8v1m0 1v1m0 17v1M40 40v1m0 7v1m0 22v1m0 11v1M41 39v1m0 2v1m0 5v1m0 2v1M42 21v2m0 6v1m0 2v1m0 2v1m0 18v1m0 6v1M43 31v1m0 8v1m0 41v1M44 32v3m0 8v1M45 13v1m0 24v1m0 1v1m0 22v1m0 7v1M46 29v1m0 14v1m0 7v1m0 3v1m0 18v1M47 31v1m0 11v1m0 7v1m0 1v1m0 6v1M48 32v1m0 1v2m0 2v1M49 20v1m0 3v1m0 12v1m0 4v1m0 1v1m0 7v1m0 21v1M50 13v1m0 14v1m0 12v1m0 3v1m0 3v1m0 39v1M51 34v1m0 3v1m0 16v1m0 6v1M52 25v1m0 1v1m0 3v1m0 1v1m0 4v1m0 3v1M53 30v1m0 6v1M54 40v1m0 8v1M55 42v1m0 7v1M56 38v1m0 2v1m0 4v1m0 17v1m0 15v1M57 20v1m0 3v1m0 15v1m0 1v1m0 12v1M58 40v1m0 26v1M59 25v1m0 12v1m0 2v1m0 25v1M60 11v1m0 14v1m0 1v1M61 32v1m0 16v1m0 6v1m0 20v1M62 23v2m0 3v1m0 3v2m0 11v1M63 10v1m0 23v1M64 54v1m0 2v2m0 33v1M65 30v1m0 3v1M66 56v1M67 31v2m0 9v1m0 11v1m0 3v1M68 28v1m0 5v1m0 9v1m0 3v1M69 29v1m0 24v1m0 12v1m0 3v1m0 6v1M70 28v1m0 2v1m0 44v1m0 3v1M71 28v1m0 7v1m0 6v1M72 31v1m0 8v1m0 3v1m0 18v1M73 36v1m0 26v1m0 4v1m0 9v1M74 25v1m0 5v1m0 6v1m0 4v1m0 34v1M75 45v1m0 24v1M76 30v1m0 4v1m0 5v1m0 24v1M77 29v1m0 3v2m0 40v1m0 5v1M78 49v2m0 10v1M79 62v1M80 23v1m0 35v1M81 36v1m0 28v1M82 25v1m0 12v1M83 11v1m0 19v1m0 15v1M84 31v1m0 1v1M85 33v1m0 29v1m0 9v1M86 53v1M87 33v1m0 33v1m0 2v1m0 3v1M89 22v1m0 16v1M91 32v1m0 13v1m0 19v1M92 28v1m0 46v1M96 28v2m0 41v1M99 26v1m0 5v1m0 33v1M100 36v1M101 61v1M102 35v1m0 16v1M103 61v1M104 61v1M105 66v1M107 30v1M108 44v1M109 33v1M110 24v1M111 41v1M113 65v1M115 31v1M116 40v1m0 6v1M117 34v1m0 19v1"/>
<path stroke="#ff1c1c" d="M6 46v1M8 30v1M9 33v1M10 28v1m0 9v1m0 24v1M11 23v1m0 5v1m0 4v1m0 18v1m0 2v1M12 20v1m0 5v1m0 2v1m0 1v1m0 1v1m0 3v1M13 22v1m0 3v1m0 11v1m0 5v1M14 20v1m0 12v1m0 2v1m0 2v1M15 25v1m0 2v1m0 4v1m0 2v2m0 2v1m0 5v1M16 26v1m0 2v2m0 1v1m0 1v1m0 2v2m0 4v1m0 3v1M17 29v1m0 2v1m0 3v1m0 2v1m0 20v1M18 25v1m0 3v1m0 2v1m0 5v2M19 25v1m0 4v2m0 2v1m0 3v1m0 3v1M20 21v1m0 2v1m0 8v1m0 2v1m0 1v1M21 32v1m0 1v1m0 1v1m0 3v2M22 24v1m0 8v2m0 3v1m0 7v1m0 3v1M23 29v1m0 5v3m0 2v1m0 35v1M24 32v1m0 4v2m0 1v1m0 6v1m0 9v1m0 6v1M25 29v1m0 5v1m0 3v1m0 2v1m0 1v1m0 16v1M26 31v1m0 1v1m0 8v1m0 3v1m0 13v1M27 28v1m0 1v1m0 1v1m0 5v1m0 3v1m0 6v1M28 25v1m0 7v1m0 2v1m0 3v1M29 31v1m0 4v1m0 8v1m0 1v1M30 30v1m0 5v2m0 12v1M31 37v1m0 2v1m0 3v1m0 22v1M32 22v1m0 5v1m0 6v1M33 29v1m0 14v1m0 1v2m0 21v1M34 25v1m0 2v1m0 1v1m0 4v1m0 6v1m0 1v1M35 18v1m0 26v1M36 24v1m0 7v1m0 1v1m0 1v1m0 10v1M37 47v1m0 3v1m0 4v1M38 15v1m0 12v1m0 2v1m0 8v2M39 31v1m0 2v1m0 5v1m0 1v1M40 27v3m0 11v1m0 2v1M41 24v1m0 1v1m0 4v3m0 2v1m0 6v1M42 33v1m0 18v1M43 32v1m0 2v1m0 1v1m0 6v1M44 25v1m0 5v1m0 6v1M45 20v1m0 6v1m0 2v1m0 1v1m0 1v2m0 5v1m0 7v1M46 35v1m0 5v1m0 13v1M47 27v1m0 18v1m0 33v1M48 31v1m0 5v1m0 1v2m0 1v1m0 20v2m0 16v1M49 32v1m0 5v1M50 32v1m0 47v1M51 31v1m0 1v1m0 3v1m0 9v1M52 29v1m0 5v2M53 33v2m0 4v1m0 28v1M54 27v2m0 4v1M55 30v1m0 2v1m0 2v1m0 9v2m0 12v1M56 25v2m0 10v1M57 32v1m0 48v1M58 39v1M59 31v1m0 2v1m0 14v1m0 1v1m0 20v1m0 8v1M60 32v1m0 2v2m0 4v2m0 9v1M61 36v1m0 3v1m0 3v1M62 19v1m0 14v1m0 12v1M63 19v1m0 12v1M64 38v1m0 30v1M65 22v1m0 2v1m0 9v1m0 7v1M66 42v1m0 16v1m0 14v1M67 19v1m0 17v1m0 1v1m0 1v1M68 36v1M69 18v1m0 4v1m0 14v1m0 4v1m0 9v1M70 29v1M71 16v1m0 27v1M72 32v1m0 2v1M73 41v1m0 28v1M74 28v1m0 20v1M75 60v1M76 44v1m0 6v1M77 42v1M78 23v1m0 22v1M79 34v1M82 65v1M84 28v1m0 12v1M85 22v1M86 71v1M87 31v1M88 56v1M89 32v1M91 35v1M92 26v1M93 33v1m0 7v1M94 62v1M95 33v1M98 67v1M99 65v1M100 31v1M110 53v1"/>
</g>
</g>
<g fill="none" filter="url(#b3)">
<path stroke="#0a0a0a" stroke-width="5" d="M156.6 1716V2011"/>
<path stroke="#666" stroke-width="5" d="M156.6 1664.0v3.5M156.6 1672.0v3.5M156.6 1680.0v3.5M156.6 1688.0v3.5M156.6 1696.0v3.5M156.6 1704.0v3.5M156.6 1708.0v3.5M156.6 1595v4M156.6 2011v4"/>
<path stroke="#1a1a1a" stroke-width="4.2" d="M234.0 2088h40.0M277.0 2088h40.0M317.0 2088h16.0M336.0 2088h24.0M360.0 2088h24.0M384.0 2088h16.0M400.0 2088h12.0M412.0 2088h12.0M424.0 2088h8.0M432.0 2088h12.0M444.0 2088h16.0M463.0 2088h12.0M475.0 2088h16.0M510.0 2088h8.0M518.0 2088h16.0M534.0 2088h8.0M542.0 2088h32.0M569 2087.5h6"/>
<path stroke="#060606" stroke-width="5.6" stroke-linecap="round" d="M224.4 2012.5L404 1817.5"/>
<path stroke="#101010" stroke-width="5" stroke-linecap="round" d="M229.9 1962.9L300 1835M234 1924.4L289 1825.4M229.2 1909.3L275.3 1825.4"/>
<path stroke="#262626" stroke-width="4.2" stroke-dasharray="9 3 14 4 6 3" d="M231.3 1885.9L267 1825.4M302.8 1957.4L396.3 1888.7M286.3 1991.8L327.6 1957.4M333 1963L382.6 1932.7"/>
<path stroke="#444" stroke-width="4" stroke-dasharray="5 3 8 4" d="M264.3 1936.8L297.3 1876.3M312.4 1994.6L326.2 1983.6M269.8 2005.6L278 2000M340 1990L372 1962M246 1890L262 1862"/>
<path stroke="#888" stroke-width="4.6" d="M154 2088h5M589 2088h3.5M594 2088h3.5M599 2088h3.5M604 2088h3.5M610 2088h3.5M615 2088h3.5M637 2088h3.5M685 2088h3.5"/>
<path stroke="#ff0808" stroke-width="6" d="M1048 1660V1958"/>
<path stroke="#ff7070" stroke-width="5.5" d="M1048 1594.0v3.5M1048 1598.0v3.5M1048 1602.0v3.5M1048 1606.0v3.5M1048 1614.0v3.5M1048 1622.0v3.5M1048 1630.0v3.5M1048 1634.0v3.5M1048 1642.0v3.5M1048 1658.0v3.5M1048 1958.0v3.5M1048 1962.0v3.5M1048 1966.0v3.5M1048 1970.0v3.5M1048 1974.0v3.5M1048 1978.0v3.5M1048 1982.0v3.5M1048 1986.0v3.5M1048 1990.0v3.5M1048 1994.0v3.5M1048 1998.0v3.5M1048 2002.0v3.5"/>
<path stroke="#ff7070" stroke-width="5" d="M1045.5 2088.7h5M1219.5 2088.7h5M1352.1 2088.7h5M1443.7 2088.7h5"/>
</g>
<g filter="url(#b2)">
<path d="M135.4 1611V2105H698.8" stroke="#555" stroke-width="4" fill="none"/>
<path d="M135.4 1583.5L146.1 1613L135.4 1610.5L124.7 1613Z" fill="#000"/>
<path d="M725.8 2105L697.3 2094.3L699.8 2105L697.3 2115.7Z" fill="#000"/>
<path d="M1028.5 1611V2105H1590.6" stroke="#555" stroke-width="4" fill="none"/>
<path d="M1028.5 1583.5L1039.2 1613L1028.5 1610.5L1017.8 1613Z" fill="#000"/>
<path d="M1617.6 2105L1589.1 2094.3L1591.6 2105L1589.1 2115.7Z" fill="#000"/>
<text transform="translate(40 1572.5) scale(1 1.045)" font-size="106">C</text>
<text transform="translate(414.5 1574) scale(1 1.07)" text-anchor="middle" font-size="60">HSC</text>
<text transform="translate(1338.6 1574) scale(1 1.07)" text-anchor="middle" font-size="60">MFB</text>
<text transform="translate(161 2174) scale(1 1.045)" font-style="italic" font-size="59.5">Ccl2</text>
<text transform="translate(1053.5 2174.5) scale(1 1.045)" font-style="italic" font-size="59.5">Ccl2</text>
<text transform="translate(117 2094.5) rotate(-90) scale(1 1.045)" font-style="italic" font-size="59.5">Col3a1</text>
<text transform="translate(1009.5 2095) rotate(-90) scale(1 1.045)" font-style="italic" font-size="60">Col3a1</text>
</g></g>
</svg>
</body>
</html>
